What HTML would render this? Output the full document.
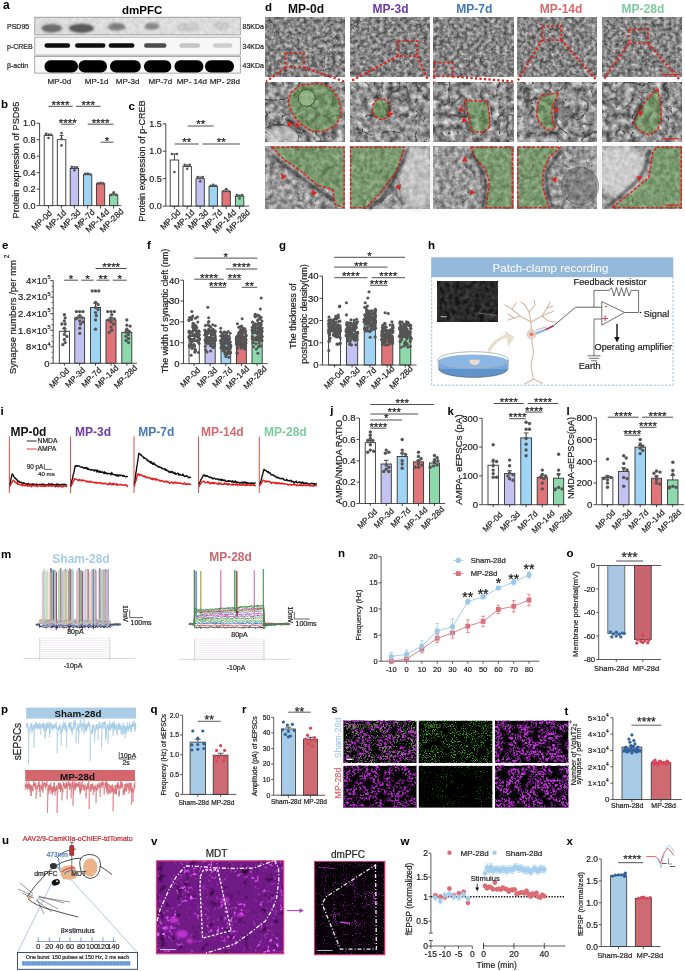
<!DOCTYPE html>
<html><head><meta charset="utf-8"><style>
html,body{margin:0;padding:0;background:#fff;}
svg{display:block;font-family:"Liberation Sans", sans-serif;filter:blur(0.35px);}
</style></head><body>
<svg width="685" height="971" viewBox="0 0 685 971">
<defs>
<filter id="blur05" x="-50%" y="-50%" width="200%" height="200%"><feGaussianBlur stdDeviation="0.5"/></filter>
<filter id="blur1" x="-50%" y="-50%" width="200%" height="200%"><feGaussianBlur stdDeviation="1.2"/></filter>
<filter id="blur2" x="-50%" y="-50%" width="200%" height="200%"><feGaussianBlur stdDeviation="3"/></filter>
<filter id="em10" x="0" y="0" width="100%" height="100%" color-interpolation-filters="sRGB"><feTurbulence type="fractalNoise" baseFrequency="0.25" numOctaves="4" seed="11" result="a"/><feColorMatrix in="a" type="matrix" values="0.8 0 0 0 0.130 0.8 0 0 0 0.130 0.8 0 0 0 0.130 0 0 0 0 1" result="base"/><feTurbulence type="turbulence" baseFrequency="0.12" numOctaves="2" seed="61" result="t"/><feColorMatrix in="t" type="matrix" values="0 0 0 0 0.25 0 0 0 0 0.25 0 0 0 0 0.25 -7 0 0 0 0.7" result="lines"/><feComposite in="lines" in2="base" operator="over"/></filter>
<filter id="em20" x="0" y="0" width="100%" height="100%" color-interpolation-filters="sRGB"><feTurbulence type="fractalNoise" baseFrequency="0.16" numOctaves="4" seed="21" result="a"/><feColorMatrix in="a" type="matrix" values="0.9 0 0 0 0.120 0.9 0 0 0 0.120 0.9 0 0 0 0.120 0 0 0 0 1" result="base"/><feTurbulence type="turbulence" baseFrequency="0.06" numOctaves="2" seed="71" result="t"/><feColorMatrix in="t" type="matrix" values="0 0 0 0 0.22 0 0 0 0 0.22 0 0 0 0 0.22 -8 0 0 0 0.9" result="lines"/><feComposite in="lines" in2="base" operator="over"/></filter>
<filter id="em30" x="0" y="0" width="100%" height="100%" color-interpolation-filters="sRGB"><feTurbulence type="fractalNoise" baseFrequency="0.2" numOctaves="4" seed="31" result="a"/><feColorMatrix in="a" type="matrix" values="0.7 0 0 0 0.250 0.7 0 0 0 0.250 0.7 0 0 0 0.250 0 0 0 0 1" result="base"/><feTurbulence type="turbulence" baseFrequency="0.03" numOctaves="2" seed="81" result="t"/><feColorMatrix in="t" type="matrix" values="0 0 0 0 0.2 0 0 0 0 0.2 0 0 0 0 0.2 -6 0 0 0 0.5" result="lines"/><feComposite in="lines" in2="base" operator="over"/></filter>
<filter id="em11" x="0" y="0" width="100%" height="100%" color-interpolation-filters="sRGB"><feTurbulence type="fractalNoise" baseFrequency="0.25" numOctaves="4" seed="12" result="a"/><feColorMatrix in="a" type="matrix" values="0.8 0 0 0 0.130 0.8 0 0 0 0.130 0.8 0 0 0 0.130 0 0 0 0 1" result="base"/><feTurbulence type="turbulence" baseFrequency="0.12" numOctaves="2" seed="62" result="t"/><feColorMatrix in="t" type="matrix" values="0 0 0 0 0.25 0 0 0 0 0.25 0 0 0 0 0.25 -7 0 0 0 0.7" result="lines"/><feComposite in="lines" in2="base" operator="over"/></filter>
<filter id="em21" x="0" y="0" width="100%" height="100%" color-interpolation-filters="sRGB"><feTurbulence type="fractalNoise" baseFrequency="0.16" numOctaves="4" seed="22" result="a"/><feColorMatrix in="a" type="matrix" values="0.9 0 0 0 0.120 0.9 0 0 0 0.120 0.9 0 0 0 0.120 0 0 0 0 1" result="base"/><feTurbulence type="turbulence" baseFrequency="0.06" numOctaves="2" seed="72" result="t"/><feColorMatrix in="t" type="matrix" values="0 0 0 0 0.22 0 0 0 0 0.22 0 0 0 0 0.22 -8 0 0 0 0.9" result="lines"/><feComposite in="lines" in2="base" operator="over"/></filter>
<filter id="em31" x="0" y="0" width="100%" height="100%" color-interpolation-filters="sRGB"><feTurbulence type="fractalNoise" baseFrequency="0.2" numOctaves="4" seed="32" result="a"/><feColorMatrix in="a" type="matrix" values="0.7 0 0 0 0.250 0.7 0 0 0 0.250 0.7 0 0 0 0.250 0 0 0 0 1" result="base"/><feTurbulence type="turbulence" baseFrequency="0.03" numOctaves="2" seed="82" result="t"/><feColorMatrix in="t" type="matrix" values="0 0 0 0 0.2 0 0 0 0 0.2 0 0 0 0 0.2 -6 0 0 0 0.5" result="lines"/><feComposite in="lines" in2="base" operator="over"/></filter>
<filter id="em12" x="0" y="0" width="100%" height="100%" color-interpolation-filters="sRGB"><feTurbulence type="fractalNoise" baseFrequency="0.25" numOctaves="4" seed="13" result="a"/><feColorMatrix in="a" type="matrix" values="0.8 0 0 0 0.130 0.8 0 0 0 0.130 0.8 0 0 0 0.130 0 0 0 0 1" result="base"/><feTurbulence type="turbulence" baseFrequency="0.12" numOctaves="2" seed="63" result="t"/><feColorMatrix in="t" type="matrix" values="0 0 0 0 0.25 0 0 0 0 0.25 0 0 0 0 0.25 -7 0 0 0 0.7" result="lines"/><feComposite in="lines" in2="base" operator="over"/></filter>
<filter id="em22" x="0" y="0" width="100%" height="100%" color-interpolation-filters="sRGB"><feTurbulence type="fractalNoise" baseFrequency="0.16" numOctaves="4" seed="23" result="a"/><feColorMatrix in="a" type="matrix" values="0.9 0 0 0 0.120 0.9 0 0 0 0.120 0.9 0 0 0 0.120 0 0 0 0 1" result="base"/><feTurbulence type="turbulence" baseFrequency="0.06" numOctaves="2" seed="73" result="t"/><feColorMatrix in="t" type="matrix" values="0 0 0 0 0.22 0 0 0 0 0.22 0 0 0 0 0.22 -8 0 0 0 0.9" result="lines"/><feComposite in="lines" in2="base" operator="over"/></filter>
<filter id="em32" x="0" y="0" width="100%" height="100%" color-interpolation-filters="sRGB"><feTurbulence type="fractalNoise" baseFrequency="0.2" numOctaves="4" seed="33" result="a"/><feColorMatrix in="a" type="matrix" values="0.7 0 0 0 0.250 0.7 0 0 0 0.250 0.7 0 0 0 0.250 0 0 0 0 1" result="base"/><feTurbulence type="turbulence" baseFrequency="0.03" numOctaves="2" seed="83" result="t"/><feColorMatrix in="t" type="matrix" values="0 0 0 0 0.2 0 0 0 0 0.2 0 0 0 0 0.2 -6 0 0 0 0.5" result="lines"/><feComposite in="lines" in2="base" operator="over"/></filter>
<filter id="em13" x="0" y="0" width="100%" height="100%" color-interpolation-filters="sRGB"><feTurbulence type="fractalNoise" baseFrequency="0.25" numOctaves="4" seed="14" result="a"/><feColorMatrix in="a" type="matrix" values="0.8 0 0 0 0.130 0.8 0 0 0 0.130 0.8 0 0 0 0.130 0 0 0 0 1" result="base"/><feTurbulence type="turbulence" baseFrequency="0.12" numOctaves="2" seed="64" result="t"/><feColorMatrix in="t" type="matrix" values="0 0 0 0 0.25 0 0 0 0 0.25 0 0 0 0 0.25 -7 0 0 0 0.7" result="lines"/><feComposite in="lines" in2="base" operator="over"/></filter>
<filter id="em23" x="0" y="0" width="100%" height="100%" color-interpolation-filters="sRGB"><feTurbulence type="fractalNoise" baseFrequency="0.16" numOctaves="4" seed="24" result="a"/><feColorMatrix in="a" type="matrix" values="0.9 0 0 0 0.120 0.9 0 0 0 0.120 0.9 0 0 0 0.120 0 0 0 0 1" result="base"/><feTurbulence type="turbulence" baseFrequency="0.06" numOctaves="2" seed="74" result="t"/><feColorMatrix in="t" type="matrix" values="0 0 0 0 0.22 0 0 0 0 0.22 0 0 0 0 0.22 -8 0 0 0 0.9" result="lines"/><feComposite in="lines" in2="base" operator="over"/></filter>
<filter id="em33" x="0" y="0" width="100%" height="100%" color-interpolation-filters="sRGB"><feTurbulence type="fractalNoise" baseFrequency="0.2" numOctaves="4" seed="34" result="a"/><feColorMatrix in="a" type="matrix" values="0.7 0 0 0 0.250 0.7 0 0 0 0.250 0.7 0 0 0 0.250 0 0 0 0 1" result="base"/><feTurbulence type="turbulence" baseFrequency="0.03" numOctaves="2" seed="84" result="t"/><feColorMatrix in="t" type="matrix" values="0 0 0 0 0.2 0 0 0 0 0.2 0 0 0 0 0.2 -6 0 0 0 0.5" result="lines"/><feComposite in="lines" in2="base" operator="over"/></filter>
<filter id="em14" x="0" y="0" width="100%" height="100%" color-interpolation-filters="sRGB"><feTurbulence type="fractalNoise" baseFrequency="0.25" numOctaves="4" seed="15" result="a"/><feColorMatrix in="a" type="matrix" values="0.8 0 0 0 0.130 0.8 0 0 0 0.130 0.8 0 0 0 0.130 0 0 0 0 1" result="base"/><feTurbulence type="turbulence" baseFrequency="0.12" numOctaves="2" seed="65" result="t"/><feColorMatrix in="t" type="matrix" values="0 0 0 0 0.25 0 0 0 0 0.25 0 0 0 0 0.25 -7 0 0 0 0.7" result="lines"/><feComposite in="lines" in2="base" operator="over"/></filter>
<filter id="em24" x="0" y="0" width="100%" height="100%" color-interpolation-filters="sRGB"><feTurbulence type="fractalNoise" baseFrequency="0.16" numOctaves="4" seed="25" result="a"/><feColorMatrix in="a" type="matrix" values="0.9 0 0 0 0.120 0.9 0 0 0 0.120 0.9 0 0 0 0.120 0 0 0 0 1" result="base"/><feTurbulence type="turbulence" baseFrequency="0.06" numOctaves="2" seed="75" result="t"/><feColorMatrix in="t" type="matrix" values="0 0 0 0 0.22 0 0 0 0 0.22 0 0 0 0 0.22 -8 0 0 0 0.9" result="lines"/><feComposite in="lines" in2="base" operator="over"/></filter>
<filter id="em34" x="0" y="0" width="100%" height="100%" color-interpolation-filters="sRGB"><feTurbulence type="fractalNoise" baseFrequency="0.2" numOctaves="4" seed="35" result="a"/><feColorMatrix in="a" type="matrix" values="0.7 0 0 0 0.250 0.7 0 0 0 0.250 0.7 0 0 0 0.250 0 0 0 0 1" result="base"/><feTurbulence type="turbulence" baseFrequency="0.03" numOctaves="2" seed="85" result="t"/><feColorMatrix in="t" type="matrix" values="0 0 0 0 0.2 0 0 0 0 0.2 0 0 0 0 0.2 -6 0 0 0 0.5" result="lines"/><feComposite in="lines" in2="base" operator="over"/></filter>
<filter id="darkimg" x="0" y="0" width="100%" height="100%" color-interpolation-filters="sRGB"><feTurbulence type="fractalNoise" baseFrequency="0.2" numOctaves="3" seed="4"/><feColorMatrix type="matrix" values="0.32 0 0 0 0.0 0.32 0 0 0 0.0 0.32 0 0 0 0.0 0 0 0 0 1"/></filter>
<filter id="fmag1" x="0" y="0" width="100%" height="100%" color-interpolation-filters="sRGB"><feTurbulence type="fractalNoise" baseFrequency="0.45" numOctaves="2" seed="51" result="fine"/><feTurbulence type="fractalNoise" baseFrequency="0.1" numOctaves="2" seed="151" result="coarse"/><feColorMatrix in="fine" type="matrix" values="0 0 0 0 0.72 0 0 0 0 0.2 0 0 0 0 0.8 5 0 0 0 -2.100" result="fa"/><feColorMatrix in="coarse" type="matrix" values="0 0 0 0 0 0 0 0 0 0 0 0 0 0 0 5 0 0 0 -1.650" result="ca"/><feComposite in="fa" in2="ca" operator="in"/></filter>
<filter id="fmag2" x="0" y="0" width="100%" height="100%" color-interpolation-filters="sRGB"><feTurbulence type="fractalNoise" baseFrequency="0.45" numOctaves="2" seed="52" result="fine"/><feTurbulence type="fractalNoise" baseFrequency="0.1" numOctaves="2" seed="152" result="coarse"/><feColorMatrix in="fine" type="matrix" values="0 0 0 0 0.75 0 0 0 0 0.2 0 0 0 0 0.84 5 0 0 0 -2.050" result="fa"/><feColorMatrix in="coarse" type="matrix" values="0 0 0 0 0 0 0 0 0 0 0 0 0 0 0 5 0 0 0 -1.650" result="ca"/><feComposite in="fa" in2="ca" operator="in"/></filter>
<filter id="fmag3" x="0" y="0" width="100%" height="100%" color-interpolation-filters="sRGB"><feTurbulence type="fractalNoise" baseFrequency="0.45" numOctaves="2" seed="53" result="fine"/><feTurbulence type="fractalNoise" baseFrequency="0.1" numOctaves="2" seed="153" result="coarse"/><feColorMatrix in="fine" type="matrix" values="0 0 0 0 0.7 0 0 0 0 0.16 0 0 0 0 0.78 5 0 0 0 -2.150" result="fa"/><feColorMatrix in="coarse" type="matrix" values="0 0 0 0 0 0 0 0 0 0 0 0 0 0 0 5 0 0 0 -1.700" result="ca"/><feComposite in="fa" in2="ca" operator="in"/></filter>
<filter id="fmag4" x="0" y="0" width="100%" height="100%" color-interpolation-filters="sRGB"><feTurbulence type="fractalNoise" baseFrequency="0.45" numOctaves="2" seed="54" result="fine"/><feTurbulence type="fractalNoise" baseFrequency="0.1" numOctaves="2" seed="154" result="coarse"/><feColorMatrix in="fine" type="matrix" values="0 0 0 0 0.75 0 0 0 0 0.2 0 0 0 0 0.84 5 0 0 0 -2.050" result="fa"/><feColorMatrix in="coarse" type="matrix" values="0 0 0 0 0 0 0 0 0 0 0 0 0 0 0 5 0 0 0 -1.650" result="ca"/><feComposite in="fa" in2="ca" operator="in"/></filter>
<filter id="fgrn1" x="0" y="0" width="100%" height="100%" color-interpolation-filters="sRGB"><feTurbulence type="fractalNoise" baseFrequency="0.9" numOctaves="2" seed="55" result="fine"/><feTurbulence type="fractalNoise" baseFrequency="0.1" numOctaves="2" seed="155" result="coarse"/><feColorMatrix in="fine" type="matrix" values="0 0 0 0 0.25 0 0 0 0 0.72 0 0 0 0 0.1 5 0 0 0 -2.600" result="fa"/><feColorMatrix in="coarse" type="matrix" values="0 0 0 0 0 0 0 0 0 0 0 0 0 0 0 5 0 0 0 -1.400" result="ca"/><feComposite in="fa" in2="ca" operator="in"/></filter>
<filter id="fgrn2" x="0" y="0" width="100%" height="100%" color-interpolation-filters="sRGB"><feTurbulence type="fractalNoise" baseFrequency="0.8" numOctaves="2" seed="56" result="fine"/><feTurbulence type="fractalNoise" baseFrequency="0.08" numOctaves="2" seed="156" result="coarse"/><feColorMatrix in="fine" type="matrix" values="0 0 0 0 0.15 0 0 0 0 0.55 0 0 0 0 0.1 5 0 0 0 -3.000" result="fa"/><feColorMatrix in="coarse" type="matrix" values="0 0 0 0 0 0 0 0 0 0 0 0 0 0 0 5 0 0 0 -2.000" result="ca"/><feComposite in="fa" in2="ca" operator="in"/></filter>
<filter id="purp" x="0" y="0" width="100%" height="100%" color-interpolation-filters="sRGB"><feTurbulence type="fractalNoise" baseFrequency="0.12" numOctaves="3" seed="61" result="n"/><feColorMatrix in="n" type="matrix" values="0 0 0 0 0.12 0 0 0 0 0.0 0 0 0 0 0.14 -3 0 0 0 1.18"/></filter>
<filter id="pfc" x="0" y="0" width="100%" height="100%" color-interpolation-filters="sRGB"><feTurbulence type="fractalNoise" baseFrequency="0.9" numOctaves="1" seed="62" result="n"/><feColorMatrix in="n" type="matrix" values="0 0 0 0 0.7 0 0 0 0 0.1 0 0 0 0 0.75 6 0 0 0 -3.7"/></filter>
<filter id="blotn" x="0" y="0" width="100%" height="100%" color-interpolation-filters="sRGB"><feTurbulence type="fractalNoise" baseFrequency="0.25" numOctaves="2" seed="71" result="n"/><feColorMatrix in="n" type="matrix" values="0 0 0 0 0 0 0 0 0 0 0 0 0 0 0 2 0 0 0 -0.6"/></filter>
<filter id="vspot" x="0" y="0" width="100%" height="100%" color-interpolation-filters="sRGB"><feTurbulence type="fractalNoise" baseFrequency="0.3" numOctaves="2" seed="81" result="fine"/><feTurbulence type="fractalNoise" baseFrequency="0.05" numOctaves="2" seed="181" result="coarse"/><feColorMatrix in="fine" type="matrix" values="0 0 0 0 0.9 0 0 0 0 0.35 0 0 0 0 1.0 6 0 0 0 -3.360" result="fa"/><feColorMatrix in="coarse" type="matrix" values="0 0 0 0 0 0 0 0 0 0 0 0 0 0 0 4 0 0 0 -1.600" result="ca"/><feComposite in="fa" in2="ca" operator="in"/></filter>
<filter id="pfc2" x="0" y="0" width="100%" height="100%" color-interpolation-filters="sRGB"><feTurbulence type="fractalNoise" baseFrequency="0.9" numOctaves="1" seed="82" result="fine"/><feTurbulence type="fractalNoise" baseFrequency="0.05" numOctaves="2" seed="182" result="coarse"/><feColorMatrix in="fine" type="matrix" values="0 0 0 0 0.75 0 0 0 0 0.15 0 0 0 0 0.8 6 0 0 0 -3.300" result="fa"/><feColorMatrix in="coarse" type="matrix" values="0 0 0 0 0 0 0 0 0 0 0 0 0 0 0 6 0 0 0 -3.000" result="ca"/><feComposite in="fa" in2="ca" operator="in"/></filter>
<filter id="fgrnm" x="0" y="0" width="100%" height="100%" color-interpolation-filters="sRGB"><feTurbulence type="fractalNoise" baseFrequency="0.8" numOctaves="2" seed="57" result="fine"/><feTurbulence type="fractalNoise" baseFrequency="0.1" numOctaves="2" seed="157" result="coarse"/><feColorMatrix in="fine" type="matrix" values="0 0 0 0 0.3 0 0 0 0 0.8 0 0 0 0 0.15 6 0 0 0 -3.480" result="fa"/><feColorMatrix in="coarse" type="matrix" values="0 0 0 0 0 0 0 0 0 0 0 0 0 0 0 5 0 0 0 -1.500" result="ca"/><feComposite in="fa" in2="ca" operator="in"/></filter>
</defs>
<rect width="685" height="971" fill="#fff"/>
<text x="3.00" y="9.30" font-size="12" text-anchor="start" font-weight="bold" fill="#000">a</text>
<text x="142.20" y="14.00" font-size="11.5" text-anchor="middle" font-weight="bold" fill="#000">dmPFC</text>
<rect x="34.80" y="17.20" width="205.50" height="17.70" fill="#e4e4e4" stroke="#888" stroke-width="0.7"/>
<rect x="34.80" y="37.10" width="205.50" height="18.00" fill="#f7f7f7" stroke="#888" stroke-width="0.7"/>
<rect x="34.80" y="56.40" width="205.50" height="16.70" fill="#f9f9f9" stroke="#888" stroke-width="0.7"/>
<rect x="35.2" y="17.6" width="204.7" height="16.9" fill="#000" opacity="0.08" filter="url(#blotn)"/>
<ellipse cx="51.7" cy="28.3" rx="10.5" ry="4.2" fill="#222" opacity="0.6" filter="url(#blur1)"/>
<ellipse cx="81.3" cy="28.3" rx="12.5" ry="4.6" fill="#222" opacity="0.7" filter="url(#blur1)"/>
<ellipse cx="116.5" cy="26.9" rx="9" ry="3.8" fill="#222" opacity="0.5" filter="url(#blur1)"/>
<ellipse cx="152" cy="26.3" rx="7.5" ry="3.5" fill="#222" opacity="0.45" filter="url(#blur1)"/>
<ellipse cx="188" cy="27" rx="11" ry="4.5" fill="#222" opacity="0.1" filter="url(#blur1)"/>
<ellipse cx="222" cy="25.5" rx="9" ry="4.5" fill="#222" opacity="0.1" filter="url(#blur1)"/>
<rect x="44.5" y="43.2" width="25.6" height="4.6" rx="2.3" fill="#0a0a0a" opacity="1.0" filter="url(#blur05)"/>
<rect x="75" y="43.2" width="30.5" height="4.6" rx="2.3" fill="#111" opacity="1.0" filter="url(#blur05)"/>
<rect x="108.7" y="43.2" width="25.7" height="4.6" rx="2.3" fill="#0a0a0a" opacity="1.0" filter="url(#blur05)"/>
<rect x="144" y="43.2" width="22.5" height="4.6" rx="2.3" fill="#222" opacity="0.8" filter="url(#blur05)"/>
<rect x="179.3" y="43.2" width="20.9" height="4.6" rx="2.3" fill="#555" opacity="0.3" filter="url(#blur05)"/>
<rect x="213" y="43.2" width="19.3" height="4.6" rx="2.3" fill="#555" opacity="0.25" filter="url(#blur05)"/>
<rect x="44.5" y="60.3" width="33.5" height="12.3" rx="6" fill="#050505" filter="url(#blur05)"/>
<rect x="78.5" y="60.3" width="28.5" height="12.3" rx="6" fill="#050505" filter="url(#blur05)"/>
<rect x="110" y="60.3" width="30.8" height="12.3" rx="6" fill="#050505" filter="url(#blur05)"/>
<rect x="144" y="60.3" width="27.3" height="12.3" rx="6" fill="#050505" filter="url(#blur05)"/>
<rect x="174.5" y="60.3" width="28.9" height="12.3" rx="6" fill="#050505" filter="url(#blur05)"/>
<rect x="205" y="60.3" width="29.0" height="12.3" rx="6" fill="#050505" filter="url(#blur05)"/>
<text x="7.00" y="29.40" font-size="7" text-anchor="start" fill="#222" stroke="#222" stroke-width="0.2">PSD95</text>
<text x="7.00" y="48.60" font-size="7" text-anchor="start" fill="#222" stroke="#222" stroke-width="0.2">p-CREB</text>
<text x="7.00" y="67.60" font-size="7" text-anchor="start" fill="#222" stroke="#222" stroke-width="0.2">β-actin</text>
<text x="242.50" y="29.40" font-size="7" text-anchor="start" fill="#222" stroke="#222" stroke-width="0.2">85KDa</text>
<text x="242.50" y="48.60" font-size="7" text-anchor="start" fill="#222" stroke="#222" stroke-width="0.2">34KDa</text>
<text x="242.50" y="67.60" font-size="7" text-anchor="start" fill="#222" stroke="#222" stroke-width="0.2">43KDa</text>
<text x="59.40" y="83.70" font-size="8" text-anchor="middle" fill="#222" stroke="#222" stroke-width="0.2">MP-0d</text>
<text x="96.60" y="83.70" font-size="8" text-anchor="middle" fill="#222" stroke="#222" stroke-width="0.2">MP-1d</text>
<text x="127.60" y="83.70" font-size="8" text-anchor="middle" fill="#222" stroke="#222" stroke-width="0.2">MP-3d</text>
<text x="160.40" y="83.70" font-size="8" text-anchor="middle" fill="#222" stroke="#222" stroke-width="0.2">MP-7d</text>
<text x="191.80" y="83.70" font-size="8" text-anchor="middle" fill="#222" stroke="#222" stroke-width="0.2">MP- 14d</text>
<text x="224.80" y="83.70" font-size="8" text-anchor="middle" fill="#222" stroke="#222" stroke-width="0.2">MP- 28d</text>
<text x="1.00" y="108.00" font-size="11.5" text-anchor="start" font-weight="bold" fill="#000">b</text>
<rect x="44.20" y="135.56" width="8.60" height="70.04" fill="#ffffff" stroke="#333" stroke-width="0.9"/>
<line x1="48.50" y1="135.56" x2="48.50" y2="133.91" stroke="#333" stroke-width="0.9"/>
<line x1="46.61" y1="133.91" x2="50.39" y2="133.91" stroke="#333" stroke-width="0.9"/>
<circle cx="45.9" cy="133.9" r="1.30" fill="#555"/>
<circle cx="51.1" cy="134.7" r="1.30" fill="#555"/>
<circle cx="48.5" cy="138.0" r="1.30" fill="#555"/>
<rect x="57.30" y="139.68" width="8.50" height="65.92" fill="#ffffff" stroke="#333" stroke-width="0.9"/>
<line x1="61.55" y1="139.68" x2="61.55" y2="135.56" stroke="#333" stroke-width="0.9"/>
<line x1="59.68" y1="135.56" x2="63.42" y2="135.56" stroke="#333" stroke-width="0.9"/>
<circle cx="61.5" cy="133.1" r="1.30" fill="#555"/>
<circle cx="61.5" cy="138.9" r="1.30" fill="#555"/>
<circle cx="61.5" cy="145.4" r="1.30" fill="#555"/>
<rect x="70.20" y="168.52" width="8.40" height="37.08" fill="#c4c2f0" stroke="#333" stroke-width="0.9"/>
<line x1="74.40" y1="168.52" x2="74.40" y2="166.87" stroke="#333" stroke-width="0.9"/>
<line x1="72.55" y1="166.87" x2="76.25" y2="166.87" stroke="#333" stroke-width="0.9"/>
<circle cx="71.8" cy="166.9" r="1.30" fill="#555"/>
<circle cx="77.0" cy="167.3" r="1.30" fill="#555"/>
<circle cx="74.4" cy="170.2" r="1.30" fill="#555"/>
<rect x="83.50" y="174.70" width="8.30" height="30.90" fill="#9fd4f4" stroke="#333" stroke-width="0.9"/>
<line x1="87.65" y1="174.70" x2="87.65" y2="173.88" stroke="#333" stroke-width="0.9"/>
<line x1="85.82" y1="173.88" x2="89.48" y2="173.88" stroke="#333" stroke-width="0.9"/>
<circle cx="85.1" cy="173.9" r="1.30" fill="#555"/>
<circle cx="90.2" cy="174.3" r="1.30" fill="#555"/>
<circle cx="87.7" cy="173.5" r="1.30" fill="#555"/>
<rect x="96.40" y="183.76" width="8.30" height="21.84" fill="#e07478" stroke="#333" stroke-width="0.9"/>
<line x1="100.55" y1="183.76" x2="100.55" y2="183.35" stroke="#333" stroke-width="0.9"/>
<line x1="98.72" y1="183.35" x2="102.38" y2="183.35" stroke="#333" stroke-width="0.9"/>
<circle cx="98.0" cy="183.4" r="1.30" fill="#555"/>
<circle cx="103.2" cy="183.4" r="1.30" fill="#555"/>
<circle cx="100.6" cy="182.9" r="1.30" fill="#555"/>
<rect x="109.50" y="194.89" width="8.30" height="10.71" fill="#8ed9ac" stroke="#333" stroke-width="0.9"/>
<line x1="113.65" y1="194.89" x2="113.65" y2="193.24" stroke="#333" stroke-width="0.9"/>
<line x1="111.82" y1="193.24" x2="115.48" y2="193.24" stroke="#333" stroke-width="0.9"/>
<circle cx="111.1" cy="194.9" r="1.30" fill="#555"/>
<circle cx="116.2" cy="194.9" r="1.30" fill="#555"/>
<circle cx="113.7" cy="192.4" r="1.30" fill="#555"/>
<line x1="39.60" y1="205.60" x2="39.60" y2="123.20" stroke="#333" stroke-width="0.9"/>
<line x1="36.60" y1="205.60" x2="39.60" y2="205.60" stroke="#333" stroke-width="0.9"/>
<text x="35.60" y="208.80" font-size="9" text-anchor="end" fill="#222" stroke="#222" stroke-width="0.2">0.0</text>
<line x1="36.60" y1="189.12" x2="39.60" y2="189.12" stroke="#333" stroke-width="0.9"/>
<text x="35.60" y="192.32" font-size="9" text-anchor="end" fill="#222" stroke="#222" stroke-width="0.2">0.2</text>
<line x1="36.60" y1="172.64" x2="39.60" y2="172.64" stroke="#333" stroke-width="0.9"/>
<text x="35.60" y="175.84" font-size="9" text-anchor="end" fill="#222" stroke="#222" stroke-width="0.2">0.4</text>
<line x1="36.60" y1="156.16" x2="39.60" y2="156.16" stroke="#333" stroke-width="0.9"/>
<text x="35.60" y="159.36" font-size="9" text-anchor="end" fill="#222" stroke="#222" stroke-width="0.2">0.6</text>
<line x1="36.60" y1="139.68" x2="39.60" y2="139.68" stroke="#333" stroke-width="0.9"/>
<text x="35.60" y="142.88" font-size="9" text-anchor="end" fill="#222" stroke="#222" stroke-width="0.2">0.8</text>
<line x1="36.60" y1="123.20" x2="39.60" y2="123.20" stroke="#333" stroke-width="0.9"/>
<text x="35.60" y="126.40" font-size="9" text-anchor="end" fill="#222" stroke="#222" stroke-width="0.2">1.0</text>
<line x1="39.60" y1="205.60" x2="121.40" y2="205.60" stroke="#444" stroke-width="0.9"/>
<line x1="48.50" y1="205.60" x2="48.50" y2="208.60" stroke="#333" stroke-width="0.9"/>
<line x1="61.55" y1="205.60" x2="61.55" y2="208.60" stroke="#333" stroke-width="0.9"/>
<line x1="74.40" y1="205.60" x2="74.40" y2="208.60" stroke="#333" stroke-width="0.9"/>
<line x1="87.65" y1="205.60" x2="87.65" y2="208.60" stroke="#333" stroke-width="0.9"/>
<line x1="100.55" y1="205.60" x2="100.55" y2="208.60" stroke="#333" stroke-width="0.9"/>
<line x1="113.65" y1="205.60" x2="113.65" y2="208.60" stroke="#333" stroke-width="0.9"/>
<text x="52.50" y="213.60" font-size="8.4" text-anchor="end" fill="#222" stroke="#222" stroke-width="0.2" transform="rotate(-45 52.50 213.60)">MP-0d</text>
<text x="66.80" y="213.28" font-size="8.4" text-anchor="end" fill="#222" stroke="#222" stroke-width="0.2" transform="rotate(-45 66.80 213.28)">MP-1d</text>
<text x="81.10" y="212.96" font-size="8.4" text-anchor="end" fill="#222" stroke="#222" stroke-width="0.2" transform="rotate(-45 81.10 212.96)">MP-3d</text>
<text x="95.40" y="212.64" font-size="8.4" text-anchor="end" fill="#222" stroke="#222" stroke-width="0.2" transform="rotate(-45 95.40 212.64)">MP-7d</text>
<text x="109.70" y="212.32" font-size="8.4" text-anchor="end" fill="#222" stroke="#222" stroke-width="0.2" transform="rotate(-45 109.70 212.32)">MP-14d</text>
<text x="124.00" y="212.00" font-size="8.4" text-anchor="end" fill="#222" stroke="#222" stroke-width="0.2" transform="rotate(-45 124.00 212.00)">MP-28d</text>
<text x="18.50" y="160.00" font-size="9.1" text-anchor="middle" fill="#222" stroke="#222" stroke-width="0.2" transform="rotate(-90 18.50 160.00)">Protein expression of PSD95</text>
<line x1="48.40" y1="106.30" x2="72.70" y2="106.30" stroke="#222" stroke-width="0.8"/>
<text x="60.55" y="108.78" font-size="11.5" text-anchor="middle" fill="#222" stroke="#222" stroke-width="0.2">****</text>
<line x1="75.90" y1="106.30" x2="100.60" y2="106.30" stroke="#222" stroke-width="0.8"/>
<text x="88.25" y="108.78" font-size="11.5" text-anchor="middle" fill="#222" stroke="#222" stroke-width="0.2">***</text>
<line x1="61.00" y1="124.20" x2="74.40" y2="124.20" stroke="#222" stroke-width="0.8"/>
<text x="67.70" y="126.68" font-size="11.5" text-anchor="middle" fill="#222" stroke="#222" stroke-width="0.2">****</text>
<line x1="87.70" y1="124.20" x2="113.50" y2="124.20" stroke="#222" stroke-width="0.8"/>
<text x="100.60" y="126.68" font-size="11.5" text-anchor="middle" fill="#222" stroke="#222" stroke-width="0.2">****</text>
<line x1="100.60" y1="142.20" x2="113.50" y2="142.20" stroke="#222" stroke-width="0.8"/>
<text x="107.05" y="144.68" font-size="11.5" text-anchor="middle" fill="#222" stroke="#222" stroke-width="0.2">*</text>
<text x="128.50" y="110.00" font-size="11.5" text-anchor="start" font-weight="bold" fill="#000">c</text>
<rect x="170.20" y="160.01" width="8.50" height="46.09" fill="#ffffff" stroke="#333" stroke-width="0.9"/>
<line x1="174.45" y1="160.01" x2="174.45" y2="153.98" stroke="#333" stroke-width="0.9"/>
<line x1="172.58" y1="153.98" x2="176.32" y2="153.98" stroke="#333" stroke-width="0.9"/>
<circle cx="171.9" cy="154.0" r="1.30" fill="#555"/>
<circle cx="176.9" cy="154.0" r="1.30" fill="#555"/>
<circle cx="174.4" cy="172.1" r="1.30" fill="#555"/>
<rect x="183.00" y="166.60" width="8.40" height="39.50" fill="#ffffff" stroke="#333" stroke-width="0.9"/>
<line x1="187.20" y1="166.60" x2="187.20" y2="164.95" stroke="#333" stroke-width="0.9"/>
<line x1="185.35" y1="164.95" x2="189.05" y2="164.95" stroke="#333" stroke-width="0.9"/>
<circle cx="184.6" cy="164.9" r="1.30" fill="#555"/>
<circle cx="189.8" cy="164.9" r="1.30" fill="#555"/>
<circle cx="187.2" cy="168.8" r="1.30" fill="#555"/>
<rect x="196.00" y="178.67" width="8.30" height="27.43" fill="#c4c2f0" stroke="#333" stroke-width="0.9"/>
<line x1="200.15" y1="178.67" x2="200.15" y2="177.02" stroke="#333" stroke-width="0.9"/>
<line x1="198.32" y1="177.02" x2="201.98" y2="177.02" stroke="#333" stroke-width="0.9"/>
<circle cx="197.6" cy="177.0" r="1.30" fill="#555"/>
<circle cx="202.8" cy="177.0" r="1.30" fill="#555"/>
<circle cx="200.2" cy="181.4" r="1.30" fill="#555"/>
<rect x="209.00" y="186.35" width="8.40" height="19.75" fill="#9fd4f4" stroke="#333" stroke-width="0.9"/>
<line x1="213.20" y1="186.35" x2="213.20" y2="185.80" stroke="#333" stroke-width="0.9"/>
<line x1="211.35" y1="185.80" x2="215.05" y2="185.80" stroke="#333" stroke-width="0.9"/>
<circle cx="210.6" cy="185.8" r="1.30" fill="#555"/>
<circle cx="215.8" cy="185.8" r="1.30" fill="#555"/>
<circle cx="213.2" cy="184.7" r="1.30" fill="#555"/>
<rect x="222.00" y="191.29" width="8.30" height="14.81" fill="#e07478" stroke="#333" stroke-width="0.9"/>
<line x1="226.15" y1="191.29" x2="226.15" y2="189.64" stroke="#333" stroke-width="0.9"/>
<line x1="224.32" y1="189.64" x2="227.98" y2="189.64" stroke="#333" stroke-width="0.9"/>
<circle cx="223.6" cy="191.3" r="1.30" fill="#555"/>
<circle cx="228.8" cy="191.3" r="1.30" fill="#555"/>
<circle cx="226.2" cy="189.1" r="1.30" fill="#555"/>
<rect x="235.40" y="196.22" width="8.40" height="9.88" fill="#8ed9ac" stroke="#333" stroke-width="0.9"/>
<line x1="239.60" y1="196.22" x2="239.60" y2="195.13" stroke="#333" stroke-width="0.9"/>
<line x1="237.75" y1="195.13" x2="241.45" y2="195.13" stroke="#333" stroke-width="0.9"/>
<circle cx="237.0" cy="195.1" r="1.30" fill="#555"/>
<circle cx="242.2" cy="195.1" r="1.30" fill="#555"/>
<circle cx="239.6" cy="198.4" r="1.30" fill="#555"/>
<line x1="165.80" y1="206.10" x2="165.80" y2="123.80" stroke="#333" stroke-width="0.9"/>
<line x1="162.80" y1="206.10" x2="165.80" y2="206.10" stroke="#333" stroke-width="0.9"/>
<text x="161.80" y="209.30" font-size="9" text-anchor="end" fill="#222" stroke="#222" stroke-width="0.2">0.0</text>
<line x1="162.80" y1="178.67" x2="165.80" y2="178.67" stroke="#333" stroke-width="0.9"/>
<text x="161.80" y="181.87" font-size="9" text-anchor="end" fill="#222" stroke="#222" stroke-width="0.2">0.5</text>
<line x1="162.80" y1="151.23" x2="165.80" y2="151.23" stroke="#333" stroke-width="0.9"/>
<text x="161.80" y="154.43" font-size="9" text-anchor="end" fill="#222" stroke="#222" stroke-width="0.2">1.0</text>
<line x1="162.80" y1="123.80" x2="165.80" y2="123.80" stroke="#333" stroke-width="0.9"/>
<text x="161.80" y="127.00" font-size="9" text-anchor="end" fill="#222" stroke="#222" stroke-width="0.2">1.5</text>
<line x1="165.80" y1="206.10" x2="249.30" y2="206.10" stroke="#444" stroke-width="0.9"/>
<line x1="174.45" y1="206.10" x2="174.45" y2="209.10" stroke="#333" stroke-width="0.9"/>
<line x1="187.20" y1="206.10" x2="187.20" y2="209.10" stroke="#333" stroke-width="0.9"/>
<line x1="200.15" y1="206.10" x2="200.15" y2="209.10" stroke="#333" stroke-width="0.9"/>
<line x1="213.20" y1="206.10" x2="213.20" y2="209.10" stroke="#333" stroke-width="0.9"/>
<line x1="226.15" y1="206.10" x2="226.15" y2="209.10" stroke="#333" stroke-width="0.9"/>
<line x1="239.60" y1="206.10" x2="239.60" y2="209.10" stroke="#333" stroke-width="0.9"/>
<text x="181.10" y="212.90" font-size="8.4" text-anchor="end" fill="#222" stroke="#222" stroke-width="0.2" transform="rotate(-45 181.10 212.90)">MP-0d</text>
<text x="195.00" y="212.90" font-size="8.4" text-anchor="end" fill="#222" stroke="#222" stroke-width="0.2" transform="rotate(-45 195.00 212.90)">MP-1d</text>
<text x="208.90" y="212.90" font-size="8.4" text-anchor="end" fill="#222" stroke="#222" stroke-width="0.2" transform="rotate(-45 208.90 212.90)">MP-3d</text>
<text x="222.80" y="212.90" font-size="8.4" text-anchor="end" fill="#222" stroke="#222" stroke-width="0.2" transform="rotate(-45 222.80 212.90)">MP-7d</text>
<text x="236.70" y="212.90" font-size="8.4" text-anchor="end" fill="#222" stroke="#222" stroke-width="0.2" transform="rotate(-45 236.70 212.90)">MP-14d</text>
<text x="250.60" y="212.90" font-size="8.4" text-anchor="end" fill="#222" stroke="#222" stroke-width="0.2" transform="rotate(-45 250.60 212.90)">MP-28d</text>
<text x="144.50" y="161.00" font-size="9.1" text-anchor="middle" fill="#222" stroke="#222" stroke-width="0.2" transform="rotate(-90 144.50 161.00)">Protein expression of p-CREB</text>
<line x1="187.60" y1="126.00" x2="213.80" y2="126.00" stroke="#222" stroke-width="0.8"/>
<text x="200.70" y="128.48" font-size="11.5" text-anchor="middle" fill="#222" stroke="#222" stroke-width="0.2">**</text>
<line x1="174.70" y1="144.00" x2="198.60" y2="144.00" stroke="#222" stroke-width="0.8"/>
<text x="186.65" y="146.48" font-size="11.5" text-anchor="middle" fill="#222" stroke="#222" stroke-width="0.2">**</text>
<line x1="202.40" y1="144.00" x2="240.00" y2="144.00" stroke="#222" stroke-width="0.8"/>
<text x="221.20" y="146.48" font-size="11.5" text-anchor="middle" fill="#222" stroke="#222" stroke-width="0.2">**</text>
<text x="265.00" y="11.00" font-size="11.5" text-anchor="start" font-weight="bold" fill="#000">d</text>
<text x="306.00" y="13.00" font-size="12" text-anchor="middle" font-weight="bold" fill="#111">MP-0d</text>
<text x="390.60" y="13.00" font-size="12" text-anchor="middle" font-weight="bold" fill="#6b3aa8">MP-3d</text>
<text x="474.35" y="13.00" font-size="12" text-anchor="middle" font-weight="bold" fill="#4479b5">MP-7d</text>
<text x="561.05" y="13.00" font-size="12" text-anchor="middle" font-weight="bold" fill="#d46a6e">MP-14d</text>
<text x="642.90" y="13.00" font-size="12" text-anchor="middle" font-weight="bold" fill="#7dcb9c">MP-28d</text>
<rect x="265" y="17.7" width="80.00" height="59.30" fill="#999" filter="url(#em10)"/>
<rect x="350" y="17.7" width="79.20" height="59.30" fill="#999" filter="url(#em11)"/>
<rect x="433.5" y="17.7" width="79.70" height="59.30" fill="#999" filter="url(#em12)"/>
<rect x="517.3" y="17.7" width="79.50" height="59.30" fill="#999" filter="url(#em13)"/>
<rect x="602" y="17.7" width="79.80" height="59.30" fill="#999" filter="url(#em14)"/>
<rect x="265" y="82.5" width="80.00" height="59.50" fill="#999" filter="url(#em20)"/>
<rect x="350" y="82.5" width="79.20" height="59.50" fill="#999" filter="url(#em21)"/>
<rect x="433.5" y="82.5" width="79.70" height="59.50" fill="#999" filter="url(#em22)"/>
<rect x="517.3" y="82.5" width="79.50" height="59.50" fill="#999" filter="url(#em23)"/>
<rect x="602" y="82.5" width="79.80" height="59.50" fill="#999" filter="url(#em24)"/>
<rect x="265" y="146" width="80.00" height="62.70" fill="#999" filter="url(#em30)"/>
<rect x="350" y="146" width="79.20" height="62.70" fill="#999" filter="url(#em31)"/>
<rect x="433.5" y="146" width="79.70" height="62.70" fill="#999" filter="url(#em32)"/>
<rect x="517.3" y="146" width="79.50" height="62.70" fill="#999" filter="url(#em33)"/>
<rect x="602" y="146" width="79.80" height="62.70" fill="#999" filter="url(#em34)"/>
<ellipse cx="281" cy="136" rx="16" ry="10" fill="#ddd" opacity="0.55" filter="url(#blur1)"/>
<path d="M266,128 Q280,120 296,130 Q300,136 298,142" fill="none" stroke="#333" stroke-width="0.9" opacity="0.7"/>
<ellipse cx="417" cy="178" rx="17" ry="34" fill="#e2e2e2" opacity="0.6" filter="url(#blur2)"/>
<ellipse cx="620" cy="170" rx="26" ry="26" fill="#e8e8e8" opacity="0.65" filter="url(#blur2)"/>
<circle cx="580" cy="186" r="18.6" fill="#666" opacity="0.45" stroke="#333" stroke-width="1"/>
<circle cx="564" cy="114" r="7.4" fill="#777" opacity="0.6" stroke="#444" stroke-width="0.6"/>
<ellipse cx="643" cy="88" rx="7" ry="5" fill="none" stroke="#444" stroke-width="0.8"/>
<path d="M290.5,92.9 299.2,85.4 319.1,83.0 331.5,87.9 339.0,100.3 341.4,112.7 336.5,125.2 324.0,131.4 311.6,131.4 299.2,122.7 291.8,112.7 288.1,102.8 Z" fill="#5e9a48" fill-opacity="0.5" stroke="#d9261f" stroke-width="1.5" stroke-dasharray="3.2 1.5"/>
<circle cx="306.7" cy="97.9" r="8.5" fill="#a8cc98" fill-opacity="0.5" stroke="#3c5a32" stroke-width="1"/>
<ellipse cx="381.1" cy="109" rx="8.7" ry="10.4" fill="#5e9a48" fill-opacity="0.5" stroke="#d9261f" stroke-width="1.5" stroke-dasharray="3.2 1.5"/>
<path d="M464.7,100.3 487.1,101.6 489.6,115.2 489.6,127.6 482.1,132.6 472.2,131.4 469.7,122.7 467.2,110.3 Z" fill="#5e9a48" fill-opacity="0.5" stroke="#d9261f" stroke-width="1.5" stroke-dasharray="3.2 1.5"/>
<path d="M541.7,95.4 559.1,92.9 554.1,102.8 551.6,110.3 552.9,121.4 555.3,128.9 546.7,130.1 539.2,122.7 536.7,115.2 538.0,102.8 Z" fill="#5e9a48" fill-opacity="0.5" stroke="#d9261f" stroke-width="1.5" stroke-dasharray="3.2 1.5"/>
<path d="M657.7,89.2 660.2,102.8 661.4,117.7 657.7,130.1 649.0,135.1 639.1,130.1 632.9,122.7 636.6,115.2 644.1,102.8 652.7,92.9 Z" fill="#5e9a48" fill-opacity="0.5" stroke="#d9261f" stroke-width="1.5" stroke-dasharray="3.2 1.5"/>
<path d="M271.9,147.3 344.1,147.3 344.1,207.8 335.2,204.6 332.7,189.7 316.6,184.7 299.2,169.8 284.3,159.9 Z" fill="#5e9a48" fill-opacity="0.5" stroke="#d9261f" stroke-width="1.5" stroke-dasharray="3.2 1.5"/>
<path d="M350.6,147.3 404.7,147.3 396.0,172.3 378.7,194.7 366.2,207.8 350.6,207.8 Z" fill="#5e9a48" fill-opacity="0.5" stroke="#d9261f" stroke-width="1.5" stroke-dasharray="3.2 1.5"/>
<path d="M471.0,147.3 512.4,147.3 512.4,207.8 485.8,207.8 489.6,182.2 485.8,169.8 474.7,157.4 Z" fill="#5e9a48" fill-opacity="0.5" stroke="#d9261f" stroke-width="1.5" stroke-dasharray="3.2 1.5"/>
<path d="M517.8,147.3 560.3,147.3 549.1,157.4 542.9,172.3 542.9,187.2 549.1,207.8 517.8,207.8 Z" fill="#5e9a48" fill-opacity="0.5" stroke="#d9261f" stroke-width="1.5" stroke-dasharray="3.2 1.5"/>
<path d="M656.5,147.3 681.3,147.3 681.3,207.8 611.8,207.8 634.1,189.7 649.0,177.3 652.7,152.5 Z" fill="#5e9a48" fill-opacity="0.5" stroke="#d9261f" stroke-width="1.5" stroke-dasharray="3.2 1.5"/>
<path d="M287,119 Q295,127 306,132" stroke="#1a1a1a" stroke-width="3.2" fill="none" opacity="0.55" filter="url(#blur1)"/>
<path d="M386.5,116 Q390,110 389.5,102" stroke="#1a1a1a" stroke-width="3.2" fill="none" opacity="0.55" filter="url(#blur1)"/>
<path d="M463.5,104 Q464.5,118 468.5,132" stroke="#1a1a1a" stroke-width="3.2" fill="none" opacity="0.55" filter="url(#blur1)"/>
<path d="M556.5,100 Q553.5,110 556.5,125" stroke="#1a1a1a" stroke-width="3.2" fill="none" opacity="0.55" filter="url(#blur1)"/>
<path d="M633.5,124 Q636.5,112 643.5,100" stroke="#1a1a1a" stroke-width="3.2" fill="none" opacity="0.55" filter="url(#blur1)"/>
<path d="M273,156 Q297,176 317,189 Q327,194 332,201" stroke="#1a1a1a" stroke-width="3.2" fill="none" opacity="0.55" filter="url(#blur1)"/>
<path d="M407.5,150 Q400,173 382,197 Q374,205 369,209" stroke="#1a1a1a" stroke-width="3.2" fill="none" opacity="0.55" filter="url(#blur1)"/>
<path d="M470.5,153 Q481.5,167 485.5,181 Q486.5,196 482.5,208" stroke="#1a1a1a" stroke-width="3.2" fill="none" opacity="0.55" filter="url(#blur1)"/>
<path d="M562.5,150 Q552.5,161 546.5,173 Q545.5,189 552.5,207" stroke="#1a1a1a" stroke-width="3.2" fill="none" opacity="0.55" filter="url(#blur1)"/>
<path d="M649.5,150 Q646.5,174 630.5,187 Q619.5,197 608.5,206" stroke="#1a1a1a" stroke-width="3.2" fill="none" opacity="0.55" filter="url(#blur1)"/>
<path d="M293.00,124.00 L288.04,127.10 L288.04,120.90 Z" fill="#d9261f"/>
<path d="M300.50,125.20 L295.54,128.30 L295.54,122.10 Z" fill="#d9261f"/>
<path d="M389.50,117.50 L387.31,112.08 L393.41,113.15 Z" fill="#d9261f"/>
<path d="M463.50,111.50 L457.71,110.69 L461.69,105.94 Z" fill="#d9261f"/>
<path d="M467.00,121.50 L461.28,122.72 L463.40,116.89 Z" fill="#d9261f"/>
<path d="M553.00,110.00 L557.96,106.90 L557.96,113.10 Z" fill="#d9261f"/>
<path d="M637.50,112.00 L643.22,110.78 L641.10,116.61 Z" fill="#d9261f"/>
<path d="M286.50,176.00 L282.15,179.91 L281.08,173.81 Z" fill="#d9261f"/>
<path d="M317.00,192.50 L312.65,196.41 L311.58,190.31 Z" fill="#d9261f"/>
<path d="M395.50,186.50 L400.92,184.31 L399.85,190.41 Z" fill="#d9261f"/>
<path d="M467.50,161.50 L461.65,161.70 L464.75,156.34 Z" fill="#d9261f"/>
<path d="M475.00,192.50 L470.04,195.60 L470.04,189.40 Z" fill="#d9261f"/>
<path d="M551.50,179.00 L556.92,176.81 L555.85,182.91 Z" fill="#d9261f"/>
<path d="M636.50,176.50 L642.35,176.30 L639.25,181.66 Z" fill="#d9261f"/>
<rect x="285.5" y="53" width="18.3" height="14.4" fill="none" stroke="#d9261f" stroke-width="1.9" stroke-dasharray="2.3 2.2" stroke-linecap="butt"/>
<line x1="285.50" y1="67.40" x2="266.20" y2="81.50" stroke="#d9261f" stroke-width="2.3" stroke-dasharray="2.3 2.2" stroke-linecap="butt"/>
<line x1="303.80" y1="67.40" x2="344.30" y2="81.50" stroke="#d9261f" stroke-width="2.3" stroke-dasharray="2.3 2.2" stroke-linecap="butt"/>
<rect x="397.9" y="41.1" width="19.3" height="15.1" fill="none" stroke="#d9261f" stroke-width="1.9" stroke-dasharray="2.3 2.2" stroke-linecap="butt"/>
<line x1="397.90" y1="56.20" x2="351.30" y2="80.90" stroke="#d9261f" stroke-width="2.3" stroke-dasharray="2.3 2.2" stroke-linecap="butt"/>
<line x1="417.20" y1="56.20" x2="428.40" y2="80.90" stroke="#d9261f" stroke-width="2.3" stroke-dasharray="2.3 2.2" stroke-linecap="butt"/>
<rect x="434.2" y="62.6" width="18.3" height="13.8" fill="none" stroke="#d9261f" stroke-width="1.9" stroke-dasharray="2.3 2.2" stroke-linecap="butt"/>
<line x1="434.20" y1="76.40" x2="434.50" y2="81.50" stroke="#d9261f" stroke-width="2.3" stroke-dasharray="2.3 2.2" stroke-linecap="butt"/>
<line x1="452.50" y1="76.40" x2="513.00" y2="81.50" stroke="#d9261f" stroke-width="2.3" stroke-dasharray="2.3 2.2" stroke-linecap="butt"/>
<rect x="542.1" y="26.3" width="19.2" height="13.8" fill="none" stroke="#d9261f" stroke-width="1.9" stroke-dasharray="2.3 2.2" stroke-linecap="butt"/>
<line x1="542.10" y1="40.10" x2="518.00" y2="80.30" stroke="#d9261f" stroke-width="2.3" stroke-dasharray="2.3 2.2" stroke-linecap="butt"/>
<line x1="561.30" y1="40.10" x2="596.70" y2="80.30" stroke="#d9261f" stroke-width="2.3" stroke-dasharray="2.3 2.2" stroke-linecap="butt"/>
<rect x="628.8" y="29.5" width="19.2" height="13.9" fill="none" stroke="#d9261f" stroke-width="1.9" stroke-dasharray="2.3 2.2" stroke-linecap="butt"/>
<line x1="628.80" y1="43.40" x2="603.10" y2="80.30" stroke="#d9261f" stroke-width="2.3" stroke-dasharray="2.3 2.2" stroke-linecap="butt"/>
<line x1="648.00" y1="43.40" x2="680.20" y2="80.30" stroke="#d9261f" stroke-width="2.3" stroke-dasharray="2.3 2.2" stroke-linecap="butt"/>
<line x1="660.90" y1="74.50" x2="678.50" y2="74.50" stroke="#d9261f" stroke-width="1.2"/>
<line x1="661.40" y1="138.80" x2="679.30" y2="138.80" stroke="#d9261f" stroke-width="1.2"/>
<line x1="665.20" y1="205.10" x2="678.80" y2="205.10" stroke="#d9261f" stroke-width="1.2"/>
<text x="2.00" y="249.00" font-size="11.5" text-anchor="start" font-weight="bold" fill="#000">e</text>
<rect x="59.30" y="331.25" width="10.20" height="32.05" fill="#ffffff" stroke="#333" stroke-width="0.9"/>
<line x1="64.40" y1="331.25" x2="64.40" y2="328.57" stroke="#333" stroke-width="0.9"/>
<line x1="62.16" y1="328.57" x2="66.64" y2="328.57" stroke="#333" stroke-width="0.9"/>
<rect x="74.80" y="317.81" width="9.80" height="45.49" fill="#c4c2f0" stroke="#333" stroke-width="0.9"/>
<line x1="79.70" y1="317.81" x2="79.70" y2="315.75" stroke="#333" stroke-width="0.9"/>
<line x1="77.54" y1="315.75" x2="81.86" y2="315.75" stroke="#333" stroke-width="0.9"/>
<rect x="90.50" y="307.48" width="10.00" height="55.82" fill="#9fd4f4" stroke="#333" stroke-width="0.9"/>
<line x1="95.50" y1="307.48" x2="95.50" y2="303.34" stroke="#333" stroke-width="0.9"/>
<line x1="93.30" y1="303.34" x2="97.70" y2="303.34" stroke="#333" stroke-width="0.9"/>
<rect x="106.00" y="319.88" width="10.00" height="43.42" fill="#e07478" stroke="#333" stroke-width="0.9"/>
<line x1="111.00" y1="319.88" x2="111.00" y2="317.81" stroke="#333" stroke-width="0.9"/>
<line x1="108.80" y1="317.81" x2="113.20" y2="317.81" stroke="#333" stroke-width="0.9"/>
<rect x="121.80" y="332.29" width="10.00" height="31.01" fill="#8ed9ac" stroke="#333" stroke-width="0.9"/>
<line x1="126.80" y1="332.29" x2="126.80" y2="330.22" stroke="#333" stroke-width="0.9"/>
<line x1="124.60" y1="330.22" x2="129.00" y2="330.22" stroke="#333" stroke-width="0.9"/>
<circle cx="64.4" cy="314.7" r="1.65" fill="#555"/>
<circle cx="65.2" cy="317.8" r="1.65" fill="#555"/>
<circle cx="64.4" cy="320.9" r="1.65" fill="#555"/>
<circle cx="65.2" cy="324.0" r="1.65" fill="#555"/>
<circle cx="61.9" cy="324.0" r="1.65" fill="#555"/>
<circle cx="64.4" cy="328.2" r="1.65" fill="#555"/>
<circle cx="65.2" cy="331.3" r="1.65" fill="#555"/>
<circle cx="64.4" cy="334.4" r="1.65" fill="#555"/>
<circle cx="66.9" cy="336.4" r="1.65" fill="#555"/>
<circle cx="64.4" cy="339.5" r="1.65" fill="#555"/>
<circle cx="65.2" cy="342.6" r="1.65" fill="#555"/>
<circle cx="62.8" cy="344.7" r="1.65" fill="#555"/>
<circle cx="79.7" cy="311.6" r="1.65" fill="#555"/>
<circle cx="83.0" cy="311.6" r="1.65" fill="#555"/>
<circle cx="76.4" cy="311.6" r="1.65" fill="#555"/>
<circle cx="79.7" cy="315.7" r="1.65" fill="#555"/>
<circle cx="82.2" cy="317.8" r="1.65" fill="#555"/>
<circle cx="77.2" cy="317.8" r="1.65" fill="#555"/>
<circle cx="76.0" cy="318.8" r="1.65" fill="#555"/>
<circle cx="79.7" cy="320.9" r="1.65" fill="#555"/>
<circle cx="83.0" cy="322.0" r="1.65" fill="#555"/>
<circle cx="80.5" cy="324.0" r="1.65" fill="#555"/>
<circle cx="79.7" cy="328.2" r="1.65" fill="#555"/>
<circle cx="79.7" cy="333.3" r="1.65" fill="#555"/>
<circle cx="95.5" cy="290.9" r="1.65" fill="#555"/>
<circle cx="98.8" cy="290.9" r="1.65" fill="#555"/>
<circle cx="92.2" cy="290.9" r="1.65" fill="#555"/>
<circle cx="95.5" cy="302.3" r="1.65" fill="#555"/>
<circle cx="98.0" cy="304.4" r="1.65" fill="#555"/>
<circle cx="95.5" cy="307.5" r="1.65" fill="#555"/>
<circle cx="98.0" cy="309.5" r="1.65" fill="#555"/>
<circle cx="95.5" cy="312.6" r="1.65" fill="#555"/>
<circle cx="96.3" cy="315.7" r="1.65" fill="#555"/>
<circle cx="95.5" cy="319.9" r="1.65" fill="#555"/>
<circle cx="95.5" cy="329.2" r="1.65" fill="#555"/>
<circle cx="111.0" cy="311.6" r="1.65" fill="#555"/>
<circle cx="114.3" cy="311.6" r="1.65" fill="#555"/>
<circle cx="107.7" cy="311.6" r="1.65" fill="#555"/>
<circle cx="111.8" cy="314.7" r="1.65" fill="#555"/>
<circle cx="111.0" cy="317.8" r="1.65" fill="#555"/>
<circle cx="114.3" cy="318.8" r="1.65" fill="#555"/>
<circle cx="108.5" cy="319.9" r="1.65" fill="#555"/>
<circle cx="111.0" cy="322.0" r="1.65" fill="#555"/>
<circle cx="113.5" cy="324.0" r="1.65" fill="#555"/>
<circle cx="111.0" cy="327.1" r="1.65" fill="#555"/>
<circle cx="111.8" cy="330.2" r="1.65" fill="#555"/>
<circle cx="109.3" cy="332.3" r="1.65" fill="#555"/>
<circle cx="126.8" cy="319.9" r="1.65" fill="#555"/>
<circle cx="126.8" cy="325.1" r="1.65" fill="#555"/>
<circle cx="130.1" cy="326.1" r="1.65" fill="#555"/>
<circle cx="126.8" cy="329.2" r="1.65" fill="#555"/>
<circle cx="129.3" cy="331.3" r="1.65" fill="#555"/>
<circle cx="126.0" cy="332.3" r="1.65" fill="#555"/>
<circle cx="128.5" cy="334.4" r="1.65" fill="#555"/>
<circle cx="126.0" cy="336.4" r="1.65" fill="#555"/>
<circle cx="128.5" cy="338.5" r="1.65" fill="#555"/>
<circle cx="126.0" cy="340.6" r="1.65" fill="#555"/>
<circle cx="128.5" cy="342.6" r="1.65" fill="#555"/>
<line x1="53.20" y1="363.30" x2="53.20" y2="280.60" stroke="#333" stroke-width="0.9"/>
<line x1="50.20" y1="363.30" x2="53.20" y2="363.30" stroke="#333" stroke-width="0.9"/>
<line x1="50.20" y1="346.76" x2="53.20" y2="346.76" stroke="#333" stroke-width="0.9"/>
<line x1="50.20" y1="330.22" x2="53.20" y2="330.22" stroke="#333" stroke-width="0.9"/>
<line x1="50.20" y1="313.68" x2="53.20" y2="313.68" stroke="#333" stroke-width="0.9"/>
<line x1="50.20" y1="297.14" x2="53.20" y2="297.14" stroke="#333" stroke-width="0.9"/>
<line x1="50.20" y1="280.60" x2="53.20" y2="280.60" stroke="#333" stroke-width="0.9"/>
<line x1="51.40" y1="357.79" x2="53.20" y2="357.79" stroke="#333" stroke-width="0.7"/>
<line x1="51.40" y1="352.27" x2="53.20" y2="352.27" stroke="#333" stroke-width="0.7"/>
<line x1="51.40" y1="341.25" x2="53.20" y2="341.25" stroke="#333" stroke-width="0.7"/>
<line x1="51.40" y1="335.73" x2="53.20" y2="335.73" stroke="#333" stroke-width="0.7"/>
<line x1="51.40" y1="324.71" x2="53.20" y2="324.71" stroke="#333" stroke-width="0.7"/>
<line x1="51.40" y1="319.19" x2="53.20" y2="319.19" stroke="#333" stroke-width="0.7"/>
<line x1="51.40" y1="308.17" x2="53.20" y2="308.17" stroke="#333" stroke-width="0.7"/>
<line x1="51.40" y1="302.65" x2="53.20" y2="302.65" stroke="#333" stroke-width="0.7"/>
<line x1="51.40" y1="291.63" x2="53.20" y2="291.63" stroke="#333" stroke-width="0.7"/>
<line x1="51.40" y1="286.11" x2="53.20" y2="286.11" stroke="#333" stroke-width="0.7"/>
<text x="49.50" y="366.60" font-size="9.5" text-anchor="end" fill="#222" stroke="#222" stroke-width="0.2">0</text>
<text x="47.30" y="350.06" font-size="9.5" text-anchor="end" fill="#222" stroke="#222" stroke-width="0.2">8×10</text>
<text x="47.50" y="345.56" font-size="5.5" text-anchor="start" fill="#222" stroke="#222" stroke-width="0.2">4</text>
<text x="47.30" y="333.52" font-size="9.5" text-anchor="end" fill="#222" stroke="#222" stroke-width="0.2">1.6×10</text>
<text x="47.50" y="329.02" font-size="5.5" text-anchor="start" fill="#222" stroke="#222" stroke-width="0.2">5</text>
<text x="47.30" y="316.98" font-size="9.5" text-anchor="end" fill="#222" stroke="#222" stroke-width="0.2">2.4×10</text>
<text x="47.50" y="312.48" font-size="5.5" text-anchor="start" fill="#222" stroke="#222" stroke-width="0.2">5</text>
<text x="47.30" y="300.44" font-size="9.5" text-anchor="end" fill="#222" stroke="#222" stroke-width="0.2">3.2×10</text>
<text x="47.50" y="295.94" font-size="5.5" text-anchor="start" fill="#222" stroke="#222" stroke-width="0.2">5</text>
<text x="47.30" y="283.90" font-size="9.5" text-anchor="end" fill="#222" stroke="#222" stroke-width="0.2">4×10</text>
<text x="47.50" y="279.40" font-size="5.5" text-anchor="start" fill="#222" stroke="#222" stroke-width="0.2">5</text>
<line x1="53.20" y1="363.30" x2="137.00" y2="363.30" stroke="#444" stroke-width="0.9"/>
<line x1="64.40" y1="363.30" x2="64.40" y2="365.80" stroke="#333" stroke-width="0.9"/>
<line x1="79.70" y1="363.30" x2="79.70" y2="365.80" stroke="#333" stroke-width="0.9"/>
<line x1="95.50" y1="363.30" x2="95.50" y2="365.80" stroke="#333" stroke-width="0.9"/>
<line x1="111.00" y1="363.30" x2="111.00" y2="365.80" stroke="#333" stroke-width="0.9"/>
<line x1="126.80" y1="363.30" x2="126.80" y2="365.80" stroke="#333" stroke-width="0.9"/>
<text x="69.70" y="371.40" font-size="8.3" text-anchor="end" fill="#222" stroke="#222" stroke-width="0.2" transform="rotate(-45 69.70 371.40)">MP-0d</text>
<text x="85.90" y="370.70" font-size="8.3" text-anchor="end" fill="#222" stroke="#222" stroke-width="0.2" transform="rotate(-45 85.90 370.70)">MP-3d</text>
<text x="102.00" y="370.70" font-size="8.3" text-anchor="end" fill="#222" stroke="#222" stroke-width="0.2" transform="rotate(-45 102.00 370.70)">MP-7d</text>
<text x="119.00" y="368.50" font-size="8.3" text-anchor="end" fill="#222" stroke="#222" stroke-width="0.2" transform="rotate(-45 119.00 368.50)">MP-14d</text>
<text x="137.70" y="368.50" font-size="8.3" text-anchor="end" fill="#222" stroke="#222" stroke-width="0.2" transform="rotate(-45 137.70 368.50)">MP-28d</text>
<text x="15.60" y="317.00" font-size="9.5" text-anchor="middle" fill="#222" stroke="#222" stroke-width="0.2" transform="rotate(-90 15.60 317.00)">Synapse numbers /per mm</text>
<text x="9.00" y="256.50" font-size="6.5" text-anchor="middle" fill="#222" stroke="#222" stroke-width="0.2" transform="rotate(-90 9.00 256.50)">2</text>
<line x1="64.20" y1="280.20" x2="78.00" y2="280.20" stroke="#222" stroke-width="0.8"/>
<text x="71.10" y="282.68" font-size="11.5" text-anchor="middle" fill="#222" stroke="#222" stroke-width="0.2">*</text>
<line x1="81.30" y1="280.20" x2="93.60" y2="280.20" stroke="#222" stroke-width="0.8"/>
<text x="87.45" y="282.68" font-size="11.5" text-anchor="middle" fill="#222" stroke="#222" stroke-width="0.2">*</text>
<line x1="96.50" y1="280.20" x2="109.50" y2="280.20" stroke="#222" stroke-width="0.8"/>
<text x="103.00" y="282.68" font-size="11.5" text-anchor="middle" fill="#222" stroke="#222" stroke-width="0.2">**</text>
<line x1="112.80" y1="280.20" x2="126.70" y2="280.20" stroke="#222" stroke-width="0.8"/>
<text x="119.75" y="282.68" font-size="11.5" text-anchor="middle" fill="#222" stroke="#222" stroke-width="0.2">*</text>
<line x1="95.60" y1="268.50" x2="126.70" y2="268.50" stroke="#222" stroke-width="0.8"/>
<text x="111.15" y="270.98" font-size="11.5" text-anchor="middle" fill="#222" stroke="#222" stroke-width="0.2">****</text>
<text x="147.00" y="249.00" font-size="11.5" text-anchor="start" font-weight="bold" fill="#000">f</text>
<rect x="189.00" y="336.50" width="10.30" height="27.11" fill="#ffffff" stroke="#333" stroke-width="0.9"/>
<line x1="194.15" y1="336.50" x2="194.15" y2="335.66" stroke="#333" stroke-width="0.9"/>
<line x1="191.88" y1="335.66" x2="196.42" y2="335.66" stroke="#333" stroke-width="0.9"/>
<rect x="205.00" y="337.54" width="10.20" height="26.06" fill="#c4c2f0" stroke="#333" stroke-width="0.9"/>
<line x1="210.10" y1="337.54" x2="210.10" y2="336.70" stroke="#333" stroke-width="0.9"/>
<line x1="207.86" y1="336.70" x2="212.34" y2="336.70" stroke="#333" stroke-width="0.9"/>
<rect x="221.00" y="343.79" width="9.70" height="19.81" fill="#9fd4f4" stroke="#333" stroke-width="0.9"/>
<line x1="225.85" y1="343.79" x2="225.85" y2="343.17" stroke="#333" stroke-width="0.9"/>
<line x1="223.72" y1="343.17" x2="227.98" y2="343.17" stroke="#333" stroke-width="0.9"/>
<rect x="236.50" y="337.54" width="9.80" height="26.06" fill="#e07478" stroke="#333" stroke-width="0.9"/>
<line x1="241.40" y1="337.54" x2="241.40" y2="336.70" stroke="#333" stroke-width="0.9"/>
<line x1="239.24" y1="336.70" x2="243.56" y2="336.70" stroke="#333" stroke-width="0.9"/>
<rect x="252.00" y="332.32" width="10.20" height="31.28" fill="#8ed9ac" stroke="#333" stroke-width="0.9"/>
<line x1="257.10" y1="332.32" x2="257.10" y2="331.28" stroke="#333" stroke-width="0.9"/>
<line x1="254.86" y1="331.28" x2="259.34" y2="331.28" stroke="#333" stroke-width="0.9"/>
<circle cx="191.8" cy="346.3" r="1.50" fill="#555"/>
<circle cx="194.6" cy="346.1" r="1.50" fill="#555"/>
<circle cx="196.3" cy="330.9" r="1.50" fill="#555"/>
<circle cx="199.0" cy="337.7" r="1.50" fill="#555"/>
<circle cx="192.8" cy="327.3" r="1.50" fill="#555"/>
<circle cx="194.5" cy="334.8" r="1.50" fill="#555"/>
<circle cx="192.8" cy="325.2" r="1.50" fill="#555"/>
<circle cx="194.7" cy="340.7" r="1.50" fill="#555"/>
<circle cx="197.7" cy="333.2" r="1.50" fill="#555"/>
<circle cx="199.3" cy="338.9" r="1.50" fill="#555"/>
<circle cx="198.6" cy="342.7" r="1.50" fill="#555"/>
<circle cx="198.8" cy="335.3" r="1.50" fill="#555"/>
<circle cx="189.5" cy="347.0" r="1.50" fill="#555"/>
<circle cx="191.4" cy="339.5" r="1.50" fill="#555"/>
<circle cx="198.8" cy="330.7" r="1.50" fill="#555"/>
<circle cx="194.8" cy="336.0" r="1.50" fill="#555"/>
<circle cx="190.4" cy="339.9" r="1.50" fill="#555"/>
<circle cx="195.4" cy="318.2" r="1.50" fill="#555"/>
<circle cx="198.7" cy="336.0" r="1.50" fill="#555"/>
<circle cx="191.3" cy="341.4" r="1.50" fill="#555"/>
<circle cx="192.6" cy="335.2" r="1.50" fill="#555"/>
<circle cx="190.7" cy="340.9" r="1.50" fill="#555"/>
<circle cx="199.2" cy="339.7" r="1.50" fill="#555"/>
<circle cx="191.0" cy="339.4" r="1.50" fill="#555"/>
<circle cx="191.6" cy="319.6" r="1.50" fill="#555"/>
<circle cx="189.7" cy="336.3" r="1.50" fill="#555"/>
<circle cx="190.0" cy="335.0" r="1.50" fill="#555"/>
<circle cx="189.1" cy="330.9" r="1.50" fill="#555"/>
<circle cx="188.9" cy="319.7" r="1.50" fill="#555"/>
<circle cx="194.4" cy="338.4" r="1.50" fill="#555"/>
<circle cx="192.0" cy="341.7" r="1.50" fill="#555"/>
<circle cx="192.8" cy="315.9" r="1.50" fill="#555"/>
<circle cx="195.0" cy="348.7" r="1.50" fill="#555"/>
<circle cx="192.2" cy="339.6" r="1.50" fill="#555"/>
<circle cx="196.7" cy="330.9" r="1.50" fill="#555"/>
<circle cx="191.5" cy="317.4" r="1.50" fill="#555"/>
<circle cx="194.1" cy="344.4" r="1.50" fill="#555"/>
<circle cx="192.8" cy="331.0" r="1.50" fill="#555"/>
<circle cx="196.7" cy="340.8" r="1.50" fill="#555"/>
<circle cx="193.6" cy="339.7" r="1.50" fill="#555"/>
<circle cx="191.8" cy="332.6" r="1.50" fill="#555"/>
<circle cx="198.7" cy="334.6" r="1.50" fill="#555"/>
<circle cx="197.1" cy="334.1" r="1.50" fill="#555"/>
<circle cx="192.5" cy="340.1" r="1.50" fill="#555"/>
<circle cx="196.0" cy="325.7" r="1.50" fill="#555"/>
<circle cx="194.2" cy="323.9" r="1.50" fill="#555"/>
<circle cx="189.3" cy="336.2" r="1.50" fill="#555"/>
<circle cx="191.1" cy="340.3" r="1.50" fill="#555"/>
<circle cx="195.8" cy="330.4" r="1.50" fill="#555"/>
<circle cx="189.0" cy="332.5" r="1.50" fill="#555"/>
<circle cx="189.3" cy="345.2" r="1.50" fill="#555"/>
<circle cx="191.7" cy="340.3" r="1.50" fill="#555"/>
<circle cx="193.9" cy="327.7" r="1.50" fill="#555"/>
<circle cx="188.9" cy="337.3" r="1.50" fill="#555"/>
<circle cx="199.2" cy="339.2" r="1.50" fill="#555"/>
<circle cx="199.3" cy="334.7" r="1.50" fill="#555"/>
<circle cx="197.1" cy="336.8" r="1.50" fill="#555"/>
<circle cx="197.9" cy="336.5" r="1.50" fill="#555"/>
<circle cx="198.5" cy="352.6" r="1.50" fill="#555"/>
<circle cx="197.8" cy="321.9" r="1.50" fill="#555"/>
<circle cx="193.3" cy="334.8" r="1.50" fill="#555"/>
<circle cx="190.6" cy="343.8" r="1.50" fill="#555"/>
<circle cx="193.5" cy="328.3" r="1.50" fill="#555"/>
<circle cx="195.7" cy="333.9" r="1.50" fill="#555"/>
<circle cx="197.7" cy="336.3" r="1.50" fill="#555"/>
<circle cx="196.9" cy="327.8" r="1.50" fill="#555"/>
<circle cx="189.7" cy="317.6" r="1.50" fill="#555"/>
<circle cx="190.5" cy="331.9" r="1.50" fill="#555"/>
<circle cx="193.1" cy="323.3" r="1.50" fill="#555"/>
<circle cx="191.6" cy="318.5" r="1.50" fill="#555"/>
<circle cx="192.5" cy="345.0" r="1.50" fill="#555"/>
<circle cx="197.2" cy="340.9" r="1.50" fill="#555"/>
<circle cx="194.5" cy="330.0" r="1.50" fill="#555"/>
<circle cx="195.7" cy="350.7" r="1.50" fill="#555"/>
<circle cx="199.4" cy="338.7" r="1.50" fill="#555"/>
<circle cx="193.8" cy="325.7" r="1.50" fill="#555"/>
<circle cx="195.0" cy="327.8" r="1.50" fill="#555"/>
<circle cx="199.3" cy="331.7" r="1.50" fill="#555"/>
<circle cx="194.8" cy="352.3" r="1.50" fill="#555"/>
<circle cx="197.4" cy="316.9" r="1.50" fill="#555"/>
<circle cx="197.0" cy="331.9" r="1.50" fill="#555"/>
<circle cx="193.4" cy="330.1" r="1.50" fill="#555"/>
<circle cx="191.8" cy="332.4" r="1.50" fill="#555"/>
<circle cx="194.9" cy="350.8" r="1.50" fill="#555"/>
<circle cx="192.0" cy="348.5" r="1.50" fill="#555"/>
<circle cx="193.0" cy="346.6" r="1.50" fill="#555"/>
<circle cx="189.0" cy="320.5" r="1.50" fill="#555"/>
<circle cx="199.1" cy="343.4" r="1.50" fill="#555"/>
<circle cx="198.9" cy="338.5" r="1.50" fill="#555"/>
<circle cx="189.7" cy="338.6" r="1.50" fill="#555"/>
<circle cx="191.1" cy="355.3" r="1.50" fill="#555"/>
<circle cx="191.8" cy="311.5" r="1.50" fill="#555"/>
<circle cx="207.7" cy="333.4" r="1.50" fill="#555"/>
<circle cx="210.5" cy="345.7" r="1.50" fill="#555"/>
<circle cx="212.3" cy="345.9" r="1.50" fill="#555"/>
<circle cx="214.9" cy="340.6" r="1.50" fill="#555"/>
<circle cx="208.7" cy="329.7" r="1.50" fill="#555"/>
<circle cx="210.4" cy="338.1" r="1.50" fill="#555"/>
<circle cx="208.8" cy="340.5" r="1.50" fill="#555"/>
<circle cx="210.6" cy="350.9" r="1.50" fill="#555"/>
<circle cx="213.7" cy="347.3" r="1.50" fill="#555"/>
<circle cx="215.3" cy="325.8" r="1.50" fill="#555"/>
<circle cx="214.6" cy="335.2" r="1.50" fill="#555"/>
<circle cx="214.7" cy="340.6" r="1.50" fill="#555"/>
<circle cx="205.4" cy="332.9" r="1.50" fill="#555"/>
<circle cx="207.4" cy="339.9" r="1.50" fill="#555"/>
<circle cx="214.8" cy="340.9" r="1.50" fill="#555"/>
<circle cx="210.8" cy="327.2" r="1.50" fill="#555"/>
<circle cx="206.4" cy="338.9" r="1.50" fill="#555"/>
<circle cx="211.4" cy="335.4" r="1.50" fill="#555"/>
<circle cx="214.7" cy="343.8" r="1.50" fill="#555"/>
<circle cx="207.3" cy="332.1" r="1.50" fill="#555"/>
<circle cx="208.6" cy="317.7" r="1.50" fill="#555"/>
<circle cx="206.7" cy="341.1" r="1.50" fill="#555"/>
<circle cx="215.1" cy="339.1" r="1.50" fill="#555"/>
<circle cx="207.0" cy="331.5" r="1.50" fill="#555"/>
<circle cx="207.6" cy="342.1" r="1.50" fill="#555"/>
<circle cx="205.7" cy="334.1" r="1.50" fill="#555"/>
<circle cx="205.9" cy="331.4" r="1.50" fill="#555"/>
<circle cx="205.0" cy="330.4" r="1.50" fill="#555"/>
<circle cx="204.9" cy="334.8" r="1.50" fill="#555"/>
<circle cx="210.4" cy="327.1" r="1.50" fill="#555"/>
<circle cx="208.0" cy="324.8" r="1.50" fill="#555"/>
<circle cx="208.7" cy="340.8" r="1.50" fill="#555"/>
<circle cx="210.9" cy="340.6" r="1.50" fill="#555"/>
<circle cx="208.2" cy="340.1" r="1.50" fill="#555"/>
<circle cx="212.6" cy="339.9" r="1.50" fill="#555"/>
<circle cx="207.4" cy="343.5" r="1.50" fill="#555"/>
<circle cx="210.1" cy="338.8" r="1.50" fill="#555"/>
<circle cx="208.7" cy="329.4" r="1.50" fill="#555"/>
<circle cx="212.6" cy="334.6" r="1.50" fill="#555"/>
<circle cx="209.6" cy="339.6" r="1.50" fill="#555"/>
<circle cx="207.8" cy="333.6" r="1.50" fill="#555"/>
<circle cx="214.6" cy="345.6" r="1.50" fill="#555"/>
<circle cx="213.0" cy="330.2" r="1.50" fill="#555"/>
<circle cx="208.5" cy="322.0" r="1.50" fill="#555"/>
<circle cx="211.9" cy="334.4" r="1.50" fill="#555"/>
<circle cx="210.1" cy="340.9" r="1.50" fill="#555"/>
<circle cx="205.3" cy="346.3" r="1.50" fill="#555"/>
<circle cx="207.1" cy="337.1" r="1.50" fill="#555"/>
<circle cx="211.7" cy="345.8" r="1.50" fill="#555"/>
<circle cx="205.0" cy="340.1" r="1.50" fill="#555"/>
<circle cx="205.3" cy="325.6" r="1.50" fill="#555"/>
<circle cx="207.7" cy="332.5" r="1.50" fill="#555"/>
<circle cx="209.9" cy="343.5" r="1.50" fill="#555"/>
<circle cx="204.9" cy="329.9" r="1.50" fill="#555"/>
<circle cx="215.1" cy="331.4" r="1.50" fill="#555"/>
<circle cx="215.2" cy="336.2" r="1.50" fill="#555"/>
<circle cx="213.0" cy="347.6" r="1.50" fill="#555"/>
<circle cx="213.8" cy="341.5" r="1.50" fill="#555"/>
<circle cx="214.4" cy="334.6" r="1.50" fill="#555"/>
<circle cx="213.7" cy="342.5" r="1.50" fill="#555"/>
<circle cx="209.3" cy="326.0" r="1.50" fill="#555"/>
<circle cx="206.5" cy="338.9" r="1.50" fill="#555"/>
<circle cx="209.4" cy="331.1" r="1.50" fill="#555"/>
<circle cx="211.6" cy="339.3" r="1.50" fill="#555"/>
<circle cx="213.7" cy="331.4" r="1.50" fill="#555"/>
<circle cx="212.8" cy="324.7" r="1.50" fill="#555"/>
<circle cx="205.6" cy="350.0" r="1.50" fill="#555"/>
<circle cx="206.4" cy="335.5" r="1.50" fill="#555"/>
<circle cx="209.0" cy="340.2" r="1.50" fill="#555"/>
<circle cx="207.6" cy="332.4" r="1.50" fill="#555"/>
<circle cx="208.4" cy="339.6" r="1.50" fill="#555"/>
<circle cx="213.1" cy="329.2" r="1.50" fill="#555"/>
<circle cx="210.4" cy="340.7" r="1.50" fill="#555"/>
<circle cx="211.7" cy="343.6" r="1.50" fill="#555"/>
<circle cx="215.3" cy="338.5" r="1.50" fill="#555"/>
<circle cx="209.7" cy="330.9" r="1.50" fill="#555"/>
<circle cx="211.0" cy="330.6" r="1.50" fill="#555"/>
<circle cx="215.2" cy="340.4" r="1.50" fill="#555"/>
<circle cx="210.8" cy="333.6" r="1.50" fill="#555"/>
<circle cx="213.3" cy="339.6" r="1.50" fill="#555"/>
<circle cx="212.9" cy="332.2" r="1.50" fill="#555"/>
<circle cx="209.4" cy="343.5" r="1.50" fill="#555"/>
<circle cx="207.8" cy="341.9" r="1.50" fill="#555"/>
<circle cx="210.8" cy="332.6" r="1.50" fill="#555"/>
<circle cx="207.9" cy="324.7" r="1.50" fill="#555"/>
<circle cx="208.9" cy="321.6" r="1.50" fill="#555"/>
<circle cx="205.0" cy="335.3" r="1.50" fill="#555"/>
<circle cx="215.1" cy="331.0" r="1.50" fill="#555"/>
<circle cx="214.9" cy="333.9" r="1.50" fill="#555"/>
<circle cx="205.6" cy="342.3" r="1.50" fill="#555"/>
<circle cx="207.0" cy="352.1" r="1.50" fill="#555"/>
<circle cx="207.8" cy="307.3" r="1.50" fill="#555"/>
<circle cx="221.5" cy="345.9" r="1.50" fill="#555"/>
<circle cx="226.7" cy="354.7" r="1.50" fill="#555"/>
<circle cx="224.8" cy="338.1" r="1.50" fill="#555"/>
<circle cx="230.2" cy="333.2" r="1.50" fill="#555"/>
<circle cx="227.1" cy="352.7" r="1.50" fill="#555"/>
<circle cx="226.1" cy="348.7" r="1.50" fill="#555"/>
<circle cx="230.5" cy="352.2" r="1.50" fill="#555"/>
<circle cx="223.6" cy="339.2" r="1.50" fill="#555"/>
<circle cx="229.5" cy="342.3" r="1.50" fill="#555"/>
<circle cx="225.0" cy="353.5" r="1.50" fill="#555"/>
<circle cx="227.7" cy="344.1" r="1.50" fill="#555"/>
<circle cx="230.8" cy="345.4" r="1.50" fill="#555"/>
<circle cx="229.1" cy="339.8" r="1.50" fill="#555"/>
<circle cx="226.9" cy="337.5" r="1.50" fill="#555"/>
<circle cx="229.1" cy="346.6" r="1.50" fill="#555"/>
<circle cx="220.9" cy="347.7" r="1.50" fill="#555"/>
<circle cx="225.1" cy="347.6" r="1.50" fill="#555"/>
<circle cx="229.6" cy="352.7" r="1.50" fill="#555"/>
<circle cx="228.5" cy="336.3" r="1.50" fill="#555"/>
<circle cx="225.3" cy="341.8" r="1.50" fill="#555"/>
<circle cx="223.0" cy="343.5" r="1.50" fill="#555"/>
<circle cx="224.2" cy="341.5" r="1.50" fill="#555"/>
<circle cx="225.1" cy="339.8" r="1.50" fill="#555"/>
<circle cx="221.8" cy="339.3" r="1.50" fill="#555"/>
<circle cx="230.4" cy="341.9" r="1.50" fill="#555"/>
<circle cx="227.4" cy="339.7" r="1.50" fill="#555"/>
<circle cx="226.2" cy="336.3" r="1.50" fill="#555"/>
<circle cx="222.5" cy="342.1" r="1.50" fill="#555"/>
<circle cx="224.0" cy="350.7" r="1.50" fill="#555"/>
<circle cx="224.9" cy="337.3" r="1.50" fill="#555"/>
<circle cx="222.1" cy="348.1" r="1.50" fill="#555"/>
<circle cx="224.1" cy="346.5" r="1.50" fill="#555"/>
<circle cx="224.4" cy="343.6" r="1.50" fill="#555"/>
<circle cx="228.3" cy="343.9" r="1.50" fill="#555"/>
<circle cx="230.1" cy="348.4" r="1.50" fill="#555"/>
<circle cx="220.7" cy="340.7" r="1.50" fill="#555"/>
<circle cx="222.0" cy="346.7" r="1.50" fill="#555"/>
<circle cx="229.6" cy="342.0" r="1.50" fill="#555"/>
<circle cx="220.7" cy="340.5" r="1.50" fill="#555"/>
<circle cx="223.3" cy="349.6" r="1.50" fill="#555"/>
<circle cx="226.5" cy="334.5" r="1.50" fill="#555"/>
<circle cx="226.2" cy="341.7" r="1.50" fill="#555"/>
<circle cx="222.9" cy="336.6" r="1.50" fill="#555"/>
<circle cx="228.5" cy="338.9" r="1.50" fill="#555"/>
<circle cx="228.1" cy="348.6" r="1.50" fill="#555"/>
<circle cx="220.7" cy="336.1" r="1.50" fill="#555"/>
<circle cx="228.1" cy="331.5" r="1.50" fill="#555"/>
<circle cx="224.6" cy="347.1" r="1.50" fill="#555"/>
<circle cx="225.8" cy="354.8" r="1.50" fill="#555"/>
<circle cx="226.7" cy="337.7" r="1.50" fill="#555"/>
<circle cx="227.4" cy="347.9" r="1.50" fill="#555"/>
<circle cx="229.0" cy="348.9" r="1.50" fill="#555"/>
<circle cx="222.5" cy="338.0" r="1.50" fill="#555"/>
<circle cx="222.6" cy="336.6" r="1.50" fill="#555"/>
<circle cx="222.8" cy="350.5" r="1.50" fill="#555"/>
<circle cx="222.5" cy="334.6" r="1.50" fill="#555"/>
<circle cx="228.9" cy="345.7" r="1.50" fill="#555"/>
<circle cx="229.6" cy="352.4" r="1.50" fill="#555"/>
<circle cx="224.4" cy="332.1" r="1.50" fill="#555"/>
<circle cx="227.8" cy="340.5" r="1.50" fill="#555"/>
<circle cx="228.9" cy="343.8" r="1.50" fill="#555"/>
<circle cx="229.6" cy="352.5" r="1.50" fill="#555"/>
<circle cx="228.7" cy="347.6" r="1.50" fill="#555"/>
<circle cx="226.7" cy="337.6" r="1.50" fill="#555"/>
<circle cx="229.0" cy="336.3" r="1.50" fill="#555"/>
<circle cx="224.0" cy="338.6" r="1.50" fill="#555"/>
<circle cx="226.8" cy="348.0" r="1.50" fill="#555"/>
<circle cx="223.4" cy="348.3" r="1.50" fill="#555"/>
<circle cx="224.8" cy="341.7" r="1.50" fill="#555"/>
<circle cx="224.6" cy="348.5" r="1.50" fill="#555"/>
<circle cx="225.8" cy="356.6" r="1.50" fill="#555"/>
<circle cx="220.6" cy="331.8" r="1.50" fill="#555"/>
<circle cx="225.2" cy="335.9" r="1.50" fill="#555"/>
<circle cx="225.8" cy="348.6" r="1.50" fill="#555"/>
<circle cx="230.1" cy="345.0" r="1.50" fill="#555"/>
<circle cx="228.0" cy="350.9" r="1.50" fill="#555"/>
<circle cx="222.2" cy="343.6" r="1.50" fill="#555"/>
<circle cx="224.7" cy="352.1" r="1.50" fill="#555"/>
<circle cx="228.5" cy="349.4" r="1.50" fill="#555"/>
<circle cx="221.5" cy="343.5" r="1.50" fill="#555"/>
<circle cx="229.7" cy="347.3" r="1.50" fill="#555"/>
<circle cx="221.1" cy="343.3" r="1.50" fill="#555"/>
<circle cx="227.7" cy="349.2" r="1.50" fill="#555"/>
<circle cx="226.5" cy="348.9" r="1.50" fill="#555"/>
<circle cx="230.7" cy="347.0" r="1.50" fill="#555"/>
<circle cx="224.5" cy="332.2" r="1.50" fill="#555"/>
<circle cx="223.8" cy="343.3" r="1.50" fill="#555"/>
<circle cx="222.5" cy="344.8" r="1.50" fill="#555"/>
<circle cx="223.5" cy="349.2" r="1.50" fill="#555"/>
<circle cx="223.9" cy="344.9" r="1.50" fill="#555"/>
<circle cx="226.7" cy="332.8" r="1.50" fill="#555"/>
<circle cx="223.5" cy="348.5" r="1.50" fill="#555"/>
<circle cx="222.5" cy="343.6" r="1.50" fill="#555"/>
<circle cx="229.7" cy="338.4" r="1.50" fill="#555"/>
<circle cx="221.3" cy="332.2" r="1.50" fill="#555"/>
<circle cx="230.6" cy="346.3" r="1.50" fill="#555"/>
<circle cx="223.3" cy="334.7" r="1.50" fill="#555"/>
<circle cx="228.6" cy="353.6" r="1.50" fill="#555"/>
<circle cx="228.3" cy="342.2" r="1.50" fill="#555"/>
<circle cx="230.6" cy="352.8" r="1.50" fill="#555"/>
<circle cx="228.7" cy="357.3" r="1.50" fill="#555"/>
<circle cx="220.7" cy="328.2" r="1.50" fill="#555"/>
<circle cx="244.9" cy="344.2" r="1.50" fill="#555"/>
<circle cx="241.4" cy="334.1" r="1.50" fill="#555"/>
<circle cx="242.0" cy="337.2" r="1.50" fill="#555"/>
<circle cx="246.0" cy="339.7" r="1.50" fill="#555"/>
<circle cx="238.7" cy="327.3" r="1.50" fill="#555"/>
<circle cx="245.6" cy="345.7" r="1.50" fill="#555"/>
<circle cx="238.4" cy="344.6" r="1.50" fill="#555"/>
<circle cx="241.7" cy="331.4" r="1.50" fill="#555"/>
<circle cx="243.4" cy="336.5" r="1.50" fill="#555"/>
<circle cx="241.3" cy="342.6" r="1.50" fill="#555"/>
<circle cx="237.3" cy="348.6" r="1.50" fill="#555"/>
<circle cx="236.5" cy="337.2" r="1.50" fill="#555"/>
<circle cx="241.7" cy="337.2" r="1.50" fill="#555"/>
<circle cx="241.5" cy="347.1" r="1.50" fill="#555"/>
<circle cx="237.8" cy="340.9" r="1.50" fill="#555"/>
<circle cx="240.6" cy="329.6" r="1.50" fill="#555"/>
<circle cx="240.9" cy="331.2" r="1.50" fill="#555"/>
<circle cx="239.4" cy="335.0" r="1.50" fill="#555"/>
<circle cx="245.7" cy="330.9" r="1.50" fill="#555"/>
<circle cx="239.8" cy="334.4" r="1.50" fill="#555"/>
<circle cx="240.3" cy="345.9" r="1.50" fill="#555"/>
<circle cx="242.5" cy="343.7" r="1.50" fill="#555"/>
<circle cx="237.1" cy="352.9" r="1.50" fill="#555"/>
<circle cx="244.3" cy="345.4" r="1.50" fill="#555"/>
<circle cx="241.2" cy="348.2" r="1.50" fill="#555"/>
<circle cx="245.4" cy="333.4" r="1.50" fill="#555"/>
<circle cx="236.5" cy="343.9" r="1.50" fill="#555"/>
<circle cx="236.4" cy="341.9" r="1.50" fill="#555"/>
<circle cx="244.6" cy="347.2" r="1.50" fill="#555"/>
<circle cx="243.4" cy="331.5" r="1.50" fill="#555"/>
<circle cx="240.4" cy="342.0" r="1.50" fill="#555"/>
<circle cx="245.3" cy="337.2" r="1.50" fill="#555"/>
<circle cx="241.7" cy="343.2" r="1.50" fill="#555"/>
<circle cx="241.4" cy="325.9" r="1.50" fill="#555"/>
<circle cx="243.1" cy="337.3" r="1.50" fill="#555"/>
<circle cx="243.5" cy="345.9" r="1.50" fill="#555"/>
<circle cx="244.2" cy="342.3" r="1.50" fill="#555"/>
<circle cx="238.4" cy="343.2" r="1.50" fill="#555"/>
<circle cx="239.2" cy="336.5" r="1.50" fill="#555"/>
<circle cx="239.6" cy="332.3" r="1.50" fill="#555"/>
<circle cx="244.9" cy="328.7" r="1.50" fill="#555"/>
<circle cx="237.4" cy="323.8" r="1.50" fill="#555"/>
<circle cx="244.6" cy="349.1" r="1.50" fill="#555"/>
<circle cx="240.7" cy="344.4" r="1.50" fill="#555"/>
<circle cx="236.2" cy="339.2" r="1.50" fill="#555"/>
<circle cx="239.3" cy="339.6" r="1.50" fill="#555"/>
<circle cx="242.5" cy="338.1" r="1.50" fill="#555"/>
<circle cx="237.1" cy="338.1" r="1.50" fill="#555"/>
<circle cx="246.0" cy="342.8" r="1.50" fill="#555"/>
<circle cx="246.4" cy="335.5" r="1.50" fill="#555"/>
<circle cx="237.1" cy="336.3" r="1.50" fill="#555"/>
<circle cx="241.8" cy="331.9" r="1.50" fill="#555"/>
<circle cx="237.1" cy="339.7" r="1.50" fill="#555"/>
<circle cx="242.1" cy="339.8" r="1.50" fill="#555"/>
<circle cx="243.2" cy="336.5" r="1.50" fill="#555"/>
<circle cx="236.3" cy="343.9" r="1.50" fill="#555"/>
<circle cx="238.5" cy="333.2" r="1.50" fill="#555"/>
<circle cx="242.2" cy="335.1" r="1.50" fill="#555"/>
<circle cx="240.0" cy="335.2" r="1.50" fill="#555"/>
<circle cx="237.2" cy="346.9" r="1.50" fill="#555"/>
<circle cx="240.2" cy="345.7" r="1.50" fill="#555"/>
<circle cx="240.0" cy="326.7" r="1.50" fill="#555"/>
<circle cx="243.6" cy="328.4" r="1.50" fill="#555"/>
<circle cx="241.4" cy="327.1" r="1.50" fill="#555"/>
<circle cx="245.2" cy="337.9" r="1.50" fill="#555"/>
<circle cx="245.2" cy="341.5" r="1.50" fill="#555"/>
<circle cx="238.0" cy="335.9" r="1.50" fill="#555"/>
<circle cx="244.0" cy="332.8" r="1.50" fill="#555"/>
<circle cx="241.8" cy="326.5" r="1.50" fill="#555"/>
<circle cx="240.7" cy="333.3" r="1.50" fill="#555"/>
<circle cx="240.7" cy="335.6" r="1.50" fill="#555"/>
<circle cx="243.6" cy="346.8" r="1.50" fill="#555"/>
<circle cx="236.5" cy="340.9" r="1.50" fill="#555"/>
<circle cx="240.0" cy="337.7" r="1.50" fill="#555"/>
<circle cx="239.0" cy="342.9" r="1.50" fill="#555"/>
<circle cx="239.6" cy="340.6" r="1.50" fill="#555"/>
<circle cx="239.8" cy="339.0" r="1.50" fill="#555"/>
<circle cx="237.8" cy="345.0" r="1.50" fill="#555"/>
<circle cx="239.4" cy="332.0" r="1.50" fill="#555"/>
<circle cx="240.9" cy="334.6" r="1.50" fill="#555"/>
<circle cx="237.6" cy="337.4" r="1.50" fill="#555"/>
<circle cx="244.8" cy="340.6" r="1.50" fill="#555"/>
<circle cx="238.5" cy="344.6" r="1.50" fill="#555"/>
<circle cx="238.0" cy="343.4" r="1.50" fill="#555"/>
<circle cx="243.2" cy="329.8" r="1.50" fill="#555"/>
<circle cx="239.0" cy="334.4" r="1.50" fill="#555"/>
<circle cx="240.0" cy="339.4" r="1.50" fill="#555"/>
<circle cx="238.8" cy="339.9" r="1.50" fill="#555"/>
<circle cx="242.9" cy="329.2" r="1.50" fill="#555"/>
<circle cx="245.7" cy="340.0" r="1.50" fill="#555"/>
<circle cx="237.0" cy="353.2" r="1.50" fill="#555"/>
<circle cx="242.2" cy="318.8" r="1.50" fill="#555"/>
<circle cx="261.5" cy="340.1" r="1.50" fill="#555"/>
<circle cx="261.1" cy="346.0" r="1.50" fill="#555"/>
<circle cx="257.6" cy="337.2" r="1.50" fill="#555"/>
<circle cx="257.2" cy="333.4" r="1.50" fill="#555"/>
<circle cx="258.6" cy="319.2" r="1.50" fill="#555"/>
<circle cx="259.7" cy="332.8" r="1.50" fill="#555"/>
<circle cx="257.5" cy="315.0" r="1.50" fill="#555"/>
<circle cx="260.0" cy="337.9" r="1.50" fill="#555"/>
<circle cx="257.4" cy="332.9" r="1.50" fill="#555"/>
<circle cx="253.5" cy="331.3" r="1.50" fill="#555"/>
<circle cx="252.7" cy="322.3" r="1.50" fill="#555"/>
<circle cx="261.1" cy="332.9" r="1.50" fill="#555"/>
<circle cx="253.7" cy="338.9" r="1.50" fill="#555"/>
<circle cx="258.7" cy="335.8" r="1.50" fill="#555"/>
<circle cx="258.3" cy="347.1" r="1.50" fill="#555"/>
<circle cx="260.3" cy="319.0" r="1.50" fill="#555"/>
<circle cx="258.5" cy="324.4" r="1.50" fill="#555"/>
<circle cx="255.1" cy="327.8" r="1.50" fill="#555"/>
<circle cx="259.4" cy="329.4" r="1.50" fill="#555"/>
<circle cx="260.4" cy="338.7" r="1.50" fill="#555"/>
<circle cx="262.3" cy="336.6" r="1.50" fill="#555"/>
<circle cx="255.4" cy="323.8" r="1.50" fill="#555"/>
<circle cx="261.8" cy="340.7" r="1.50" fill="#555"/>
<circle cx="262.0" cy="340.6" r="1.50" fill="#555"/>
<circle cx="259.0" cy="315.7" r="1.50" fill="#555"/>
<circle cx="254.9" cy="315.9" r="1.50" fill="#555"/>
<circle cx="261.5" cy="329.2" r="1.50" fill="#555"/>
<circle cx="258.7" cy="326.7" r="1.50" fill="#555"/>
<circle cx="258.3" cy="330.4" r="1.50" fill="#555"/>
<circle cx="260.5" cy="317.3" r="1.50" fill="#555"/>
<circle cx="252.5" cy="337.0" r="1.50" fill="#555"/>
<circle cx="254.6" cy="331.5" r="1.50" fill="#555"/>
<circle cx="252.3" cy="327.2" r="1.50" fill="#555"/>
<circle cx="255.5" cy="317.1" r="1.50" fill="#555"/>
<circle cx="260.5" cy="335.0" r="1.50" fill="#555"/>
<circle cx="252.0" cy="329.9" r="1.50" fill="#555"/>
<circle cx="256.1" cy="337.5" r="1.50" fill="#555"/>
<circle cx="253.1" cy="339.2" r="1.50" fill="#555"/>
<circle cx="253.9" cy="339.2" r="1.50" fill="#555"/>
<circle cx="253.4" cy="331.4" r="1.50" fill="#555"/>
<circle cx="258.4" cy="323.0" r="1.50" fill="#555"/>
<circle cx="257.7" cy="339.6" r="1.50" fill="#555"/>
<circle cx="252.2" cy="338.7" r="1.50" fill="#555"/>
<circle cx="252.2" cy="336.6" r="1.50" fill="#555"/>
<circle cx="257.6" cy="328.6" r="1.50" fill="#555"/>
<circle cx="261.2" cy="325.0" r="1.50" fill="#555"/>
<circle cx="259.4" cy="345.5" r="1.50" fill="#555"/>
<circle cx="253.8" cy="328.6" r="1.50" fill="#555"/>
<circle cx="253.2" cy="342.8" r="1.50" fill="#555"/>
<circle cx="253.9" cy="324.8" r="1.50" fill="#555"/>
<circle cx="253.0" cy="342.4" r="1.50" fill="#555"/>
<circle cx="255.9" cy="343.7" r="1.50" fill="#555"/>
<circle cx="257.6" cy="339.8" r="1.50" fill="#555"/>
<circle cx="259.4" cy="333.0" r="1.50" fill="#555"/>
<circle cx="259.1" cy="342.8" r="1.50" fill="#555"/>
<circle cx="254.6" cy="330.1" r="1.50" fill="#555"/>
<circle cx="260.6" cy="330.8" r="1.50" fill="#555"/>
<circle cx="257.8" cy="331.5" r="1.50" fill="#555"/>
<circle cx="252.3" cy="329.5" r="1.50" fill="#555"/>
<circle cx="260.9" cy="323.2" r="1.50" fill="#555"/>
<circle cx="256.9" cy="340.0" r="1.50" fill="#555"/>
<circle cx="254.2" cy="332.3" r="1.50" fill="#555"/>
<circle cx="254.9" cy="332.6" r="1.50" fill="#555"/>
<circle cx="256.3" cy="328.2" r="1.50" fill="#555"/>
<circle cx="259.4" cy="340.4" r="1.50" fill="#555"/>
<circle cx="255.3" cy="339.8" r="1.50" fill="#555"/>
<circle cx="257.0" cy="337.0" r="1.50" fill="#555"/>
<circle cx="262.1" cy="331.3" r="1.50" fill="#555"/>
<circle cx="261.0" cy="328.9" r="1.50" fill="#555"/>
<circle cx="260.0" cy="327.3" r="1.50" fill="#555"/>
<circle cx="258.3" cy="339.6" r="1.50" fill="#555"/>
<circle cx="256.4" cy="325.0" r="1.50" fill="#555"/>
<circle cx="261.1" cy="328.0" r="1.50" fill="#555"/>
<circle cx="258.9" cy="336.4" r="1.50" fill="#555"/>
<circle cx="256.1" cy="332.5" r="1.50" fill="#555"/>
<circle cx="259.4" cy="323.9" r="1.50" fill="#555"/>
<circle cx="255.0" cy="327.8" r="1.50" fill="#555"/>
<circle cx="255.0" cy="325.0" r="1.50" fill="#555"/>
<circle cx="252.5" cy="331.2" r="1.50" fill="#555"/>
<circle cx="257.5" cy="320.4" r="1.50" fill="#555"/>
<circle cx="260.4" cy="309.1" r="1.50" fill="#555"/>
<circle cx="255.5" cy="327.6" r="1.50" fill="#555"/>
<circle cx="256.3" cy="349.0" r="1.50" fill="#555"/>
<circle cx="255.2" cy="314.3" r="1.50" fill="#555"/>
<circle cx="257.9" cy="338.3" r="1.50" fill="#555"/>
<circle cx="253.5" cy="346.7" r="1.50" fill="#555"/>
<circle cx="253.6" cy="327.9" r="1.50" fill="#555"/>
<circle cx="262.0" cy="320.9" r="1.50" fill="#555"/>
<circle cx="252.3" cy="321.9" r="1.50" fill="#555"/>
<circle cx="260.4" cy="336.3" r="1.50" fill="#555"/>
<circle cx="261.1" cy="317.2" r="1.50" fill="#555"/>
<circle cx="252.6" cy="333.1" r="1.50" fill="#555"/>
<circle cx="253.9" cy="338.5" r="1.50" fill="#555"/>
<circle cx="254.4" cy="331.6" r="1.50" fill="#555"/>
<circle cx="254.8" cy="330.1" r="1.50" fill="#555"/>
<circle cx="257.3" cy="331.8" r="1.50" fill="#555"/>
<circle cx="262.2" cy="328.1" r="1.50" fill="#555"/>
<circle cx="258.3" cy="316.0" r="1.50" fill="#555"/>
<circle cx="261.5" cy="338.3" r="1.50" fill="#555"/>
<circle cx="253.5" cy="325.5" r="1.50" fill="#555"/>
<circle cx="257.9" cy="353.2" r="1.50" fill="#555"/>
<circle cx="261.2" cy="297.9" r="1.50" fill="#555"/>
<line x1="183.50" y1="363.60" x2="183.50" y2="280.20" stroke="#333" stroke-width="0.9"/>
<line x1="180.50" y1="363.60" x2="183.50" y2="363.60" stroke="#333" stroke-width="0.9"/>
<text x="179.50" y="366.90" font-size="9.5" text-anchor="end" fill="#222" stroke="#222" stroke-width="0.2">0</text>
<line x1="180.50" y1="342.75" x2="183.50" y2="342.75" stroke="#333" stroke-width="0.9"/>
<text x="179.50" y="346.05" font-size="9.5" text-anchor="end" fill="#222" stroke="#222" stroke-width="0.2">10</text>
<line x1="180.50" y1="321.90" x2="183.50" y2="321.90" stroke="#333" stroke-width="0.9"/>
<text x="179.50" y="325.20" font-size="9.5" text-anchor="end" fill="#222" stroke="#222" stroke-width="0.2">20</text>
<line x1="180.50" y1="301.05" x2="183.50" y2="301.05" stroke="#333" stroke-width="0.9"/>
<text x="179.50" y="304.35" font-size="9.5" text-anchor="end" fill="#222" stroke="#222" stroke-width="0.2">30</text>
<line x1="180.50" y1="280.20" x2="183.50" y2="280.20" stroke="#333" stroke-width="0.9"/>
<text x="179.50" y="283.50" font-size="9.5" text-anchor="end" fill="#222" stroke="#222" stroke-width="0.2">40</text>
<line x1="183.50" y1="363.60" x2="267.70" y2="363.60" stroke="#444" stroke-width="0.9"/>
<line x1="194.15" y1="363.60" x2="194.15" y2="366.10" stroke="#333" stroke-width="0.9"/>
<line x1="210.10" y1="363.60" x2="210.10" y2="366.10" stroke="#333" stroke-width="0.9"/>
<line x1="225.85" y1="363.60" x2="225.85" y2="366.10" stroke="#333" stroke-width="0.9"/>
<line x1="241.40" y1="363.60" x2="241.40" y2="366.10" stroke="#333" stroke-width="0.9"/>
<line x1="257.10" y1="363.60" x2="257.10" y2="366.10" stroke="#333" stroke-width="0.9"/>
<text x="200.90" y="370.70" font-size="8.3" text-anchor="end" fill="#222" stroke="#222" stroke-width="0.2" transform="rotate(-45 200.90 370.70)">MP-0d</text>
<text x="217.70" y="370.70" font-size="8.3" text-anchor="end" fill="#222" stroke="#222" stroke-width="0.2" transform="rotate(-45 217.70 370.70)">MP-3d</text>
<text x="233.10" y="370.70" font-size="8.3" text-anchor="end" fill="#222" stroke="#222" stroke-width="0.2" transform="rotate(-45 233.10 370.70)">MP-7d</text>
<text x="249.80" y="369.20" font-size="8.3" text-anchor="end" fill="#222" stroke="#222" stroke-width="0.2" transform="rotate(-45 249.80 369.20)">MP-14d</text>
<text x="267.40" y="369.20" font-size="8.3" text-anchor="end" fill="#222" stroke="#222" stroke-width="0.2" transform="rotate(-45 267.40 369.20)">MP-28d</text>
<text x="167.50" y="311.00" font-size="9" text-anchor="middle" fill="#222" stroke="#222" stroke-width="0.2" transform="rotate(-90 167.50 311.00)">The width of synaptic cleft (nm)</text>
<line x1="194.20" y1="258.10" x2="257.30" y2="258.10" stroke="#222" stroke-width="0.8"/>
<text x="225.75" y="260.58" font-size="11.5" text-anchor="middle" fill="#222" stroke="#222" stroke-width="0.2">*</text>
<line x1="225.80" y1="269.00" x2="257.30" y2="269.00" stroke="#222" stroke-width="0.8"/>
<text x="241.55" y="271.48" font-size="11.5" text-anchor="middle" fill="#222" stroke="#222" stroke-width="0.2">****</text>
<line x1="194.20" y1="279.20" x2="223.80" y2="279.20" stroke="#222" stroke-width="0.8"/>
<text x="209.00" y="281.68" font-size="11.5" text-anchor="middle" fill="#222" stroke="#222" stroke-width="0.2">****</text>
<line x1="227.50" y1="279.20" x2="241.40" y2="279.20" stroke="#222" stroke-width="0.8"/>
<text x="234.45" y="281.68" font-size="11.5" text-anchor="middle" fill="#222" stroke="#222" stroke-width="0.2">***</text>
<line x1="210.00" y1="287.30" x2="225.80" y2="287.30" stroke="#222" stroke-width="0.8"/>
<text x="217.90" y="289.78" font-size="11.5" text-anchor="middle" fill="#222" stroke="#222" stroke-width="0.2">****</text>
<line x1="241.80" y1="287.30" x2="257.30" y2="287.30" stroke="#222" stroke-width="0.8"/>
<text x="249.55" y="289.78" font-size="11.5" text-anchor="middle" fill="#222" stroke="#222" stroke-width="0.2">**</text>
<text x="279.00" y="249.00" font-size="11.5" text-anchor="start" font-weight="bold" fill="#000">g</text>
<rect x="328.60" y="328.33" width="11.90" height="36.67" fill="#ffffff" stroke="#333" stroke-width="0.9"/>
<line x1="334.55" y1="328.33" x2="334.55" y2="327.44" stroke="#333" stroke-width="0.9"/>
<line x1="331.93" y1="327.44" x2="337.17" y2="327.44" stroke="#333" stroke-width="0.9"/>
<rect x="346.40" y="331.66" width="11.30" height="33.34" fill="#c4c2f0" stroke="#333" stroke-width="0.9"/>
<line x1="352.05" y1="331.66" x2="352.05" y2="330.77" stroke="#333" stroke-width="0.9"/>
<line x1="349.56" y1="330.77" x2="354.54" y2="330.77" stroke="#333" stroke-width="0.9"/>
<rect x="364.20" y="320.55" width="11.40" height="44.45" fill="#9fd4f4" stroke="#333" stroke-width="0.9"/>
<line x1="369.90" y1="320.55" x2="369.90" y2="319.44" stroke="#333" stroke-width="0.9"/>
<line x1="367.39" y1="319.44" x2="372.41" y2="319.44" stroke="#333" stroke-width="0.9"/>
<rect x="381.80" y="335.00" width="11.00" height="30.00" fill="#e07478" stroke="#333" stroke-width="0.9"/>
<line x1="387.30" y1="335.00" x2="387.30" y2="334.33" stroke="#333" stroke-width="0.9"/>
<line x1="384.88" y1="334.33" x2="389.72" y2="334.33" stroke="#333" stroke-width="0.9"/>
<rect x="399.80" y="332.77" width="11.00" height="32.23" fill="#8ed9ac" stroke="#333" stroke-width="0.9"/>
<line x1="405.30" y1="332.77" x2="405.30" y2="332.11" stroke="#333" stroke-width="0.9"/>
<line x1="402.88" y1="332.11" x2="407.72" y2="332.11" stroke="#333" stroke-width="0.9"/>
<circle cx="337.5" cy="334.6" r="1.55" fill="#555"/>
<circle cx="331.0" cy="326.8" r="1.55" fill="#555"/>
<circle cx="331.0" cy="319.7" r="1.55" fill="#555"/>
<circle cx="335.8" cy="318.1" r="1.55" fill="#555"/>
<circle cx="329.2" cy="320.5" r="1.55" fill="#555"/>
<circle cx="337.9" cy="328.0" r="1.55" fill="#555"/>
<circle cx="337.7" cy="326.1" r="1.55" fill="#555"/>
<circle cx="329.1" cy="330.0" r="1.55" fill="#555"/>
<circle cx="336.8" cy="337.0" r="1.55" fill="#555"/>
<circle cx="334.6" cy="331.4" r="1.55" fill="#555"/>
<circle cx="336.2" cy="322.0" r="1.55" fill="#555"/>
<circle cx="340.0" cy="326.7" r="1.55" fill="#555"/>
<circle cx="340.4" cy="330.4" r="1.55" fill="#555"/>
<circle cx="333.5" cy="335.3" r="1.55" fill="#555"/>
<circle cx="338.7" cy="328.9" r="1.55" fill="#555"/>
<circle cx="338.0" cy="332.2" r="1.55" fill="#555"/>
<circle cx="340.2" cy="328.1" r="1.55" fill="#555"/>
<circle cx="328.9" cy="325.1" r="1.55" fill="#555"/>
<circle cx="339.8" cy="343.4" r="1.55" fill="#555"/>
<circle cx="331.2" cy="328.9" r="1.55" fill="#555"/>
<circle cx="330.1" cy="338.0" r="1.55" fill="#555"/>
<circle cx="335.7" cy="334.5" r="1.55" fill="#555"/>
<circle cx="338.6" cy="336.5" r="1.55" fill="#555"/>
<circle cx="340.0" cy="321.0" r="1.55" fill="#555"/>
<circle cx="332.9" cy="323.9" r="1.55" fill="#555"/>
<circle cx="338.5" cy="325.0" r="1.55" fill="#555"/>
<circle cx="328.9" cy="333.2" r="1.55" fill="#555"/>
<circle cx="340.2" cy="337.9" r="1.55" fill="#555"/>
<circle cx="332.1" cy="330.8" r="1.55" fill="#555"/>
<circle cx="335.1" cy="327.0" r="1.55" fill="#555"/>
<circle cx="330.0" cy="328.8" r="1.55" fill="#555"/>
<circle cx="329.1" cy="323.8" r="1.55" fill="#555"/>
<circle cx="328.6" cy="330.7" r="1.55" fill="#555"/>
<circle cx="335.8" cy="316.4" r="1.55" fill="#555"/>
<circle cx="335.3" cy="324.0" r="1.55" fill="#555"/>
<circle cx="338.3" cy="315.1" r="1.55" fill="#555"/>
<circle cx="338.8" cy="326.7" r="1.55" fill="#555"/>
<circle cx="333.6" cy="329.9" r="1.55" fill="#555"/>
<circle cx="338.7" cy="333.9" r="1.55" fill="#555"/>
<circle cx="331.0" cy="323.0" r="1.55" fill="#555"/>
<circle cx="339.1" cy="321.4" r="1.55" fill="#555"/>
<circle cx="331.6" cy="327.3" r="1.55" fill="#555"/>
<circle cx="339.8" cy="325.6" r="1.55" fill="#555"/>
<circle cx="333.2" cy="330.1" r="1.55" fill="#555"/>
<circle cx="333.7" cy="331.1" r="1.55" fill="#555"/>
<circle cx="334.8" cy="330.3" r="1.55" fill="#555"/>
<circle cx="329.3" cy="340.8" r="1.55" fill="#555"/>
<circle cx="329.4" cy="335.1" r="1.55" fill="#555"/>
<circle cx="335.1" cy="328.1" r="1.55" fill="#555"/>
<circle cx="337.1" cy="327.5" r="1.55" fill="#555"/>
<circle cx="329.1" cy="321.1" r="1.55" fill="#555"/>
<circle cx="333.4" cy="324.2" r="1.55" fill="#555"/>
<circle cx="333.0" cy="325.5" r="1.55" fill="#555"/>
<circle cx="337.9" cy="328.0" r="1.55" fill="#555"/>
<circle cx="340.4" cy="343.3" r="1.55" fill="#555"/>
<circle cx="329.6" cy="328.0" r="1.55" fill="#555"/>
<circle cx="335.1" cy="334.2" r="1.55" fill="#555"/>
<circle cx="329.8" cy="325.1" r="1.55" fill="#555"/>
<circle cx="338.0" cy="330.2" r="1.55" fill="#555"/>
<circle cx="339.9" cy="330.6" r="1.55" fill="#555"/>
<circle cx="337.0" cy="331.9" r="1.55" fill="#555"/>
<circle cx="335.5" cy="330.3" r="1.55" fill="#555"/>
<circle cx="329.0" cy="341.4" r="1.55" fill="#555"/>
<circle cx="329.7" cy="339.0" r="1.55" fill="#555"/>
<circle cx="331.4" cy="320.3" r="1.55" fill="#555"/>
<circle cx="329.5" cy="325.5" r="1.55" fill="#555"/>
<circle cx="330.2" cy="331.3" r="1.55" fill="#555"/>
<circle cx="340.1" cy="330.7" r="1.55" fill="#555"/>
<circle cx="332.7" cy="330.8" r="1.55" fill="#555"/>
<circle cx="339.4" cy="306.8" r="1.55" fill="#555"/>
<circle cx="337.7" cy="324.9" r="1.55" fill="#555"/>
<circle cx="337.9" cy="328.4" r="1.55" fill="#555"/>
<circle cx="339.5" cy="332.8" r="1.55" fill="#555"/>
<circle cx="336.9" cy="344.1" r="1.55" fill="#555"/>
<circle cx="332.7" cy="327.6" r="1.55" fill="#555"/>
<circle cx="334.2" cy="319.2" r="1.55" fill="#555"/>
<circle cx="333.2" cy="322.2" r="1.55" fill="#555"/>
<circle cx="328.9" cy="326.6" r="1.55" fill="#555"/>
<circle cx="329.1" cy="332.4" r="1.55" fill="#555"/>
<circle cx="335.4" cy="336.2" r="1.55" fill="#555"/>
<circle cx="334.8" cy="327.9" r="1.55" fill="#555"/>
<circle cx="340.2" cy="331.1" r="1.55" fill="#555"/>
<circle cx="336.0" cy="336.0" r="1.55" fill="#555"/>
<circle cx="338.4" cy="317.4" r="1.55" fill="#555"/>
<circle cx="334.3" cy="334.6" r="1.55" fill="#555"/>
<circle cx="335.5" cy="332.0" r="1.55" fill="#555"/>
<circle cx="338.3" cy="344.3" r="1.55" fill="#555"/>
<circle cx="329.0" cy="317.1" r="1.55" fill="#555"/>
<circle cx="328.8" cy="329.5" r="1.55" fill="#555"/>
<circle cx="333.7" cy="328.9" r="1.55" fill="#555"/>
<circle cx="332.1" cy="326.5" r="1.55" fill="#555"/>
<circle cx="333.7" cy="334.0" r="1.55" fill="#555"/>
<circle cx="329.3" cy="332.6" r="1.55" fill="#555"/>
<circle cx="330.6" cy="326.5" r="1.55" fill="#555"/>
<circle cx="329.7" cy="333.9" r="1.55" fill="#555"/>
<circle cx="335.9" cy="326.3" r="1.55" fill="#555"/>
<circle cx="328.9" cy="320.4" r="1.55" fill="#555"/>
<circle cx="328.8" cy="323.4" r="1.55" fill="#555"/>
<circle cx="336.7" cy="319.0" r="1.55" fill="#555"/>
<circle cx="333.6" cy="321.3" r="1.55" fill="#555"/>
<circle cx="328.8" cy="350.6" r="1.55" fill="#555"/>
<circle cx="339.8" cy="306.1" r="1.55" fill="#555"/>
<circle cx="356.1" cy="337.9" r="1.55" fill="#555"/>
<circle cx="354.7" cy="325.9" r="1.55" fill="#555"/>
<circle cx="355.6" cy="337.2" r="1.55" fill="#555"/>
<circle cx="354.7" cy="329.0" r="1.55" fill="#555"/>
<circle cx="354.4" cy="330.2" r="1.55" fill="#555"/>
<circle cx="354.3" cy="340.1" r="1.55" fill="#555"/>
<circle cx="349.9" cy="322.9" r="1.55" fill="#555"/>
<circle cx="356.2" cy="327.8" r="1.55" fill="#555"/>
<circle cx="354.3" cy="322.4" r="1.55" fill="#555"/>
<circle cx="352.0" cy="325.3" r="1.55" fill="#555"/>
<circle cx="347.1" cy="332.7" r="1.55" fill="#555"/>
<circle cx="353.4" cy="335.1" r="1.55" fill="#555"/>
<circle cx="347.3" cy="333.0" r="1.55" fill="#555"/>
<circle cx="353.9" cy="334.2" r="1.55" fill="#555"/>
<circle cx="357.4" cy="321.7" r="1.55" fill="#555"/>
<circle cx="353.0" cy="330.5" r="1.55" fill="#555"/>
<circle cx="357.7" cy="332.8" r="1.55" fill="#555"/>
<circle cx="354.2" cy="320.4" r="1.55" fill="#555"/>
<circle cx="349.0" cy="336.2" r="1.55" fill="#555"/>
<circle cx="349.4" cy="332.0" r="1.55" fill="#555"/>
<circle cx="353.0" cy="327.7" r="1.55" fill="#555"/>
<circle cx="354.0" cy="328.9" r="1.55" fill="#555"/>
<circle cx="352.7" cy="329.1" r="1.55" fill="#555"/>
<circle cx="353.4" cy="324.7" r="1.55" fill="#555"/>
<circle cx="351.5" cy="329.5" r="1.55" fill="#555"/>
<circle cx="351.6" cy="330.4" r="1.55" fill="#555"/>
<circle cx="352.9" cy="337.1" r="1.55" fill="#555"/>
<circle cx="351.0" cy="319.8" r="1.55" fill="#555"/>
<circle cx="347.4" cy="330.6" r="1.55" fill="#555"/>
<circle cx="351.8" cy="333.3" r="1.55" fill="#555"/>
<circle cx="346.7" cy="324.2" r="1.55" fill="#555"/>
<circle cx="357.1" cy="334.6" r="1.55" fill="#555"/>
<circle cx="346.4" cy="314.9" r="1.55" fill="#555"/>
<circle cx="349.5" cy="331.8" r="1.55" fill="#555"/>
<circle cx="347.7" cy="337.2" r="1.55" fill="#555"/>
<circle cx="353.6" cy="326.5" r="1.55" fill="#555"/>
<circle cx="353.8" cy="327.0" r="1.55" fill="#555"/>
<circle cx="349.4" cy="326.3" r="1.55" fill="#555"/>
<circle cx="347.0" cy="325.0" r="1.55" fill="#555"/>
<circle cx="348.8" cy="329.2" r="1.55" fill="#555"/>
<circle cx="355.8" cy="340.2" r="1.55" fill="#555"/>
<circle cx="351.1" cy="328.5" r="1.55" fill="#555"/>
<circle cx="348.2" cy="341.0" r="1.55" fill="#555"/>
<circle cx="356.2" cy="333.0" r="1.55" fill="#555"/>
<circle cx="347.0" cy="322.8" r="1.55" fill="#555"/>
<circle cx="356.9" cy="336.5" r="1.55" fill="#555"/>
<circle cx="346.1" cy="335.6" r="1.55" fill="#555"/>
<circle cx="356.1" cy="326.9" r="1.55" fill="#555"/>
<circle cx="347.0" cy="334.2" r="1.55" fill="#555"/>
<circle cx="347.6" cy="323.4" r="1.55" fill="#555"/>
<circle cx="356.8" cy="323.0" r="1.55" fill="#555"/>
<circle cx="352.6" cy="330.0" r="1.55" fill="#555"/>
<circle cx="351.2" cy="335.2" r="1.55" fill="#555"/>
<circle cx="350.4" cy="328.4" r="1.55" fill="#555"/>
<circle cx="349.8" cy="344.5" r="1.55" fill="#555"/>
<circle cx="346.2" cy="329.5" r="1.55" fill="#555"/>
<circle cx="356.1" cy="324.4" r="1.55" fill="#555"/>
<circle cx="348.4" cy="338.7" r="1.55" fill="#555"/>
<circle cx="356.4" cy="336.2" r="1.55" fill="#555"/>
<circle cx="351.1" cy="324.4" r="1.55" fill="#555"/>
<circle cx="354.6" cy="327.5" r="1.55" fill="#555"/>
<circle cx="351.6" cy="336.0" r="1.55" fill="#555"/>
<circle cx="348.9" cy="334.5" r="1.55" fill="#555"/>
<circle cx="347.2" cy="322.8" r="1.55" fill="#555"/>
<circle cx="349.3" cy="327.7" r="1.55" fill="#555"/>
<circle cx="357.2" cy="339.4" r="1.55" fill="#555"/>
<circle cx="346.5" cy="336.0" r="1.55" fill="#555"/>
<circle cx="354.4" cy="336.9" r="1.55" fill="#555"/>
<circle cx="354.6" cy="329.4" r="1.55" fill="#555"/>
<circle cx="350.2" cy="341.1" r="1.55" fill="#555"/>
<circle cx="350.4" cy="333.3" r="1.55" fill="#555"/>
<circle cx="348.7" cy="327.8" r="1.55" fill="#555"/>
<circle cx="356.0" cy="344.8" r="1.55" fill="#555"/>
<circle cx="353.7" cy="339.1" r="1.55" fill="#555"/>
<circle cx="347.4" cy="327.3" r="1.55" fill="#555"/>
<circle cx="350.8" cy="329.8" r="1.55" fill="#555"/>
<circle cx="354.5" cy="329.7" r="1.55" fill="#555"/>
<circle cx="354.0" cy="329.3" r="1.55" fill="#555"/>
<circle cx="347.4" cy="334.0" r="1.55" fill="#555"/>
<circle cx="350.4" cy="331.5" r="1.55" fill="#555"/>
<circle cx="351.4" cy="323.4" r="1.55" fill="#555"/>
<circle cx="351.4" cy="338.6" r="1.55" fill="#555"/>
<circle cx="357.6" cy="332.4" r="1.55" fill="#555"/>
<circle cx="350.2" cy="333.1" r="1.55" fill="#555"/>
<circle cx="346.1" cy="331.4" r="1.55" fill="#555"/>
<circle cx="347.2" cy="324.3" r="1.55" fill="#555"/>
<circle cx="349.9" cy="343.5" r="1.55" fill="#555"/>
<circle cx="356.6" cy="319.3" r="1.55" fill="#555"/>
<circle cx="355.2" cy="338.7" r="1.55" fill="#555"/>
<circle cx="349.9" cy="335.1" r="1.55" fill="#555"/>
<circle cx="351.5" cy="345.0" r="1.55" fill="#555"/>
<circle cx="346.4" cy="302.8" r="1.55" fill="#555"/>
<circle cx="375.6" cy="310.3" r="1.55" fill="#555"/>
<circle cx="368.6" cy="318.2" r="1.55" fill="#555"/>
<circle cx="365.7" cy="329.4" r="1.55" fill="#555"/>
<circle cx="375.6" cy="328.2" r="1.55" fill="#555"/>
<circle cx="373.5" cy="323.0" r="1.55" fill="#555"/>
<circle cx="371.4" cy="318.9" r="1.55" fill="#555"/>
<circle cx="374.7" cy="316.6" r="1.55" fill="#555"/>
<circle cx="371.4" cy="310.7" r="1.55" fill="#555"/>
<circle cx="364.2" cy="319.4" r="1.55" fill="#555"/>
<circle cx="373.0" cy="318.0" r="1.55" fill="#555"/>
<circle cx="371.1" cy="325.9" r="1.55" fill="#555"/>
<circle cx="374.2" cy="313.6" r="1.55" fill="#555"/>
<circle cx="366.9" cy="322.3" r="1.55" fill="#555"/>
<circle cx="375.6" cy="320.9" r="1.55" fill="#555"/>
<circle cx="372.6" cy="319.4" r="1.55" fill="#555"/>
<circle cx="367.4" cy="327.5" r="1.55" fill="#555"/>
<circle cx="370.5" cy="320.3" r="1.55" fill="#555"/>
<circle cx="364.3" cy="321.5" r="1.55" fill="#555"/>
<circle cx="367.5" cy="310.6" r="1.55" fill="#555"/>
<circle cx="372.9" cy="323.5" r="1.55" fill="#555"/>
<circle cx="367.8" cy="298.0" r="1.55" fill="#555"/>
<circle cx="367.8" cy="323.9" r="1.55" fill="#555"/>
<circle cx="375.1" cy="318.7" r="1.55" fill="#555"/>
<circle cx="374.9" cy="323.7" r="1.55" fill="#555"/>
<circle cx="372.1" cy="323.8" r="1.55" fill="#555"/>
<circle cx="369.1" cy="316.0" r="1.55" fill="#555"/>
<circle cx="373.8" cy="319.6" r="1.55" fill="#555"/>
<circle cx="375.1" cy="325.5" r="1.55" fill="#555"/>
<circle cx="365.0" cy="319.9" r="1.55" fill="#555"/>
<circle cx="365.4" cy="316.8" r="1.55" fill="#555"/>
<circle cx="364.7" cy="307.2" r="1.55" fill="#555"/>
<circle cx="366.1" cy="308.0" r="1.55" fill="#555"/>
<circle cx="369.1" cy="313.1" r="1.55" fill="#555"/>
<circle cx="368.1" cy="321.7" r="1.55" fill="#555"/>
<circle cx="366.2" cy="321.0" r="1.55" fill="#555"/>
<circle cx="374.2" cy="329.3" r="1.55" fill="#555"/>
<circle cx="366.6" cy="327.9" r="1.55" fill="#555"/>
<circle cx="373.3" cy="321.6" r="1.55" fill="#555"/>
<circle cx="366.2" cy="324.3" r="1.55" fill="#555"/>
<circle cx="372.9" cy="324.8" r="1.55" fill="#555"/>
<circle cx="369.5" cy="320.9" r="1.55" fill="#555"/>
<circle cx="371.7" cy="311.2" r="1.55" fill="#555"/>
<circle cx="372.1" cy="317.8" r="1.55" fill="#555"/>
<circle cx="367.8" cy="312.6" r="1.55" fill="#555"/>
<circle cx="371.7" cy="319.0" r="1.55" fill="#555"/>
<circle cx="367.7" cy="321.1" r="1.55" fill="#555"/>
<circle cx="375.3" cy="309.4" r="1.55" fill="#555"/>
<circle cx="366.7" cy="312.1" r="1.55" fill="#555"/>
<circle cx="375.6" cy="315.0" r="1.55" fill="#555"/>
<circle cx="368.3" cy="318.4" r="1.55" fill="#555"/>
<circle cx="373.5" cy="314.2" r="1.55" fill="#555"/>
<circle cx="364.5" cy="329.1" r="1.55" fill="#555"/>
<circle cx="367.1" cy="320.1" r="1.55" fill="#555"/>
<circle cx="368.1" cy="317.9" r="1.55" fill="#555"/>
<circle cx="375.0" cy="321.6" r="1.55" fill="#555"/>
<circle cx="373.7" cy="314.1" r="1.55" fill="#555"/>
<circle cx="370.7" cy="314.0" r="1.55" fill="#555"/>
<circle cx="375.3" cy="316.8" r="1.55" fill="#555"/>
<circle cx="375.2" cy="336.9" r="1.55" fill="#555"/>
<circle cx="367.4" cy="306.1" r="1.55" fill="#555"/>
<circle cx="367.6" cy="327.3" r="1.55" fill="#555"/>
<circle cx="365.2" cy="302.7" r="1.55" fill="#555"/>
<circle cx="371.1" cy="330.4" r="1.55" fill="#555"/>
<circle cx="364.7" cy="314.9" r="1.55" fill="#555"/>
<circle cx="375.2" cy="316.7" r="1.55" fill="#555"/>
<circle cx="368.8" cy="320.4" r="1.55" fill="#555"/>
<circle cx="366.5" cy="310.0" r="1.55" fill="#555"/>
<circle cx="375.4" cy="327.7" r="1.55" fill="#555"/>
<circle cx="373.5" cy="320.2" r="1.55" fill="#555"/>
<circle cx="371.4" cy="316.5" r="1.55" fill="#555"/>
<circle cx="371.7" cy="327.3" r="1.55" fill="#555"/>
<circle cx="365.4" cy="319.0" r="1.55" fill="#555"/>
<circle cx="369.4" cy="314.5" r="1.55" fill="#555"/>
<circle cx="366.0" cy="330.9" r="1.55" fill="#555"/>
<circle cx="370.8" cy="318.0" r="1.55" fill="#555"/>
<circle cx="364.7" cy="328.2" r="1.55" fill="#555"/>
<circle cx="370.5" cy="324.0" r="1.55" fill="#555"/>
<circle cx="367.8" cy="317.5" r="1.55" fill="#555"/>
<circle cx="368.7" cy="313.3" r="1.55" fill="#555"/>
<circle cx="375.5" cy="322.7" r="1.55" fill="#555"/>
<circle cx="369.5" cy="316.3" r="1.55" fill="#555"/>
<circle cx="373.2" cy="325.4" r="1.55" fill="#555"/>
<circle cx="364.1" cy="321.9" r="1.55" fill="#555"/>
<circle cx="369.6" cy="323.3" r="1.55" fill="#555"/>
<circle cx="369.9" cy="331.6" r="1.55" fill="#555"/>
<circle cx="367.1" cy="313.5" r="1.55" fill="#555"/>
<circle cx="375.2" cy="312.3" r="1.55" fill="#555"/>
<circle cx="372.7" cy="325.0" r="1.55" fill="#555"/>
<circle cx="374.4" cy="313.3" r="1.55" fill="#555"/>
<circle cx="368.2" cy="330.9" r="1.55" fill="#555"/>
<circle cx="364.9" cy="328.7" r="1.55" fill="#555"/>
<circle cx="367.2" cy="311.1" r="1.55" fill="#555"/>
<circle cx="366.6" cy="329.0" r="1.55" fill="#555"/>
<circle cx="365.9" cy="318.2" r="1.55" fill="#555"/>
<circle cx="375.0" cy="311.1" r="1.55" fill="#555"/>
<circle cx="374.8" cy="321.3" r="1.55" fill="#555"/>
<circle cx="364.3" cy="319.2" r="1.55" fill="#555"/>
<circle cx="370.9" cy="328.9" r="1.55" fill="#555"/>
<circle cx="372.7" cy="323.4" r="1.55" fill="#555"/>
<circle cx="365.9" cy="315.9" r="1.55" fill="#555"/>
<circle cx="370.1" cy="325.7" r="1.55" fill="#555"/>
<circle cx="367.1" cy="315.9" r="1.55" fill="#555"/>
<circle cx="373.5" cy="328.6" r="1.55" fill="#555"/>
<circle cx="374.7" cy="310.5" r="1.55" fill="#555"/>
<circle cx="373.1" cy="313.3" r="1.55" fill="#555"/>
<circle cx="369.3" cy="322.6" r="1.55" fill="#555"/>
<circle cx="369.5" cy="311.2" r="1.55" fill="#555"/>
<circle cx="365.7" cy="319.5" r="1.55" fill="#555"/>
<circle cx="366.9" cy="320.1" r="1.55" fill="#555"/>
<circle cx="373.0" cy="318.5" r="1.55" fill="#555"/>
<circle cx="370.2" cy="337.2" r="1.55" fill="#555"/>
<circle cx="369.0" cy="291.7" r="1.55" fill="#555"/>
<circle cx="381.7" cy="335.9" r="1.55" fill="#555"/>
<circle cx="389.1" cy="339.5" r="1.55" fill="#555"/>
<circle cx="393.0" cy="326.6" r="1.55" fill="#555"/>
<circle cx="387.2" cy="335.7" r="1.55" fill="#555"/>
<circle cx="385.4" cy="344.8" r="1.55" fill="#555"/>
<circle cx="392.8" cy="328.2" r="1.55" fill="#555"/>
<circle cx="392.4" cy="341.3" r="1.55" fill="#555"/>
<circle cx="383.5" cy="329.7" r="1.55" fill="#555"/>
<circle cx="385.1" cy="330.0" r="1.55" fill="#555"/>
<circle cx="384.0" cy="340.5" r="1.55" fill="#555"/>
<circle cx="382.4" cy="344.4" r="1.55" fill="#555"/>
<circle cx="384.7" cy="323.2" r="1.55" fill="#555"/>
<circle cx="392.8" cy="330.9" r="1.55" fill="#555"/>
<circle cx="391.9" cy="321.8" r="1.55" fill="#555"/>
<circle cx="381.4" cy="339.6" r="1.55" fill="#555"/>
<circle cx="381.9" cy="334.3" r="1.55" fill="#555"/>
<circle cx="388.3" cy="338.8" r="1.55" fill="#555"/>
<circle cx="392.7" cy="332.5" r="1.55" fill="#555"/>
<circle cx="386.7" cy="330.3" r="1.55" fill="#555"/>
<circle cx="391.1" cy="331.2" r="1.55" fill="#555"/>
<circle cx="392.1" cy="338.3" r="1.55" fill="#555"/>
<circle cx="383.2" cy="336.5" r="1.55" fill="#555"/>
<circle cx="392.6" cy="327.4" r="1.55" fill="#555"/>
<circle cx="385.3" cy="330.8" r="1.55" fill="#555"/>
<circle cx="382.2" cy="332.2" r="1.55" fill="#555"/>
<circle cx="390.1" cy="342.1" r="1.55" fill="#555"/>
<circle cx="385.7" cy="335.8" r="1.55" fill="#555"/>
<circle cx="392.2" cy="331.1" r="1.55" fill="#555"/>
<circle cx="389.1" cy="335.1" r="1.55" fill="#555"/>
<circle cx="382.8" cy="329.3" r="1.55" fill="#555"/>
<circle cx="382.4" cy="327.5" r="1.55" fill="#555"/>
<circle cx="383.9" cy="335.1" r="1.55" fill="#555"/>
<circle cx="392.1" cy="337.0" r="1.55" fill="#555"/>
<circle cx="386.5" cy="336.0" r="1.55" fill="#555"/>
<circle cx="392.4" cy="329.4" r="1.55" fill="#555"/>
<circle cx="382.5" cy="341.8" r="1.55" fill="#555"/>
<circle cx="390.8" cy="338.7" r="1.55" fill="#555"/>
<circle cx="390.1" cy="325.0" r="1.55" fill="#555"/>
<circle cx="384.6" cy="338.2" r="1.55" fill="#555"/>
<circle cx="390.3" cy="340.4" r="1.55" fill="#555"/>
<circle cx="389.9" cy="333.4" r="1.55" fill="#555"/>
<circle cx="385.7" cy="335.0" r="1.55" fill="#555"/>
<circle cx="384.8" cy="338.3" r="1.55" fill="#555"/>
<circle cx="385.9" cy="341.6" r="1.55" fill="#555"/>
<circle cx="392.8" cy="331.5" r="1.55" fill="#555"/>
<circle cx="389.2" cy="330.7" r="1.55" fill="#555"/>
<circle cx="385.7" cy="341.8" r="1.55" fill="#555"/>
<circle cx="386.3" cy="327.1" r="1.55" fill="#555"/>
<circle cx="390.4" cy="334.5" r="1.55" fill="#555"/>
<circle cx="392.7" cy="324.8" r="1.55" fill="#555"/>
<circle cx="387.3" cy="331.7" r="1.55" fill="#555"/>
<circle cx="385.8" cy="338.7" r="1.55" fill="#555"/>
<circle cx="383.1" cy="330.2" r="1.55" fill="#555"/>
<circle cx="383.5" cy="342.7" r="1.55" fill="#555"/>
<circle cx="384.7" cy="327.0" r="1.55" fill="#555"/>
<circle cx="390.2" cy="329.9" r="1.55" fill="#555"/>
<circle cx="386.0" cy="339.4" r="1.55" fill="#555"/>
<circle cx="388.0" cy="335.6" r="1.55" fill="#555"/>
<circle cx="383.6" cy="339.0" r="1.55" fill="#555"/>
<circle cx="387.5" cy="331.9" r="1.55" fill="#555"/>
<circle cx="388.5" cy="332.8" r="1.55" fill="#555"/>
<circle cx="389.2" cy="341.8" r="1.55" fill="#555"/>
<circle cx="386.9" cy="335.3" r="1.55" fill="#555"/>
<circle cx="384.6" cy="330.3" r="1.55" fill="#555"/>
<circle cx="392.7" cy="342.5" r="1.55" fill="#555"/>
<circle cx="385.7" cy="333.6" r="1.55" fill="#555"/>
<circle cx="384.2" cy="334.9" r="1.55" fill="#555"/>
<circle cx="390.3" cy="336.0" r="1.55" fill="#555"/>
<circle cx="388.5" cy="337.9" r="1.55" fill="#555"/>
<circle cx="391.2" cy="339.8" r="1.55" fill="#555"/>
<circle cx="382.0" cy="331.3" r="1.55" fill="#555"/>
<circle cx="388.2" cy="313.5" r="1.55" fill="#555"/>
<circle cx="382.7" cy="325.3" r="1.55" fill="#555"/>
<circle cx="388.5" cy="333.3" r="1.55" fill="#555"/>
<circle cx="392.4" cy="343.6" r="1.55" fill="#555"/>
<circle cx="391.8" cy="338.1" r="1.55" fill="#555"/>
<circle cx="392.5" cy="339.7" r="1.55" fill="#555"/>
<circle cx="387.7" cy="336.5" r="1.55" fill="#555"/>
<circle cx="383.5" cy="340.4" r="1.55" fill="#555"/>
<circle cx="392.3" cy="337.0" r="1.55" fill="#555"/>
<circle cx="385.9" cy="333.5" r="1.55" fill="#555"/>
<circle cx="383.1" cy="333.0" r="1.55" fill="#555"/>
<circle cx="391.7" cy="339.2" r="1.55" fill="#555"/>
<circle cx="389.1" cy="344.3" r="1.55" fill="#555"/>
<circle cx="389.0" cy="332.9" r="1.55" fill="#555"/>
<circle cx="391.7" cy="339.7" r="1.55" fill="#555"/>
<circle cx="385.1" cy="324.1" r="1.55" fill="#555"/>
<circle cx="384.8" cy="327.7" r="1.55" fill="#555"/>
<circle cx="389.3" cy="341.6" r="1.55" fill="#555"/>
<circle cx="382.6" cy="342.2" r="1.55" fill="#555"/>
<circle cx="387.3" cy="345.0" r="1.55" fill="#555"/>
<circle cx="385.1" cy="312.8" r="1.55" fill="#555"/>
<circle cx="410.3" cy="341.2" r="1.55" fill="#555"/>
<circle cx="404.6" cy="343.3" r="1.55" fill="#555"/>
<circle cx="411.0" cy="338.6" r="1.55" fill="#555"/>
<circle cx="400.6" cy="329.3" r="1.55" fill="#555"/>
<circle cx="410.3" cy="346.4" r="1.55" fill="#555"/>
<circle cx="403.7" cy="329.3" r="1.55" fill="#555"/>
<circle cx="399.5" cy="327.8" r="1.55" fill="#555"/>
<circle cx="403.5" cy="326.7" r="1.55" fill="#555"/>
<circle cx="406.7" cy="334.3" r="1.55" fill="#555"/>
<circle cx="406.6" cy="334.4" r="1.55" fill="#555"/>
<circle cx="409.0" cy="325.8" r="1.55" fill="#555"/>
<circle cx="403.2" cy="327.7" r="1.55" fill="#555"/>
<circle cx="406.5" cy="321.8" r="1.55" fill="#555"/>
<circle cx="409.8" cy="334.6" r="1.55" fill="#555"/>
<circle cx="403.6" cy="334.9" r="1.55" fill="#555"/>
<circle cx="410.8" cy="325.4" r="1.55" fill="#555"/>
<circle cx="405.7" cy="334.5" r="1.55" fill="#555"/>
<circle cx="406.3" cy="333.0" r="1.55" fill="#555"/>
<circle cx="406.3" cy="324.2" r="1.55" fill="#555"/>
<circle cx="405.4" cy="327.3" r="1.55" fill="#555"/>
<circle cx="404.7" cy="334.6" r="1.55" fill="#555"/>
<circle cx="403.2" cy="328.7" r="1.55" fill="#555"/>
<circle cx="401.3" cy="332.4" r="1.55" fill="#555"/>
<circle cx="404.5" cy="325.7" r="1.55" fill="#555"/>
<circle cx="406.6" cy="330.0" r="1.55" fill="#555"/>
<circle cx="406.5" cy="337.4" r="1.55" fill="#555"/>
<circle cx="409.9" cy="332.5" r="1.55" fill="#555"/>
<circle cx="409.1" cy="331.7" r="1.55" fill="#555"/>
<circle cx="399.4" cy="335.9" r="1.55" fill="#555"/>
<circle cx="405.4" cy="332.1" r="1.55" fill="#555"/>
<circle cx="409.3" cy="334.4" r="1.55" fill="#555"/>
<circle cx="410.9" cy="328.6" r="1.55" fill="#555"/>
<circle cx="403.8" cy="328.9" r="1.55" fill="#555"/>
<circle cx="409.1" cy="324.8" r="1.55" fill="#555"/>
<circle cx="404.6" cy="327.3" r="1.55" fill="#555"/>
<circle cx="405.6" cy="335.1" r="1.55" fill="#555"/>
<circle cx="408.9" cy="336.3" r="1.55" fill="#555"/>
<circle cx="410.5" cy="337.0" r="1.55" fill="#555"/>
<circle cx="404.1" cy="326.0" r="1.55" fill="#555"/>
<circle cx="402.2" cy="336.8" r="1.55" fill="#555"/>
<circle cx="408.3" cy="322.7" r="1.55" fill="#555"/>
<circle cx="400.7" cy="330.9" r="1.55" fill="#555"/>
<circle cx="410.1" cy="332.3" r="1.55" fill="#555"/>
<circle cx="407.5" cy="330.9" r="1.55" fill="#555"/>
<circle cx="409.8" cy="331.3" r="1.55" fill="#555"/>
<circle cx="400.8" cy="334.2" r="1.55" fill="#555"/>
<circle cx="411.1" cy="338.4" r="1.55" fill="#555"/>
<circle cx="405.5" cy="341.9" r="1.55" fill="#555"/>
<circle cx="400.7" cy="336.2" r="1.55" fill="#555"/>
<circle cx="403.7" cy="324.1" r="1.55" fill="#555"/>
<circle cx="401.0" cy="328.3" r="1.55" fill="#555"/>
<circle cx="404.4" cy="336.6" r="1.55" fill="#555"/>
<circle cx="407.8" cy="347.1" r="1.55" fill="#555"/>
<circle cx="401.1" cy="325.2" r="1.55" fill="#555"/>
<circle cx="403.1" cy="329.8" r="1.55" fill="#555"/>
<circle cx="405.5" cy="344.8" r="1.55" fill="#555"/>
<circle cx="406.9" cy="333.4" r="1.55" fill="#555"/>
<circle cx="407.0" cy="338.8" r="1.55" fill="#555"/>
<circle cx="404.3" cy="325.9" r="1.55" fill="#555"/>
<circle cx="410.4" cy="328.2" r="1.55" fill="#555"/>
<circle cx="399.4" cy="336.2" r="1.55" fill="#555"/>
<circle cx="404.1" cy="345.9" r="1.55" fill="#555"/>
<circle cx="408.3" cy="334.0" r="1.55" fill="#555"/>
<circle cx="399.8" cy="329.2" r="1.55" fill="#555"/>
<circle cx="408.0" cy="335.4" r="1.55" fill="#555"/>
<circle cx="400.6" cy="326.4" r="1.55" fill="#555"/>
<circle cx="404.3" cy="335.4" r="1.55" fill="#555"/>
<circle cx="402.1" cy="322.0" r="1.55" fill="#555"/>
<circle cx="406.0" cy="342.9" r="1.55" fill="#555"/>
<circle cx="403.2" cy="334.9" r="1.55" fill="#555"/>
<circle cx="407.7" cy="322.6" r="1.55" fill="#555"/>
<circle cx="406.6" cy="325.0" r="1.55" fill="#555"/>
<circle cx="406.7" cy="328.7" r="1.55" fill="#555"/>
<circle cx="400.2" cy="341.3" r="1.55" fill="#555"/>
<circle cx="402.4" cy="332.0" r="1.55" fill="#555"/>
<circle cx="405.3" cy="328.0" r="1.55" fill="#555"/>
<circle cx="406.7" cy="335.0" r="1.55" fill="#555"/>
<circle cx="404.3" cy="332.1" r="1.55" fill="#555"/>
<circle cx="404.6" cy="326.7" r="1.55" fill="#555"/>
<circle cx="405.4" cy="334.6" r="1.55" fill="#555"/>
<circle cx="406.7" cy="329.0" r="1.55" fill="#555"/>
<circle cx="407.9" cy="333.9" r="1.55" fill="#555"/>
<circle cx="401.6" cy="339.4" r="1.55" fill="#555"/>
<circle cx="400.3" cy="341.7" r="1.55" fill="#555"/>
<circle cx="402.4" cy="336.8" r="1.55" fill="#555"/>
<circle cx="410.3" cy="337.9" r="1.55" fill="#555"/>
<circle cx="405.8" cy="326.2" r="1.55" fill="#555"/>
<circle cx="400.5" cy="332.0" r="1.55" fill="#555"/>
<circle cx="407.3" cy="344.3" r="1.55" fill="#555"/>
<circle cx="399.9" cy="323.2" r="1.55" fill="#555"/>
<circle cx="401.4" cy="347.2" r="1.55" fill="#555"/>
<circle cx="400.1" cy="321.7" r="1.55" fill="#555"/>
<line x1="322.50" y1="365.00" x2="322.50" y2="276.10" stroke="#333" stroke-width="0.9"/>
<line x1="319.50" y1="365.00" x2="322.50" y2="365.00" stroke="#333" stroke-width="0.9"/>
<text x="318.50" y="368.30" font-size="9.5" text-anchor="end" fill="#222" stroke="#222" stroke-width="0.2">0</text>
<line x1="319.50" y1="342.77" x2="322.50" y2="342.77" stroke="#333" stroke-width="0.9"/>
<text x="318.50" y="346.07" font-size="9.5" text-anchor="end" fill="#222" stroke="#222" stroke-width="0.2">10</text>
<line x1="319.50" y1="320.55" x2="322.50" y2="320.55" stroke="#333" stroke-width="0.9"/>
<text x="318.50" y="323.85" font-size="9.5" text-anchor="end" fill="#222" stroke="#222" stroke-width="0.2">20</text>
<line x1="319.50" y1="298.33" x2="322.50" y2="298.33" stroke="#333" stroke-width="0.9"/>
<text x="318.50" y="301.63" font-size="9.5" text-anchor="end" fill="#222" stroke="#222" stroke-width="0.2">30</text>
<line x1="319.50" y1="276.10" x2="322.50" y2="276.10" stroke="#333" stroke-width="0.9"/>
<text x="318.50" y="279.40" font-size="9.5" text-anchor="end" fill="#222" stroke="#222" stroke-width="0.2">40</text>
<line x1="322.50" y1="365.00" x2="416.50" y2="365.00" stroke="#444" stroke-width="0.9"/>
<line x1="334.55" y1="365.00" x2="334.55" y2="367.50" stroke="#333" stroke-width="0.9"/>
<line x1="352.05" y1="365.00" x2="352.05" y2="367.50" stroke="#333" stroke-width="0.9"/>
<line x1="369.90" y1="365.00" x2="369.90" y2="367.50" stroke="#333" stroke-width="0.9"/>
<line x1="387.30" y1="365.00" x2="387.30" y2="367.50" stroke="#333" stroke-width="0.9"/>
<line x1="405.30" y1="365.00" x2="405.30" y2="367.50" stroke="#333" stroke-width="0.9"/>
<text x="344.60" y="372.10" font-size="8.3" text-anchor="end" fill="#222" stroke="#222" stroke-width="0.2" transform="rotate(-45 344.60 372.10)">MP-0d</text>
<text x="360.60" y="370.70" font-size="8.3" text-anchor="end" fill="#222" stroke="#222" stroke-width="0.2" transform="rotate(-45 360.60 370.70)">MP-3d</text>
<text x="376.70" y="370.70" font-size="8.3" text-anchor="end" fill="#222" stroke="#222" stroke-width="0.2" transform="rotate(-45 376.70 370.70)">MP-7d</text>
<text x="395.00" y="369.20" font-size="8.3" text-anchor="end" fill="#222" stroke="#222" stroke-width="0.2" transform="rotate(-45 395.00 369.20)">MP-14d</text>
<text x="413.20" y="369.20" font-size="8.3" text-anchor="end" fill="#222" stroke="#222" stroke-width="0.2" transform="rotate(-45 413.20 369.20)">MP-28d</text>
<text x="295.50" y="316.00" font-size="9" text-anchor="middle" fill="#222" stroke="#222" stroke-width="0.2" transform="rotate(-90 295.50 316.00)">The thickness of</text>
<text x="307.00" y="314.00" font-size="9" text-anchor="middle" fill="#222" stroke="#222" stroke-width="0.2" transform="rotate(-90 307.00 314.00)">postsynaptic density(nm)</text>
<line x1="334.20" y1="257.30" x2="405.00" y2="257.30" stroke="#222" stroke-width="0.8"/>
<text x="369.60" y="259.78" font-size="11.5" text-anchor="middle" fill="#222" stroke="#222" stroke-width="0.2">*</text>
<line x1="334.20" y1="267.10" x2="387.50" y2="267.10" stroke="#222" stroke-width="0.8"/>
<text x="360.85" y="269.58" font-size="11.5" text-anchor="middle" fill="#222" stroke="#222" stroke-width="0.2">***</text>
<line x1="334.20" y1="277.70" x2="367.50" y2="277.70" stroke="#222" stroke-width="0.8"/>
<text x="350.85" y="280.18" font-size="11.5" text-anchor="middle" fill="#222" stroke="#222" stroke-width="0.2">****</text>
<line x1="371.60" y1="277.70" x2="405.00" y2="277.70" stroke="#222" stroke-width="0.8"/>
<text x="388.30" y="280.18" font-size="11.5" text-anchor="middle" fill="#222" stroke="#222" stroke-width="0.2">****</text>
<line x1="370.00" y1="285.30" x2="387.50" y2="285.30" stroke="#222" stroke-width="0.8"/>
<text x="378.75" y="287.78" font-size="11.5" text-anchor="middle" fill="#222" stroke="#222" stroke-width="0.2">****</text>
<text x="428.00" y="249.00" font-size="11.5" text-anchor="start" font-weight="bold" fill="#000">h</text>
<rect x="431.20" y="257.30" width="242.10" height="19.90" fill="#95b9da" stroke="none" stroke-width="1"/>
<text x="550.50" y="272.20" font-size="11.6" text-anchor="middle" fill="#fff">Patch-clamp recording</text>
<path d="M431.7,276.5 L431.7,385.2 L673,385.2 L673,276.5" fill="none" stroke="#8fb3d9" stroke-width="0.9" stroke-dasharray="2.2 1.6"/>
<rect x="437.2" y="281.5" width="60.2" height="39.9" fill="#333" filter="url(#darkimg)"/>
<line x1="440.40" y1="316.70" x2="447.00" y2="316.70" stroke="#bbb" stroke-width="0.9"/>
<path d="M478,313 L497,315.5" stroke="#888" stroke-width="0.8" fill="none" opacity="0.8"/>
<ellipse cx="473.3" cy="368.8" rx="34.6" ry="8.6" fill="#5f93cc" stroke="#555" stroke-width="0.6"/>
<rect x="438.7" y="360" width="69.2" height="9" fill="#7aa9dc"/>
<ellipse cx="473.3" cy="361.5" rx="34.6" ry="7" fill="#8cb6e3"/>
<ellipse cx="473.3" cy="359.7" rx="35.2" ry="8" fill="none" stroke="#aab0b8" stroke-width="0.9"/>
<path d="M438.1,359.7 L438.5,368.5 M508.5,359.7 L508.1,368.5" stroke="#9aa0a8" stroke-width="0.7"/>
<path d="M469.3,359.7 A5.3,5.3 0 0 0 479.9,359.7 Z" fill="#e9dccb"/>
<path d="M488.5,351.5 Q494,340 506,336" fill="none" stroke="#e8dece" stroke-width="3.2"/>
<path d="M504.5,330.5 L514.6,337 L508.4,346.5 Z" fill="#e8dece"/>
<path d="M531.5,331 L531,322 L520,316 L508,320" stroke="#d5b8aa" stroke-width="1.15" fill="none" stroke-linecap="round" stroke-linejoin="round"/>
<path d="M520,316 L512,309 L505,305" stroke="#d5b8aa" stroke-width="1.15" fill="none" stroke-linecap="round" stroke-linejoin="round"/>
<path d="M512,309 L516,303" stroke="#d5b8aa" stroke-width="1.15" fill="none" stroke-linecap="round" stroke-linejoin="round"/>
<path d="M514,318 L508,314" stroke="#d5b8aa" stroke-width="1.15" fill="none" stroke-linecap="round" stroke-linejoin="round"/>
<path d="M531,322 L529,312 L525,305" stroke="#d5b8aa" stroke-width="1.15" fill="none" stroke-linecap="round" stroke-linejoin="round"/>
<path d="M529,312 L535,305 L534,300" stroke="#d5b8aa" stroke-width="1.15" fill="none" stroke-linecap="round" stroke-linejoin="round"/>
<path d="M525,305 L521,302" stroke="#d5b8aa" stroke-width="1.15" fill="none" stroke-linecap="round" stroke-linejoin="round"/>
<path d="M531,322 L542,316 L554,311" stroke="#d5b8aa" stroke-width="1.15" fill="none" stroke-linecap="round" stroke-linejoin="round"/>
<path d="M542,316 L547,308 L550,302" stroke="#d5b8aa" stroke-width="1.15" fill="none" stroke-linecap="round" stroke-linejoin="round"/>
<path d="M547,308 L553,306" stroke="#d5b8aa" stroke-width="1.15" fill="none" stroke-linecap="round" stroke-linejoin="round"/>
<path d="M542,316 L548,321 L556,322" stroke="#d5b8aa" stroke-width="1.15" fill="none" stroke-linecap="round" stroke-linejoin="round"/>
<path d="M536,330 L546,327" stroke="#d5b8aa" stroke-width="1.15" fill="none" stroke-linecap="round" stroke-linejoin="round"/>
<path d="M531.5,338 L533.5,352 L531,366 L533.5,379" stroke="#d5b8aa" stroke-width="1.15" fill="none" stroke-linecap="round" stroke-linejoin="round"/>
<path d="M533.5,379 L524.5,384" stroke="#d5b8aa" stroke-width="1.15" fill="none" stroke-linecap="round" stroke-linejoin="round"/>
<path d="M533.5,379 L542.5,383.5" stroke="#d5b8aa" stroke-width="1.15" fill="none" stroke-linecap="round" stroke-linejoin="round"/>
<circle cx="531.5" cy="334.2" r="4.3" fill="#ead7cc" stroke="#d5b8aa" stroke-width="0.8"/>
<ellipse cx="531.5" cy="334.3" rx="2.1" ry="1.7" fill="#de7a66"/>
<path d="M536,333.4 L545.5,329.8" stroke="#8ab8e0" stroke-width="2.2" fill="none"/>
<path d="M545.5,329.8 L553.5,325.8" stroke="#a63268" stroke-width="1.6" fill="none"/>
<path d="M553.5,325.8 L575.7,307.2 L601.8,307.2" stroke="#222" stroke-width="0.7" fill="none"/>
<path d="M601.8,301.6 L624.7,312.5 L601.8,325.1 Z" fill="#fff" stroke="#333" stroke-width="0.7"/>
<text x="604.50" y="308.80" font-size="8.5" text-anchor="start" font-weight="bold" fill="#d04060">-</text>
<text x="602.00" y="322.30" font-size="11" text-anchor="start" fill="#d04060" stroke="#d04060" stroke-width="0.2">+</text>
<path d="M594,307.2 L594,290.4 L609.4,290.4 L611.5,287.6 L614,296 L616.5,287.6 L619,296 L621.5,287.6 L624,296 L626.5,287.6 L629,296 L631.2,290.4 L638.6,290.4 L638.6,312.5 L624.7,312.5" stroke="#333" stroke-width="0.7" fill="none"/>
<path d="M601.8,319 L594,319 L594,355.8" stroke="#333" stroke-width="0.7" fill="none"/>
<path d="M587.5,355.8 L600.5,355.8 M589,358.3 L599,358.3 M591,360.8 L597,360.8" stroke="#333" stroke-width="0.7" fill="none"/>
<circle cx="640.6" cy="312.5" r="0.80" fill="#111"/>
<text x="643.70" y="316.60" font-size="9.2" text-anchor="start" fill="#222" stroke="#222" stroke-width="0.2">Signal</text>
<text x="573.60" y="284.70" font-size="9.2" text-anchor="start" fill="#222" stroke="#222" stroke-width="0.2">Feedback resistor</text>
<text x="594.50" y="350.00" font-size="9.2" text-anchor="start" fill="#222" stroke="#222" stroke-width="0.2">Operating amplifier</text>
<text x="578.70" y="369.00" font-size="9.2" text-anchor="start" fill="#222" stroke="#222" stroke-width="0.2">Earth</text>
<path d="M617,324 L617,338" stroke="#111" stroke-width="1.4" fill="none"/>
<path d="M614.3,337 L619.7,337 L617,342.5 Z" fill="#111"/>
<text x="0.50" y="414.50" font-size="11.5" text-anchor="start" font-weight="bold" fill="#000">i</text>
<text x="10.40" y="436.30" font-size="12" text-anchor="start" font-weight="bold" fill="#111">MP-0d</text>
<text x="75.00" y="436.30" font-size="12" text-anchor="start" font-weight="bold" fill="#6b3aa8">MP-3d</text>
<text x="138.30" y="436.30" font-size="12" text-anchor="start" font-weight="bold" fill="#4479b5">MP-7d</text>
<text x="201.00" y="436.30" font-size="12" text-anchor="start" font-weight="bold" fill="#d46a6e">MP-14d</text>
<text x="264.00" y="436.30" font-size="12" text-anchor="start" font-weight="bold" fill="#7dcb9c">MP-28d</text>
<line x1="9.40" y1="436.50" x2="9.40" y2="493.00" stroke="#e02020" stroke-width="0.8"/>
<path d="M9.7,485.4 10.2,483.3 10.7,480.5 11.2,477.9 11.7,475.6 12.2,474.0 12.7,474.4 13.2,475.0 13.7,476.5 14.2,477.2 14.7,478.0 15.2,477.9 15.7,478.8 16.2,479.3 16.7,479.1 17.2,480.4 17.7,480.7 18.2,481.9 18.7,481.3 19.2,481.4 19.8,482.3 20.3,482.1 20.8,482.6 21.3,482.2 21.8,482.7 22.3,483.2 22.8,483.3 23.3,483.2 23.8,482.7 24.3,483.6 24.8,483.5 25.3,483.9 25.8,483.8 26.3,484.3 26.8,483.8 27.3,484.0 27.8,484.3 28.3,483.6 28.8,483.9 29.3,484.0 29.8,485.1 30.3,484.2 30.8,484.6 31.3,484.6 31.8,484.3 32.3,483.7 32.8,484.9 33.3,484.3 33.8,484.8 34.3,483.9 34.8,484.4 35.3,485.1 35.8,485.2 36.3,484.0 36.8,484.0 37.3,484.6 37.8,485.0 38.4,484.7 38.9,484.8 39.4,484.2 39.9,485.0 40.4,485.2 40.9,484.5 41.4,484.1 41.9,484.4 42.4,485.1 42.9,484.0 43.4,484.7 43.9,484.3 44.4,484.7 44.9,484.6 45.4,484.8 45.9,485.4 46.4,485.0 46.9,485.4 47.4,484.7 47.9,484.6 48.4,484.9 48.9,483.5 49.4,484.8 49.9,484.9 50.4,484.2 50.9,485.0 51.4,484.5 51.9,483.7 52.4,484.7 52.9,484.3 53.4,484.6 53.9,484.7 54.4,485.4 54.9,484.8 55.4,484.8 55.9,485.0 56.4,484.0 56.9,485.4 57.5,484.3 58.0,485.0 58.5,484.3 59.0,484.4 59.5,484.6 60.0,485.6 60.5,485.1 61.0,484.5 61.5,484.7 62.0,484.3 62.5,484.8 63.0,484.5 63.5,485.1 64.0,484.2 64.5,484.6 65.0,484.4 65.5,484.5 66.0,485.1 66.5,484.9 67.0,485.1" stroke="#111" stroke-width="1.4" fill="none" stroke-linejoin="round"/>
<path d="M9.7,487.1 10.2,484.9 10.7,484.6 11.2,483.7 11.7,483.2 12.2,481.4 12.7,481.1 13.2,480.2 13.7,480.6 14.2,481.1 14.7,481.7 15.2,482.2 15.7,482.3 16.2,483.2 16.7,483.0 17.2,482.1 17.7,484.3 18.2,483.8 18.7,483.9 19.2,484.5 19.8,484.6 20.3,484.7 20.8,484.4 21.3,485.0 21.8,484.3 22.3,485.8 22.8,484.6 23.3,485.2 23.8,485.3 24.3,485.5 24.8,485.3 25.3,485.7 25.8,483.9 26.3,485.5 26.8,485.5 27.3,485.4 27.8,486.3 28.3,485.2 28.8,485.7 29.3,484.8 29.8,485.9 30.3,485.0 30.8,485.1 31.3,486.9 31.8,486.1 32.3,485.8 32.8,485.9 33.3,485.2 33.8,485.4 34.3,486.1 34.8,484.9 35.3,486.0 35.8,485.1 36.3,485.9 36.8,485.4 37.3,486.7 37.8,486.4 38.4,485.7 38.9,485.0 39.4,485.6 39.9,485.9 40.4,485.5 40.9,486.0 41.4,486.4 41.9,485.9 42.4,485.7 42.9,486.3 43.4,485.8 43.9,486.3 44.4,485.8 44.9,486.7 45.4,485.8 45.9,485.4 46.4,486.0 46.9,485.6 47.4,485.5 47.9,485.9 48.4,486.3 48.9,484.9 49.4,485.9 49.9,485.9 50.4,485.9 50.9,486.3 51.4,485.3 51.9,486.2 52.4,485.8 52.9,486.0 53.4,485.8 53.9,485.8 54.4,485.7 54.9,486.1 55.4,486.9 55.9,486.4 56.4,486.3 56.9,486.2 57.5,485.7 58.0,486.2 58.5,486.9 59.0,485.4 59.5,486.3 60.0,486.4 60.5,486.1 61.0,486.3 61.5,486.6 62.0,487.0 62.5,486.6 63.0,486.7 63.5,486.1 64.0,486.3 64.5,486.0 65.0,486.1 65.5,485.8 66.0,486.3 66.5,486.6 67.0,485.9" stroke="#e02020" stroke-width="1.4" fill="none" stroke-linejoin="round"/>
<line x1="70.50" y1="436.50" x2="70.50" y2="493.00" stroke="#e02020" stroke-width="0.8"/>
<path d="M70.8,485.6 71.3,483.9 71.8,480.7 72.3,479.3 72.8,476.6 73.3,474.3 73.8,473.1 74.3,470.0 74.8,467.7 75.3,465.8 75.8,466.2 76.3,465.8 76.8,466.2 77.3,465.7 77.8,466.1 78.3,466.2 78.8,466.0 79.3,466.0 79.8,466.1 80.3,466.9 80.8,467.1 81.3,467.1 81.8,467.4 82.3,467.0 82.8,467.7 83.3,467.9 83.8,468.3 84.3,467.7 84.8,468.1 85.3,467.5 85.8,468.3 86.3,467.6 86.8,468.1 87.3,469.4 87.8,468.0 88.3,469.5 88.8,469.4 89.3,469.3 89.8,469.7 90.3,469.9 90.8,470.2 91.3,469.8 91.8,469.7 92.3,469.9 92.8,469.8 93.3,470.3 93.8,470.1 94.3,471.1 94.8,469.9 95.3,470.3 95.8,470.5 96.3,470.1 96.8,472.0 97.3,470.2 97.8,471.3 98.3,471.3 98.8,472.3 99.3,470.8 99.8,472.3 100.3,471.6 100.8,472.0 101.3,471.8 101.8,472.5 102.3,471.8 102.8,472.4 103.3,472.7 103.8,473.5 104.3,471.7 104.8,473.5 105.3,473.4 105.8,472.8 106.3,473.3 106.8,473.0 107.3,474.1 107.8,473.5 108.3,473.4 108.8,473.5 109.3,473.6 109.8,473.7 110.3,473.5 110.8,474.9 111.3,473.2 111.8,472.5 112.3,474.2 112.8,474.2 113.3,474.6 113.8,474.4 114.3,474.5 114.8,474.8 115.3,475.2 115.8,474.6 116.3,474.7 116.8,475.9 117.3,475.3 117.8,474.7 118.3,476.3 118.8,475.7 119.3,475.1 119.8,474.9 120.3,475.7 120.8,475.2 121.3,475.2 121.8,475.2 122.3,475.6 122.8,476.4 123.3,475.8 123.8,475.4 124.3,476.4 124.8,476.2 125.3,476.7 125.8,476.9 126.3,476.4 126.8,476.4 127.3,476.5 127.8,476.1" stroke="#111" stroke-width="1.4" fill="none" stroke-linejoin="round"/>
<path d="M70.8,486.8 71.3,485.9 71.8,484.4 72.3,483.6 72.8,482.8 73.3,481.4 73.8,480.8 74.3,478.6 74.8,479.1 75.3,478.9 75.8,479.0 76.3,479.4 76.8,479.6 77.3,479.8 77.8,480.0 78.3,480.8 78.8,480.3 79.3,479.3 79.8,480.2 80.3,479.9 80.8,480.1 81.3,481.0 81.8,480.4 82.3,479.7 82.8,480.8 83.3,480.6 83.8,480.3 84.3,480.5 84.8,480.7 85.3,481.1 85.8,481.0 86.3,481.3 86.8,482.2 87.3,481.1 87.8,481.1 88.3,481.5 88.8,482.1 89.3,481.4 89.8,482.4 90.3,481.3 90.8,481.5 91.3,482.0 91.8,481.7 92.3,481.9 92.8,482.4 93.3,482.6 93.8,482.4 94.3,482.3 94.8,483.1 95.3,482.7 95.8,482.5 96.3,483.2 96.8,482.3 97.3,482.8 97.8,483.1 98.3,482.9 98.8,482.7 99.3,483.1 99.8,482.8 100.3,482.8 100.8,482.7 101.3,483.8 101.8,483.0 102.3,483.8 102.8,483.5 103.3,483.3 103.8,483.7 104.3,483.6 104.8,483.6 105.3,483.0 105.8,483.7 106.3,484.1 106.8,483.9 107.3,484.2 107.8,484.5 108.3,484.0 108.8,484.8 109.3,483.2 109.8,483.9 110.3,482.9 110.8,484.4 111.3,484.1 111.8,484.9 112.3,484.0 112.8,483.3 113.3,484.8 113.8,483.7 114.3,483.7 114.8,484.3 115.3,484.7 115.8,484.2 116.3,484.5 116.8,483.6 117.3,485.3 117.8,484.5 118.3,484.6 118.8,484.9 119.3,484.7 119.8,484.8 120.3,484.3 120.8,484.7 121.3,485.0 121.8,485.3 122.3,484.8 122.8,484.9 123.3,485.0 123.8,485.2 124.3,485.0 124.8,484.8 125.3,484.8 125.8,485.5 126.3,485.2 126.8,485.1 127.3,486.6 127.8,485.5" stroke="#e02020" stroke-width="1.4" fill="none" stroke-linejoin="round"/>
<line x1="134.00" y1="436.50" x2="134.00" y2="493.00" stroke="#e02020" stroke-width="0.8"/>
<path d="M134.3,484.7 134.8,481.1 135.3,478.4 135.8,473.5 136.3,470.9 136.8,466.4 137.3,464.4 137.8,460.4 138.3,457.4 138.8,453.1 139.3,453.9 139.8,454.0 140.3,454.3 140.8,455.1 141.3,454.8 141.8,455.6 142.3,456.5 142.8,456.6 143.3,456.8 143.8,458.3 144.3,457.8 144.8,457.8 145.3,458.5 145.8,458.6 146.3,459.0 146.8,459.4 147.3,460.8 147.8,460.2 148.3,460.6 148.9,461.2 149.4,462.1 149.9,461.4 150.4,461.6 150.9,463.3 151.4,461.8 151.9,462.6 152.4,463.4 152.9,464.4 153.4,463.3 153.9,462.9 154.4,464.6 154.9,464.3 155.4,464.6 155.9,465.3 156.4,465.5 156.9,465.8 157.4,465.7 157.9,466.7 158.4,467.1 158.9,466.7 159.4,466.7 159.9,467.5 160.4,467.6 160.9,467.2 161.4,467.7 161.9,468.6 162.4,468.3 162.9,468.4 163.4,468.9 163.9,469.0 164.4,469.2 164.9,468.6 165.4,470.4 165.9,470.0 166.4,469.7 166.9,470.7 167.4,470.6 167.9,470.7 168.4,471.3 168.9,472.1 169.4,471.5 169.9,472.2 170.4,472.6 170.9,471.4 171.4,471.8 171.9,472.5 172.4,471.6 172.9,472.4 173.4,473.3 173.9,473.3 174.4,473.3 174.9,472.3 175.4,474.4 175.9,473.8 176.4,474.0 177.0,474.0 177.5,473.2 178.0,473.5 178.5,473.7 179.0,475.3 179.5,474.2 180.0,474.6 180.5,474.7 181.0,475.3 181.5,475.4 182.0,475.4 182.5,474.8 183.0,474.1 183.5,475.7 184.0,475.9 184.5,476.5 185.0,476.0 185.5,475.9 186.0,476.5 186.5,475.7 187.0,476.1 187.5,476.2 188.0,476.9 188.5,477.8 189.0,477.3 189.5,477.6 190.0,477.3 190.5,477.4 191.0,477.2" stroke="#111" stroke-width="1.4" fill="none" stroke-linejoin="round"/>
<path d="M134.3,486.6 134.8,483.8 135.3,482.5 135.8,481.1 136.3,480.0 136.8,477.5 137.3,475.0 137.8,474.1 138.3,473.7 138.8,475.0 139.3,474.5 139.8,475.6 140.3,474.9 140.8,474.7 141.3,474.7 141.8,475.4 142.3,475.9 142.8,476.4 143.3,476.2 143.8,475.9 144.3,476.7 144.8,475.9 145.3,477.0 145.8,476.6 146.3,477.7 146.8,477.7 147.3,477.5 147.8,477.1 148.3,477.9 148.9,478.0 149.4,477.7 149.9,477.8 150.4,478.8 150.9,478.2 151.4,478.7 151.9,479.3 152.4,478.1 152.9,479.7 153.4,479.5 153.9,478.9 154.4,478.8 154.9,478.8 155.4,479.9 155.9,478.5 156.4,480.1 156.9,479.9 157.4,479.6 157.9,479.8 158.4,480.0 158.9,480.2 159.4,480.8 159.9,480.1 160.4,481.1 160.9,481.1 161.4,480.6 161.9,481.1 162.4,480.7 162.9,481.1 163.4,481.3 163.9,482.1 164.4,481.3 164.9,481.3 165.4,481.5 165.9,481.5 166.4,481.1 166.9,482.5 167.4,481.5 167.9,481.6 168.4,481.6 168.9,482.3 169.4,483.4 169.9,483.5 170.4,482.7 170.9,482.4 171.4,482.3 171.9,482.0 172.4,482.8 172.9,482.5 173.4,483.6 173.9,482.6 174.4,482.3 174.9,482.0 175.4,482.1 175.9,483.2 176.4,483.1 177.0,482.5 177.5,482.4 178.0,483.3 178.5,483.0 179.0,483.4 179.5,483.3 180.0,483.0 180.5,482.6 181.0,483.5 181.5,483.6 182.0,483.6 182.5,484.0 183.0,484.1 183.5,483.5 184.0,484.0 184.5,482.8 185.0,484.1 185.5,483.9 186.0,484.4 186.5,484.4 187.0,483.6 187.5,484.0 188.0,484.6 188.5,483.9 189.0,484.2 189.5,483.9 190.0,484.5 190.5,484.4 191.0,483.9" stroke="#e02020" stroke-width="1.4" fill="none" stroke-linejoin="round"/>
<line x1="198.50" y1="436.50" x2="198.50" y2="493.00" stroke="#e02020" stroke-width="0.8"/>
<path d="M198.8,484.4 199.3,483.7 199.8,482.3 200.3,481.2 200.8,479.8 201.3,479.1 201.8,478.6 202.3,477.3 202.8,476.5 203.3,475.1 203.8,475.4 204.3,475.5 204.8,474.8 205.3,476.2 205.8,476.2 206.3,476.4 206.8,475.5 207.3,475.7 207.8,476.2 208.3,476.6 208.8,477.1 209.3,477.1 209.8,477.5 210.3,477.1 210.8,477.7 211.3,477.9 211.8,477.5 212.3,478.8 212.8,478.4 213.4,478.8 213.9,478.1 214.4,478.2 214.9,478.5 215.4,478.7 215.9,479.2 216.4,479.1 216.9,478.9 217.4,478.8 217.9,479.1 218.4,480.0 218.9,479.2 219.4,479.7 219.9,479.9 220.4,479.2 220.9,480.0 221.4,480.6 221.9,479.2 222.4,480.1 222.9,480.3 223.4,480.0 223.9,480.7 224.4,480.5 224.9,480.0 225.4,481.1 225.9,481.1 226.4,481.3 226.9,481.6 227.4,481.2 227.9,481.1 228.4,480.6 228.9,481.5 229.4,481.0 229.9,481.2 230.4,480.9 230.9,481.1 231.4,481.3 231.9,482.2 232.4,480.8 232.9,481.1 233.4,481.9 233.9,482.5 234.4,482.2 234.9,481.1 235.4,480.9 235.9,482.2 236.4,481.8 236.9,481.7 237.4,482.6 237.9,482.8 238.4,482.4 238.9,482.5 239.4,482.6 239.9,483.2 240.4,482.8 240.9,482.8 241.5,482.8 242.0,481.9 242.5,483.2 243.0,483.1 243.5,483.0 244.0,481.9 244.5,482.5 245.0,483.2 245.5,482.0 246.0,482.8 246.5,483.4 247.0,482.4 247.5,483.7 248.0,483.3 248.5,483.0 249.0,483.2 249.5,483.4 250.0,483.2 250.5,483.7 251.0,482.9 251.5,483.0 252.0,483.7 252.5,483.3 253.0,482.9 253.5,483.8 254.0,484.0 254.5,483.2 255.0,482.8 255.5,483.4" stroke="#111" stroke-width="1.4" fill="none" stroke-linejoin="round"/>
<path d="M198.8,485.9 199.3,486.2 199.8,485.0 200.3,484.4 200.8,483.6 201.3,482.9 201.8,482.4 202.3,481.5 202.8,481.3 203.3,481.3 203.8,481.2 204.3,482.0 204.8,482.2 205.3,482.8 205.8,482.3 206.3,482.3 206.8,482.5 207.3,482.3 207.8,481.5 208.3,482.9 208.8,482.3 209.3,482.7 209.8,482.5 210.3,484.0 210.8,483.3 211.3,483.0 211.8,482.4 212.3,483.4 212.8,482.6 213.4,483.6 213.9,482.4 214.4,483.1 214.9,483.6 215.4,482.9 215.9,483.4 216.4,483.4 216.9,483.8 217.4,483.2 217.9,483.8 218.4,484.5 218.9,482.9 219.4,483.2 219.9,483.9 220.4,483.4 220.9,483.1 221.4,484.5 221.9,484.3 222.4,484.4 222.9,484.4 223.4,484.3 223.9,483.6 224.4,482.9 224.9,484.3 225.4,483.6 225.9,484.1 226.4,484.3 226.9,483.6 227.4,484.1 227.9,485.1 228.4,484.6 228.9,483.6 229.4,484.2 229.9,484.4 230.4,484.7 230.9,484.8 231.4,484.4 231.9,484.4 232.4,484.9 232.9,483.9 233.4,485.1 233.9,484.7 234.4,484.4 234.9,484.3 235.4,484.7 235.9,484.0 236.4,483.6 236.9,484.9 237.4,485.4 237.9,484.7 238.4,484.8 238.9,484.8 239.4,484.3 239.9,485.0 240.4,485.2 240.9,484.9 241.5,485.3 242.0,484.4 242.5,485.0 243.0,484.6 243.5,484.7 244.0,485.1 244.5,485.0 245.0,485.4 245.5,485.3 246.0,484.4 246.5,485.6 247.0,484.3 247.5,485.0 248.0,485.2 248.5,485.0 249.0,485.3 249.5,485.1 250.0,484.6 250.5,485.5 251.0,485.1 251.5,484.7 252.0,485.2 252.5,485.1 253.0,485.3 253.5,484.9 254.0,485.3 254.5,485.1 255.0,485.9 255.5,485.0" stroke="#e02020" stroke-width="1.4" fill="none" stroke-linejoin="round"/>
<line x1="259.30" y1="436.50" x2="259.30" y2="493.00" stroke="#e02020" stroke-width="0.8"/>
<path d="M259.6,484.6 260.1,483.4 260.6,482.1 261.1,480.5 261.6,478.6 262.1,476.3 262.6,474.7 263.1,472.7 263.6,470.5 264.1,469.2 264.6,470.2 265.1,470.3 265.6,470.5 266.1,470.5 266.6,471.3 267.1,471.4 267.6,472.1 268.1,472.6 268.6,471.7 269.1,473.0 269.6,472.7 270.1,473.2 270.6,473.4 271.1,474.7 271.6,474.8 272.1,475.0 272.6,474.7 273.1,474.7 273.6,475.4 274.2,475.9 274.7,476.0 275.2,476.6 275.7,476.3 276.2,477.5 276.7,477.2 277.2,478.0 277.7,477.5 278.2,477.5 278.7,477.4 279.2,478.3 279.7,478.6 280.2,478.4 280.7,478.7 281.2,478.5 281.7,478.6 282.2,478.8 282.7,478.3 283.2,478.8 283.7,479.5 284.2,479.6 284.7,480.2 285.2,480.1 285.7,480.2 286.2,480.1 286.7,479.2 287.2,480.4 287.7,480.1 288.2,480.8 288.7,480.6 289.2,480.7 289.7,480.7 290.2,480.9 290.7,480.3 291.2,480.5 291.7,481.9 292.2,481.6 292.7,481.3 293.2,481.5 293.7,481.6 294.2,483.3 294.7,482.1 295.2,482.0 295.7,481.7 296.2,481.1 296.7,482.3 297.2,482.9 297.7,482.8 298.2,482.5 298.7,482.2 299.2,482.0 299.7,482.6 300.2,482.5 300.7,482.2 301.2,483.5 301.7,482.4 302.2,482.7 302.8,481.9 303.3,483.8 303.8,483.0 304.3,483.1 304.8,483.3 305.3,482.8 305.8,483.0 306.3,483.4 306.8,483.0 307.3,483.5 307.8,484.0 308.3,483.8 308.8,484.1 309.3,484.0 309.8,484.4 310.3,483.8 310.8,483.8 311.3,483.2 311.8,483.6 312.3,483.4 312.8,483.8 313.3,483.4 313.8,484.0 314.3,485.0 314.8,483.6 315.3,484.2 315.8,484.2 316.3,483.7 316.8,483.9" stroke="#111" stroke-width="1.4" fill="none" stroke-linejoin="round"/>
<path d="M259.6,485.8 260.1,485.2 260.6,484.3 261.1,483.6 261.6,483.3 262.1,481.3 262.6,481.1 263.1,480.3 263.6,480.2 264.1,480.7 264.6,480.9 265.1,482.1 265.6,481.3 266.1,481.2 266.6,481.7 267.1,481.0 267.6,481.3 268.1,481.9 268.6,481.5 269.1,481.4 269.6,481.7 270.1,481.5 270.6,482.7 271.1,482.8 271.6,483.5 272.1,482.3 272.6,482.4 273.1,482.5 273.6,482.9 274.2,482.8 274.7,483.2 275.2,482.8 275.7,482.3 276.2,483.8 276.7,482.9 277.2,483.7 277.7,483.1 278.2,483.4 278.7,482.6 279.2,483.0 279.7,483.7 280.2,483.8 280.7,483.5 281.2,483.8 281.7,482.9 282.2,483.8 282.7,483.6 283.2,483.4 283.7,484.1 284.2,483.8 284.7,483.7 285.2,483.9 285.7,484.0 286.2,484.1 286.7,484.3 287.2,484.1 287.7,484.7 288.2,485.1 288.7,484.9 289.2,484.3 289.7,484.2 290.2,484.7 290.7,484.5 291.2,485.2 291.7,484.7 292.2,484.9 292.7,484.5 293.2,484.8 293.7,484.3 294.2,484.1 294.7,484.9 295.2,484.4 295.7,484.6 296.2,485.3 296.7,485.7 297.2,485.0 297.7,484.8 298.2,485.4 298.7,485.5 299.2,485.3 299.7,484.7 300.2,484.9 300.7,485.6 301.2,484.7 301.7,485.2 302.2,485.8 302.8,485.7 303.3,485.0 303.8,485.2 304.3,485.2 304.8,484.8 305.3,485.4 305.8,485.0 306.3,485.7 306.8,484.9 307.3,485.1 307.8,485.2 308.3,485.5 308.8,484.4 309.3,485.9 309.8,485.4 310.3,485.6 310.8,486.1 311.3,485.6 311.8,485.8 312.3,485.7 312.8,486.0 313.3,485.9 313.8,486.1 314.3,485.6 314.8,485.2 315.3,485.8 315.8,485.2 316.3,485.7 316.8,485.6" stroke="#e02020" stroke-width="1.4" fill="none" stroke-linejoin="round"/>
<line x1="26.80" y1="441.00" x2="36.70" y2="441.00" stroke="#111" stroke-width="0.9"/>
<text x="37.50" y="443.40" font-size="6.8" text-anchor="start" fill="#222" stroke="#222" stroke-width="0.2">NMDA</text>
<line x1="26.80" y1="449.00" x2="36.70" y2="449.00" stroke="#e02020" stroke-width="0.9"/>
<text x="37.50" y="451.40" font-size="6.8" text-anchor="start" fill="#222" stroke="#222" stroke-width="0.2">AMPA</text>
<text x="26.70" y="469.40" font-size="6.3" text-anchor="start" fill="#222" stroke="#222" stroke-width="0.2">90 pA</text>
<path d="M44.3,464.1 L44.3,469.4 L51.9,469.4" stroke="#222" stroke-width="0.7" fill="none"/>
<text x="38.10" y="475.70" font-size="6.1" text-anchor="start" fill="#222" stroke="#222" stroke-width="0.2">40 ms</text>
<text x="330.30" y="413.50" font-size="11.5" text-anchor="start" font-weight="bold" fill="#000">j</text>
<rect x="365.20" y="442.65" width="10.20" height="60.85" fill="#ffffff" stroke="#333" stroke-width="0.9"/>
<line x1="370.30" y1="442.65" x2="370.30" y2="440.52" stroke="#333" stroke-width="0.9"/>
<line x1="368.06" y1="440.52" x2="372.54" y2="440.52" stroke="#333" stroke-width="0.9"/>
<rect x="381.10" y="464.00" width="10.20" height="39.50" fill="#c4c2f0" stroke="#333" stroke-width="0.9"/>
<line x1="386.20" y1="464.00" x2="386.20" y2="460.27" stroke="#333" stroke-width="0.9"/>
<line x1="383.96" y1="460.27" x2="388.44" y2="460.27" stroke="#333" stroke-width="0.9"/>
<rect x="397.20" y="456.53" width="10.10" height="46.97" fill="#9fd4f4" stroke="#333" stroke-width="0.9"/>
<line x1="402.25" y1="456.53" x2="402.25" y2="453.33" stroke="#333" stroke-width="0.9"/>
<line x1="400.03" y1="453.33" x2="404.47" y2="453.33" stroke="#333" stroke-width="0.9"/>
<rect x="413.40" y="461.87" width="10.20" height="41.63" fill="#e07478" stroke="#333" stroke-width="0.9"/>
<line x1="418.50" y1="461.87" x2="418.50" y2="460.27" stroke="#333" stroke-width="0.9"/>
<line x1="416.26" y1="460.27" x2="420.74" y2="460.27" stroke="#333" stroke-width="0.9"/>
<rect x="429.50" y="462.94" width="10.00" height="40.56" fill="#8ed9ac" stroke="#333" stroke-width="0.9"/>
<line x1="434.50" y1="462.94" x2="434.50" y2="461.33" stroke="#333" stroke-width="0.9"/>
<line x1="432.30" y1="461.33" x2="436.70" y2="461.33" stroke="#333" stroke-width="0.9"/>
<circle cx="370.3" cy="432.0" r="1.70" fill="#555"/>
<circle cx="370.3" cy="435.2" r="1.70" fill="#555"/>
<circle cx="370.3" cy="438.4" r="1.70" fill="#555"/>
<circle cx="372.8" cy="440.5" r="1.70" fill="#555"/>
<circle cx="367.7" cy="440.5" r="1.70" fill="#555"/>
<circle cx="370.3" cy="444.8" r="1.70" fill="#555"/>
<circle cx="370.3" cy="450.1" r="1.70" fill="#555"/>
<circle cx="373.7" cy="451.2" r="1.70" fill="#555"/>
<circle cx="367.7" cy="452.3" r="1.70" fill="#555"/>
<circle cx="386.2" cy="450.1" r="1.70" fill="#555"/>
<circle cx="388.8" cy="452.3" r="1.70" fill="#555"/>
<circle cx="385.4" cy="453.3" r="1.70" fill="#555"/>
<circle cx="386.2" cy="465.1" r="1.70" fill="#555"/>
<circle cx="388.8" cy="467.2" r="1.70" fill="#555"/>
<circle cx="386.2" cy="469.3" r="1.70" fill="#555"/>
<circle cx="388.8" cy="471.5" r="1.70" fill="#555"/>
<circle cx="383.7" cy="471.5" r="1.70" fill="#555"/>
<circle cx="402.2" cy="439.5" r="1.70" fill="#555"/>
<circle cx="402.2" cy="450.1" r="1.70" fill="#555"/>
<circle cx="402.2" cy="453.3" r="1.70" fill="#555"/>
<circle cx="405.6" cy="454.4" r="1.70" fill="#555"/>
<circle cx="402.2" cy="460.8" r="1.70" fill="#555"/>
<circle cx="402.2" cy="464.0" r="1.70" fill="#555"/>
<circle cx="402.2" cy="468.3" r="1.70" fill="#555"/>
<circle cx="418.5" cy="452.3" r="1.70" fill="#555"/>
<circle cx="418.5" cy="456.5" r="1.70" fill="#555"/>
<circle cx="421.1" cy="458.7" r="1.70" fill="#555"/>
<circle cx="418.5" cy="460.8" r="1.70" fill="#555"/>
<circle cx="418.5" cy="464.0" r="1.70" fill="#555"/>
<circle cx="421.9" cy="465.1" r="1.70" fill="#555"/>
<circle cx="418.5" cy="467.2" r="1.70" fill="#555"/>
<circle cx="415.1" cy="467.2" r="1.70" fill="#555"/>
<circle cx="434.5" cy="455.5" r="1.70" fill="#555"/>
<circle cx="437.1" cy="457.6" r="1.70" fill="#555"/>
<circle cx="434.5" cy="459.7" r="1.70" fill="#555"/>
<circle cx="437.9" cy="460.8" r="1.70" fill="#555"/>
<circle cx="434.5" cy="462.9" r="1.70" fill="#555"/>
<circle cx="437.1" cy="465.1" r="1.70" fill="#555"/>
<circle cx="433.6" cy="466.1" r="1.70" fill="#555"/>
<circle cx="430.2" cy="467.2" r="1.70" fill="#555"/>
<line x1="359.50" y1="503.50" x2="359.50" y2="418.10" stroke="#333" stroke-width="0.9"/>
<line x1="356.50" y1="503.50" x2="359.50" y2="503.50" stroke="#333" stroke-width="0.9"/>
<text x="355.50" y="506.82" font-size="9.5" text-anchor="end" fill="#222" stroke="#222" stroke-width="0.2">0.0</text>
<line x1="356.50" y1="482.15" x2="359.50" y2="482.15" stroke="#333" stroke-width="0.9"/>
<text x="355.50" y="485.47" font-size="9.5" text-anchor="end" fill="#222" stroke="#222" stroke-width="0.2">0.2</text>
<line x1="356.50" y1="460.80" x2="359.50" y2="460.80" stroke="#333" stroke-width="0.9"/>
<text x="355.50" y="464.12" font-size="9.5" text-anchor="end" fill="#222" stroke="#222" stroke-width="0.2">0.4</text>
<line x1="356.50" y1="439.45" x2="359.50" y2="439.45" stroke="#333" stroke-width="0.9"/>
<text x="355.50" y="442.78" font-size="9.5" text-anchor="end" fill="#222" stroke="#222" stroke-width="0.2">0.6</text>
<line x1="356.50" y1="418.10" x2="359.50" y2="418.10" stroke="#333" stroke-width="0.9"/>
<text x="355.50" y="421.43" font-size="9.5" text-anchor="end" fill="#222" stroke="#222" stroke-width="0.2">0.8</text>
<line x1="359.50" y1="503.50" x2="445.20" y2="503.50" stroke="#444" stroke-width="0.9"/>
<line x1="370.30" y1="503.50" x2="370.30" y2="506.00" stroke="#333" stroke-width="0.9"/>
<line x1="386.20" y1="503.50" x2="386.20" y2="506.00" stroke="#333" stroke-width="0.9"/>
<line x1="402.25" y1="503.50" x2="402.25" y2="506.00" stroke="#333" stroke-width="0.9"/>
<line x1="418.50" y1="503.50" x2="418.50" y2="506.00" stroke="#333" stroke-width="0.9"/>
<line x1="434.50" y1="503.50" x2="434.50" y2="506.00" stroke="#333" stroke-width="0.9"/>
<text x="377.80" y="512.20" font-size="8.2" text-anchor="end" fill="#222" stroke="#222" stroke-width="0.2" transform="rotate(-45 377.80 512.20)">MP-0d</text>
<text x="394.38" y="511.60" font-size="8.2" text-anchor="end" fill="#222" stroke="#222" stroke-width="0.2" transform="rotate(-45 394.38 511.60)">MP-3d</text>
<text x="411.10" y="511.00" font-size="8.2" text-anchor="end" fill="#222" stroke="#222" stroke-width="0.2" transform="rotate(-45 411.10 511.00)">MP-7d</text>
<text x="428.02" y="510.40" font-size="8.2" text-anchor="end" fill="#222" stroke="#222" stroke-width="0.2" transform="rotate(-45 428.02 510.40)">MP-14d</text>
<text x="444.70" y="509.80" font-size="8.2" text-anchor="end" fill="#222" stroke="#222" stroke-width="0.2" transform="rotate(-45 444.70 509.80)">MP-28d</text>
<text x="341.50" y="462.00" font-size="9.2" text-anchor="middle" fill="#222" stroke="#222" stroke-width="0.2" transform="rotate(-90 341.50 462.00)">AMPA/NMDA RATIO</text>
<line x1="370.30" y1="404.50" x2="434.20" y2="404.50" stroke="#222" stroke-width="0.8"/>
<text x="402.25" y="406.98" font-size="11.5" text-anchor="middle" fill="#222" stroke="#222" stroke-width="0.2">***</text>
<line x1="370.30" y1="414.00" x2="418.30" y2="414.00" stroke="#222" stroke-width="0.8"/>
<text x="394.30" y="416.48" font-size="11.5" text-anchor="middle" fill="#222" stroke="#222" stroke-width="0.2">***</text>
<line x1="370.30" y1="420.00" x2="402.00" y2="420.00" stroke="#222" stroke-width="0.8"/>
<text x="386.15" y="422.48" font-size="11.5" text-anchor="middle" fill="#222" stroke="#222" stroke-width="0.2">*</text>
<line x1="370.30" y1="428.20" x2="386.40" y2="428.20" stroke="#222" stroke-width="0.8"/>
<text x="378.35" y="430.68" font-size="11.5" text-anchor="middle" fill="#222" stroke="#222" stroke-width="0.2">****</text>
<text x="447.50" y="415.00" font-size="11.5" text-anchor="start" font-weight="bold" fill="#000">k</text>
<rect x="488.00" y="465.24" width="10.40" height="39.46" fill="#ffffff" stroke="#333" stroke-width="0.9"/>
<line x1="493.20" y1="465.24" x2="493.20" y2="461.79" stroke="#333" stroke-width="0.9"/>
<line x1="490.91" y1="461.79" x2="495.49" y2="461.79" stroke="#333" stroke-width="0.9"/>
<rect x="504.50" y="473.60" width="10.30" height="31.10" fill="#c4c2f0" stroke="#333" stroke-width="0.9"/>
<line x1="509.65" y1="473.60" x2="509.65" y2="470.72" stroke="#333" stroke-width="0.9"/>
<line x1="507.38" y1="470.72" x2="511.92" y2="470.72" stroke="#333" stroke-width="0.9"/>
<rect x="520.80" y="437.88" width="10.70" height="66.82" fill="#9fd4f4" stroke="#333" stroke-width="0.9"/>
<line x1="526.15" y1="437.88" x2="526.15" y2="432.99" stroke="#333" stroke-width="0.9"/>
<line x1="523.80" y1="432.99" x2="528.50" y2="432.99" stroke="#333" stroke-width="0.9"/>
<rect x="537.20" y="477.34" width="10.20" height="27.36" fill="#e07478" stroke="#333" stroke-width="0.9"/>
<line x1="542.30" y1="477.34" x2="542.30" y2="475.04" stroke="#333" stroke-width="0.9"/>
<line x1="540.06" y1="475.04" x2="544.54" y2="475.04" stroke="#333" stroke-width="0.9"/>
<rect x="553.50" y="478.20" width="10.20" height="26.50" fill="#8ed9ac" stroke="#333" stroke-width="0.9"/>
<line x1="558.60" y1="478.20" x2="558.60" y2="473.88" stroke="#333" stroke-width="0.9"/>
<line x1="556.36" y1="473.88" x2="560.84" y2="473.88" stroke="#333" stroke-width="0.9"/>
<circle cx="493.2" cy="444.8" r="1.70" fill="#555"/>
<circle cx="493.2" cy="460.1" r="1.70" fill="#555"/>
<circle cx="496.6" cy="461.5" r="1.70" fill="#555"/>
<circle cx="493.2" cy="465.8" r="1.70" fill="#555"/>
<circle cx="493.2" cy="470.1" r="1.70" fill="#555"/>
<circle cx="493.2" cy="473.6" r="1.70" fill="#555"/>
<circle cx="493.2" cy="477.3" r="1.70" fill="#555"/>
<circle cx="496.6" cy="477.3" r="1.70" fill="#555"/>
<circle cx="509.6" cy="460.1" r="1.70" fill="#555"/>
<circle cx="509.6" cy="465.8" r="1.70" fill="#555"/>
<circle cx="509.6" cy="473.0" r="1.70" fill="#555"/>
<circle cx="513.0" cy="474.5" r="1.70" fill="#555"/>
<circle cx="507.9" cy="475.9" r="1.70" fill="#555"/>
<circle cx="509.6" cy="478.8" r="1.70" fill="#555"/>
<circle cx="513.0" cy="480.2" r="1.70" fill="#555"/>
<circle cx="526.1" cy="422.3" r="1.70" fill="#555"/>
<circle cx="529.5" cy="423.5" r="1.70" fill="#555"/>
<circle cx="526.1" cy="429.2" r="1.70" fill="#555"/>
<circle cx="529.5" cy="429.2" r="1.70" fill="#555"/>
<circle cx="526.1" cy="438.5" r="1.70" fill="#555"/>
<circle cx="526.1" cy="444.2" r="1.70" fill="#555"/>
<circle cx="526.1" cy="450.0" r="1.70" fill="#555"/>
<circle cx="526.1" cy="455.7" r="1.70" fill="#555"/>
<circle cx="542.3" cy="470.1" r="1.70" fill="#555"/>
<circle cx="542.3" cy="474.5" r="1.70" fill="#555"/>
<circle cx="545.7" cy="475.9" r="1.70" fill="#555"/>
<circle cx="540.6" cy="477.3" r="1.70" fill="#555"/>
<circle cx="544.0" cy="478.8" r="1.70" fill="#555"/>
<circle cx="542.3" cy="483.1" r="1.70" fill="#555"/>
<circle cx="542.3" cy="488.9" r="1.70" fill="#555"/>
<circle cx="558.6" cy="454.3" r="1.70" fill="#555"/>
<circle cx="558.6" cy="470.1" r="1.70" fill="#555"/>
<circle cx="558.6" cy="474.5" r="1.70" fill="#555"/>
<circle cx="558.6" cy="487.4" r="1.70" fill="#555"/>
<circle cx="562.0" cy="488.9" r="1.70" fill="#555"/>
<circle cx="555.2" cy="488.9" r="1.70" fill="#555"/>
<circle cx="554.9" cy="489.7" r="1.70" fill="#555"/>
<line x1="482.10" y1="504.70" x2="482.10" y2="418.30" stroke="#333" stroke-width="0.9"/>
<line x1="479.10" y1="504.70" x2="482.10" y2="504.70" stroke="#333" stroke-width="0.9"/>
<text x="478.10" y="508.02" font-size="9.5" text-anchor="end" fill="#222" stroke="#222" stroke-width="0.2">0</text>
<line x1="479.10" y1="475.90" x2="482.10" y2="475.90" stroke="#333" stroke-width="0.9"/>
<text x="478.10" y="479.22" font-size="9.5" text-anchor="end" fill="#222" stroke="#222" stroke-width="0.2">100</text>
<line x1="479.10" y1="447.10" x2="482.10" y2="447.10" stroke="#333" stroke-width="0.9"/>
<text x="478.10" y="450.43" font-size="9.5" text-anchor="end" fill="#222" stroke="#222" stroke-width="0.2">200</text>
<line x1="479.10" y1="418.30" x2="482.10" y2="418.30" stroke="#333" stroke-width="0.9"/>
<text x="478.10" y="421.62" font-size="9.5" text-anchor="end" fill="#222" stroke="#222" stroke-width="0.2">300</text>
<line x1="482.10" y1="504.70" x2="566.20" y2="504.70" stroke="#444" stroke-width="0.9"/>
<line x1="493.20" y1="504.70" x2="493.20" y2="507.20" stroke="#333" stroke-width="0.9"/>
<line x1="509.65" y1="504.70" x2="509.65" y2="507.20" stroke="#333" stroke-width="0.9"/>
<line x1="526.15" y1="504.70" x2="526.15" y2="507.20" stroke="#333" stroke-width="0.9"/>
<line x1="542.30" y1="504.70" x2="542.30" y2="507.20" stroke="#333" stroke-width="0.9"/>
<line x1="558.60" y1="504.70" x2="558.60" y2="507.20" stroke="#333" stroke-width="0.9"/>
<text x="503.10" y="515.40" font-size="8.2" text-anchor="end" fill="#222" stroke="#222" stroke-width="0.2" transform="rotate(-45 503.10 515.40)">MP-0d</text>
<text x="520.60" y="514.80" font-size="8.2" text-anchor="end" fill="#222" stroke="#222" stroke-width="0.2" transform="rotate(-45 520.60 514.80)">MP-3d</text>
<text x="538.15" y="514.20" font-size="8.2" text-anchor="end" fill="#222" stroke="#222" stroke-width="0.2" transform="rotate(-45 538.15 514.20)">MP-7d</text>
<text x="555.35" y="513.60" font-size="8.2" text-anchor="end" fill="#222" stroke="#222" stroke-width="0.2" transform="rotate(-45 555.35 513.60)">MP-14d</text>
<text x="572.70" y="513.00" font-size="8.2" text-anchor="end" fill="#222" stroke="#222" stroke-width="0.2" transform="rotate(-45 572.70 513.00)">MP-28d</text>
<text x="461.80" y="459.50" font-size="9.7" text-anchor="middle" fill="#222" stroke="#222" stroke-width="0.2" transform="rotate(-90 461.80 459.50)">AMPA- eEPSCs (pA)</text>
<line x1="493.70" y1="403.50" x2="523.90" y2="403.50" stroke="#222" stroke-width="0.8"/>
<text x="508.80" y="405.98" font-size="11.5" text-anchor="middle" fill="#222" stroke="#222" stroke-width="0.2">****</text>
<line x1="527.70" y1="403.50" x2="558.40" y2="403.50" stroke="#222" stroke-width="0.8"/>
<text x="543.05" y="405.98" font-size="11.5" text-anchor="middle" fill="#222" stroke="#222" stroke-width="0.2">****</text>
<line x1="525.40" y1="412.10" x2="542.50" y2="412.10" stroke="#222" stroke-width="0.8"/>
<text x="533.95" y="414.58" font-size="11.5" text-anchor="middle" fill="#222" stroke="#222" stroke-width="0.2">****</text>
<line x1="509.30" y1="418.70" x2="525.80" y2="418.70" stroke="#222" stroke-width="0.8"/>
<text x="517.55" y="421.18" font-size="11.5" text-anchor="middle" fill="#222" stroke="#222" stroke-width="0.2">****</text>
<text x="566.60" y="415.00" font-size="11.5" text-anchor="start" font-weight="bold" fill="#000">l</text>
<rect x="602.00" y="477.54" width="10.90" height="27.16" fill="#ffffff" stroke="#333" stroke-width="0.9"/>
<line x1="607.45" y1="477.54" x2="607.45" y2="475.91" stroke="#333" stroke-width="0.9"/>
<line x1="605.05" y1="475.91" x2="609.85" y2="475.91" stroke="#333" stroke-width="0.9"/>
<rect x="618.40" y="471.57" width="10.60" height="33.13" fill="#c4c2f0" stroke="#333" stroke-width="0.9"/>
<line x1="623.70" y1="471.57" x2="623.70" y2="467.77" stroke="#333" stroke-width="0.9"/>
<line x1="621.37" y1="467.77" x2="626.03" y2="467.77" stroke="#333" stroke-width="0.9"/>
<rect x="635.00" y="447.13" width="10.50" height="57.57" fill="#9fd4f4" stroke="#333" stroke-width="0.9"/>
<line x1="640.25" y1="447.13" x2="640.25" y2="445.50" stroke="#333" stroke-width="0.9"/>
<line x1="637.94" y1="445.50" x2="642.56" y2="445.50" stroke="#333" stroke-width="0.9"/>
<rect x="651.40" y="478.30" width="10.20" height="26.40" fill="#e07478" stroke="#333" stroke-width="0.9"/>
<line x1="656.50" y1="478.30" x2="656.50" y2="476.13" stroke="#333" stroke-width="0.9"/>
<line x1="654.26" y1="476.13" x2="658.74" y2="476.13" stroke="#333" stroke-width="0.9"/>
<rect x="667.50" y="479.93" width="10.50" height="24.77" fill="#8ed9ac" stroke="#333" stroke-width="0.9"/>
<line x1="672.75" y1="479.93" x2="672.75" y2="475.59" stroke="#333" stroke-width="0.9"/>
<line x1="670.44" y1="475.59" x2="675.06" y2="475.59" stroke="#333" stroke-width="0.9"/>
<circle cx="607.5" cy="459.1" r="1.70" fill="#555"/>
<circle cx="607.5" cy="476.5" r="1.70" fill="#555"/>
<circle cx="610.9" cy="477.5" r="1.70" fill="#555"/>
<circle cx="604.1" cy="478.1" r="1.70" fill="#555"/>
<circle cx="603.8" cy="478.6" r="1.70" fill="#555"/>
<circle cx="607.5" cy="479.7" r="1.70" fill="#555"/>
<circle cx="607.5" cy="483.0" r="1.70" fill="#555"/>
<circle cx="607.5" cy="487.3" r="1.70" fill="#555"/>
<circle cx="623.7" cy="455.8" r="1.70" fill="#555"/>
<circle cx="626.2" cy="458.0" r="1.70" fill="#555"/>
<circle cx="623.7" cy="463.4" r="1.70" fill="#555"/>
<circle cx="623.7" cy="468.9" r="1.70" fill="#555"/>
<circle cx="627.1" cy="469.9" r="1.70" fill="#555"/>
<circle cx="623.7" cy="477.5" r="1.70" fill="#555"/>
<circle cx="627.1" cy="478.6" r="1.70" fill="#555"/>
<circle cx="623.7" cy="486.2" r="1.70" fill="#555"/>
<circle cx="640.2" cy="439.5" r="1.70" fill="#555"/>
<circle cx="640.2" cy="443.9" r="1.70" fill="#555"/>
<circle cx="642.8" cy="446.0" r="1.70" fill="#555"/>
<circle cx="640.2" cy="448.2" r="1.70" fill="#555"/>
<circle cx="642.8" cy="450.4" r="1.70" fill="#555"/>
<circle cx="640.2" cy="453.6" r="1.70" fill="#555"/>
<circle cx="656.5" cy="471.0" r="1.70" fill="#555"/>
<circle cx="659.9" cy="472.1" r="1.70" fill="#555"/>
<circle cx="654.0" cy="473.2" r="1.70" fill="#555"/>
<circle cx="656.5" cy="476.5" r="1.70" fill="#555"/>
<circle cx="656.5" cy="479.7" r="1.70" fill="#555"/>
<circle cx="656.5" cy="483.0" r="1.70" fill="#555"/>
<circle cx="659.9" cy="484.1" r="1.70" fill="#555"/>
<circle cx="672.8" cy="462.3" r="1.70" fill="#555"/>
<circle cx="672.8" cy="470.5" r="1.70" fill="#555"/>
<circle cx="672.8" cy="474.3" r="1.70" fill="#555"/>
<circle cx="672.8" cy="486.2" r="1.70" fill="#555"/>
<circle cx="676.1" cy="487.3" r="1.70" fill="#555"/>
<circle cx="669.4" cy="487.3" r="1.70" fill="#555"/>
<circle cx="669.1" cy="487.9" r="1.70" fill="#555"/>
<line x1="596.40" y1="504.70" x2="596.40" y2="417.80" stroke="#333" stroke-width="0.9"/>
<line x1="593.40" y1="504.70" x2="596.40" y2="504.70" stroke="#333" stroke-width="0.9"/>
<text x="592.40" y="508.02" font-size="9.5" text-anchor="end" fill="#222" stroke="#222" stroke-width="0.2">0</text>
<line x1="593.40" y1="482.98" x2="596.40" y2="482.98" stroke="#333" stroke-width="0.9"/>
<text x="592.40" y="486.30" font-size="9.5" text-anchor="end" fill="#222" stroke="#222" stroke-width="0.2">200</text>
<line x1="593.40" y1="461.25" x2="596.40" y2="461.25" stroke="#333" stroke-width="0.9"/>
<text x="592.40" y="464.57" font-size="9.5" text-anchor="end" fill="#222" stroke="#222" stroke-width="0.2">400</text>
<line x1="593.40" y1="439.52" x2="596.40" y2="439.52" stroke="#333" stroke-width="0.9"/>
<text x="592.40" y="442.85" font-size="9.5" text-anchor="end" fill="#222" stroke="#222" stroke-width="0.2">600</text>
<line x1="593.40" y1="417.80" x2="596.40" y2="417.80" stroke="#333" stroke-width="0.9"/>
<text x="592.40" y="421.12" font-size="9.5" text-anchor="end" fill="#222" stroke="#222" stroke-width="0.2">800</text>
<line x1="596.40" y1="504.70" x2="684.00" y2="504.70" stroke="#444" stroke-width="0.9"/>
<line x1="607.45" y1="504.70" x2="607.45" y2="507.20" stroke="#333" stroke-width="0.9"/>
<line x1="623.70" y1="504.70" x2="623.70" y2="507.20" stroke="#333" stroke-width="0.9"/>
<line x1="640.25" y1="504.70" x2="640.25" y2="507.20" stroke="#333" stroke-width="0.9"/>
<line x1="656.50" y1="504.70" x2="656.50" y2="507.20" stroke="#333" stroke-width="0.9"/>
<line x1="672.75" y1="504.70" x2="672.75" y2="507.20" stroke="#333" stroke-width="0.9"/>
<text x="615.85" y="513.20" font-size="8.2" text-anchor="end" fill="#222" stroke="#222" stroke-width="0.2" transform="rotate(-45 615.85 513.20)">MP-0d</text>
<text x="632.23" y="513.12" font-size="8.2" text-anchor="end" fill="#222" stroke="#222" stroke-width="0.2" transform="rotate(-45 632.23 513.12)">MP-3d</text>
<text x="648.90" y="513.05" font-size="8.2" text-anchor="end" fill="#222" stroke="#222" stroke-width="0.2" transform="rotate(-45 648.90 513.05)">MP-7d</text>
<text x="665.27" y="512.98" font-size="8.2" text-anchor="end" fill="#222" stroke="#222" stroke-width="0.2" transform="rotate(-45 665.27 512.98)">MP-14d</text>
<text x="681.65" y="512.90" font-size="8.2" text-anchor="end" fill="#222" stroke="#222" stroke-width="0.2" transform="rotate(-45 681.65 512.90)">MP-28d</text>
<text x="574.00" y="458.00" font-size="9.2" text-anchor="middle" fill="#222" stroke="#222" stroke-width="0.2" transform="rotate(-90 574.00 458.00)">NMDA-eEPSCs(pA)</text>
<line x1="607.80" y1="417.20" x2="638.50" y2="417.20" stroke="#222" stroke-width="0.8"/>
<text x="623.15" y="419.68" font-size="11.5" text-anchor="middle" fill="#222" stroke="#222" stroke-width="0.2">****</text>
<line x1="642.00" y1="417.20" x2="673.00" y2="417.20" stroke="#222" stroke-width="0.8"/>
<text x="657.50" y="419.68" font-size="11.5" text-anchor="middle" fill="#222" stroke="#222" stroke-width="0.2">****</text>
<line x1="639.60" y1="427.30" x2="656.50" y2="427.30" stroke="#222" stroke-width="0.8"/>
<text x="648.05" y="429.78" font-size="11.5" text-anchor="middle" fill="#222" stroke="#222" stroke-width="0.2">****</text>
<line x1="624.30" y1="435.20" x2="640.40" y2="435.20" stroke="#222" stroke-width="0.8"/>
<text x="632.35" y="437.68" font-size="11.5" text-anchor="middle" fill="#222" stroke="#222" stroke-width="0.2">****</text>
<text x="1.00" y="557.50" font-size="11.5" text-anchor="start" font-weight="bold" fill="#000">m</text>
<text x="81.00" y="562.60" font-size="12" text-anchor="middle" font-weight="bold" fill="#a9cbe4">Sham-28d</text>
<text x="230.50" y="561.20" font-size="12" text-anchor="middle" font-weight="bold" fill="#cd6670">MP-28d</text>
<path d="M36.2,624.9 36.7,623.9 37.2,624.2 37.7,624.7 38.2,624.0 38.7,624.5 39.2,624.6 39.7,620.7 40.2,620.5 40.7,621.1 41.2,621.5 41.7,620.8 42.2,620.9 42.7,621.8 43.2,620.8 43.7,620.8 44.2,622.1 44.7,620.4 45.2,621.4 45.7,620.1 46.2,620.8 46.7,621.7 47.2,621.6 47.7,620.6 48.2,620.8 48.7,621.1 49.2,620.5 49.7,621.3 50.2,622.0 50.7,620.4 51.2,620.2 51.3,568.8 51.5,623.7 51.7,624.6 51.8,569.9 52.0,628.1 52.2,624.1 52.7,623.9 53.2,623.6 53.7,623.0 54.2,623.5 54.7,622.3 55.2,623.2 55.7,622.4 56.2,622.4 56.7,621.7 57.2,621.3 57.7,622.2 58.2,621.4 58.7,621.6 59.2,621.1 59.7,622.2 60.2,621.2 60.7,620.6 60.8,568.4 61.0,624.1 61.2,624.2 61.7,624.6 62.2,624.1 62.7,623.6 63.2,622.7 63.7,622.9 64.2,622.1 64.7,622.4 65.2,621.3 65.7,621.9 66.2,621.4 66.7,621.3 67.2,620.8 67.7,621.4 68.2,620.6 68.7,621.4 69.2,621.0 69.7,624.8 69.8,568.6 70.0,628.3 70.2,623.8 70.7,623.6 71.2,623.6 71.7,623.5 72.2,623.3 72.7,622.1 73.2,623.5 73.7,622.1 74.2,623.1 74.7,621.4 75.2,621.3 75.7,621.4 76.2,621.2 76.7,620.7 77.2,621.4 77.7,620.2 78.2,621.5 78.7,620.7 79.2,621.6 79.7,620.9 80.2,620.4 80.7,624.7 80.8,570.3 81.0,628.2 81.2,624.9 81.7,623.5 82.2,624.2 82.7,623.8 83.2,622.6 83.7,623.0 84.2,622.9 84.7,622.2 85.2,622.2 85.7,621.7 86.2,621.8 86.7,622.2 87.2,620.8 87.7,621.8 88.2,624.7 88.3,569.7 88.5,628.2 88.7,624.4 89.2,624.6 89.7,624.0 90.2,624.0 90.7,623.0 91.2,623.0 91.7,622.7 92.2,622.1 92.7,621.8 93.2,621.6 93.7,621.6 94.2,620.7 94.7,622.2 95.2,621.1 95.7,621.1 96.2,621.3 96.7,621.0 97.2,621.3 97.7,621.3 98.2,621.4 98.7,620.0 99.2,621.5 99.7,621.1 99.8,568.5 100.0,624.6 100.2,624.3 100.7,624.4 101.2,623.6 101.7,623.2 102.2,623.5 102.7,623.5 103.2,623.0 103.7,622.6 104.2,622.6 104.7,622.0 105.2,621.3 105.7,622.1 106.2,621.8 106.7,620.2 107.2,621.4 107.7,621.6 108.2,621.2 108.3,569.6 108.5,624.7 108.7,624.4 109.2,624.4 109.7,623.6 110.2,627.1 110.7,627.5 111.2,626.4 111.7,626.5 112.2,625.7 112.7,625.9 113.2,625.1 113.7,625.1 114.2,625.0 114.7,625.3 115.2,624.8 115.7,624.2 116.2,624.4 116.7,624.5 117.2,624.5 117.7,624.1 118.2,624.9 118.7,624.6 119.2,624.6 119.7,625.6 120.2,624.3 120.7,624.8" stroke="#3a2a1a" stroke-width="0.6" fill="none" stroke-linejoin="round"/>
<path d="M36.2,625.1 36.7,625.2 37.2,624.5 37.7,624.2 38.2,624.0 38.7,624.5 39.2,624.0 39.7,620.4 40.2,621.1 40.7,621.1 41.2,621.3 41.7,620.6 42.2,621.0 42.7,621.0 43.2,620.4 43.7,621.3 43.8,568.6 44.0,624.8 44.2,625.2 44.7,623.7 45.2,623.9 45.7,623.6 46.2,622.3 46.7,622.8 47.2,622.6 47.7,622.8 48.2,622.2 48.7,622.1 49.2,621.9 49.7,622.0 50.2,621.0 50.7,621.1 51.2,621.1 51.7,621.4 52.2,620.7 52.7,621.1 53.2,621.9 53.7,621.2 54.2,620.4 54.7,620.8 55.2,621.6 55.7,625.8 55.8,569.9 56.0,629.3 56.2,624.5 56.7,624.2 57.2,623.6 57.7,622.8 58.2,623.6 58.7,622.8 59.2,623.0 59.7,621.9 60.2,622.0 60.7,622.5 61.2,622.4 61.7,620.9 62.2,620.6 62.7,621.0 63.2,621.4 63.7,621.1 64.2,621.2 64.7,620.6 64.8,568.5 65.0,624.1 65.2,623.7 65.7,623.9 66.2,623.7 66.7,623.2 67.2,622.9 67.7,623.3 68.2,623.0 68.7,622.1 69.2,622.0 69.7,622.5 70.2,622.0 70.7,621.7 71.2,621.0 71.7,619.9 72.2,620.7 72.7,624.2 72.8,568.5 73.0,627.7 73.2,623.0 73.7,624.0 74.2,623.8 74.7,622.9 75.2,623.5 75.7,622.7 76.2,621.6 76.7,622.4 77.2,621.8 77.7,621.8 78.2,621.7 78.7,622.1 79.2,621.3 79.7,621.0 80.2,621.2 80.7,620.2 81.2,621.6 81.7,620.6 82.2,621.2 82.7,620.5 83.2,620.6 83.7,620.9 84.2,621.9 84.7,621.4 85.2,624.2 85.3,569.2 85.5,627.7 85.7,624.1 86.2,623.6 86.7,623.8 87.2,623.2 87.7,623.7 88.2,622.6 88.7,622.3 89.2,622.4 89.7,622.3 90.2,622.0 90.7,622.0 91.2,620.7 91.7,620.8 92.2,621.3 92.7,620.3 93.2,621.2 93.7,620.7 94.2,621.4 94.7,620.5 94.8,568.3 95.0,624.0 95.2,624.4 95.7,624.1 96.2,623.8 96.7,623.2 97.2,623.8 97.7,623.5 98.2,622.7 98.7,622.7 99.2,622.6 99.7,622.5 100.2,622.0 100.7,621.9 101.2,621.2 101.7,620.6 102.2,620.8 102.7,621.5 103.2,621.5 103.7,624.5 103.8,569.0 104.0,628.0 104.2,624.3 104.7,624.1 105.2,624.1 105.7,623.1 106.2,623.4 106.7,623.5 107.2,622.7 107.7,622.4 108.2,622.4 108.7,622.0 109.2,621.6 109.7,621.2 110.2,624.5 110.7,623.8 111.2,624.2 111.7,624.4 112.2,625.3 112.7,624.4 113.2,624.2 113.7,624.5 114.2,624.2 114.7,624.1 115.2,624.1 115.7,624.3 116.2,624.4 116.7,624.4 117.2,624.1 117.7,625.6 118.2,624.8 118.7,624.2 119.2,624.7 119.7,624.2 120.2,625.2 120.7,624.2" stroke="#9fd0a2" stroke-width="0.6" fill="none" stroke-linejoin="round"/>
<path d="M36.2,625.6 36.7,624.2 37.2,624.7 37.7,624.6 38.2,624.9 38.7,623.9 39.2,624.3 39.7,620.0 40.2,619.9 40.7,620.0 41.2,620.2 41.7,620.3 42.2,620.0 42.7,620.6 43.2,620.1 43.7,618.9 44.2,620.9 44.7,620.2 45.2,620.1 45.7,620.5 46.2,620.5 46.7,620.4 47.2,620.0 47.7,620.5 48.2,619.7 48.7,621.0 49.2,619.8 49.7,620.3 50.2,620.4 50.7,620.5 51.2,620.3 51.7,620.6 52.2,618.8 52.7,620.3 53.2,620.3 53.7,620.1 54.2,621.0 54.7,619.9 54.8,570.1 55.0,623.4 55.2,624.3 55.7,623.0 56.2,623.3 56.7,622.5 57.2,623.8 57.7,622.3 58.2,622.6 58.7,622.6 59.2,621.6 59.7,620.9 60.2,620.7 60.7,620.8 61.2,621.2 61.7,620.2 62.2,620.6 62.7,620.0 63.2,621.1 63.7,619.7 64.2,619.8 64.7,620.5 65.2,621.0 65.7,620.0 66.2,620.1 66.7,620.4 67.2,620.1 67.7,621.0 68.2,620.9 68.7,621.2 69.2,620.3 69.7,621.4 70.2,620.0 70.7,621.4 71.2,620.2 71.7,623.4 71.8,569.7 72.0,626.9 72.2,623.3 72.7,622.9 73.2,623.0 73.7,623.1 74.2,621.6 74.7,622.3 75.2,622.0 75.7,621.7 76.2,621.9 76.7,620.7 77.2,621.4 77.7,620.7 78.2,620.6 78.7,620.2 79.2,620.2 79.7,620.1 80.2,620.5 80.7,621.3 81.2,620.8 81.7,620.7 82.2,620.6 82.7,620.1 83.2,620.6 83.7,621.3 84.2,619.8 84.7,620.7 85.2,620.8 85.7,620.5 86.2,620.7 86.7,621.0 87.2,621.4 87.7,620.9 88.2,621.1 88.7,620.5 89.2,620.7 89.7,620.4 90.2,620.5 90.7,620.1 91.2,624.1 91.3,569.5 91.5,627.6 91.7,624.2 92.2,624.7 92.7,623.5 93.2,622.9 93.7,622.7 94.2,622.0 94.7,622.6 95.2,621.8 95.7,621.4 96.2,621.3 96.7,621.2 97.2,620.1 97.7,620.8 98.2,620.3 98.7,619.4 99.2,620.4 99.7,619.5 100.2,620.2 100.7,619.9 101.2,620.5 101.7,621.0 102.2,620.3 102.7,620.6 103.2,619.5 103.7,620.7 104.2,620.8 104.7,620.8 105.2,620.0 105.7,620.7 106.2,621.1 106.7,621.3 107.2,620.4 107.3,569.5 107.5,623.9 107.7,624.3 108.2,624.0 108.7,623.2 109.2,623.0 109.7,622.8 110.2,626.8 110.7,626.3 111.2,626.5 111.7,626.1 112.2,624.2 112.7,625.2 113.2,626.4 113.7,624.2 114.2,624.6 114.7,625.0 115.2,624.5 115.7,625.1 116.2,623.9 116.7,623.9 117.2,624.4 117.7,624.2 118.2,624.0 118.7,624.8 119.2,624.6 119.7,624.5 120.2,624.3 120.7,624.6" stroke="#c3a6dc" stroke-width="0.6" fill="none" stroke-linejoin="round"/>
<path d="M36.2,624.5 36.7,625.1 37.2,624.1 37.7,624.9 38.2,624.4 38.7,624.4 39.2,625.4 39.7,619.6 40.2,619.5 40.7,619.8 41.2,620.0 41.7,619.5 42.2,619.8 42.7,619.1 43.2,619.3 43.7,619.3 44.2,618.9 44.7,618.8 45.2,618.8 45.7,619.4 46.2,619.4 46.7,619.4 47.2,619.5 47.7,618.9 48.2,619.5 48.7,619.6 49.2,619.8 49.7,622.5 49.8,572.1 50.0,626.0 50.2,623.2 50.7,621.9 51.2,622.5 51.7,621.7 52.2,621.8 52.7,620.9 53.2,622.0 53.7,620.5 54.2,620.8 54.7,620.5 55.2,620.4 55.7,621.0 56.2,619.1 56.7,619.8 57.2,619.3 57.7,620.0 58.2,619.2 58.7,619.8 59.2,619.0 59.7,619.2 60.2,620.1 60.7,619.1 61.2,620.3 61.7,619.1 62.2,620.2 62.7,622.9 62.8,571.0 63.0,626.4 63.2,623.5 63.7,621.6 64.2,622.7 64.7,621.6 65.2,621.6 65.7,621.2 66.2,621.5 66.7,620.4 67.2,620.7 67.7,620.6 68.2,621.0 68.7,618.9 69.2,620.4 69.7,619.9 70.2,619.3 70.7,619.6 71.2,619.3 71.7,620.3 72.2,619.6 72.7,619.4 73.2,619.4 73.7,619.4 74.2,619.4 74.7,619.1 75.2,620.4 75.7,618.6 76.2,617.9 76.7,622.9 76.8,571.3 77.0,626.4 77.2,623.3 77.7,622.8 78.2,622.5 78.7,622.0 79.2,621.2 79.7,621.8 80.2,621.3 80.7,621.1 81.2,621.0 81.7,620.2 82.2,621.2 82.7,619.7 83.2,619.4 83.7,619.9 84.2,618.9 84.7,619.4 85.2,619.0 85.7,619.2 86.2,618.7 86.7,618.8 87.2,619.0 87.7,619.5 88.2,619.4 88.7,619.2 89.2,619.1 89.7,624.1 89.8,571.7 90.0,627.6 90.2,622.6 90.7,622.4 91.2,621.7 91.7,622.3 92.2,622.3 92.7,621.5 93.2,621.1 93.7,620.8 94.2,620.4 94.7,620.1 95.2,620.0 95.7,619.6 96.2,619.5 96.7,618.8 97.2,619.7 97.7,619.5 98.2,619.0 98.7,618.5 99.2,619.5 99.7,620.0 100.2,619.2 100.7,619.3 101.2,619.3 101.7,619.8 102.2,619.1 102.7,623.4 102.8,571.3 103.0,626.9 103.2,622.2 103.7,623.0 104.2,622.8 104.7,622.1 105.2,621.7 105.7,621.1 106.2,621.4 106.7,621.8 107.2,620.7 107.7,620.8 108.2,619.6 108.7,620.2 109.2,620.0 109.7,619.7 110.2,624.1 110.7,625.2 111.2,623.7 111.7,624.8 112.2,624.7 112.7,624.9 113.2,624.0 113.7,623.7 114.2,624.2 114.7,624.6 115.2,624.9 115.7,624.9 116.2,624.8 116.7,625.3 117.2,624.7 117.7,624.3 118.2,624.4 118.7,625.3 119.2,624.0 119.7,623.9 120.2,624.4 120.7,624.7" stroke="#f2b0b0" stroke-width="0.6" fill="none" stroke-linejoin="round"/>
<path d="M36.2,624.5 36.7,624.7 37.2,624.3 37.7,624.7 38.2,624.9 38.7,624.7 39.2,625.2 39.7,620.0 40.2,620.5 40.7,620.1 41.2,620.1 41.7,620.4 42.2,620.5 42.7,620.6 43.2,620.7 43.7,621.4 44.2,620.8 44.7,619.7 45.2,620.5 45.7,620.2 46.2,620.2 46.7,621.0 47.2,620.3 47.7,619.6 48.2,620.6 48.7,620.3 49.2,619.9 49.7,620.0 50.2,620.2 50.7,620.4 51.2,620.2 51.7,620.5 52.2,621.3 52.7,620.1 53.2,620.1 53.3,570.7 53.5,623.6 53.7,623.7 53.8,570.0 54.0,627.2 54.2,624.2 54.7,622.7 55.2,622.6 55.7,622.8 56.2,622.2 56.7,622.0 57.2,622.3 57.7,622.1 58.2,621.6 58.7,621.2 59.2,621.7 59.7,621.0 60.2,620.5 60.7,621.0 61.2,620.0 61.7,620.5 62.2,620.7 62.7,620.4 63.2,620.2 63.7,620.6 64.2,620.2 64.7,620.2 65.2,620.0 65.7,621.0 66.2,620.2 66.7,621.0 67.2,620.6 67.7,620.3 68.2,620.7 68.7,620.6 69.2,620.5 69.7,619.8 70.2,623.9 70.3,569.3 70.5,627.4 70.7,624.1 71.2,623.3 71.7,623.2 72.2,622.6 72.7,621.7 73.2,623.1 73.7,621.9 74.2,622.0 74.7,621.6 75.2,621.1 75.7,622.3 76.2,621.0 76.7,620.2 77.2,621.0 77.7,620.2 78.2,620.6 78.7,620.1 79.2,620.6 79.7,620.9 80.2,620.7 80.7,620.8 81.2,620.8 81.7,620.3 82.2,620.6 82.7,620.4 83.2,620.8 83.7,621.1 84.2,620.2 84.7,620.7 85.2,621.5 85.7,621.2 86.2,620.2 86.7,620.6 87.2,620.6 87.3,569.2 87.5,624.1 87.7,623.8 88.2,623.4 88.7,623.0 89.2,623.5 89.7,622.8 90.2,622.5 90.7,623.8 91.2,622.4 91.7,622.1 92.2,621.5 92.7,620.8 93.2,621.5 93.7,620.7 94.2,620.5 94.7,620.9 95.2,620.9 95.7,620.5 96.2,620.4 96.7,621.4 97.2,620.7 97.7,620.0 98.2,620.8 98.7,620.5 99.2,620.4 99.7,620.7 100.2,620.5 100.7,621.3 101.2,620.5 101.7,620.5 102.2,621.0 102.7,620.2 103.2,620.9 103.7,623.8 103.8,570.7 104.0,627.3 104.2,623.2 104.7,622.7 105.2,623.1 105.7,622.3 106.2,622.9 106.7,622.5 107.2,622.8 107.7,621.2 108.2,622.0 108.7,621.2 109.2,620.7 109.7,620.2 110.2,624.2 110.7,623.9 111.2,623.9 111.7,624.4 112.2,624.4 112.7,624.2 113.2,625.5 113.7,624.0 114.2,625.6 114.7,625.0 115.2,625.1 115.7,624.3 116.2,625.4 116.7,624.8 117.2,625.3 117.7,625.4 118.2,624.4 118.7,624.4 119.2,624.8 119.7,625.1 120.2,623.8 120.7,624.2" stroke="#2e6b3e" stroke-width="0.6" fill="none" stroke-linejoin="round"/>
<path d="M36.2,624.0 36.7,624.0 37.2,624.8 37.7,623.5 38.2,624.4 38.7,623.5 39.2,625.0 39.7,619.7 40.2,620.2 40.7,619.4 41.2,619.8 41.7,619.4 42.2,619.2 42.7,619.6 43.2,619.0 43.7,619.4 44.2,619.9 44.7,619.6 45.2,619.4 45.7,620.6 46.2,619.6 46.7,619.3 47.2,619.7 47.7,619.3 47.8,570.1 48.0,622.8 48.2,622.9 48.7,622.6 49.2,622.6 49.7,621.9 50.2,622.1 50.7,622.8 51.2,621.6 51.7,620.8 52.2,621.4 52.7,620.5 53.2,620.2 53.7,619.8 54.2,620.5 54.7,619.3 55.2,620.5 55.7,619.4 56.2,619.5 56.7,620.0 57.2,619.7 57.7,619.8 58.2,619.9 58.7,619.7 58.8,570.1 59.0,623.2 59.2,623.5 59.7,622.6 60.2,622.1 60.7,622.4 61.2,622.0 61.7,621.1 62.2,621.1 62.7,621.6 63.2,620.8 63.7,620.4 64.2,620.4 64.7,620.1 65.2,619.8 65.7,618.7 66.2,620.4 66.7,619.7 67.2,619.2 67.7,623.4 67.8,568.9 68.0,626.9 68.2,623.0 68.7,622.5 69.2,622.5 69.7,621.9 70.2,621.8 70.7,620.4 71.2,621.6 71.7,620.8 72.2,620.4 72.7,620.9 73.2,620.2 73.7,619.8 74.2,619.7 74.7,618.8 75.2,619.7 75.7,619.5 76.2,619.8 76.7,619.5 77.2,619.2 77.7,620.1 78.2,619.9 78.7,619.4 79.2,620.1 79.3,569.5 79.5,623.6 79.7,622.7 80.2,622.6 80.7,622.7 81.2,622.4 81.7,622.0 82.2,621.1 82.7,620.0 83.2,621.3 83.7,621.0 84.2,621.2 84.7,620.4 85.2,619.9 85.7,620.1 86.2,619.0 86.7,619.1 87.2,619.1 87.7,619.7 88.2,620.5 88.7,619.9 89.2,620.1 89.7,619.7 90.2,619.7 90.7,619.4 91.2,619.5 91.7,618.5 92.2,619.0 92.7,619.0 92.8,569.1 93.0,622.5 93.2,622.6 93.7,622.7 94.2,622.6 94.7,621.8 95.2,620.2 95.7,622.1 96.2,622.1 96.7,620.1 97.2,620.4 97.7,620.8 98.2,620.3 98.7,619.6 99.2,619.8 99.7,620.1 100.2,619.8 100.7,619.9 101.2,620.7 101.7,619.5 102.2,619.2 102.7,619.2 102.8,569.6 103.0,622.7 103.2,623.2 103.7,622.8 104.2,622.5 104.7,621.2 105.2,621.4 105.7,622.2 106.2,621.5 106.7,620.4 107.2,620.5 107.7,620.0 108.2,619.9 108.7,620.6 109.2,619.8 109.7,620.1 110.2,624.6 110.7,623.8 111.2,624.2 111.7,625.5 112.2,624.2 112.7,624.0 113.2,625.1 113.7,624.5 114.2,624.5 114.7,625.2 115.2,623.7 115.7,624.7 116.2,624.0 116.7,623.9 117.2,624.1 117.7,625.0 118.2,624.4 118.7,623.7 119.2,624.0 119.7,625.2 120.2,625.0 120.7,624.0" stroke="#d8c890" stroke-width="0.6" fill="none" stroke-linejoin="round"/>
<path d="M36.2,624.7 36.7,623.7 37.2,624.2 37.7,624.5 38.2,625.2 38.7,624.5 39.2,623.8 39.7,623.6 40.2,622.9 40.7,624.0 41.2,623.3 41.7,624.2 42.2,623.4 42.7,623.0 43.2,622.8 43.7,623.3 44.2,623.6 44.7,624.0 45.2,623.6 45.7,623.1 46.2,623.7 46.7,622.8 47.2,623.7 47.7,623.1 48.2,624.1 48.7,623.9 49.2,623.6 49.7,623.0 50.2,623.7 50.7,627.1 50.8,570.2 51.0,630.6 51.2,626.4 51.7,627.5 52.2,625.9 52.7,625.8 53.2,625.4 53.7,625.1 54.2,626.1 54.7,624.5 55.2,624.0 55.7,624.4 56.2,623.9 56.7,623.2 57.2,623.8 57.7,623.4 58.2,623.0 58.7,623.9 59.2,623.2 59.7,624.0 60.2,624.2 60.7,623.9 61.2,623.2 61.7,623.4 62.2,623.2 62.7,623.1 63.2,623.6 63.7,623.9 64.2,623.6 64.7,623.7 65.2,623.9 65.7,622.9 66.2,624.2 66.7,623.5 67.2,623.8 67.7,623.5 68.2,624.0 68.7,623.1 69.2,626.7 69.3,569.7 69.5,630.2 69.7,627.0 70.2,627.7 70.7,627.5 71.2,626.3 71.7,625.8 72.2,625.4 72.7,624.7 73.2,625.2 73.7,624.6 74.2,625.3 74.7,624.0 75.2,623.4 75.7,622.8 76.2,622.6 76.7,623.7 77.2,623.6 77.7,622.9 78.2,622.7 78.7,623.6 79.2,623.3 79.7,623.5 80.2,623.4 80.7,623.1 81.2,622.7 81.7,623.5 82.2,623.5 82.7,623.5 83.2,623.9 83.7,623.9 84.2,623.2 84.7,623.7 85.2,625.9 85.3,569.4 85.5,629.4 85.7,626.9 86.2,625.6 86.7,626.6 87.2,625.6 87.7,625.4 88.2,624.8 88.7,625.2 89.2,625.1 89.7,624.9 90.2,624.1 90.7,624.9 91.2,623.5 91.7,624.2 92.2,624.4 92.7,623.3 93.2,623.0 93.7,623.9 94.2,623.2 94.7,623.8 95.2,622.6 95.7,623.5 96.2,623.8 96.7,623.3 97.2,623.9 97.7,623.5 98.2,623.5 98.7,623.5 99.2,623.5 99.7,623.2 100.2,623.4 100.7,623.0 101.2,624.3 101.7,623.1 101.8,569.1 102.0,626.6 102.2,627.2 102.7,627.6 103.2,625.9 103.7,625.7 104.2,625.9 104.7,624.7 105.2,624.8 105.7,625.1 106.2,625.1 106.7,624.8 107.2,624.7 107.7,624.5 108.2,623.6 108.7,623.4 109.2,623.3 109.7,623.3 110.2,625.0 110.7,624.9 111.2,623.6 111.7,624.7 112.2,624.0 112.7,624.0 113.2,625.1 113.7,625.1 114.2,625.0 114.7,624.8 115.2,625.3 115.7,624.0 116.2,624.9 116.7,624.2 117.2,624.2 117.7,623.8 118.2,625.2 118.7,625.3 119.2,624.9 119.7,624.2 120.2,624.6 120.7,624.0" stroke="#e8c0d8" stroke-width="0.6" fill="none" stroke-linejoin="round"/>
<path d="M36.2,624.4 36.7,624.7 37.2,624.4 37.7,624.4 38.2,624.1 38.7,624.4 39.2,625.0 39.7,621.0 40.2,621.2 40.7,620.9 41.2,620.9 41.7,620.9 42.2,620.0 42.7,621.2 43.2,621.0 43.7,621.0 44.2,620.0 44.7,620.0 44.8,569.4 45.0,623.5 45.2,623.1 45.7,624.6 46.2,624.5 46.7,623.6 47.2,623.1 47.7,623.1 48.2,622.9 48.7,622.6 49.2,622.2 49.7,621.6 50.2,621.1 50.7,621.1 51.2,620.7 51.7,621.3 52.2,620.9 52.7,620.8 53.2,621.0 53.7,621.4 54.2,620.4 54.7,620.9 55.2,620.3 55.7,620.5 56.2,620.5 56.7,621.5 57.2,620.7 57.7,620.5 58.2,620.3 58.7,620.5 59.2,621.3 59.7,620.3 59.8,568.8 60.0,623.8 60.2,624.3 60.7,623.8 61.2,622.9 61.7,623.7 62.2,623.4 62.7,623.2 63.2,623.2 63.7,622.5 64.2,622.1 64.7,621.2 65.2,621.8 65.7,621.0 66.2,620.9 66.7,620.2 67.2,620.3 67.7,620.5 68.2,621.4 68.7,619.9 69.2,620.1 69.7,620.9 70.2,621.4 70.7,621.0 71.2,619.9 71.7,619.6 72.2,620.9 72.7,620.4 73.2,620.3 73.7,621.2 74.2,621.3 74.7,620.8 75.2,620.9 75.7,621.0 76.2,621.5 76.7,621.1 77.2,621.0 77.7,621.0 78.2,623.5 78.3,568.4 78.5,627.0 78.7,624.5 79.2,623.2 79.7,623.6 80.2,623.8 80.7,622.4 81.2,622.9 81.7,622.2 82.2,621.8 82.7,622.2 83.2,622.6 83.7,620.7 84.2,621.4 84.7,621.2 85.2,620.8 85.7,621.1 86.2,620.2 86.7,620.8 87.2,620.8 87.7,620.8 88.2,620.4 88.7,621.0 89.2,619.8 89.7,620.3 90.2,620.6 90.7,620.3 91.2,620.3 91.7,620.3 92.2,621.7 92.7,621.1 93.2,620.9 93.7,619.9 94.2,620.9 94.7,620.3 95.2,624.0 95.3,569.5 95.5,627.5 95.7,624.1 96.2,623.9 96.7,623.5 97.2,623.3 97.7,623.2 98.2,622.6 98.7,622.6 99.2,622.5 99.7,622.0 100.2,622.1 100.7,621.7 101.2,622.1 101.7,621.1 102.2,620.6 102.7,620.6 103.2,620.8 103.7,621.2 104.2,620.6 104.7,620.9 105.2,621.6 105.7,619.6 106.2,620.3 106.7,620.9 107.2,621.0 107.7,620.9 108.2,620.6 108.7,621.1 109.2,620.9 109.7,620.5 110.2,625.6 110.7,624.7 111.2,624.3 111.7,624.5 112.2,624.4 112.7,624.5 113.2,623.3 113.7,624.3 114.2,625.0 114.7,624.0 115.2,624.5 115.7,624.9 116.2,624.9 116.7,625.2 117.2,623.7 117.7,624.3 118.2,624.3 118.7,624.8 119.2,625.0 119.7,623.3 120.2,625.0 120.7,623.8" stroke="#b0d8c0" stroke-width="0.6" fill="none" stroke-linejoin="round"/>
<path d="M36.2,624.7 36.7,625.6 37.2,625.0 37.7,625.0 38.2,624.8 38.7,624.7 39.2,624.8 39.7,623.5 40.2,623.2 40.7,623.1 41.2,623.0 41.7,623.7 42.2,623.8 42.7,624.3 43.2,623.8 43.7,623.7 44.2,623.8 44.7,623.5 45.2,622.7 45.7,624.0 46.2,623.3 46.7,623.7 47.2,623.4 47.7,624.9 48.2,624.1 48.7,623.7 49.2,623.0 49.7,624.0 50.2,623.1 50.7,624.1 51.2,622.8 51.7,623.5 52.2,624.0 52.7,623.2 53.2,623.6 53.7,623.6 54.2,624.0 54.7,623.3 55.2,623.9 55.7,624.5 56.2,626.3 56.3,572.1 56.5,629.8 56.7,626.4 57.2,626.4 57.7,626.6 58.2,626.2 58.7,625.6 59.2,625.5 59.7,625.0 60.2,624.7 60.7,624.1 61.2,625.3 61.7,624.0 62.2,623.7 62.7,623.7 63.2,623.8 63.7,623.9 64.2,623.3 64.7,623.5 65.2,623.9 65.7,623.2 66.2,623.4 66.7,623.2 67.2,623.5 67.7,623.6 68.2,623.3 68.7,627.3 68.8,571.1 69.0,630.8 69.2,626.1 69.7,627.1 70.2,626.5 70.7,625.8 71.2,625.5 71.7,625.7 72.2,624.6 72.7,623.9 73.2,625.0 73.7,625.2 74.2,624.2 74.7,624.1 75.2,623.8 75.7,623.1 76.2,623.7 76.7,623.9 77.2,623.6 77.7,624.0 78.2,623.1 78.7,623.7 79.2,623.2 79.7,623.3 80.2,623.7 80.7,623.6 81.2,623.9 81.7,623.8 82.2,626.4 82.3,571.3 82.5,629.9 82.7,627.3 83.2,626.1 83.7,625.0 84.2,626.0 84.7,625.7 85.2,625.7 85.7,625.6 86.2,624.3 86.7,624.4 87.2,623.8 87.7,625.2 88.2,624.8 88.7,623.7 89.2,623.7 89.7,624.4 90.2,624.6 90.7,623.7 91.2,623.6 91.7,622.1 92.2,623.3 92.7,623.4 93.2,624.0 93.7,623.4 94.2,624.0 94.7,623.8 95.2,623.0 95.7,623.5 95.8,570.6 96.0,627.0 96.2,627.2 96.7,626.9 97.2,626.0 97.7,626.1 98.2,625.1 98.7,625.8 99.2,625.2 99.7,624.5 100.2,624.4 100.7,624.8 101.2,624.3 101.7,624.3 102.2,623.6 102.7,623.6 103.2,623.4 103.7,622.8 104.2,623.4 104.7,623.4 105.2,623.2 105.7,623.9 106.2,624.5 106.7,624.2 107.2,623.5 107.7,623.0 108.2,623.4 108.7,623.2 109.2,623.6 109.7,624.0 110.2,624.5 110.7,623.9 111.2,625.1 111.7,624.5 112.2,625.1 112.7,624.1 113.2,625.6 113.7,623.9 114.2,624.6 114.7,624.9 115.2,623.3 115.7,624.1 116.2,623.8 116.7,625.3 117.2,624.8 117.7,624.1 118.2,623.7 118.7,623.7 119.2,624.6 119.7,624.1 120.2,624.7 120.7,624.3" stroke="#8a2050" stroke-width="0.6" fill="none" stroke-linejoin="round"/>
<path d="M36.2,624.1 36.7,624.6 37.2,625.1 37.7,625.2 38.2,625.0 38.7,624.5 39.2,624.6 39.7,622.8 40.2,622.3 40.7,622.7 41.2,623.3 41.7,623.0 42.2,622.8 42.7,622.4 43.2,622.9 43.7,622.7 44.2,622.9 44.7,623.1 45.2,621.9 45.7,622.9 46.2,622.3 46.7,622.5 47.2,622.4 47.7,623.4 48.2,623.2 48.7,623.1 49.2,622.6 49.7,622.3 50.2,622.7 50.7,623.0 51.2,622.9 51.7,623.2 51.8,569.6 52.0,626.7 52.2,626.3 52.7,625.7 53.2,626.4 53.7,624.9 54.2,625.6 54.7,625.1 55.2,624.6 55.7,624.5 56.2,623.4 56.7,624.4 57.2,624.2 57.7,623.9 58.2,623.7 58.7,623.4 59.2,623.2 59.7,622.7 60.2,623.1 60.7,622.9 61.2,622.8 61.7,622.9 62.2,623.4 62.7,623.2 63.2,623.3 63.7,626.2 63.8,569.8 64.0,629.7 64.2,626.0 64.7,625.7 65.2,625.4 65.7,625.3 66.2,624.3 66.7,624.2 67.2,625.2 67.7,624.6 68.2,623.9 68.7,623.7 69.2,623.5 69.7,624.8 70.2,623.4 70.7,622.9 71.2,622.6 71.7,621.9 72.2,623.0 72.7,623.5 73.2,623.3 73.7,623.0 74.2,622.6 74.7,622.4 75.2,622.9 75.7,622.7 76.2,622.4 76.7,623.7 77.2,622.5 77.3,569.8 77.5,626.0 77.7,626.0 78.2,626.6 78.7,625.7 79.2,626.3 79.7,625.3 80.2,624.8 80.7,625.2 81.2,624.6 81.7,624.7 82.2,623.9 82.7,623.9 83.2,623.4 83.7,623.1 84.2,623.0 84.7,622.8 85.2,623.1 85.7,622.1 86.2,622.2 86.7,622.9 87.2,622.9 87.7,627.0 87.8,569.9 88.0,630.5 88.2,626.2 88.7,627.0 89.2,625.2 89.7,625.6 90.2,625.3 90.7,624.5 91.2,624.4 91.7,624.1 92.2,624.2 92.7,623.5 93.2,624.7 93.7,623.7 94.2,623.6 94.7,623.9 95.2,623.5 95.7,622.9 96.2,623.1 96.7,622.9 97.2,623.0 97.7,623.3 98.2,622.0 98.7,622.2 98.8,569.7 99.0,625.7 99.2,626.5 99.7,626.4 100.2,625.8 100.7,625.6 101.2,624.5 101.7,624.7 102.2,625.1 102.7,624.6 103.2,623.9 103.7,623.2 104.2,623.0 104.7,624.0 105.2,623.5 105.7,623.5 106.2,623.0 106.7,622.0 107.2,622.7 107.7,622.9 108.2,623.4 108.3,569.4 108.5,626.9 108.7,626.4 109.2,625.9 109.7,625.6 110.2,627.2 110.7,626.5 111.2,626.9 111.7,626.4 112.2,625.5 112.7,626.0 113.2,625.4 113.7,625.5 114.2,624.0 114.7,625.0 115.2,623.6 115.7,624.3 116.2,625.9 116.7,624.8 117.2,624.9 117.7,624.1 118.2,623.9 118.7,624.4 119.2,624.6 119.7,624.4 120.2,624.1 120.7,624.1" stroke="#c0c0e8" stroke-width="0.6" fill="none" stroke-linejoin="round"/>
<path d="M36.2,624.1 36.7,624.3 37.2,624.2 37.7,624.4 38.2,624.8 38.7,623.7 39.2,624.3 39.7,621.0 40.2,620.8 40.7,621.1 41.2,621.2 41.7,622.3 42.2,621.3 42.7,621.2 43.2,621.6 43.7,620.7 44.2,620.9 44.7,621.4 45.2,620.9 45.7,620.7 46.2,620.9 46.7,620.6 47.2,621.7 47.7,621.7 48.2,622.4 48.7,621.0 49.2,621.1 49.7,621.1 50.2,621.4 50.7,621.2 51.2,621.5 51.7,621.0 52.2,620.5 52.7,621.9 53.2,620.9 53.7,621.7 54.2,621.0 54.7,624.7 54.8,569.6 55.0,628.2 55.2,624.5 55.7,623.9 56.2,623.9 56.7,624.1 57.2,623.9 57.7,623.2 58.2,623.1 58.7,622.0 59.2,621.5 59.7,621.9 60.2,622.2 60.7,622.1 61.2,620.9 61.7,621.6 62.2,621.8 62.7,621.7 63.2,621.4 63.7,621.3 64.2,621.6 64.7,620.1 65.2,620.7 65.7,621.4 66.2,621.2 66.7,621.5 67.2,621.0 67.7,621.0 68.2,621.5 68.7,621.5 69.2,621.5 69.7,621.7 70.2,621.5 70.7,620.5 71.2,620.8 71.3,569.3 71.5,624.3 71.7,624.6 72.2,625.0 72.7,624.1 73.2,623.6 73.7,623.9 74.2,623.7 74.7,623.3 75.2,622.4 75.7,622.3 76.2,622.7 76.7,621.5 77.2,621.8 77.7,622.1 78.2,621.7 78.7,620.9 79.2,621.0 79.7,621.1 80.2,620.7 80.7,621.2 81.2,620.8 81.7,621.4 82.2,620.7 82.7,620.9 83.2,620.9 83.7,621.2 84.2,620.1 84.7,621.6 85.2,621.1 85.7,621.2 86.2,621.7 86.7,621.2 87.2,621.4 87.7,621.2 87.8,568.6 88.0,624.7 88.2,623.1 88.7,624.6 89.2,623.4 89.7,623.7 90.2,622.9 90.7,623.4 91.2,622.2 91.7,622.9 92.2,623.0 92.7,621.8 93.2,621.4 93.7,622.0 94.2,621.6 94.7,621.0 95.2,621.2 95.7,621.8 96.2,620.9 96.7,620.6 97.2,620.5 97.7,620.7 98.2,620.4 98.7,621.3 99.2,621.6 99.7,621.1 100.2,621.6 100.7,620.6 101.2,621.3 101.7,621.1 102.2,621.8 102.7,620.8 103.2,622.4 103.7,620.9 104.2,621.0 104.7,621.8 104.8,568.7 105.0,625.3 105.2,623.6 105.7,623.6 106.2,624.1 106.7,624.1 107.2,623.7 107.7,623.3 108.2,623.0 108.7,622.9 109.2,623.4 109.7,622.2 110.2,624.5 110.7,625.2 111.2,624.6 111.7,624.0 112.2,623.9 112.7,624.8 113.2,624.2 113.7,624.4 114.2,624.1 114.7,625.0 115.2,624.3 115.7,624.3 116.2,623.8 116.7,623.9 117.2,625.0 117.7,624.0 118.2,624.9 118.7,624.7 119.2,624.6 119.7,624.6 120.2,624.5 120.7,625.0" stroke="#e7a3c4" stroke-width="0.6" fill="none" stroke-linejoin="round"/>
<path d="M36.2,623.9 36.7,624.7 37.2,624.9 37.7,624.3 38.2,623.9 38.7,624.5 39.2,624.7 39.7,623.4 40.2,622.3 40.7,622.3 41.2,623.2 41.7,623.1 42.2,623.6 42.7,623.3 43.2,622.8 43.7,622.8 44.2,624.0 44.7,622.8 45.2,622.5 45.7,622.4 46.2,626.4 46.3,571.5 46.5,629.9 46.7,626.1 47.2,626.1 47.7,625.7 48.2,625.3 48.7,625.2 49.2,624.3 49.7,624.7 50.2,624.6 50.7,623.6 51.2,623.5 51.7,623.2 52.2,623.1 52.7,622.6 53.2,622.6 53.7,624.4 54.2,623.7 54.7,622.9 55.2,622.8 55.7,622.5 56.2,622.9 56.7,623.3 57.2,623.6 57.7,623.2 58.2,622.2 58.7,623.4 58.8,571.2 59.0,626.9 59.2,627.1 59.7,625.7 60.2,626.0 60.7,625.5 61.2,625.7 61.7,624.7 62.2,625.2 62.7,624.4 63.2,624.8 63.7,624.3 64.2,623.8 64.7,623.1 65.2,623.6 65.7,623.2 66.2,623.6 66.7,622.7 67.2,623.1 67.7,623.1 68.2,623.0 68.7,623.0 68.8,572.0 69.0,626.5 69.2,626.4 69.7,626.4 70.2,625.4 70.7,625.5 71.2,625.1 71.7,624.7 72.2,624.5 72.7,624.2 73.2,623.9 73.7,624.1 74.2,623.5 74.7,624.6 75.2,623.3 75.7,622.5 76.2,623.1 76.7,622.7 77.2,622.2 77.7,623.4 78.2,622.8 78.7,622.7 79.2,623.2 79.7,622.9 80.2,622.8 80.3,571.1 80.5,626.3 80.7,627.0 81.2,625.9 81.7,625.9 82.2,625.9 82.7,625.5 83.2,625.0 83.7,625.3 84.2,624.1 84.7,624.6 85.2,624.4 85.7,623.6 86.2,622.6 86.7,622.8 87.2,623.1 87.7,623.1 88.2,623.6 88.7,622.4 89.2,622.9 89.7,623.2 90.2,622.8 90.7,621.8 91.2,623.2 91.7,623.9 92.2,623.3 92.7,625.9 92.8,571.3 93.0,629.4 93.2,626.1 93.7,625.9 94.2,625.9 94.7,625.2 95.2,624.9 95.7,624.5 96.2,624.8 96.7,623.7 97.2,624.0 97.7,624.1 98.2,623.5 98.7,623.1 99.2,623.1 99.7,623.5 100.2,623.3 100.7,622.4 101.2,622.7 101.7,623.9 101.8,570.8 102.0,627.4 102.2,626.5 102.7,625.9 103.2,625.5 103.7,625.5 104.2,625.4 104.7,625.3 105.2,624.4 105.7,624.3 106.2,623.5 106.7,624.6 107.2,624.3 107.7,623.3 108.2,622.9 108.7,622.4 109.2,623.0 109.7,623.0 110.2,625.5 110.7,624.6 111.2,624.1 111.7,623.4 112.2,625.1 112.7,624.6 113.2,623.8 113.7,624.6 114.2,623.8 114.7,626.1 115.2,625.0 115.7,624.8 116.2,624.4 116.7,623.5 117.2,624.4 117.7,623.8 118.2,624.8 118.7,623.5 119.2,624.1 119.7,625.0 120.2,625.2 120.7,624.0" stroke="#9fd0a2" stroke-width="0.6" fill="none" stroke-linejoin="round"/>
<path d="M36.2,623.8 36.7,624.6 37.2,624.4 37.7,624.3 38.2,624.9 38.7,624.5 39.2,624.4 39.7,622.4 40.2,621.3 40.7,621.0 41.2,621.0 41.7,621.3 42.2,621.9 42.7,622.0 43.2,622.1 43.7,622.4 44.2,622.3 44.7,621.9 45.2,622.2 45.7,621.9 46.2,621.3 46.7,622.0 47.2,621.6 47.7,621.5 48.2,622.5 48.7,621.9 49.2,621.4 49.7,621.6 50.2,622.7 50.7,621.5 50.8,568.2 51.0,625.0 51.2,624.7 51.7,624.7 52.2,624.1 52.7,624.7 53.2,624.2 53.7,624.2 54.2,623.6 54.7,623.2 55.2,623.1 55.7,622.2 56.2,621.8 56.7,622.4 57.2,621.4 57.7,621.7 58.2,622.3 58.7,621.7 59.2,622.8 59.7,621.3 60.2,621.4 60.7,621.2 61.2,621.1 61.7,622.1 62.2,621.5 62.7,621.4 63.2,621.6 63.7,622.0 64.2,620.8 64.7,621.5 65.2,621.5 65.7,621.6 65.8,569.6 66.0,625.1 66.2,624.4 66.7,624.8 67.2,624.4 67.7,624.6 68.2,623.3 68.7,624.1 69.2,623.8 69.7,623.5 70.2,623.2 70.7,623.2 71.2,622.7 71.7,622.2 72.2,621.5 72.7,622.1 73.2,622.0 73.7,621.7 74.2,621.7 74.7,621.9 75.2,620.4 75.7,621.7 76.2,620.5 76.7,621.7 77.2,622.1 77.7,622.5 78.2,621.4 78.7,621.8 79.2,625.0 79.3,567.9 79.5,628.5 79.7,623.8 80.2,624.4 80.7,625.0 81.2,623.8 81.7,624.1 82.2,623.7 82.7,623.3 83.2,622.1 83.7,621.9 84.2,623.1 84.7,622.3 85.2,622.4 85.7,621.8 86.2,621.8 86.7,620.7 87.2,621.4 87.7,621.3 88.2,621.1 88.7,621.5 89.2,621.3 89.7,621.3 90.2,622.5 90.7,621.3 91.2,621.8 91.7,621.9 92.2,621.8 92.7,621.3 93.2,625.5 93.3,569.3 93.5,629.0 93.7,624.6 94.2,624.4 94.7,624.0 95.2,623.9 95.7,624.1 96.2,623.2 96.7,622.6 97.2,623.6 97.7,623.4 98.2,622.2 98.7,622.4 99.2,620.9 99.7,622.3 100.2,621.0 100.7,621.3 101.2,622.6 101.7,621.0 102.2,621.6 102.7,621.1 103.2,620.7 103.7,621.1 104.2,621.7 104.7,621.0 105.2,621.3 105.7,621.9 105.8,569.4 106.0,625.4 106.2,624.8 106.7,624.6 107.2,624.1 107.7,623.1 108.2,624.1 108.7,622.7 109.2,623.8 109.7,622.8 110.2,625.9 110.7,625.1 111.2,625.6 111.7,625.3 112.2,624.4 112.7,625.5 113.2,624.3 113.7,624.0 114.2,624.3 114.7,624.3 115.2,623.8 115.7,624.4 116.2,624.2 116.7,624.7 117.2,624.2 117.7,624.7 118.2,624.4 118.7,624.3 119.2,624.8 119.7,624.7 120.2,624.2 120.7,623.8" stroke="#3050b0" stroke-width="0.6" fill="none" stroke-linejoin="round"/>
<path d="M36.2,624.5 36.7,625.2 37.2,624.1 37.7,623.7 38.2,624.6 38.7,624.8 39.2,624.7 39.7,622.7 40.2,622.4 40.7,622.2 41.2,622.2 41.7,622.4 42.2,622.3 42.3,571.8 42.5,625.8 42.7,626.3 43.2,625.5 43.7,625.3 44.2,625.0 44.7,625.1 45.2,625.1 45.7,623.7 46.2,624.4 46.7,623.0 47.2,623.5 47.7,622.2 48.2,623.2 48.7,622.5 49.2,622.9 49.7,622.1 50.2,622.5 50.7,621.9 51.2,622.1 51.7,622.7 52.2,622.1 52.7,622.6 53.2,623.1 53.7,623.0 54.2,622.9 54.7,621.2 55.2,622.3 55.7,621.9 56.2,622.5 56.7,622.2 57.2,622.3 57.7,622.0 58.2,622.6 58.7,622.7 59.2,622.1 59.7,622.4 60.2,621.9 60.7,622.6 61.2,622.3 61.7,622.6 62.2,625.6 62.3,570.6 62.5,629.1 62.7,625.7 63.2,625.6 63.7,625.6 64.2,625.5 64.7,625.0 65.2,624.8 65.7,624.0 66.2,623.7 66.7,622.6 67.2,623.7 67.7,623.2 68.2,623.2 68.7,621.9 69.2,622.3 69.7,622.3 70.2,621.7 70.7,622.9 71.2,623.1 71.7,621.9 72.2,622.7 72.7,623.3 73.2,622.0 73.7,623.0 74.2,623.3 74.7,623.4 75.2,621.9 75.7,622.0 76.2,622.6 76.7,623.1 76.8,571.3 77.0,626.6 77.2,625.5 77.7,625.3 78.2,625.3 78.7,624.7 79.2,624.7 79.7,624.8 80.2,624.2 80.7,623.9 81.2,623.8 81.7,623.7 82.2,623.0 82.7,622.6 83.2,622.7 83.7,622.5 84.2,622.1 84.7,622.6 85.2,622.5 85.7,622.5 86.2,622.7 86.7,622.5 87.2,622.4 87.7,622.8 88.2,622.3 88.7,622.4 89.2,622.0 89.7,622.6 90.2,622.5 90.7,622.4 91.2,622.2 91.7,622.9 92.2,623.0 92.7,622.4 93.2,621.8 93.7,622.6 94.2,622.4 94.7,622.6 95.2,621.5 95.3,571.6 95.5,625.0 95.7,625.7 96.2,625.4 96.7,625.9 97.2,625.2 97.7,624.5 98.2,624.1 98.7,624.0 99.2,624.0 99.7,624.1 100.2,623.6 100.7,623.6 101.2,623.4 101.7,622.8 102.2,623.1 102.7,622.9 103.2,622.4 103.7,622.4 104.2,622.5 104.7,622.2 105.2,621.9 105.7,622.5 106.2,622.3 106.7,622.8 107.2,622.2 107.7,622.6 108.2,622.6 108.7,622.3 109.2,622.6 109.7,622.2 110.2,624.4 110.7,624.9 111.2,624.7 111.7,624.5 112.2,624.2 112.7,624.9 113.2,625.5 113.7,623.5 114.2,625.0 114.7,624.7 115.2,625.1 115.7,625.1 116.2,624.1 116.7,625.4 117.2,624.3 117.7,624.4 118.2,624.8 118.7,624.5 119.2,624.7 119.7,624.3 120.2,624.1 120.7,624.6" stroke="#f2b0b0" stroke-width="0.6" fill="none" stroke-linejoin="round"/>
<path d="M36.2,625.0 36.7,624.9 37.2,623.9 37.7,623.6 38.2,624.5 38.7,624.8 39.2,624.4 39.7,621.7 40.2,622.2 40.7,623.0 41.2,621.8 41.7,622.9 42.2,622.6 42.7,622.6 43.2,622.7 43.7,622.1 43.8,571.0 44.0,625.6 44.2,625.9 44.7,624.9 45.2,625.5 45.7,625.4 46.2,624.6 46.7,624.2 47.2,624.1 47.7,623.8 48.2,623.6 48.7,623.6 49.2,623.6 49.7,624.2 50.2,621.6 50.7,623.2 51.2,621.8 51.7,622.6 52.2,622.9 52.7,621.9 53.2,622.8 53.7,622.8 54.2,622.2 54.7,622.2 55.2,626.6 55.3,571.5 55.5,630.1 55.7,626.1 56.2,625.5 56.7,625.6 57.2,625.0 57.7,625.4 58.2,624.2 58.7,624.1 59.2,624.0 59.7,623.4 60.2,623.4 60.7,623.2 61.2,622.9 61.7,622.4 62.2,622.2 62.7,622.3 62.8,571.4 63.0,625.8 63.2,625.5 63.7,625.0 64.2,624.7 64.7,625.1 65.2,624.2 65.7,624.7 66.2,624.7 66.7,624.3 67.2,623.8 67.7,624.4 68.2,623.4 68.7,622.9 69.2,623.2 69.7,623.0 70.2,622.3 70.7,622.3 71.2,622.1 71.7,621.3 72.2,622.0 72.7,622.6 73.2,624.9 73.3,571.0 73.5,628.4 73.7,625.1 74.2,625.2 74.7,625.3 75.2,624.5 75.7,624.2 76.2,624.3 76.7,624.5 77.2,624.2 77.7,623.7 78.2,623.9 78.7,623.0 79.2,622.6 79.7,623.6 80.2,622.2 80.7,622.6 81.2,622.6 81.7,622.4 82.2,622.5 82.7,622.7 83.2,622.6 83.7,622.1 83.8,570.9 84.0,625.6 84.2,624.9 84.7,624.8 85.2,625.0 85.7,625.6 86.2,624.3 86.7,624.8 87.2,623.3 87.7,623.3 88.2,623.7 88.7,622.9 89.2,623.4 89.7,622.5 90.2,621.8 90.7,623.2 91.2,621.6 91.7,622.2 92.2,622.0 92.7,623.3 93.2,622.1 93.7,622.2 94.2,622.8 94.3,571.1 94.5,626.3 94.7,625.5 95.2,625.4 95.7,625.4 96.2,625.2 96.7,625.4 97.2,624.7 97.7,624.5 98.2,623.4 98.7,623.9 99.2,622.9 99.7,623.7 100.2,622.9 100.7,623.1 101.2,622.2 101.7,622.5 102.2,622.4 102.7,622.6 103.2,622.3 103.3,571.8 103.5,625.8 103.7,625.4 104.2,625.5 104.7,625.8 105.2,624.7 105.7,624.3 106.2,625.0 106.7,623.9 107.2,623.8 107.7,623.6 108.2,623.1 108.7,623.4 109.2,621.9 109.7,622.9 110.2,624.7 110.7,624.4 111.2,624.1 111.7,623.5 112.2,624.3 112.7,624.4 113.2,624.8 113.7,624.1 114.2,625.4 114.7,624.4 115.2,625.0 115.7,623.6 116.2,625.2 116.7,624.8 117.2,624.4 117.7,624.7 118.2,624.1 118.7,624.9 119.2,625.0 119.7,624.5 120.2,624.6 120.7,624.0" stroke="#a6c6e6" stroke-width="0.6" fill="none" stroke-linejoin="round"/>
<path d="M36.2,624.6 36.7,624.5 37.2,624.5 37.7,624.2 38.2,624.6 38.7,624.5 39.2,625.0 39.7,620.9 40.2,622.5 40.7,619.9 41.2,621.4 41.7,621.8 42.2,621.3 42.7,621.0 43.2,621.3 43.7,621.7 44.2,622.0 44.7,620.7 45.2,621.5 45.7,621.1 46.2,621.9 46.7,621.1 47.2,621.4 47.7,621.9 48.2,621.2 48.7,621.5 49.2,621.0 49.7,621.2 50.2,620.4 50.7,620.9 50.8,571.9 51.0,624.4 51.2,624.0 51.7,625.0 52.2,624.7 52.7,623.9 53.2,623.8 53.7,623.4 54.2,623.4 54.7,623.2 55.2,623.3 55.7,622.2 56.2,622.1 56.7,621.6 57.2,620.8 57.7,621.5 58.2,621.6 58.7,621.5 59.2,621.9 59.7,621.5 60.2,621.7 60.7,620.9 61.2,620.9 61.7,621.7 62.2,621.8 62.7,622.4 63.2,621.2 63.7,621.6 64.2,621.1 64.7,622.2 65.2,621.0 65.3,571.3 65.5,624.5 65.7,625.6 65.8,571.5 66.0,629.1 66.2,625.4 66.7,624.7 67.2,624.1 67.7,623.3 68.2,623.9 68.7,623.6 69.2,622.4 69.7,623.4 70.2,623.2 70.7,621.9 71.2,622.0 71.7,621.9 72.2,622.4 72.7,620.7 73.2,621.7 73.7,621.8 74.2,620.2 74.7,621.5 75.2,621.5 75.7,621.4 76.2,621.7 76.7,620.9 77.2,620.6 77.7,621.6 78.2,620.8 78.7,624.4 78.8,571.1 79.0,627.9 79.2,624.6 79.7,624.3 80.2,623.7 80.7,624.4 81.2,623.2 81.7,623.6 82.2,622.5 82.7,622.3 83.2,622.2 83.7,622.1 84.2,622.4 84.7,621.1 85.2,622.3 85.7,620.8 86.2,622.0 86.7,621.4 87.2,621.1 87.7,621.7 88.2,621.1 88.7,621.3 89.2,621.4 89.7,622.7 90.2,620.9 90.7,622.2 91.2,621.2 91.7,624.4 91.8,571.3 92.0,627.9 92.2,624.0 92.7,623.8 93.2,623.9 93.7,623.9 94.2,623.9 94.7,624.1 95.2,623.0 95.7,622.6 96.2,622.8 96.7,621.8 97.2,621.5 97.7,622.6 98.2,621.7 98.7,621.5 99.2,621.0 99.7,622.0 100.2,620.9 100.7,621.2 101.2,621.8 101.7,621.1 102.2,621.4 102.7,621.3 103.2,621.4 103.7,621.1 104.2,620.9 104.7,620.7 105.2,621.0 105.7,620.9 105.8,571.7 106.0,624.4 106.2,624.7 106.7,624.0 107.2,624.2 107.7,624.5 108.2,623.4 108.7,623.4 109.2,622.7 109.7,622.8 110.2,626.2 110.7,626.1 111.2,625.3 111.7,624.6 112.2,625.7 112.7,623.5 113.2,624.3 113.7,624.1 114.2,624.5 114.7,624.7 115.2,624.3 115.7,626.1 116.2,625.4 116.7,624.9 117.2,624.2 117.7,623.8 118.2,625.0 118.7,624.9 119.2,624.7 119.7,625.1 120.2,624.7 120.7,623.8" stroke="#d8c890" stroke-width="0.6" fill="none" stroke-linejoin="round"/>
<path d="M36.2,624.3 36.7,624.7 37.2,624.6 37.7,624.8 38.2,624.5 38.7,624.2 39.2,624.0 39.7,627.5 40.2,626.0 40.7,626.7 41.2,626.5 41.7,627.0 42.2,626.8 42.7,626.8 43.2,627.4 43.7,626.7 44.2,626.5 44.7,627.4 45.2,627.4 45.7,627.5 46.2,627.2 46.7,626.7 47.2,627.5 47.7,626.8 48.2,627.1 48.7,626.5 49.2,626.7 49.7,627.2 50.2,627.3 50.7,627.0 51.2,627.6 51.7,627.0 52.2,626.1 52.7,627.2 53.2,626.0 53.7,626.2 54.2,626.8 54.7,627.2 55.2,627.2 55.7,626.9 56.2,627.2 56.7,626.4 57.2,628.1 57.7,626.9 58.2,626.9 58.7,626.9 59.2,627.5 59.7,627.1 60.2,627.1 60.7,626.8 61.2,626.8 61.7,627.1 62.2,627.0 62.7,627.0 63.2,626.7 63.7,627.5 64.2,627.2 64.7,627.8 65.2,627.3 65.7,627.1 66.2,627.0 66.7,627.5 67.2,627.0 67.7,626.6 68.2,626.7 68.7,626.0 69.2,627.6 69.7,627.7 70.2,626.4 70.7,626.6 71.2,626.6 71.7,626.7 72.2,627.2 72.7,627.1 73.2,627.1 73.7,627.3 74.2,627.2 74.7,627.2 75.2,626.3 75.7,626.7 76.2,627.3 76.7,626.2 77.2,627.6 77.7,627.6 78.2,627.1 78.7,627.2 79.2,626.9 79.7,627.6 80.2,627.3 80.7,627.1 81.2,626.3 81.7,627.5 82.2,626.6 82.7,627.3 83.2,626.9 83.7,627.1 84.2,627.7 84.7,626.3 85.2,626.9 85.7,626.6 86.2,626.6 86.7,627.1 87.2,626.6 87.7,626.5 88.2,626.7 88.7,627.9 89.2,626.9 89.7,626.7 90.2,627.2 90.7,626.4 91.2,627.0 91.7,627.4 92.2,627.0 92.7,626.8 93.2,625.9 93.7,627.4 94.2,627.0 94.7,627.5 95.2,627.8 95.7,626.5 96.2,627.1 96.7,626.5 97.2,627.3 97.7,626.9 98.2,627.3 98.7,626.7 99.2,626.7 99.7,626.5 100.2,626.9 100.7,627.7 101.2,625.9 101.7,626.2 102.2,626.8 102.7,626.6 103.2,626.3 103.7,627.6 104.2,626.6 104.7,627.6 105.2,626.6 105.7,625.9 106.2,627.2 106.7,627.6 107.2,627.3 107.7,627.6 108.2,626.6 108.7,626.4 109.2,627.2 109.7,626.8 110.2,624.8 110.7,624.2 111.2,624.3 111.7,624.6 112.2,624.5 112.7,624.5 113.2,624.3 113.7,625.1 114.2,624.5 114.7,624.2 115.2,624.6 115.7,624.0 116.2,624.7 116.7,625.2 117.2,624.5 117.7,624.0 118.2,623.9 118.7,624.4 119.2,624.0 119.7,623.9 120.2,624.5 120.7,624.2" stroke="#111" stroke-width="0.8" fill="none" stroke-linejoin="round"/>
<path d="M36.2,624.0 36.7,625.2 37.2,624.4 37.7,624.6 38.2,623.8 38.7,624.6 39.2,624.4 39.7,625.4 40.2,625.2 40.7,625.5 41.2,626.7 41.7,625.8 42.2,625.4 42.7,625.1 43.2,625.6 43.7,624.7 44.2,625.9 44.7,625.5 45.2,625.5 45.7,625.6 46.2,625.5 46.7,624.6 47.2,624.7 47.7,625.6 48.2,625.1 48.7,625.4 49.2,624.8 49.7,625.2 50.2,625.4 50.7,626.0 51.2,625.9 51.7,625.9 52.2,625.3 52.7,625.1 53.2,626.2 53.7,626.1 54.2,625.6 54.7,624.7 55.2,626.4 55.7,626.9 56.2,625.2 56.7,625.5 57.2,625.4 57.7,625.7 58.2,625.9 58.7,624.5 59.2,626.1 59.7,625.1 60.2,625.1 60.7,625.4 61.2,625.5 61.7,625.4 62.2,626.0 62.7,625.7 63.2,624.9 63.7,626.7 64.2,625.4 64.7,625.4 65.2,625.4 65.7,625.4 66.2,626.2 66.7,625.3 67.2,625.6 67.7,625.1 68.2,626.2 68.7,625.6 69.2,625.3 69.7,625.1 70.2,625.7 70.7,626.4 71.2,625.2 71.7,626.1 72.2,626.0 72.7,625.1 73.2,626.1 73.7,626.1 74.2,626.4 74.7,625.3 75.2,625.4 75.7,625.3 76.2,626.2 76.7,625.9 77.2,626.2 77.7,626.1 78.2,625.6 78.7,626.0 79.2,625.6 79.7,626.2 80.2,625.3 80.7,625.2 81.2,625.0 81.7,625.5 82.2,624.9 82.7,624.7 83.2,625.4 83.7,625.5 84.2,626.1 84.7,625.2 85.2,625.8 85.7,626.1 86.2,626.9 86.7,625.9 87.2,625.5 87.7,626.2 88.2,625.1 88.7,626.0 89.2,624.3 89.7,625.1 90.2,624.7 90.7,625.6 91.2,625.1 91.7,625.5 92.2,625.6 92.7,625.3 93.2,625.7 93.7,625.9 94.2,624.9 94.7,625.5 95.2,625.5 95.7,625.5 96.2,625.3 96.7,625.5 97.2,624.4 97.7,625.2 98.2,625.6 98.7,625.3 99.2,625.2 99.7,625.2 100.2,625.7 100.7,624.9 101.2,625.2 101.7,625.7 102.2,625.9 102.7,626.0 103.2,625.6 103.7,626.2 104.2,625.9 104.7,625.4 105.2,625.1 105.7,624.9 106.2,624.2 106.7,625.2 107.2,626.0 107.7,625.6 108.2,626.0 108.7,626.2 109.2,625.3 109.7,624.8 110.2,624.5 110.7,624.5 111.2,624.9 111.7,624.7 112.2,624.7 112.7,624.4 113.2,625.0 113.7,625.6 114.2,623.9 114.7,624.7 115.2,624.2 115.7,623.6 116.2,624.7 116.7,623.6 117.2,623.6 117.7,625.6 118.2,624.8 118.7,624.2 119.2,624.6 119.7,624.7 120.2,624.7 120.7,624.8" stroke="#3050b0" stroke-width="0.7" fill="none" stroke-linejoin="round"/>
<path d="M189.2,624.3 189.7,624.4 190.2,624.1 190.7,623.3 191.2,623.9 191.7,623.5 192.2,624.2 192.7,623.5 193.2,624.4 193.7,624.2 194.2,625.0 194.7,627.8 195.2,627.9 195.7,627.4 196.2,627.2 196.7,628.2 197.2,627.6 197.7,627.8 198.2,627.7 198.7,627.9 199.2,626.7 199.7,626.7 200.2,627.8 200.7,628.6 201.2,626.6 201.7,627.2 202.2,627.6 202.7,627.3 203.2,627.4 203.7,627.3 204.2,628.0 204.7,627.5 205.2,627.6 205.7,626.9 206.2,627.8 206.7,628.3 207.2,627.8 207.7,627.3 208.2,626.9 208.7,627.7 209.2,627.7 209.7,627.4 210.2,626.4 210.7,627.1 211.2,626.9 211.7,627.0 212.2,627.6 212.7,627.0 213.2,627.4 213.7,628.1 214.2,627.1 214.7,627.4 215.2,627.8 215.7,627.2 216.2,626.7 216.7,627.6 217.2,627.9 217.7,626.6 218.2,627.3 218.7,627.2 219.2,628.1 219.7,626.7 220.2,627.3 220.7,626.8 221.2,627.0 221.7,627.5 222.2,627.3 222.7,627.4 223.2,627.1 223.7,626.7 224.2,627.9 224.7,628.1 225.2,627.4 225.7,627.3 226.2,628.1 226.7,627.7 227.2,627.6 227.7,627.9 228.2,627.0 228.7,627.0 229.2,627.5 229.7,626.9 230.2,627.5 230.7,627.6 231.2,627.7 231.7,627.7 232.2,626.8 232.7,627.4 233.2,627.6 233.7,627.9 234.2,627.9 234.7,627.3 235.2,627.4 235.7,626.9 236.2,627.2 236.7,627.1 237.2,626.8 237.7,627.3 238.2,627.9 238.7,628.2 239.2,627.6 239.7,627.4 240.2,627.6 240.7,627.8 241.2,627.7 241.7,627.6 242.2,627.4 242.7,627.3 243.2,628.5 243.7,627.9 244.2,627.0 244.7,627.8 245.2,627.1 245.7,627.6 246.2,627.2 246.7,627.6 247.2,627.2 247.7,627.3 248.2,627.7 248.7,627.7 249.2,626.6 249.7,628.0 250.2,626.5 250.7,626.8 251.2,627.2 251.7,627.7 252.2,627.4 252.7,627.2 253.2,627.9 253.7,627.5 254.2,627.5 254.7,627.9 255.2,627.1 255.7,628.5 256.2,628.1 256.7,627.5 257.2,627.5 257.7,627.6 258.2,627.8 258.7,627.7 259.2,627.1 259.7,627.0 260.2,628.0 260.7,626.8 261.2,627.1 261.7,628.0 262.2,626.8 262.7,627.7 263.2,628.0 263.7,628.6 264.2,623.7 264.7,623.2 265.2,622.7 265.7,623.9 266.2,623.9 266.7,624.1 267.2,624.1 267.7,623.5 268.2,623.3 268.7,623.0 269.2,623.8 269.7,624.0 270.2,623.4 270.7,623.8 271.2,624.2 271.7,624.5 272.2,623.4 272.7,623.7 273.2,623.3 273.7,623.3 274.2,624.2 274.7,624.3 275.2,623.7 275.7,623.7 276.2,623.6 276.7,624.7 277.2,623.6 277.7,623.7 278.2,623.5 278.7,624.2 279.2,623.7 279.7,623.1 280.2,624.1 280.7,624.0 281.2,623.9 281.7,624.0 282.2,624.1 282.7,624.1 283.2,624.5 283.7,624.3 284.2,624.4 284.7,624.3 285.2,624.2 285.7,623.9 286.2,624.0 286.7,623.4 287.2,624.5 287.7,624.9 288.2,623.9 288.7,623.5 289.2,624.1 289.7,623.9" stroke="#111" stroke-width="0.75" fill="none" stroke-linejoin="round"/>
<path d="M189.2,623.7 189.7,623.9 190.2,625.0 190.7,623.8 191.2,623.3 191.7,624.1 192.2,624.1 192.7,624.3 193.2,623.8 193.7,624.7 194.2,624.3 194.7,626.7 195.2,625.8 195.7,625.6 196.2,626.2 196.7,625.9 197.2,625.2 197.7,625.9 198.2,625.2 198.7,626.1 199.2,625.2 199.7,625.7 200.2,625.2 200.7,625.7 201.2,626.1 201.7,626.0 202.2,625.2 202.7,624.9 203.2,625.8 203.7,625.2 204.2,625.2 204.7,625.8 205.2,624.9 205.7,625.9 206.2,626.0 206.7,625.5 207.2,625.1 207.7,625.4 208.2,626.2 208.7,625.6 209.2,626.1 209.7,625.5 210.2,625.6 210.7,625.6 211.2,625.6 211.7,625.7 212.2,625.9 212.7,626.1 213.2,625.4 213.7,625.1 214.2,625.2 214.7,625.1 215.2,624.6 215.7,625.5 216.2,625.2 216.7,626.3 217.2,625.3 217.7,624.9 218.2,625.7 218.7,625.5 219.2,625.9 219.7,625.6 220.2,626.4 220.7,625.2 221.2,625.6 221.7,625.3 222.2,625.3 222.7,624.8 223.2,625.8 223.7,624.8 224.2,625.7 224.7,625.7 225.2,625.7 225.7,624.8 226.2,625.9 226.7,625.2 227.2,625.7 227.7,625.3 228.2,626.4 228.7,625.3 229.2,625.4 229.7,625.6 230.2,624.8 230.7,625.3 231.2,625.4 231.7,625.6 232.2,625.3 232.7,626.3 233.2,626.4 233.7,626.1 234.2,625.5 234.7,625.8 235.2,626.5 235.7,626.3 236.2,625.8 236.7,625.3 237.2,626.0 237.7,625.9 238.2,625.6 238.7,625.5 239.2,624.9 239.7,624.8 240.2,624.9 240.7,625.6 241.2,625.6 241.7,625.2 242.2,625.4 242.7,626.2 243.2,625.0 243.7,625.3 244.2,625.0 244.7,626.4 245.2,625.3 245.7,626.2 246.2,625.9 246.7,625.2 247.2,625.8 247.7,625.6 248.2,625.7 248.7,625.6 249.2,625.8 249.7,625.8 250.2,625.2 250.7,625.9 251.2,625.2 251.7,624.9 252.2,625.3 252.7,625.1 253.2,625.2 253.7,625.0 254.2,625.9 254.7,625.9 255.2,625.2 255.7,626.1 256.2,625.5 256.7,625.2 257.2,625.0 257.7,625.7 258.2,625.5 258.7,625.6 259.2,626.8 259.7,625.9 260.2,625.5 260.7,625.0 261.2,625.3 261.7,625.2 262.2,625.2 262.7,624.4 263.2,625.6 263.7,625.0 264.2,624.0 264.7,623.0 265.2,623.6 265.7,623.4 266.2,623.0 266.7,623.5 267.2,623.2 267.7,623.3 268.2,623.5 268.7,622.7 269.2,624.2 269.7,623.9 270.2,623.6 270.7,624.3 271.2,623.3 271.7,622.6 272.2,623.9 272.7,623.4 273.2,623.8 273.7,623.5 274.2,623.7 274.7,623.4 275.2,623.8 275.7,624.2 276.2,624.0 276.7,624.7 277.2,624.2 277.7,624.1 278.2,624.0 278.7,624.2 279.2,623.8 279.7,623.3 280.2,623.4 280.7,623.1 281.2,623.8 281.7,624.0 282.2,624.2 282.7,624.5 283.2,623.7 283.7,623.0 284.2,623.6 284.7,623.9 285.2,623.1 285.7,623.4 286.2,623.5 286.7,624.9 287.2,624.5 287.7,623.6 288.2,623.7 288.7,624.0 289.2,624.1 289.7,624.1" stroke="#d03030" stroke-width="0.75" fill="none" stroke-linejoin="round"/>
<path d="M189.2,624.4 189.7,624.5 190.2,624.3 190.7,624.6 191.2,623.7 191.7,623.7 192.2,623.6 192.7,623.6 193.2,624.5 193.7,624.1 194.2,623.6 194.7,623.1 195.2,624.0 195.7,623.0 196.2,623.3 196.7,623.7 197.2,624.1 197.7,624.1 198.2,623.3 198.7,622.9 199.2,623.0 199.7,623.7 200.2,623.6 200.7,624.0 201.2,623.9 201.7,624.0 202.2,623.0 202.7,623.0 203.2,623.5 203.7,623.7 204.2,623.2 204.7,624.1 205.2,622.8 205.7,623.5 206.2,623.1 206.7,623.7 207.2,623.7 207.7,623.4 208.2,623.7 208.7,624.1 209.2,623.2 209.7,623.1 210.2,623.0 210.7,623.3 211.2,623.0 211.7,622.7 212.2,623.8 212.7,622.9 213.2,622.4 213.7,623.7 214.2,622.9 214.7,623.7 215.2,624.0 215.7,623.0 216.2,622.9 216.7,624.0 217.2,622.7 217.7,622.9 218.2,623.1 218.7,623.1 219.2,624.0 219.7,623.4 220.2,622.6 220.7,624.1 221.2,623.8 221.7,623.4 222.2,624.3 222.7,623.9 223.2,623.8 223.7,623.2 224.2,623.5 224.7,624.2 225.2,623.8 225.7,623.4 226.2,622.9 226.7,623.7 227.2,623.6 227.7,624.0 228.2,623.8 228.7,623.9 229.2,623.5 229.7,623.7 230.2,623.3 230.7,623.7 231.2,623.7 231.7,623.7 232.2,623.2 232.7,623.7 233.2,623.4 233.7,623.0 234.2,623.5 234.7,623.8 235.2,623.3 235.7,624.2 236.2,623.7 236.7,624.0 237.2,623.8 237.7,622.7 238.2,622.7 238.7,623.7 239.2,623.3 239.7,623.2 240.2,623.7 240.7,623.7 241.2,623.6 241.7,623.1 242.2,624.1 242.7,622.5 243.2,623.9 243.7,623.3 244.2,623.9 244.7,623.5 245.2,623.6 245.7,624.1 246.2,623.2 246.7,622.5 247.2,623.2 247.7,622.4 248.2,623.2 248.7,623.1 249.2,623.7 249.7,623.2 250.2,623.6 250.7,622.8 251.2,623.6 251.7,623.4 252.2,623.9 252.7,624.5 253.2,623.8 253.7,623.9 254.2,623.1 254.7,623.2 255.2,624.3 255.7,622.7 256.2,623.4 256.7,623.7 257.2,623.9 257.7,623.2 258.2,623.5 258.7,623.7 259.2,624.1 259.7,623.5 260.2,623.4 260.7,624.1 261.2,624.0 261.7,623.3 262.2,623.7 262.7,623.5 263.2,623.5 263.7,622.7 264.2,625.6 264.7,625.3 265.2,624.7 265.7,625.1 266.2,624.6 266.7,624.7 267.2,624.7 267.7,625.8 268.2,625.2 268.7,624.2 269.2,625.2 269.7,624.4 270.2,625.1 270.7,624.8 271.2,625.0 271.7,624.9 272.2,624.2 272.7,624.1 273.2,624.4 273.7,624.4 274.2,624.8 274.7,625.4 275.2,624.4 275.7,625.1 276.2,624.5 276.7,624.5 277.2,623.7 277.7,624.2 278.2,624.5 278.7,624.1 279.2,623.8 279.7,624.1 280.2,624.6 280.7,624.5 281.2,623.8 281.7,624.5 282.2,624.0 282.7,623.9 283.2,624.7 283.7,624.3 284.2,624.1 284.7,624.0 285.2,622.7 285.7,624.5 286.2,624.7 286.7,622.9 287.2,622.8 287.7,623.8 288.2,624.5 288.7,624.2 289.2,624.3 289.7,623.7" stroke="#3050b0" stroke-width="0.75" fill="none" stroke-linejoin="round"/>
<path d="M189.2,624.5 189.7,623.9 190.2,623.9 190.7,623.3 191.2,624.0 191.7,624.2 192.2,623.8 192.7,623.9 193.2,623.3 193.7,624.6 194.2,624.2 194.7,621.8 195.2,622.3 195.7,622.2 196.2,622.0 196.7,621.9 197.2,622.0 197.7,622.2 198.2,622.4 198.7,622.4 199.2,622.2 199.7,622.4 200.2,621.9 200.7,621.3 201.2,621.3 201.7,622.4 202.2,621.2 202.7,621.6 203.2,622.0 203.7,622.4 204.2,621.0 204.7,621.5 205.2,621.6 205.7,621.7 206.2,622.0 206.7,622.4 207.2,622.3 207.7,623.3 208.2,622.7 208.7,621.4 209.2,621.3 209.7,621.9 210.2,621.9 210.7,622.5 211.2,622.3 211.7,622.4 212.2,622.0 212.7,622.2 213.2,622.2 213.7,621.9 214.2,622.3 214.7,621.4 215.2,622.4 215.7,622.3 216.2,623.3 216.7,622.0 217.2,621.3 217.7,621.7 218.2,621.9 218.7,621.6 219.2,621.4 219.7,621.8 220.2,621.3 220.7,622.5 221.2,621.3 221.7,622.3 222.2,622.4 222.7,622.2 223.2,622.6 223.7,622.2 224.2,622.4 224.7,621.6 225.2,621.4 225.7,621.7 226.2,622.1 226.7,622.4 227.2,621.4 227.7,621.7 228.2,621.6 228.7,622.4 229.2,621.7 229.7,622.5 230.2,621.8 230.7,621.6 231.2,621.7 231.7,621.2 232.2,620.8 232.7,621.7 233.2,621.6 233.7,622.9 234.2,622.2 234.7,622.4 235.2,622.0 235.7,621.9 236.2,621.3 236.7,621.4 237.2,622.6 237.7,621.8 238.2,621.8 238.7,622.3 239.2,621.9 239.7,621.9 240.2,622.9 240.7,622.2 241.2,621.8 241.7,621.8 242.2,621.7 242.7,622.2 243.2,622.3 243.7,621.7 244.2,621.9 244.7,621.3 245.2,621.9 245.7,622.3 246.2,621.5 246.7,621.9 247.2,621.7 247.7,621.8 248.2,622.1 248.7,621.5 249.2,622.5 249.7,622.6 250.2,622.5 250.7,621.6 251.2,621.1 251.7,621.7 252.2,622.1 252.7,622.0 253.2,621.9 253.7,622.0 254.2,621.8 254.7,622.3 255.2,621.3 255.7,622.2 256.2,622.2 256.7,621.7 257.2,623.7 257.7,622.1 258.2,622.1 258.7,621.4 259.2,622.1 259.7,622.1 260.2,622.5 260.7,621.8 261.2,622.5 261.7,621.4 262.2,622.0 262.7,621.2 263.2,622.0 263.7,622.3 264.2,624.7 264.7,625.6 265.2,625.4 265.7,624.4 266.2,624.6 266.7,624.7 267.2,625.1 267.7,625.4 268.2,624.4 268.7,624.2 269.2,624.4 269.7,623.3 270.2,624.7 270.7,624.4 271.2,624.3 271.7,625.0 272.2,624.2 272.7,624.0 273.2,624.8 273.7,624.1 274.2,624.3 274.7,624.1 275.2,624.2 275.7,624.3 276.2,624.3 276.7,623.7 277.2,624.8 277.7,624.0 278.2,623.9 278.7,624.5 279.2,623.9 279.7,624.3 280.2,624.6 280.7,624.5 281.2,623.9 281.7,624.5 282.2,624.0 282.7,623.7 283.2,623.7 283.7,624.2 284.2,623.8 284.7,624.6 285.2,624.4 285.7,624.3 286.2,624.6 286.7,624.5 287.2,623.7 287.7,625.1 288.2,623.4 288.7,624.1 289.2,623.2 289.7,623.9" stroke="#20a0a0" stroke-width="0.75" fill="none" stroke-linejoin="round"/>
<path d="M189.2,624.9 189.7,623.8 190.2,624.0 190.7,623.7 191.2,623.7 191.7,624.6 192.2,624.0 192.7,623.9 193.2,624.5 193.7,624.8 194.2,624.5 194.7,620.9 195.2,620.2 195.7,621.1 196.2,620.9 196.7,620.0 197.2,620.2 197.7,620.7 198.2,620.0 198.7,620.0 199.2,620.1 199.7,620.8 200.2,620.1 200.7,620.4 201.2,620.7 201.7,621.0 202.2,621.0 202.7,620.8 203.2,620.7 203.7,619.7 204.2,620.5 204.7,620.9 205.2,620.8 205.7,620.3 206.2,620.8 206.7,620.4 207.2,620.5 207.7,620.3 208.2,620.0 208.7,619.7 209.2,619.8 209.7,620.3 210.2,621.7 210.7,619.7 211.2,620.7 211.7,620.9 212.2,620.9 212.7,620.5 213.2,620.6 213.7,620.6 214.2,620.3 214.7,620.3 215.2,620.5 215.7,620.5 216.2,620.6 216.7,620.1 217.2,621.0 217.7,620.7 218.2,620.3 218.7,619.8 219.2,619.9 219.7,620.2 220.2,620.3 220.7,620.0 221.2,620.8 221.7,619.8 222.2,621.0 222.7,619.7 223.2,620.7 223.7,619.9 224.2,619.7 224.7,620.3 225.2,620.3 225.7,620.3 226.2,620.6 226.7,620.2 227.2,619.9 227.7,620.4 228.2,620.9 228.7,620.7 229.2,619.7 229.7,619.9 230.2,620.1 230.7,620.1 231.2,619.3 231.7,619.9 232.2,619.8 232.7,619.7 233.2,621.0 233.7,620.4 234.2,620.4 234.7,620.6 235.2,620.2 235.7,620.6 236.2,620.6 236.7,620.5 237.2,620.4 237.7,620.7 238.2,620.4 238.7,620.2 239.2,620.4 239.7,620.5 240.2,620.0 240.7,620.3 241.2,620.0 241.7,620.3 242.2,620.5 242.7,620.8 243.2,621.2 243.7,620.7 244.2,619.9 244.7,620.1 245.2,619.3 245.7,620.0 246.2,619.9 246.7,620.3 247.2,620.4 247.7,620.7 248.2,620.4 248.7,619.7 249.2,620.1 249.7,621.3 250.2,620.6 250.7,620.6 251.2,620.5 251.7,619.3 252.2,620.2 252.7,620.3 253.2,619.8 253.7,620.1 254.2,620.7 254.7,620.4 255.2,620.4 255.7,620.2 256.2,620.4 256.7,620.5 257.2,620.4 257.7,619.9 258.2,620.0 258.7,619.7 259.2,620.7 259.7,620.3 260.2,620.9 260.7,620.8 261.2,619.8 261.7,620.3 262.2,620.6 262.7,619.5 263.2,620.4 263.7,620.3 264.2,625.3 264.7,625.7 265.2,624.8 265.7,625.3 266.2,625.7 266.7,624.8 267.2,625.5 267.7,624.7 268.2,624.8 268.7,625.3 269.2,625.0 269.7,625.1 270.2,625.2 270.7,625.3 271.2,624.1 271.7,625.3 272.2,624.4 272.7,624.7 273.2,624.3 273.7,625.1 274.2,624.6 274.7,623.6 275.2,624.0 275.7,624.1 276.2,624.2 276.7,624.3 277.2,624.4 277.7,624.1 278.2,624.1 278.7,624.1 279.2,624.0 279.7,624.7 280.2,624.2 280.7,624.2 281.2,624.4 281.7,623.9 282.2,624.8 282.7,624.1 283.2,624.6 283.7,624.0 284.2,624.5 284.7,624.2 285.2,623.8 285.7,623.8 286.2,623.4 286.7,624.4 287.2,623.6 287.7,623.3 288.2,624.5 288.7,623.9 289.2,624.2 289.7,624.0" stroke="#8a9a20" stroke-width="0.75" fill="none" stroke-linejoin="round"/>
<path d="M189.2,624.3 189.7,623.7 190.2,624.3 190.7,622.9 191.2,623.7 191.7,624.7 192.2,623.9 192.7,624.2 193.2,623.6 193.7,624.6 194.2,624.4 194.7,619.5 195.2,618.8 195.7,619.2 196.2,618.6 196.7,619.2 197.2,618.1 197.7,619.2 198.2,619.2 198.7,618.8 199.2,619.6 199.7,618.9 200.2,619.7 200.7,618.7 201.2,618.6 201.7,618.8 202.2,620.4 202.7,618.2 203.2,618.7 203.7,618.7 204.2,619.2 204.7,618.2 205.2,619.7 205.7,618.0 206.2,619.6 206.7,618.7 207.2,618.4 207.7,619.2 208.2,618.0 208.7,618.8 209.2,618.2 209.7,618.2 210.2,618.2 210.7,618.7 211.2,619.5 211.7,618.6 212.2,619.4 212.7,618.4 213.2,619.1 213.7,619.1 214.2,618.6 214.7,619.1 215.2,618.9 215.7,618.9 216.2,617.9 216.7,618.8 217.2,619.5 217.7,617.8 218.2,618.6 218.7,618.6 219.2,618.7 219.7,618.8 220.2,618.9 220.7,618.3 221.2,618.5 221.7,618.1 222.2,617.8 222.7,618.2 223.2,618.5 223.7,618.4 224.2,618.3 224.7,618.2 225.2,618.9 225.7,618.5 226.2,618.6 226.7,619.6 227.2,618.4 227.7,618.6 228.2,618.8 228.7,617.5 229.2,618.2 229.7,618.5 230.2,618.8 230.7,618.2 231.2,618.5 231.7,618.6 232.2,618.7 232.7,618.2 233.2,618.8 233.7,618.7 234.2,618.0 234.7,617.0 235.2,618.6 235.7,619.0 236.2,618.3 236.7,619.3 237.2,617.7 237.7,618.4 238.2,618.7 238.7,617.9 239.2,618.3 239.7,618.4 240.2,618.7 240.7,618.9 241.2,618.4 241.7,617.7 242.2,619.0 242.7,618.5 243.2,618.8 243.7,617.6 244.2,618.3 244.7,617.6 245.2,618.0 245.7,618.6 246.2,618.5 246.7,618.9 247.2,617.8 247.7,618.9 248.2,618.3 248.7,618.6 249.2,618.5 249.7,618.4 250.2,618.3 250.7,617.4 251.2,618.3 251.7,618.1 252.2,617.9 252.7,617.6 253.2,617.5 253.7,619.0 254.2,618.0 254.7,617.8 255.2,618.4 255.7,617.7 256.2,617.6 256.7,618.2 257.2,618.0 257.7,618.1 258.2,618.2 258.7,617.7 259.2,617.8 259.7,618.1 260.2,617.9 260.7,618.0 261.2,618.3 261.7,618.1 262.2,618.5 262.7,617.5 263.2,618.0 263.7,617.8 264.2,624.8 264.7,625.6 265.2,625.2 265.7,624.6 266.2,625.4 266.7,625.2 267.2,625.8 267.7,624.5 268.2,624.4 268.7,624.4 269.2,624.2 269.7,624.2 270.2,623.7 270.7,624.7 271.2,624.3 271.7,624.3 272.2,624.3 272.7,623.7 273.2,624.8 273.7,624.6 274.2,624.9 274.7,624.2 275.2,624.0 275.7,623.8 276.2,623.0 276.7,624.8 277.2,624.1 277.7,624.6 278.2,624.6 278.7,624.4 279.2,623.8 279.7,623.5 280.2,624.4 280.7,624.0 281.2,624.2 281.7,624.5 282.2,623.6 282.7,624.9 283.2,624.2 283.7,624.5 284.2,624.5 284.7,624.0 285.2,623.6 285.7,624.2 286.2,623.9 286.7,624.4 287.2,624.1 287.7,624.0 288.2,624.8 288.7,624.4 289.2,623.9 289.7,623.6" stroke="#2e8b3e" stroke-width="0.75" fill="none" stroke-linejoin="round"/>
<path d="M189.2,623.8 189.7,623.1 190.2,625.1 190.7,624.1 191.2,624.1 191.7,623.9 192.2,624.3 192.7,623.2 193.2,624.5 193.7,625.1 194.2,623.7 194.7,615.9 195.2,615.5 195.7,615.6 196.2,616.4 196.7,616.2 197.2,616.5 197.7,616.9 198.2,616.9 198.7,617.5 199.2,617.4 199.7,617.3 200.2,617.3 200.7,616.9 201.2,617.1 201.7,617.3 202.2,617.2 202.7,617.0 203.2,617.5 203.7,617.9 204.2,616.7 204.7,617.4 205.2,616.8 205.7,616.9 206.2,617.0 206.7,617.3 207.2,617.4 207.7,617.4 208.2,617.2 208.7,617.5 209.2,617.4 209.7,616.9 210.2,617.3 210.7,617.4 211.2,617.7 211.7,617.7 212.2,617.8 212.7,616.8 213.2,617.6 213.7,616.9 214.2,616.6 214.7,617.1 215.2,616.8 215.7,616.7 216.2,616.5 216.7,616.9 217.2,616.5 217.7,616.1 218.2,616.8 218.7,616.7 219.2,616.3 219.7,616.5 220.2,616.7 220.7,616.8 221.2,617.3 221.7,617.1 222.2,616.7 222.7,616.3 223.2,616.7 223.7,616.2 224.2,616.9 224.7,616.5 225.2,617.1 225.7,616.1 226.2,616.9 226.7,616.9 227.2,616.5 227.7,617.4 228.2,616.5 228.7,616.5 229.2,616.6 229.7,616.2 230.2,616.8 230.7,616.3 231.2,616.9 231.7,616.8 232.2,616.1 232.7,616.7 233.2,616.3 233.7,616.5 234.2,616.5 234.7,616.6 235.2,617.0 235.7,616.4 236.2,616.4 236.7,616.7 237.2,616.4 237.7,616.4 238.2,616.8 238.7,616.9 239.2,615.7 239.7,616.2 240.2,616.6 240.7,616.0 241.2,616.4 241.7,615.5 242.2,616.6 242.7,615.8 243.2,616.3 243.7,616.1 244.2,616.5 244.7,616.8 245.2,615.6 245.7,616.0 246.2,616.1 246.7,616.3 247.2,616.0 247.7,616.4 248.2,616.0 248.7,615.9 249.2,616.2 249.7,615.6 250.2,615.6 250.7,616.5 251.2,616.4 251.7,615.8 252.2,616.9 252.7,616.3 253.2,615.8 253.7,616.9 254.2,615.5 254.7,616.1 255.2,616.1 255.7,615.8 256.2,616.2 256.7,615.7 257.2,616.1 257.7,614.8 258.2,616.1 258.7,615.5 259.2,616.4 259.7,615.7 260.2,615.7 260.7,616.2 261.2,616.4 261.7,616.1 262.2,615.3 262.7,616.0 263.2,616.1 263.7,615.4 264.2,626.1 264.7,625.4 265.2,625.7 265.7,625.4 266.2,624.6 266.7,624.8 267.2,624.8 267.7,624.6 268.2,624.6 268.7,624.9 269.2,624.7 269.7,624.8 270.2,624.7 270.7,625.4 271.2,625.1 271.7,624.3 272.2,624.4 272.7,624.3 273.2,623.9 273.7,624.9 274.2,624.4 274.7,624.2 275.2,625.4 275.7,624.1 276.2,624.6 276.7,624.4 277.2,624.5 277.7,623.9 278.2,624.4 278.7,624.6 279.2,623.6 279.7,623.6 280.2,624.2 280.7,624.6 281.2,624.4 281.7,625.1 282.2,625.0 282.7,623.5 283.2,624.2 283.7,624.3 284.2,624.3 284.7,623.6 285.2,624.4 285.7,623.5 286.2,624.3 286.7,624.1 287.2,624.0 287.7,623.7 288.2,623.5 288.7,624.4 289.2,624.2 289.7,624.1" stroke="#7040a0" stroke-width="0.75" fill="none" stroke-linejoin="round"/>
<path d="M189.2,624.0 189.7,624.6 190.2,624.6 190.7,623.9 191.2,623.6 191.7,624.0 192.2,625.1 192.7,625.3 193.2,624.0 193.7,623.7 194.2,623.4 194.7,613.7 194.8,570.8 195.0,616.7 195.2,617.1 195.7,617.5 196.2,617.3 196.7,617.5 197.2,617.4 197.7,616.2 198.2,616.6 198.7,616.5 199.2,616.1 199.7,615.7 200.2,615.3 200.7,615.6 201.2,615.6 201.7,616.0 202.2,614.8 202.7,616.0 203.2,615.7 203.7,616.2 204.2,615.3 204.7,615.8 205.2,615.4 205.7,616.3 206.2,616.0 206.7,614.9 207.2,616.1 207.7,615.1 208.2,615.4 208.7,615.8 209.2,614.9 209.7,615.2 210.2,615.6 210.7,614.5 211.2,615.8 211.7,614.2 212.2,615.1 212.7,614.7 213.2,615.5 213.7,614.8 214.2,615.6 214.7,614.4 215.2,614.8 215.7,615.2 216.2,614.8 216.7,615.6 217.2,614.7 217.7,615.0 218.2,614.6 218.7,615.6 219.2,614.7 219.7,614.1 220.2,615.1 220.7,615.0 221.2,614.4 221.7,615.5 222.2,614.4 222.7,614.8 223.2,615.0 223.7,615.4 224.2,615.4 224.7,614.4 225.2,615.6 225.7,614.2 226.2,615.7 226.7,614.4 227.2,615.7 227.7,614.3 228.2,615.2 228.7,614.6 229.2,614.3 229.7,615.0 230.2,614.8 230.7,613.5 231.2,614.5 231.7,614.2 232.2,614.9 232.7,614.7 233.2,614.8 233.7,614.7 234.2,615.0 234.7,614.6 235.2,614.2 235.7,615.6 236.2,614.6 236.7,614.6 237.2,615.3 237.7,613.8 238.2,613.9 238.7,614.4 239.2,614.2 239.7,614.8 240.2,614.3 240.7,614.5 241.2,615.2 241.7,614.2 242.2,614.5 242.7,614.1 243.2,614.1 243.7,614.1 244.2,614.2 244.7,614.0 245.2,614.0 245.7,614.0 246.2,615.1 246.7,614.0 247.2,613.2 247.7,614.5 248.2,614.1 248.7,613.8 249.2,614.6 249.7,613.3 250.2,614.0 250.7,614.6 251.2,613.9 251.7,614.0 252.2,613.7 252.7,614.0 253.2,614.2 253.7,613.2 254.2,613.9 254.7,614.3 255.2,614.2 255.7,614.0 256.2,613.1 256.7,613.3 257.2,614.4 257.7,613.6 258.2,612.8 258.7,614.0 259.2,613.0 259.7,613.2 260.2,613.1 260.7,614.4 261.2,613.8 261.7,614.0 262.2,613.6 262.7,614.0 263.2,612.7 263.7,612.8 264.2,626.0 264.7,625.5 265.2,625.4 265.7,625.9 266.2,625.0 266.7,623.8 267.2,625.5 267.7,624.7 268.2,624.7 268.7,625.4 269.2,624.3 269.7,624.7 270.2,625.3 270.7,625.1 271.2,624.2 271.7,624.5 272.2,624.4 272.7,624.6 273.2,625.0 273.7,624.6 274.2,623.9 274.7,624.3 275.2,624.1 275.7,624.5 276.2,623.6 276.7,624.1 277.2,624.6 277.7,624.4 278.2,624.7 278.7,623.6 279.2,623.7 279.7,624.1 280.2,624.0 280.7,624.3 281.2,624.0 281.7,624.3 282.2,624.3 282.7,624.1 283.2,625.2 283.7,624.0 284.2,624.5 284.7,624.2 285.2,624.4 285.7,624.3 286.2,623.8 286.7,623.8 287.2,623.8 287.7,624.1 288.2,623.8 288.7,624.0 289.2,623.8 289.7,624.4" stroke="#c2399a" stroke-width="0.75" fill="none" stroke-linejoin="round"/>
<path d="M189.2,624.6 189.7,624.6 190.2,624.3 190.7,623.7 191.2,624.0 191.7,624.3 192.2,624.3 192.7,624.2 193.2,624.3 193.7,624.8 194.2,624.1 194.7,612.8 195.2,613.8 195.7,612.7 196.2,613.7 196.3,571.0 196.5,616.7 196.7,616.5 197.2,615.6 197.7,616.3 198.2,615.4 198.7,614.8 199.2,615.8 199.7,615.1 200.2,614.8 200.7,613.9 201.2,613.6 201.7,614.6 202.2,615.1 202.7,614.0 203.2,614.3 203.7,614.7 204.2,612.7 204.7,614.1 205.2,614.5 205.7,613.9 206.2,614.7 206.7,613.4 207.2,614.2 207.7,614.2 208.2,614.2 208.7,613.7 209.2,613.2 209.7,614.0 210.2,613.3 210.7,614.4 211.2,614.0 211.7,614.3 212.2,613.6 212.7,613.6 213.2,613.8 213.7,612.8 214.2,613.8 214.7,613.3 215.2,613.3 215.7,613.5 216.2,613.4 216.7,612.8 217.2,613.6 217.7,613.3 218.2,613.4 218.7,613.5 219.2,613.9 219.7,613.0 220.2,613.8 220.7,613.8 221.2,612.8 221.7,613.4 222.2,613.4 222.7,612.5 223.2,612.8 223.7,613.2 224.2,612.8 224.7,613.4 225.2,613.2 225.7,613.3 226.2,611.9 226.7,612.6 227.2,612.6 227.7,612.7 228.2,613.9 228.7,613.1 229.2,612.7 229.7,613.2 230.2,612.7 230.7,611.9 231.2,612.9 231.7,612.9 232.2,613.0 232.7,614.1 233.2,612.5 233.7,612.7 234.2,612.3 234.7,612.2 235.2,612.7 235.7,612.7 236.2,611.7 236.7,613.4 237.2,611.3 237.7,613.1 238.2,612.2 238.7,612.7 239.2,612.9 239.7,612.8 240.2,612.9 240.7,613.3 241.2,612.3 241.7,612.2 242.2,611.9 242.7,611.9 243.2,611.9 243.7,611.7 244.2,612.6 244.7,612.5 245.2,612.0 245.7,612.0 246.2,612.6 246.7,611.6 247.2,612.1 247.7,612.2 248.2,611.5 248.7,612.3 249.2,611.8 249.7,611.8 250.2,611.4 250.7,611.6 251.2,612.1 251.7,612.3 252.2,611.3 252.7,611.2 253.2,611.9 253.7,611.8 254.2,611.3 254.7,610.4 255.2,610.8 255.7,611.3 256.2,611.4 256.7,611.8 257.2,611.4 257.7,611.2 258.2,612.0 258.7,610.9 259.2,611.8 259.7,611.6 260.2,611.5 260.7,611.3 261.2,611.4 261.7,611.5 262.2,610.9 262.7,610.2 263.2,611.0 263.7,610.3 264.2,625.7 264.7,626.1 265.2,626.1 265.7,625.1 266.2,625.1 266.7,625.3 267.2,625.5 267.7,624.6 268.2,624.4 268.7,624.9 269.2,625.4 269.7,624.8 270.2,624.3 270.7,624.3 271.2,625.4 271.7,625.4 272.2,624.4 272.7,624.3 273.2,624.8 273.7,625.1 274.2,623.4 274.7,624.5 275.2,623.8 275.7,624.3 276.2,624.6 276.7,624.1 277.2,624.9 277.7,623.9 278.2,624.9 278.7,624.9 279.2,624.3 279.7,624.0 280.2,623.6 280.7,624.0 281.2,624.1 281.7,624.8 282.2,624.9 282.7,623.6 283.2,624.2 283.7,623.6 284.2,623.5 284.7,623.3 285.2,623.7 285.7,624.7 286.2,623.1 286.7,624.4 287.2,623.7 287.7,624.5 288.2,623.8 288.7,624.1 289.2,623.3 289.7,624.1" stroke="#4090d0" stroke-width="0.75" fill="none" stroke-linejoin="round"/>
<path d="M189.2,623.9 189.7,624.5 190.2,623.8 190.7,623.9 191.2,622.9 191.7,624.0 192.2,623.5 192.7,623.8 193.2,624.1 193.7,623.5 194.2,623.9 194.7,612.4 195.2,612.4 195.7,613.0 196.2,612.8 196.7,612.1 197.2,612.5 197.7,612.7 198.2,613.2 198.7,613.6 199.2,612.9 199.7,612.3 200.2,613.5 200.7,613.5 200.8,571.0 201.0,616.5 201.2,616.3 201.7,615.0 202.2,614.8 202.7,615.1 203.2,614.7 203.7,614.4 204.2,614.4 204.7,613.5 205.2,612.9 205.7,613.3 206.2,613.8 206.7,612.7 207.2,612.5 207.7,612.0 208.2,612.1 208.7,612.6 209.2,612.9 209.7,612.0 210.2,613.1 210.7,612.8 211.2,612.0 211.7,612.2 212.2,613.3 212.7,612.2 213.2,612.0 213.7,612.7 214.2,612.6 214.7,611.7 215.2,612.1 215.7,612.7 216.2,611.9 216.7,612.0 217.2,611.8 217.7,611.5 218.2,611.7 218.7,612.5 219.2,612.4 219.7,612.9 220.2,611.9 220.7,611.5 221.2,612.0 221.7,612.2 222.2,612.0 222.7,612.3 223.2,612.0 223.7,611.3 224.2,612.5 224.7,611.1 225.2,611.8 225.7,612.1 226.2,611.7 226.7,611.3 227.2,612.0 227.7,611.3 228.2,611.8 228.7,612.7 229.2,611.6 229.7,610.8 230.2,611.3 230.7,610.5 231.2,611.6 231.7,611.4 232.2,611.6 232.7,611.5 233.2,611.4 233.7,610.9 234.2,611.3 234.7,611.1 235.2,611.7 235.7,612.1 236.2,611.1 236.7,611.0 237.2,611.8 237.7,611.7 238.2,611.3 238.7,610.9 239.2,611.3 239.7,611.0 240.2,610.6 240.7,611.4 241.2,611.3 241.7,610.1 242.2,611.3 242.7,610.9 243.2,611.0 243.7,611.0 244.2,610.7 244.7,610.6 245.2,610.2 245.7,611.1 246.2,610.8 246.7,610.1 247.2,610.4 247.7,610.0 248.2,610.6 248.7,610.9 249.2,610.9 249.7,610.4 250.2,610.6 250.7,610.4 251.2,610.2 251.7,611.0 252.2,610.6 252.7,611.9 253.2,609.7 253.7,609.6 254.2,609.9 254.7,609.5 255.2,610.5 255.7,610.5 256.2,610.2 256.7,610.6 257.2,610.3 257.7,610.3 258.2,609.0 258.7,610.0 259.2,609.6 259.7,609.5 260.2,610.5 260.7,609.6 261.2,609.4 261.7,609.6 262.2,609.6 262.7,609.8 263.2,610.5 263.7,610.3 264.2,624.7 264.7,625.5 265.2,625.7 265.7,625.3 266.2,625.1 266.7,624.9 267.2,625.3 267.7,624.7 268.2,624.1 268.7,624.6 269.2,624.3 269.7,624.4 270.2,624.9 270.7,624.3 271.2,624.5 271.7,624.4 272.2,624.7 272.7,624.3 273.2,624.0 273.7,624.8 274.2,623.9 274.7,624.2 275.2,624.1 275.7,623.6 276.2,624.7 276.7,624.6 277.2,623.9 277.7,623.4 278.2,624.1 278.7,624.0 279.2,625.0 279.7,624.4 280.2,624.1 280.7,625.5 281.2,625.0 281.7,624.1 282.2,624.0 282.7,623.9 283.2,624.3 283.7,623.7 284.2,624.7 284.7,623.2 285.2,624.5 285.7,624.2 286.2,624.0 286.7,624.3 287.2,624.7 287.7,623.8 288.2,623.3 288.7,623.7 289.2,623.9 289.7,624.0" stroke="#a0a040" stroke-width="0.75" fill="none" stroke-linejoin="round"/>
<path d="M189.2,624.4 189.7,623.8 190.2,624.1 190.7,623.7 191.2,623.6 191.7,624.0 192.2,623.8 192.7,624.0 193.2,623.7 193.7,624.2 194.2,624.8 194.7,610.8 195.2,611.1 195.7,611.0 196.2,611.0 196.7,611.1 197.2,611.1 197.7,612.0 198.2,611.6 198.7,611.6 199.2,611.6 199.7,612.3 200.2,613.0 200.7,611.9 201.2,612.0 201.7,611.5 202.2,613.0 202.7,611.2 203.2,612.1 203.7,611.7 204.2,611.6 204.7,612.0 205.2,611.0 205.7,612.1 206.2,611.4 206.7,611.8 207.2,611.8 207.7,611.9 208.2,612.1 208.7,610.6 209.2,611.6 209.7,611.5 210.2,611.5 210.7,611.8 211.2,611.2 211.7,611.5 212.2,610.9 212.7,611.4 213.2,611.0 213.7,610.9 214.2,611.2 214.7,611.3 215.2,611.7 215.7,611.0 216.2,611.4 216.7,610.9 217.2,612.3 217.7,611.8 218.2,610.8 218.7,611.0 219.2,612.0 219.7,610.7 220.2,611.8 220.7,611.6 221.2,611.0 221.7,611.0 222.2,611.4 222.7,611.5 223.2,610.3 223.7,610.4 224.2,610.6 224.7,610.3 225.2,610.8 225.7,610.7 226.2,610.6 226.7,611.1 227.2,610.6 227.7,610.5 228.2,610.5 228.7,610.5 229.2,610.6 229.7,610.4 230.2,610.6 230.7,610.6 231.2,610.7 231.7,609.7 232.2,610.4 232.7,610.2 233.2,609.9 233.7,610.5 234.2,609.5 234.7,610.2 235.2,609.9 235.7,609.4 236.2,610.0 236.7,613.2 236.8,571.0 237.0,616.2 237.2,611.5 237.7,612.1 238.2,612.6 238.7,611.2 239.2,610.7 239.7,610.4 240.2,610.5 240.7,610.5 241.2,609.7 241.7,609.8 242.2,609.7 242.7,609.8 243.2,609.6 243.7,609.6 244.2,609.9 244.7,610.0 245.2,610.1 245.7,609.6 246.2,609.3 246.7,609.0 247.2,608.7 247.7,609.3 248.2,609.8 248.7,609.0 249.2,609.3 249.7,609.2 250.2,609.2 250.7,609.3 251.2,609.4 251.7,608.2 252.2,609.6 252.7,609.4 253.2,609.2 253.7,608.7 254.2,608.5 254.7,608.8 255.2,608.1 255.7,609.1 256.2,608.9 256.7,609.2 257.2,608.0 257.7,608.0 258.2,609.6 258.7,608.3 259.2,608.2 259.7,608.8 260.2,609.2 260.7,608.0 261.2,608.6 261.7,607.8 262.2,608.6 262.7,608.3 263.2,608.6 263.7,609.0 264.2,625.4 264.7,626.0 265.2,624.7 265.7,624.8 266.2,624.9 266.7,626.1 267.2,624.8 267.7,624.8 268.2,624.5 268.7,625.2 269.2,625.0 269.7,624.1 270.2,624.9 270.7,624.4 271.2,624.9 271.7,624.6 272.2,624.9 272.7,624.1 273.2,624.8 273.7,623.6 274.2,624.7 274.7,623.9 275.2,624.8 275.7,624.3 276.2,624.6 276.7,624.4 277.2,624.2 277.7,624.6 278.2,623.5 278.7,624.2 279.2,625.0 279.7,623.9 280.2,624.2 280.7,623.9 281.2,623.7 281.7,623.9 282.2,623.9 282.7,624.1 283.2,623.0 283.7,624.4 284.2,624.7 284.7,623.5 285.2,624.8 285.7,624.5 286.2,623.7 286.7,624.3 287.2,623.6 287.7,624.0 288.2,624.0 288.7,625.0 289.2,623.6 289.7,623.8" stroke="#7a2a2a" stroke-width="0.75" fill="none" stroke-linejoin="round"/>
<path d="M189.2,624.1 189.7,623.7 190.2,624.5 190.7,623.8 191.2,623.5 191.7,624.4 192.2,624.1 192.7,624.3 193.2,623.7 193.7,624.2 194.2,623.8 194.7,609.7 195.2,610.1 195.7,610.9 196.2,611.0 196.7,611.7 197.2,611.5 197.7,611.0 198.2,611.4 198.7,611.0 199.2,611.4 199.7,611.1 200.2,611.0 200.7,611.2 201.2,612.0 201.7,610.9 202.2,611.6 202.7,611.5 203.2,611.1 203.7,611.4 204.2,611.4 204.7,612.4 205.2,611.4 205.7,611.2 206.2,611.9 206.7,611.3 207.2,612.1 207.7,610.8 208.2,610.9 208.7,610.4 209.2,610.5 209.7,611.1 210.2,611.1 210.7,610.8 211.2,610.6 211.7,610.2 212.2,611.3 212.7,611.5 213.2,611.4 213.7,611.8 214.2,610.8 214.7,610.2 215.2,609.6 215.7,610.0 216.2,610.4 216.7,610.8 217.2,610.2 217.7,609.6 218.2,610.9 218.7,611.1 219.2,609.9 219.7,610.8 220.2,609.2 220.7,610.5 220.8,570.2 221.0,613.5 221.2,614.1 221.7,612.4 222.2,613.0 222.7,612.7 223.2,611.7 223.7,611.1 224.2,610.7 224.7,610.5 225.2,610.5 225.7,610.0 226.2,609.4 226.7,610.6 227.2,610.4 227.7,610.1 228.2,610.1 228.7,609.5 229.2,609.6 229.7,609.1 230.2,609.7 230.7,609.1 231.2,610.1 231.7,609.5 232.2,609.6 232.7,609.8 233.2,609.5 233.7,609.7 234.2,609.7 234.7,609.3 235.2,609.8 235.7,608.7 236.2,609.2 236.7,609.3 237.2,609.5 237.7,610.2 238.2,608.5 238.7,609.5 239.2,609.2 239.7,609.2 240.2,608.8 240.7,609.3 241.2,609.2 241.7,609.6 242.2,608.4 242.7,608.6 243.2,608.7 243.7,609.2 244.2,608.7 244.7,609.3 245.2,608.2 245.7,609.1 246.2,609.0 246.7,608.5 247.2,608.4 247.7,608.4 248.2,608.8 248.7,608.0 249.2,608.0 249.7,608.1 250.2,609.1 250.7,609.0 251.2,608.6 251.7,608.3 252.2,607.3 252.7,608.3 253.2,607.9 253.7,607.2 254.2,610.7 254.3,570.2 254.5,613.7 254.7,611.2 255.2,610.4 255.7,610.2 256.2,609.6 256.7,609.5 257.2,609.3 257.7,608.7 258.2,608.8 258.7,607.5 259.2,607.8 259.7,607.2 260.2,606.8 260.7,607.8 261.2,607.5 261.7,607.9 262.2,607.6 262.7,607.8 263.2,607.9 263.7,607.6 264.2,625.3 264.7,625.1 265.2,624.9 265.7,625.2 266.2,625.0 266.7,624.6 267.2,624.2 267.7,625.0 268.2,624.6 268.7,623.7 269.2,625.1 269.7,624.6 270.2,624.9 270.7,625.4 271.2,624.5 271.7,625.2 272.2,623.6 272.7,624.3 273.2,624.6 273.7,623.4 274.2,624.6 274.7,624.0 275.2,623.8 275.7,623.3 276.2,624.3 276.7,623.7 277.2,624.5 277.7,623.5 278.2,623.7 278.7,624.3 279.2,623.1 279.7,624.5 280.2,624.2 280.7,625.2 281.2,624.3 281.7,624.3 282.2,624.0 282.7,623.4 283.2,623.9 283.7,624.4 284.2,623.4 284.7,623.7 285.2,623.7 285.7,624.4 286.2,623.3 286.7,624.4 287.2,624.6 287.7,623.7 288.2,624.0 288.7,624.5 289.2,623.5 289.7,624.3" stroke="#d070b0" stroke-width="0.75" fill="none" stroke-linejoin="round"/>
<path d="M189.2,623.3 189.7,624.1 190.2,623.5 190.7,623.5 191.2,624.6 191.7,623.6 192.2,624.2 192.7,624.3 193.2,623.6 193.7,624.1 194.2,624.7 194.3,569.9 194.5,627.7 194.7,611.7 195.2,611.7 195.7,612.1 196.2,610.9 196.7,611.0 197.2,611.7 197.7,611.6 198.2,610.6 198.7,611.2 199.2,610.5 199.7,610.5 200.2,610.2 200.7,610.0 201.2,609.8 201.7,609.6 202.2,609.5 202.7,609.8 203.2,610.4 203.7,610.1 204.2,610.3 204.7,610.9 205.2,610.2 205.7,610.2 206.2,610.4 206.7,609.5 207.2,609.6 207.7,610.3 208.2,610.3 208.7,610.5 209.2,610.4 209.7,610.4 210.2,610.2 210.7,609.7 211.2,609.7 211.7,610.4 212.2,609.9 212.7,609.5 213.2,609.2 213.7,610.0 214.2,609.7 214.7,609.7 215.2,609.5 215.7,608.9 216.2,608.9 216.7,609.1 217.2,609.8 217.7,609.6 218.2,608.8 218.7,609.3 219.2,609.3 219.7,609.3 220.2,608.5 220.7,609.0 221.2,608.6 221.7,608.1 222.2,608.7 222.7,609.3 223.2,608.7 223.7,609.4 224.2,608.4 224.7,608.0 225.2,609.3 225.7,609.1 226.2,608.8 226.7,607.9 227.2,608.5 227.7,608.7 228.2,608.3 228.7,609.1 229.2,608.6 229.7,608.2 230.2,608.2 230.7,608.8 231.2,609.5 231.7,608.7 232.2,608.0 232.7,608.6 233.2,609.0 233.7,608.0 234.2,608.0 234.7,609.2 235.2,608.3 235.7,607.5 236.2,607.2 236.7,608.3 237.2,608.5 237.7,607.6 238.2,607.5 238.7,608.6 239.2,607.2 239.7,606.9 240.2,608.0 240.7,607.0 241.2,608.0 241.7,607.3 242.2,607.0 242.7,607.1 243.2,607.3 243.7,607.6 244.2,607.7 244.7,606.9 245.2,606.8 245.7,607.5 246.2,607.1 246.7,608.1 247.2,607.1 247.7,607.5 248.2,606.8 248.7,606.7 249.2,607.0 249.7,607.2 250.2,606.6 250.7,607.1 251.2,606.3 251.7,606.7 252.2,606.8 252.7,607.0 253.2,607.3 253.7,607.0 254.2,607.4 254.7,606.4 255.2,606.9 255.7,606.5 256.2,606.8 256.7,607.2 257.2,606.1 257.7,606.7 258.2,606.5 258.7,606.2 259.2,606.6 259.7,606.2 260.2,605.7 260.7,605.9 261.2,605.5 261.7,605.9 262.2,606.0 262.7,606.4 263.2,605.5 263.3,569.1 263.5,608.5 263.7,607.9 264.2,629.0 264.7,628.3 265.2,627.3 265.7,626.8 266.2,625.9 266.7,625.9 267.2,625.4 267.7,624.7 268.2,624.9 268.7,624.5 269.2,624.7 269.7,624.9 270.2,625.1 270.7,622.9 271.2,624.2 271.7,624.6 272.2,624.6 272.7,624.5 273.2,625.4 273.7,624.2 274.2,624.5 274.7,624.1 275.2,625.5 275.7,624.9 276.2,624.0 276.7,623.3 277.2,624.9 277.7,623.6 278.2,625.0 278.7,624.2 279.2,623.0 279.7,623.6 280.2,624.2 280.7,624.5 281.2,624.6 281.7,624.6 282.2,623.3 282.7,623.6 283.2,623.3 283.7,623.8 284.2,623.9 284.7,624.2 285.2,624.2 285.7,624.1 286.2,624.8 286.7,624.2 287.2,623.9 287.7,622.7 288.2,624.1 288.7,623.7 289.2,624.2 289.7,624.4" stroke="#3a9a4a" stroke-width="0.75" fill="none" stroke-linejoin="round"/>
<path d="M189.2,624.9 189.7,624.2 190.2,624.0 190.7,623.9 191.2,623.7 191.7,623.9 192.2,624.6 192.7,623.4 193.2,623.8 193.7,624.6 194.2,623.6 194.7,608.6 195.2,608.5 195.7,609.3 196.2,608.2 196.7,609.7 197.2,609.6 197.7,609.6 198.2,609.0 198.7,610.7 199.2,609.9 199.7,609.2 200.2,609.4 200.7,609.3 201.2,610.1 201.7,610.2 202.2,609.8 202.7,610.1 203.2,609.7 203.7,609.6 204.2,610.0 204.7,610.3 205.2,610.0 205.7,609.4 206.2,610.1 206.7,608.9 207.2,610.1 207.7,610.3 208.2,609.7 208.7,609.9 209.2,609.6 209.7,609.5 210.2,608.9 210.7,608.5 211.2,609.5 211.7,609.5 212.2,608.7 212.7,608.7 213.2,609.5 213.7,609.6 214.2,609.8 214.7,609.6 215.2,608.6 215.7,608.3 216.2,609.2 216.7,608.7 217.2,609.0 217.7,609.4 218.2,609.5 218.7,608.0 219.2,608.8 219.7,608.0 220.2,608.1 220.7,609.1 221.2,607.9 221.7,607.8 222.2,608.4 222.7,607.9 223.2,608.2 223.7,608.1 224.2,608.1 224.7,609.0 225.2,608.2 225.7,608.0 226.2,608.2 226.7,608.5 227.2,607.7 227.7,607.8 228.2,607.2 228.7,608.7 229.2,607.5 229.7,608.2 230.2,608.2 230.7,607.6 231.2,607.5 231.7,607.6 232.2,608.1 232.7,606.9 233.2,607.6 233.7,608.2 234.2,607.6 234.7,608.3 234.8,570.0 235.0,611.3 235.2,609.9 235.7,611.0 236.2,608.9 236.7,609.2 237.2,609.2 237.7,608.4 238.2,607.2 238.7,608.1 239.2,606.9 239.7,607.8 240.2,606.2 240.7,606.3 241.2,606.2 241.7,606.5 242.2,606.6 242.7,606.9 243.2,606.5 243.7,607.2 244.2,606.4 244.7,606.4 245.2,606.4 245.7,606.9 246.2,605.9 246.7,606.5 247.2,606.4 247.7,606.4 248.2,606.4 248.7,607.1 249.2,606.0 249.7,606.4 250.2,606.2 250.7,606.2 251.2,605.2 251.7,606.1 252.2,606.0 252.7,606.3 253.2,605.8 253.7,605.5 254.2,605.8 254.7,606.2 255.2,606.1 255.7,605.9 256.2,606.0 256.7,605.4 257.2,606.5 257.7,604.8 258.2,605.7 258.7,605.2 259.2,606.4 259.7,606.2 260.2,605.7 260.7,605.7 261.2,605.1 261.7,605.6 262.2,605.3 262.7,605.6 263.2,605.4 263.7,605.3 264.2,625.6 264.7,625.2 265.2,624.7 265.7,625.4 266.2,624.2 266.7,624.6 267.2,625.5 267.7,624.7 268.2,624.2 268.7,625.0 269.2,624.5 269.7,624.8 270.2,624.0 270.7,624.6 271.2,624.5 271.7,624.9 272.2,624.3 272.7,624.5 273.2,624.9 273.7,624.2 274.2,624.1 274.7,624.2 275.2,624.2 275.7,624.3 276.2,624.7 276.7,623.7 277.2,623.5 277.7,624.1 278.2,623.6 278.7,624.3 279.2,624.3 279.7,624.1 280.2,623.9 280.7,623.7 281.2,624.2 281.7,624.3 282.2,623.9 282.7,624.0 283.2,624.2 283.7,623.6 284.2,623.9 284.7,624.5 285.2,623.6 285.7,624.3 286.2,623.9 286.7,624.5 287.2,624.0 287.7,624.8 288.2,623.7 288.7,623.8 289.2,623.8 289.7,624.4" stroke="#2e8b3e" stroke-width="0.75" fill="none" stroke-linejoin="round"/>
<path d="M129.7,609.8 L129.7,617.6 L143,617.6" stroke="#222" stroke-width="0.7" fill="none"/>
<text x="123.00" y="613.50" font-size="6.4" text-anchor="middle" fill="#222" stroke="#222" stroke-width="0.2" transform="rotate(90 123.00 613.50)">10mV</text>
<text x="130.50" y="624.80" font-size="7" text-anchor="start" fill="#222" stroke="#222" stroke-width="0.2">100ms</text>
<path d="M294.3,612 L294.3,619 L309.5,619" stroke="#222" stroke-width="0.7" fill="none"/>
<text x="287.50" y="614.80" font-size="6.4" text-anchor="middle" fill="#222" stroke="#222" stroke-width="0.2" transform="rotate(90 287.50 614.80)">10mV</text>
<text x="295.50" y="626.00" font-size="7" text-anchor="start" fill="#222" stroke="#222" stroke-width="0.2">100ms</text>
<text x="75.40" y="634.30" font-size="7" text-anchor="middle" fill="#222" stroke="#222" stroke-width="0.2">80pA</text>
<text x="239.50" y="636.60" font-size="7" text-anchor="middle" fill="#222" stroke="#222" stroke-width="0.2">80pA</text>
<line x1="23.40" y1="658.40" x2="135.50" y2="658.40" stroke="#bbb" stroke-width="0.6"/>
<line x1="39.70" y1="638.30" x2="109.80" y2="638.30" stroke="#dcdcdc" stroke-width="0.5"/>
<line x1="39.70" y1="640.53" x2="109.80" y2="640.53" stroke="#e4d8e4" stroke-width="0.5"/>
<line x1="39.70" y1="642.77" x2="109.80" y2="642.77" stroke="#d8d8e0" stroke-width="0.5"/>
<line x1="39.70" y1="645.00" x2="109.80" y2="645.00" stroke="#dcdcdc" stroke-width="0.5"/>
<line x1="39.70" y1="647.23" x2="109.80" y2="647.23" stroke="#e4d8e4" stroke-width="0.5"/>
<line x1="39.70" y1="649.47" x2="109.80" y2="649.47" stroke="#d8d8e0" stroke-width="0.5"/>
<line x1="39.70" y1="651.70" x2="109.80" y2="651.70" stroke="#dcdcdc" stroke-width="0.5"/>
<line x1="39.70" y1="653.93" x2="109.80" y2="653.93" stroke="#e4d8e4" stroke-width="0.5"/>
<line x1="39.70" y1="656.17" x2="109.80" y2="656.17" stroke="#d8d8e0" stroke-width="0.5"/>
<line x1="39.70" y1="658.40" x2="109.80" y2="658.40" stroke="#dcdcdc" stroke-width="0.5"/>
<line x1="39.70" y1="638.30" x2="39.70" y2="660.40" stroke="#a8c8a8" stroke-width="0.6"/>
<line x1="109.80" y1="638.30" x2="109.80" y2="660.40" stroke="#a8c8a8" stroke-width="0.6"/>
<line x1="178.70" y1="659.30" x2="290.80" y2="659.30" stroke="#bbb" stroke-width="0.6"/>
<line x1="194.60" y1="639.00" x2="264.00" y2="639.00" stroke="#dcdcdc" stroke-width="0.5"/>
<line x1="194.60" y1="641.26" x2="264.00" y2="641.26" stroke="#e4d8e4" stroke-width="0.5"/>
<line x1="194.60" y1="643.51" x2="264.00" y2="643.51" stroke="#d8d8e0" stroke-width="0.5"/>
<line x1="194.60" y1="645.77" x2="264.00" y2="645.77" stroke="#dcdcdc" stroke-width="0.5"/>
<line x1="194.60" y1="648.02" x2="264.00" y2="648.02" stroke="#e4d8e4" stroke-width="0.5"/>
<line x1="194.60" y1="650.28" x2="264.00" y2="650.28" stroke="#d8d8e0" stroke-width="0.5"/>
<line x1="194.60" y1="652.53" x2="264.00" y2="652.53" stroke="#dcdcdc" stroke-width="0.5"/>
<line x1="194.60" y1="654.79" x2="264.00" y2="654.79" stroke="#e4d8e4" stroke-width="0.5"/>
<line x1="194.60" y1="657.04" x2="264.00" y2="657.04" stroke="#d8d8e0" stroke-width="0.5"/>
<line x1="194.60" y1="659.30" x2="264.00" y2="659.30" stroke="#dcdcdc" stroke-width="0.5"/>
<line x1="194.60" y1="639.00" x2="194.60" y2="661.30" stroke="#a8c8a8" stroke-width="0.6"/>
<line x1="264.00" y1="639.00" x2="264.00" y2="661.30" stroke="#a8c8a8" stroke-width="0.6"/>
<text x="73.00" y="667.70" font-size="7" text-anchor="middle" fill="#222" stroke="#222" stroke-width="0.2">-10pA</text>
<text x="236.00" y="670.00" font-size="7" text-anchor="middle" fill="#222" stroke="#222" stroke-width="0.2">-10pA</text>
<text x="338.00" y="557.00" font-size="11.5" text-anchor="start" font-weight="bold" fill="#000">n</text>
<line x1="381.10" y1="661.20" x2="381.10" y2="556.60" stroke="#333" stroke-width="0.8"/>
<line x1="378.60" y1="661.20" x2="381.10" y2="661.20" stroke="#333" stroke-width="0.8"/>
<text x="377.60" y="663.80" font-size="7.5" text-anchor="end" fill="#222" stroke="#222" stroke-width="0.2">0</text>
<line x1="378.60" y1="635.05" x2="381.10" y2="635.05" stroke="#333" stroke-width="0.8"/>
<text x="377.60" y="637.65" font-size="7.5" text-anchor="end" fill="#222" stroke="#222" stroke-width="0.2">5</text>
<line x1="378.60" y1="608.90" x2="381.10" y2="608.90" stroke="#333" stroke-width="0.8"/>
<text x="377.60" y="611.50" font-size="7.5" text-anchor="end" fill="#222" stroke="#222" stroke-width="0.2">10</text>
<line x1="378.60" y1="582.75" x2="381.10" y2="582.75" stroke="#333" stroke-width="0.8"/>
<text x="377.60" y="585.35" font-size="7.5" text-anchor="end" fill="#222" stroke="#222" stroke-width="0.2">15</text>
<line x1="378.60" y1="556.60" x2="381.10" y2="556.60" stroke="#333" stroke-width="0.8"/>
<text x="377.60" y="559.20" font-size="7.5" text-anchor="end" fill="#222" stroke="#222" stroke-width="0.2">20</text>
<line x1="381.10" y1="661.20" x2="539.30" y2="661.20" stroke="#333" stroke-width="0.8"/>
<line x1="391.30" y1="661.20" x2="391.30" y2="663.70" stroke="#333" stroke-width="0.8"/>
<text x="391.30" y="671.70" font-size="7.5" text-anchor="middle" fill="#222" stroke="#222" stroke-width="0.2">-10</text>
<line x1="406.60" y1="661.20" x2="406.60" y2="663.70" stroke="#333" stroke-width="0.8"/>
<text x="406.60" y="671.70" font-size="7.5" text-anchor="middle" fill="#222" stroke="#222" stroke-width="0.2">0</text>
<line x1="421.90" y1="661.20" x2="421.90" y2="663.70" stroke="#333" stroke-width="0.8"/>
<text x="421.90" y="671.70" font-size="7.5" text-anchor="middle" fill="#222" stroke="#222" stroke-width="0.2">10</text>
<line x1="437.20" y1="661.20" x2="437.20" y2="663.70" stroke="#333" stroke-width="0.8"/>
<text x="437.20" y="671.70" font-size="7.5" text-anchor="middle" fill="#222" stroke="#222" stroke-width="0.2">20</text>
<line x1="452.50" y1="661.20" x2="452.50" y2="663.70" stroke="#333" stroke-width="0.8"/>
<text x="452.50" y="671.70" font-size="7.5" text-anchor="middle" fill="#222" stroke="#222" stroke-width="0.2">30</text>
<line x1="467.80" y1="661.20" x2="467.80" y2="663.70" stroke="#333" stroke-width="0.8"/>
<text x="467.80" y="671.70" font-size="7.5" text-anchor="middle" fill="#222" stroke="#222" stroke-width="0.2">40</text>
<line x1="483.10" y1="661.20" x2="483.10" y2="663.70" stroke="#333" stroke-width="0.8"/>
<text x="483.10" y="671.70" font-size="7.5" text-anchor="middle" fill="#222" stroke="#222" stroke-width="0.2">50</text>
<line x1="498.40" y1="661.20" x2="498.40" y2="663.70" stroke="#333" stroke-width="0.8"/>
<text x="498.40" y="671.70" font-size="7.5" text-anchor="middle" fill="#222" stroke="#222" stroke-width="0.2">60</text>
<line x1="513.70" y1="661.20" x2="513.70" y2="663.70" stroke="#333" stroke-width="0.8"/>
<text x="513.70" y="671.70" font-size="7.5" text-anchor="middle" fill="#222" stroke="#222" stroke-width="0.2">70</text>
<line x1="529.00" y1="661.20" x2="529.00" y2="663.70" stroke="#333" stroke-width="0.8"/>
<text x="529.00" y="671.70" font-size="7.5" text-anchor="middle" fill="#222" stroke="#222" stroke-width="0.2">80</text>
<path d="M391.3,661.2 406.6,659.1 421.9,649.2 437.2,638.2 452.5,633.0 467.8,626.2 483.1,621.5 498.4,609.4 513.7,606.3 529.0,600.0" stroke="#d9727a" stroke-width="0.9" fill="none"/>
<line x1="391.30" y1="662.77" x2="391.30" y2="659.63" stroke="#d9727a" stroke-width="0.8"/>
<line x1="389.50" y1="659.63" x2="393.10" y2="659.63" stroke="#d9727a" stroke-width="0.8"/>
<line x1="389.50" y1="662.77" x2="393.10" y2="662.77" stroke="#d9727a" stroke-width="0.8"/>
<rect x="388.90" y="658.80" width="4.80" height="4.80" fill="#d9727a" stroke="none" stroke-width="1"/>
<line x1="406.60" y1="660.68" x2="406.60" y2="657.54" stroke="#d9727a" stroke-width="0.8"/>
<line x1="404.80" y1="657.54" x2="408.40" y2="657.54" stroke="#d9727a" stroke-width="0.8"/>
<line x1="404.80" y1="660.68" x2="408.40" y2="660.68" stroke="#d9727a" stroke-width="0.8"/>
<rect x="404.20" y="656.71" width="4.80" height="4.80" fill="#d9727a" stroke="none" stroke-width="1"/>
<line x1="421.90" y1="652.83" x2="421.90" y2="645.51" stroke="#d9727a" stroke-width="0.8"/>
<line x1="420.10" y1="645.51" x2="423.70" y2="645.51" stroke="#d9727a" stroke-width="0.8"/>
<line x1="420.10" y1="652.83" x2="423.70" y2="652.83" stroke="#d9727a" stroke-width="0.8"/>
<rect x="419.50" y="646.77" width="4.80" height="4.80" fill="#d9727a" stroke="none" stroke-width="1"/>
<line x1="437.20" y1="642.37" x2="437.20" y2="634.00" stroke="#d9727a" stroke-width="0.8"/>
<line x1="435.40" y1="634.00" x2="439.00" y2="634.00" stroke="#d9727a" stroke-width="0.8"/>
<line x1="435.40" y1="642.37" x2="439.00" y2="642.37" stroke="#d9727a" stroke-width="0.8"/>
<rect x="434.80" y="635.79" width="4.80" height="4.80" fill="#d9727a" stroke="none" stroke-width="1"/>
<line x1="452.50" y1="638.19" x2="452.50" y2="627.73" stroke="#d9727a" stroke-width="0.8"/>
<line x1="450.70" y1="627.73" x2="454.30" y2="627.73" stroke="#d9727a" stroke-width="0.8"/>
<line x1="450.70" y1="638.19" x2="454.30" y2="638.19" stroke="#d9727a" stroke-width="0.8"/>
<rect x="450.10" y="630.56" width="4.80" height="4.80" fill="#d9727a" stroke="none" stroke-width="1"/>
<line x1="467.80" y1="632.44" x2="467.80" y2="619.88" stroke="#d9727a" stroke-width="0.8"/>
<line x1="466.00" y1="619.88" x2="469.60" y2="619.88" stroke="#d9727a" stroke-width="0.8"/>
<line x1="466.00" y1="632.44" x2="469.60" y2="632.44" stroke="#d9727a" stroke-width="0.8"/>
<rect x="465.40" y="623.76" width="4.80" height="4.80" fill="#d9727a" stroke="none" stroke-width="1"/>
<line x1="483.10" y1="626.68" x2="483.10" y2="616.22" stroke="#d9727a" stroke-width="0.8"/>
<line x1="481.30" y1="616.22" x2="484.90" y2="616.22" stroke="#d9727a" stroke-width="0.8"/>
<line x1="481.30" y1="626.68" x2="484.90" y2="626.68" stroke="#d9727a" stroke-width="0.8"/>
<rect x="480.70" y="619.05" width="4.80" height="4.80" fill="#d9727a" stroke="none" stroke-width="1"/>
<line x1="498.40" y1="613.61" x2="498.40" y2="605.24" stroke="#d9727a" stroke-width="0.8"/>
<line x1="496.60" y1="605.24" x2="500.20" y2="605.24" stroke="#d9727a" stroke-width="0.8"/>
<line x1="496.60" y1="613.61" x2="500.20" y2="613.61" stroke="#d9727a" stroke-width="0.8"/>
<rect x="496.00" y="607.02" width="4.80" height="4.80" fill="#d9727a" stroke="none" stroke-width="1"/>
<line x1="513.70" y1="612.04" x2="513.70" y2="600.53" stroke="#d9727a" stroke-width="0.8"/>
<line x1="511.90" y1="600.53" x2="515.50" y2="600.53" stroke="#d9727a" stroke-width="0.8"/>
<line x1="511.90" y1="612.04" x2="515.50" y2="612.04" stroke="#d9727a" stroke-width="0.8"/>
<rect x="511.30" y="603.89" width="4.80" height="4.80" fill="#d9727a" stroke="none" stroke-width="1"/>
<line x1="529.00" y1="605.76" x2="529.00" y2="594.26" stroke="#d9727a" stroke-width="0.8"/>
<line x1="527.20" y1="594.26" x2="530.80" y2="594.26" stroke="#d9727a" stroke-width="0.8"/>
<line x1="527.20" y1="605.76" x2="530.80" y2="605.76" stroke="#d9727a" stroke-width="0.8"/>
<rect x="526.60" y="597.61" width="4.80" height="4.80" fill="#d9727a" stroke="none" stroke-width="1"/>
<path d="M391.3,656.5 406.6,654.4 421.9,646.0 437.2,630.9 452.5,626.7 467.8,601.6 483.1,596.9 498.4,588.0 513.7,582.2 529.0,574.9" stroke="#9cc8e6" stroke-width="0.9" fill="none"/>
<line x1="391.30" y1="660.68" x2="391.30" y2="652.31" stroke="#9cc8e6" stroke-width="0.8"/>
<line x1="389.50" y1="652.31" x2="393.10" y2="652.31" stroke="#9cc8e6" stroke-width="0.8"/>
<line x1="389.50" y1="660.68" x2="393.10" y2="660.68" stroke="#9cc8e6" stroke-width="0.8"/>
<circle cx="391.3" cy="656.5" r="2.60" fill="#9cc8e6"/>
<line x1="406.60" y1="658.59" x2="406.60" y2="650.22" stroke="#9cc8e6" stroke-width="0.8"/>
<line x1="404.80" y1="650.22" x2="408.40" y2="650.22" stroke="#9cc8e6" stroke-width="0.8"/>
<line x1="404.80" y1="658.59" x2="408.40" y2="658.59" stroke="#9cc8e6" stroke-width="0.8"/>
<circle cx="406.6" cy="654.4" r="2.60" fill="#9cc8e6"/>
<line x1="421.90" y1="651.26" x2="421.90" y2="640.80" stroke="#9cc8e6" stroke-width="0.8"/>
<line x1="420.10" y1="640.80" x2="423.70" y2="640.80" stroke="#9cc8e6" stroke-width="0.8"/>
<line x1="420.10" y1="651.26" x2="423.70" y2="651.26" stroke="#9cc8e6" stroke-width="0.8"/>
<circle cx="421.9" cy="646.0" r="2.60" fill="#9cc8e6"/>
<line x1="437.20" y1="638.19" x2="437.20" y2="623.54" stroke="#9cc8e6" stroke-width="0.8"/>
<line x1="435.40" y1="623.54" x2="439.00" y2="623.54" stroke="#9cc8e6" stroke-width="0.8"/>
<line x1="435.40" y1="638.19" x2="439.00" y2="638.19" stroke="#9cc8e6" stroke-width="0.8"/>
<circle cx="437.2" cy="630.9" r="2.60" fill="#9cc8e6"/>
<line x1="452.50" y1="634.53" x2="452.50" y2="618.84" stroke="#9cc8e6" stroke-width="0.8"/>
<line x1="450.70" y1="618.84" x2="454.30" y2="618.84" stroke="#9cc8e6" stroke-width="0.8"/>
<line x1="450.70" y1="634.53" x2="454.30" y2="634.53" stroke="#9cc8e6" stroke-width="0.8"/>
<circle cx="452.5" cy="626.7" r="2.60" fill="#9cc8e6"/>
<line x1="467.80" y1="604.19" x2="467.80" y2="598.96" stroke="#9cc8e6" stroke-width="0.8"/>
<line x1="466.00" y1="598.96" x2="469.60" y2="598.96" stroke="#9cc8e6" stroke-width="0.8"/>
<line x1="466.00" y1="604.19" x2="469.60" y2="604.19" stroke="#9cc8e6" stroke-width="0.8"/>
<circle cx="467.8" cy="601.6" r="2.60" fill="#9cc8e6"/>
<line x1="483.10" y1="598.44" x2="483.10" y2="595.30" stroke="#9cc8e6" stroke-width="0.8"/>
<line x1="481.30" y1="595.30" x2="484.90" y2="595.30" stroke="#9cc8e6" stroke-width="0.8"/>
<line x1="481.30" y1="598.44" x2="484.90" y2="598.44" stroke="#9cc8e6" stroke-width="0.8"/>
<circle cx="483.1" cy="596.9" r="2.60" fill="#9cc8e6"/>
<line x1="498.40" y1="589.55" x2="498.40" y2="586.41" stroke="#9cc8e6" stroke-width="0.8"/>
<line x1="496.60" y1="586.41" x2="500.20" y2="586.41" stroke="#9cc8e6" stroke-width="0.8"/>
<line x1="496.60" y1="589.55" x2="500.20" y2="589.55" stroke="#9cc8e6" stroke-width="0.8"/>
<circle cx="498.4" cy="588.0" r="2.60" fill="#9cc8e6"/>
<line x1="513.70" y1="584.84" x2="513.70" y2="579.61" stroke="#9cc8e6" stroke-width="0.8"/>
<line x1="511.90" y1="579.61" x2="515.50" y2="579.61" stroke="#9cc8e6" stroke-width="0.8"/>
<line x1="511.90" y1="584.84" x2="515.50" y2="584.84" stroke="#9cc8e6" stroke-width="0.8"/>
<circle cx="513.7" cy="582.2" r="2.60" fill="#9cc8e6"/>
<line x1="529.00" y1="578.04" x2="529.00" y2="571.77" stroke="#9cc8e6" stroke-width="0.8"/>
<line x1="527.20" y1="571.77" x2="530.80" y2="571.77" stroke="#9cc8e6" stroke-width="0.8"/>
<line x1="527.20" y1="578.04" x2="530.80" y2="578.04" stroke="#9cc8e6" stroke-width="0.8"/>
<circle cx="529.0" cy="574.9" r="2.60" fill="#9cc8e6"/>
<line x1="453.20" y1="560.40" x2="463.40" y2="560.40" stroke="#9cc8e6" stroke-width="0.9"/>
<circle cx="458.3" cy="560.4" r="2.60" fill="#9cc8e6"/>
<text x="470.70" y="563.00" font-size="7.6" text-anchor="start" fill="#222" stroke="#222" stroke-width="0.2">Sham-28d</text>
<line x1="453.20" y1="573.60" x2="463.40" y2="573.60" stroke="#d9727a" stroke-width="0.9"/>
<rect x="455.90" y="571.20" width="4.80" height="4.80" fill="#d9727a" stroke="none" stroke-width="1"/>
<text x="470.70" y="576.20" font-size="7.6" text-anchor="start" fill="#222" stroke="#222" stroke-width="0.2">MP-28d</text>
<text x="467.80" y="601.50" font-size="14" text-anchor="middle" fill="#111" stroke="#111" stroke-width="0.2">**</text>
<text x="483.10" y="599.20" font-size="14" text-anchor="middle" fill="#111" stroke="#111" stroke-width="0.2">**</text>
<text x="498.40" y="587.80" font-size="14" text-anchor="middle" fill="#111" stroke="#111" stroke-width="0.2">*</text>
<text x="513.70" y="584.00" font-size="14" text-anchor="middle" fill="#111" stroke="#111" stroke-width="0.2">**</text>
<text x="529.00" y="573.80" font-size="14" text-anchor="middle" fill="#111" stroke="#111" stroke-width="0.2">**</text>
<text x="360.50" y="615.00" font-size="7.4" text-anchor="middle" fill="#222" stroke="#222" stroke-width="0.2" transform="rotate(-90 360.50 615.00)">Frequency (Hz)</text>
<text x="566.50" y="556.50" font-size="11.5" text-anchor="start" font-weight="bold" fill="#000">o</text>
<line x1="598.70" y1="565.50" x2="598.70" y2="659.50" stroke="#333" stroke-width="0.8"/>
<line x1="596.20" y1="565.50" x2="598.70" y2="565.50" stroke="#333" stroke-width="0.8"/>
<text x="595.20" y="568.30" font-size="7.8" text-anchor="end" fill="#222" stroke="#222" stroke-width="0.2">0</text>
<line x1="596.20" y1="589.00" x2="598.70" y2="589.00" stroke="#333" stroke-width="0.8"/>
<text x="595.20" y="591.80" font-size="7.8" text-anchor="end" fill="#222" stroke="#222" stroke-width="0.2">-20</text>
<line x1="596.20" y1="612.50" x2="598.70" y2="612.50" stroke="#333" stroke-width="0.8"/>
<text x="595.20" y="615.30" font-size="7.8" text-anchor="end" fill="#222" stroke="#222" stroke-width="0.2">-40</text>
<line x1="596.20" y1="636.00" x2="598.70" y2="636.00" stroke="#333" stroke-width="0.8"/>
<text x="595.20" y="638.80" font-size="7.8" text-anchor="end" fill="#222" stroke="#222" stroke-width="0.2">-60</text>
<line x1="596.20" y1="659.50" x2="598.70" y2="659.50" stroke="#333" stroke-width="0.8"/>
<text x="595.20" y="662.30" font-size="7.8" text-anchor="end" fill="#222" stroke="#222" stroke-width="0.2">-80</text>
<line x1="598.70" y1="565.50" x2="661.30" y2="565.50" stroke="#333" stroke-width="0.8"/>
<line x1="598.70" y1="659.50" x2="661.00" y2="659.50" stroke="#333" stroke-width="0.8"/>
<rect x="607.80" y="565.50" width="17.00" height="68.15" fill="#a9c7e2" stroke="#555" stroke-width="0.8"/>
<rect x="634.50" y="565.50" width="16.70" height="74.02" fill="#c8656e" stroke="#333" stroke-width="0.8"/>
<line x1="616.30" y1="633.65" x2="616.30" y2="634.47" stroke="#333" stroke-width="0.8"/>
<circle cx="610.3" cy="631.9" r="1.70" fill="#3a6ea5"/>
<circle cx="613.3" cy="633.9" r="1.70" fill="#3a6ea5"/>
<circle cx="616.3" cy="632.2" r="1.70" fill="#3a6ea5"/>
<circle cx="619.3" cy="634.2" r="1.70" fill="#3a6ea5"/>
<circle cx="622.3" cy="633.1" r="1.70" fill="#3a6ea5"/>
<circle cx="611.8" cy="636.9" r="1.70" fill="#3a6ea5"/>
<circle cx="616.3" cy="636.0" r="1.70" fill="#3a6ea5"/>
<circle cx="620.8" cy="636.9" r="1.70" fill="#3a6ea5"/>
<circle cx="624.3" cy="633.4" r="1.70" fill="#3a6ea5"/>
<circle cx="637.8" cy="639.5" r="1.70" fill="#d8475e"/>
<circle cx="640.8" cy="641.3" r="1.70" fill="#d8475e"/>
<circle cx="644.8" cy="640.7" r="1.70" fill="#d8475e"/>
<circle cx="648.8" cy="640.1" r="1.70" fill="#d8475e"/>
<circle cx="636.8" cy="643.0" r="1.70" fill="#d8475e"/>
<circle cx="642.8" cy="642.5" r="1.70" fill="#d8475e"/>
<circle cx="647.8" cy="642.8" r="1.70" fill="#d8475e"/>
<circle cx="642.8" cy="635.4" r="1.70" fill="#d8475e"/>
<line x1="616.20" y1="561.00" x2="643.00" y2="561.00" stroke="#222" stroke-width="0.8"/>
<text x="629.60" y="561.68" font-size="13.8" text-anchor="middle" fill="#222" stroke="#222" stroke-width="0.2">***</text>
<line x1="616.30" y1="659.50" x2="616.30" y2="662.00" stroke="#333" stroke-width="0.8"/>
<line x1="642.80" y1="659.50" x2="642.80" y2="662.00" stroke="#333" stroke-width="0.8"/>
<text x="611.40" y="670.50" font-size="7.5" text-anchor="middle" fill="#222" stroke="#222" stroke-width="0.2">Sham-28d</text>
<text x="646.00" y="670.50" font-size="7.5" text-anchor="middle" fill="#222" stroke="#222" stroke-width="0.2">MP-28d</text>
<text x="578.00" y="614.00" font-size="7.8" text-anchor="middle" fill="#222" stroke="#222" stroke-width="0.2" transform="rotate(-90 578.00 614.00)">Membrane potential(mV)</text>
<text x="1.00" y="713.20" font-size="11.5" text-anchor="start" font-weight="bold" fill="#000">p</text>
<rect x="26.20" y="707.60" width="109.80" height="11.00" fill="#a9cde6" stroke="none" stroke-width="1"/>
<text x="78.00" y="717.00" font-size="9.8" text-anchor="middle" font-weight="bold" fill="#111">Sham-28d</text>
<path d="M26.2,727.4 26.3,727.7 26.4,725.1 26.5,723.6 26.6,723.0 26.7,725.2 26.9,723.3 27.0,722.7 27.1,725.9 27.2,725.9 27.3,726.8 27.4,724.2 27.5,726.0 27.6,726.0 27.7,723.4 27.8,727.4 28.0,727.1 28.1,731.2 28.2,727.1 28.3,726.5 28.4,729.2 28.5,764.5 28.6,757.8 28.7,749.1 28.8,745.2 28.9,742.9 29.1,739.2 29.2,735.7 29.3,731.5 29.4,732.9 29.5,730.9 29.6,731.2 29.7,729.4 29.8,730.4 29.9,727.7 30.0,727.8 30.2,728.3 30.3,724.7 30.4,725.7 30.5,725.3 30.6,729.9 30.7,725.8 30.8,727.1 30.9,727.0 31.0,725.2 31.1,722.7 31.3,727.5 31.4,725.0 31.5,727.1 31.6,723.4 31.7,731.2 31.8,733.1 31.9,732.6 32.0,730.1 32.1,728.8 32.2,730.3 32.4,731.0 32.5,729.4 32.6,729.2 32.7,726.5 32.8,729.3 32.9,730.1 33.0,727.0 33.1,725.0 33.2,726.2 33.3,729.1 33.5,724.3 33.6,727.3 33.7,729.5 33.8,730.2 33.9,729.2 34.0,747.7 34.1,745.9 34.2,740.3 34.3,739.2 34.4,734.2 34.6,731.7 34.7,731.9 34.8,724.7 34.9,729.0 35.0,728.7 35.1,725.4 35.2,728.1 35.3,725.8 35.4,721.9 35.5,725.9 35.7,724.2 35.8,724.9 35.9,725.5 36.0,728.1 36.1,725.9 36.2,725.6 36.3,726.4 36.4,722.2 36.5,728.0 36.6,723.7 36.8,726.6 36.9,723.7 37.0,724.1 37.1,725.3 37.2,729.8 37.3,727.6 37.4,725.2 37.5,725.9 37.6,724.3 37.7,726.5 37.9,725.5 38.0,728.0 38.1,724.1 38.2,726.0 38.3,725.1 38.4,725.3 38.5,728.0 38.6,726.8 38.7,727.6 38.8,728.7 39.0,728.5 39.1,723.6 39.2,727.1 39.3,722.6 39.4,725.7 39.5,729.3 39.6,725.2 39.7,724.7 39.8,725.6 39.9,725.2 40.1,725.1 40.2,723.5 40.3,726.9 40.4,726.4 40.5,724.3 40.6,734.6 40.7,733.2 40.8,732.3 40.9,729.8 41.0,729.4 41.2,726.9 41.3,724.8 41.4,725.4 41.5,728.0 41.6,727.7 41.7,726.0 41.8,724.6 41.9,726.2 42.0,728.7 42.1,728.2 42.3,724.3 42.4,725.6 42.5,722.9 42.6,723.5 42.7,726.1 42.8,725.8 42.9,727.6 43.0,728.1 43.1,727.3 43.2,728.2 43.4,724.6 43.5,723.4 43.6,726.5 43.7,730.5 43.8,726.0 43.9,723.1 44.0,725.6 44.1,727.7 44.2,722.9 44.3,726.3 44.5,727.9 44.6,730.4 44.7,728.6 44.8,727.0 44.9,729.6 45.0,738.9 45.1,734.9 45.2,737.0 45.3,729.7 45.4,733.9 45.6,728.3 45.7,725.4 45.8,726.6 45.9,726.3 46.0,726.0 46.1,724.9 46.2,731.3 46.3,723.7 46.4,726.3 46.5,726.3 46.7,729.8 46.8,722.2 46.9,725.2 47.0,723.5 47.1,724.3 47.2,726.7 47.3,726.2 47.4,728.2 47.5,724.3 47.6,725.9 47.8,727.7 47.9,727.1 48.0,724.8 48.1,727.5 48.2,723.6 48.3,728.7 48.4,725.5 48.5,725.0 48.6,725.6 48.7,726.6 48.9,728.2 49.0,724.5 49.1,724.0 49.2,725.7 49.3,722.8 49.4,721.1 49.5,737.3 49.6,732.4 49.7,733.3 49.8,727.6 50.0,722.8 50.1,727.8 50.2,732.3 50.3,733.3 50.4,729.8 50.5,728.4 50.6,728.1 50.7,725.7 50.8,726.1 50.9,723.0 51.1,726.3 51.2,723.7 51.3,724.3 51.4,726.4 51.5,726.9 51.6,723.2 51.7,729.0 51.8,724.2 51.9,727.0 52.0,727.3 52.2,726.0 52.3,725.9 52.4,729.1 52.5,727.4 52.6,729.5 52.7,726.6 52.8,727.8 52.9,730.7 53.0,728.3 53.1,725.6 53.3,725.8 53.4,726.2 53.5,727.8 53.6,727.0 53.7,727.9 53.8,724.3 53.9,727.6 54.0,724.6 54.1,724.8 54.2,728.5 54.4,725.3 54.5,724.8 54.6,724.5 54.7,724.1 54.8,727.8 54.9,727.4 55.0,726.1 55.1,725.1 55.2,726.7 55.3,724.6 55.5,725.7 55.6,725.6 55.7,725.1 55.8,728.2 55.9,728.5 56.0,727.8 56.1,721.7 56.2,729.0 56.3,727.0 56.4,724.9 56.6,725.9 56.7,728.2 56.8,728.4 56.9,727.9 57.0,726.7 57.1,753.2 57.2,749.0 57.3,742.8 57.4,737.8 57.5,735.6 57.7,734.4 57.8,733.6 57.9,735.9 58.0,728.0 58.1,730.6 58.2,728.9 58.3,729.0 58.4,730.6 58.5,730.0 58.6,727.0 58.8,728.8 58.9,726.4 59.0,728.2 59.1,730.1 59.2,726.8 59.3,728.2 59.4,727.9 59.5,727.1 59.6,728.2 59.7,725.8 59.9,724.3 60.0,723.6 60.1,727.5 60.2,725.0 60.3,725.1 60.4,727.3 60.5,730.2 60.6,733.8 60.7,730.8 60.8,727.9 61.0,727.1 61.1,745.4 61.2,737.5 61.3,735.7 61.4,734.8 61.5,733.5 61.6,731.9 61.7,732.8 61.8,730.3 61.9,730.0 62.1,732.0 62.2,730.4 62.3,727.9 62.4,731.7 62.5,724.4 62.6,728.2 62.7,729.1 62.8,729.5 62.9,727.7 63.0,726.6 63.2,728.3 63.3,726.7 63.4,727.9 63.5,721.4 63.6,727.4 63.7,725.0 63.8,728.2 63.9,727.7 64.0,727.5 64.1,725.2 64.3,726.7 64.4,725.2 64.5,726.2 64.6,725.4 64.7,724.0 64.8,729.4 64.9,727.0 65.0,721.7 65.1,727.3 65.2,723.0 65.4,725.2 65.5,731.5 65.6,730.1 65.7,730.5 65.8,728.6 65.9,725.9 66.0,728.1 66.1,728.5 66.2,730.9 66.3,726.6 66.5,725.0 66.6,748.1 66.7,745.3 66.8,738.7 66.9,736.1 67.0,736.2 67.1,733.4 67.2,732.4 67.3,729.7 67.4,728.4 67.6,728.6 67.7,728.3 67.8,727.5 67.9,728.5 68.0,728.4 68.1,728.1 68.2,727.7 68.3,724.8 68.4,724.2 68.5,727.6 68.7,725.9 68.8,725.9 68.9,723.3 69.0,725.0 69.1,724.0 69.2,723.4 69.3,723.8 69.4,722.1 69.5,725.0 69.6,727.0 69.8,723.4 69.9,728.1 70.0,725.2 70.1,728.0 70.2,729.9 70.3,723.7 70.4,725.4 70.5,728.4 70.6,726.3 70.7,725.8 70.9,721.7 71.0,725.3 71.1,727.4 71.2,728.4 71.3,726.9 71.4,731.7 71.5,730.1 71.6,726.7 71.7,727.2 71.8,730.7 72.0,727.8 72.1,731.9 72.2,735.1 72.3,727.9 72.4,732.3 72.5,728.3 72.6,728.8 72.7,728.8 72.8,727.5 72.9,729.0 73.1,726.2 73.2,725.2 73.3,724.3 73.4,722.5 73.5,723.7 73.6,726.7 73.7,726.2 73.8,727.2 73.9,729.6 74.0,725.6 74.2,725.1 74.3,721.6 74.4,723.5 74.5,728.1 74.6,724.9 74.7,723.6 74.8,724.5 74.9,720.3 75.0,722.4 75.1,721.5 75.3,720.0 75.4,725.6 75.5,726.1 75.6,724.0 75.7,725.1 75.8,722.7 75.9,725.5 76.0,743.1 76.1,741.0 76.2,738.3 76.4,734.1 76.5,731.2 76.6,728.6 76.7,728.0 76.8,729.5 76.9,728.8 77.0,727.2 77.1,729.9 77.2,727.6 77.3,726.1 77.5,725.5 77.6,725.8 77.7,723.6 77.8,723.4 77.9,730.5 78.0,727.5 78.1,727.1 78.2,729.8 78.3,726.3 78.4,728.6 78.6,743.4 78.7,742.0 78.8,736.7 78.9,729.8 79.0,733.5 79.1,729.1 79.2,724.5 79.3,727.5 79.4,726.8 79.5,723.5 79.7,724.4 79.8,726.2 79.9,727.7 80.0,727.0 80.1,727.1 80.2,726.9 80.3,720.0 80.4,723.4 80.5,725.2 80.6,719.8 80.8,726.5 80.9,726.8 81.0,723.7 81.1,724.5 81.2,723.5 81.3,725.4 81.4,725.4 81.5,725.6 81.6,723.7 81.7,729.6 81.9,727.6 82.0,732.2 82.1,730.0 82.2,725.7 82.3,725.2 82.4,727.5 82.5,726.0 82.6,727.4 82.7,727.7 82.8,726.0 83.0,722.5 83.1,723.2 83.2,726.4 83.3,723.2 83.4,727.1 83.5,724.7 83.6,725.8 83.7,723.0 83.8,724.5 83.9,719.0 84.1,734.6 84.2,733.8 84.3,729.3 84.4,728.0 84.5,728.5 84.6,727.9 84.7,725.7 84.8,728.1 84.9,723.3 85.0,731.1 85.2,725.6 85.3,726.1 85.4,729.9 85.5,725.2 85.6,723.8 85.7,726.9 85.8,725.0 85.9,724.6 86.0,725.4 86.1,729.7 86.3,728.3 86.4,727.5 86.5,731.9 86.6,727.1 86.7,729.9 86.8,725.1 86.9,728.5 87.0,724.9 87.1,726.2 87.2,728.2 87.4,725.8 87.5,722.9 87.6,725.5 87.7,726.1 87.8,727.3 87.9,724.2 88.0,725.5 88.1,726.0 88.2,722.7 88.3,725.5 88.5,724.1 88.6,726.4 88.7,725.3 88.8,725.2 88.9,720.9 89.0,725.2 89.1,724.8 89.2,723.7 89.3,724.6 89.4,723.2 89.6,726.0 89.7,727.0 89.8,727.0 89.9,725.0 90.0,729.3 90.1,727.8 90.2,760.9 90.3,754.6 90.4,745.8 90.5,743.9 90.7,741.8 90.8,740.0 90.9,734.6 91.0,730.2 91.1,732.0 91.2,733.8 91.3,730.7 91.4,732.2 91.5,730.8 91.6,731.7 91.8,733.1 91.9,729.6 92.0,730.9 92.1,734.2 92.2,727.8 92.3,724.8 92.4,731.9 92.5,733.1 92.6,729.8 92.7,728.8 92.9,726.1 93.0,729.7 93.1,728.1 93.2,726.1 93.3,726.1 93.4,725.8 93.5,728.4 93.6,725.9 93.7,728.7 93.8,724.4 94.0,724.7 94.1,731.7 94.2,730.1 94.3,729.8 94.4,731.1 94.5,741.8 94.6,734.6 94.7,736.8 94.8,732.8 94.9,734.4 95.1,730.0 95.2,728.0 95.3,730.5 95.4,731.8 95.5,729.0 95.6,729.3 95.7,729.0 95.8,729.0 95.9,724.9 96.0,725.6 96.2,727.8 96.3,728.1 96.4,726.4 96.5,724.0 96.6,729.7 96.7,726.5 96.8,724.9 96.9,729.8 97.0,728.8 97.1,728.5 97.3,728.0 97.4,727.3 97.5,724.3 97.6,726.0 97.7,726.5 97.8,726.9 97.9,726.4 98.0,740.3 98.1,737.3 98.2,734.9 98.4,732.8 98.5,729.7 98.6,726.5 98.7,726.5 98.8,728.6 98.9,727.3 99.0,727.9 99.1,722.8 99.2,725.4 99.3,727.6 99.5,722.1 99.6,723.7 99.7,722.5 99.8,728.0 99.9,725.8 100.0,724.7 100.1,726.1 100.2,725.7 100.3,727.6 100.4,728.2 100.6,727.7 100.7,726.6 100.8,727.5 100.9,727.6 101.0,728.3 101.1,722.6 101.2,726.7 101.3,726.1 101.4,726.2 101.5,748.7 101.7,743.9 101.8,740.9 101.9,737.1 102.0,734.5 102.1,730.2 102.2,728.2 102.3,727.9 102.4,724.9 102.5,726.4 102.6,725.1 102.8,722.7 102.9,722.0 103.0,724.4 103.1,723.9 103.2,728.9 103.3,726.2 103.4,722.9 103.5,723.4 103.6,722.3 103.7,722.7 103.9,723.5 104.0,724.1 104.1,722.9 104.2,725.7 104.3,725.5 104.4,728.0 104.5,721.9 104.6,725.8 104.7,723.9 104.8,721.7 105.0,724.2 105.1,721.8 105.2,724.9 105.3,730.3 105.4,727.6 105.5,740.4 105.6,736.7 105.7,729.6 105.8,731.8 105.9,730.0 106.1,734.0 106.2,729.5 106.3,726.3 106.4,737.5 106.5,733.9 106.6,730.8 106.7,728.0 106.8,728.4 106.9,724.9 107.0,728.4 107.2,726.4 107.3,725.3 107.4,724.4 107.5,724.8 107.6,724.9 107.7,723.7 107.8,726.1 107.9,724.5 108.0,743.8 108.1,737.9 108.3,738.4 108.4,735.9 108.5,732.6 108.6,726.2 108.7,727.8 108.8,729.4 108.9,726.8 109.0,728.7 109.1,725.0 109.2,727.1 109.4,726.4 109.5,720.6 109.6,724.4 109.7,730.2 109.8,728.3 109.9,726.9 110.0,730.9 110.1,727.2 110.2,728.5 110.3,724.2 110.5,722.5 110.6,725.4 110.7,726.9 110.8,724.7 110.9,727.0 111.0,727.4 111.1,724.9 111.2,725.6 111.3,724.2 111.4,727.6 111.6,728.8 111.7,726.3 111.8,724.3 111.9,723.8 112.0,724.5 112.1,726.6 112.2,723.3 112.3,727.5 112.4,722.3 112.5,724.5 112.7,727.0 112.8,727.8 112.9,723.6 113.0,725.9 113.1,736.4 113.2,732.2 113.3,724.6 113.4,728.4 113.5,732.4 113.6,725.0 113.8,728.4 113.9,722.4 114.0,729.1 114.1,724.4 114.2,727.4 114.3,727.6 114.4,720.6 114.5,723.2 114.6,726.5 114.7,723.1 114.9,728.5 115.0,726.2 115.1,730.3 115.2,726.5 115.3,725.5 115.4,728.3 115.5,729.3 115.6,726.6 115.7,727.4 115.8,727.7 116.0,725.7 116.1,724.4 116.2,727.5 116.3,725.8 116.4,723.8 116.5,727.9 116.6,733.3 116.7,731.2 116.8,728.4 116.9,728.5 117.1,735.7 117.2,733.4 117.3,729.4 117.4,728.0 117.5,729.4 117.6,728.3 117.7,729.0 117.8,724.7 117.9,728.3 118.0,729.6 118.2,727.9 118.3,726.2 118.4,727.6 118.5,723.4 118.6,725.0 118.7,729.8 118.8,722.8 118.9,723.8 119.0,727.7 119.1,725.0 119.3,725.2 119.4,724.3 119.5,729.7 119.6,725.5 119.7,726.2 119.8,723.4 119.9,728.4 120.0,727.0 120.1,728.1 120.2,730.2 120.4,727.5 120.5,725.0 120.6,725.3 120.7,727.4 120.8,729.7 120.9,724.9 121.0,734.3 121.1,732.7 121.2,732.9 121.3,728.8 121.5,730.2 121.6,730.4 121.7,728.2 121.8,727.6 121.9,728.6 122.0,728.1 122.1,731.5 122.2,726.3 122.3,735.5 122.4,731.1 122.6,728.1 122.7,728.2 122.8,726.1 122.9,727.4 123.0,729.3 123.1,722.7 123.2,724.5 123.3,728.1 123.4,725.9 123.5,727.9 123.7,723.9 123.8,734.5 123.9,727.9 124.0,729.9 124.1,731.9 124.2,732.0 124.3,732.2 124.4,728.6 124.5,726.7 124.6,727.4 124.8,726.2 124.9,731.9 125.0,731.1 125.1,735.2 125.2,738.3 125.3,730.6 125.4,732.9 125.5,729.2 125.6,726.6 125.7,730.0 125.9,726.4 126.0,730.4 126.1,726.0 126.2,733.7 126.3,731.0 126.4,730.8 126.5,728.3 126.6,730.2 126.7,729.1 126.8,727.5 127.0,726.7 127.1,730.3 127.2,724.9 127.3,725.1 127.4,727.2 127.5,725.6 127.6,722.4 127.7,725.1 127.8,724.6 127.9,731.2 128.1,731.7 128.2,727.9 128.3,728.5 128.4,726.1 128.5,730.6 128.6,726.7 128.7,727.8 128.8,727.3 128.9,727.9 129.0,726.2 129.2,727.8 129.3,726.6 129.4,721.7 129.5,726.9 129.6,723.9 129.7,728.2 129.8,726.8 129.9,725.6 130.0,728.8 130.1,727.9 130.3,728.5 130.4,729.0 130.5,726.2 130.6,732.0 130.7,728.5 130.8,727.0 130.9,724.9 131.0,725.8 131.1,725.7 131.2,725.0 131.4,732.2 131.5,732.2 131.6,726.0 131.7,728.7 131.8,729.5 131.9,724.1 132.0,725.8 132.1,724.9 132.2,723.1 132.4,726.8 132.5,724.2 132.6,726.8 132.7,725.3 132.8,723.9 132.9,725.0 133.0,723.7 133.1,721.3 133.2,727.1 133.3,725.2 133.5,726.7 133.6,721.2 133.7,726.7 133.8,726.4 133.9,724.8 134.0,720.9 134.1,725.2 134.2,723.9 134.3,724.8 134.4,725.4 134.6,723.6 134.7,725.1 134.8,729.1 134.9,731.0 135.0,727.4 135.1,731.6 135.2,724.5 135.3,726.1 135.4,728.4 135.5,722.9 135.7,726.8 135.8,726.1 135.9,724.1 136.0,724.6" stroke="#a6cbe6" stroke-width="0.6" fill="none" stroke-linejoin="round"/>
<rect x="25.20" y="770.00" width="109.80" height="11.00" fill="#d4666e" stroke="none" stroke-width="1"/>
<text x="77.50" y="780.00" font-size="9.8" text-anchor="middle" font-weight="bold" fill="#111">MP-28d</text>
<path d="M25.2,790.4 25.3,784.5 25.4,786.7 25.5,786.3 25.6,787.8 25.7,783.4 25.9,785.5 26.0,785.0 26.1,784.4 26.2,785.0 26.3,785.8 26.4,786.4 26.5,785.2 26.6,787.9 26.7,786.1 26.8,780.8 27.0,789.6 27.1,786.5 27.2,785.8 27.3,787.8 27.4,787.7 27.5,787.3 27.6,785.4 27.7,787.5 27.8,783.9 27.9,789.8 28.1,784.3 28.2,786.3 28.3,786.6 28.4,786.9 28.5,785.8 28.6,787.2 28.7,778.8 28.8,785.5 28.9,785.3 29.0,784.7 29.2,788.6 29.3,783.5 29.4,785.2 29.5,785.2 29.6,788.9 29.7,784.5 29.8,784.1 29.9,791.6 30.0,791.8 30.1,789.3 30.3,789.0 30.4,785.1 30.5,788.8 30.6,790.8 30.7,784.9 30.8,789.1 30.9,786.0 31.0,795.9 31.1,791.5 31.2,795.8 31.4,793.1 31.5,789.1 31.6,785.6 31.7,787.2 31.8,788.3 31.9,786.0 32.0,790.8 32.1,791.5 32.2,788.7 32.3,787.4 32.5,789.4 32.6,789.4 32.7,790.9 32.8,787.7 32.9,791.1 33.0,786.7 33.1,784.7 33.2,786.7 33.3,784.9 33.4,784.0 33.6,785.4 33.7,786.9 33.8,780.9 33.9,785.0 34.0,784.7 34.1,784.6 34.2,786.4 34.3,782.1 34.4,786.0 34.5,784.2 34.7,784.9 34.8,784.3 34.9,784.1 35.0,783.7 35.1,785.7 35.2,789.2 35.3,787.1 35.4,786.8 35.5,786.3 35.6,784.3 35.8,786.6 35.9,789.7 36.0,782.9 36.1,798.8 36.2,796.7 36.3,793.4 36.4,792.9 36.5,793.0 36.6,793.7 36.7,791.1 36.9,791.3 37.0,788.1 37.1,788.7 37.2,787.0 37.3,787.0 37.4,785.2 37.5,787.3 37.6,788.6 37.7,785.1 37.8,785.8 38.0,786.4 38.1,785.0 38.2,786.7 38.3,785.1 38.4,782.1 38.5,782.2 38.6,785.7 38.7,785.4 38.8,786.3 38.9,784.5 39.1,784.3 39.2,780.7 39.3,791.9 39.4,786.1 39.5,789.2 39.6,784.2 39.7,784.6 39.8,785.9 39.9,784.5 40.0,797.1 40.2,797.3 40.3,794.6 40.4,792.2 40.5,789.3 40.6,787.3 40.7,787.2 40.8,786.5 40.9,787.0 41.0,788.2 41.1,786.1 41.3,784.6 41.4,786.9 41.5,790.1 41.6,787.4 41.7,787.1 41.8,786.9 41.9,787.3 42.0,786.1 42.1,788.0 42.2,787.1 42.4,779.6 42.5,784.8 42.6,790.9 42.7,782.2 42.8,784.9 42.9,786.7 43.0,792.0 43.1,792.9 43.2,786.2 43.3,785.2 43.5,786.4 43.6,784.6 43.7,783.4 43.8,786.3 43.9,785.4 44.0,784.6 44.1,783.6 44.2,784.8 44.3,784.0 44.4,782.7 44.6,785.2 44.7,785.0 44.8,784.4 44.9,785.7 45.0,782.2 45.1,784.2 45.2,783.6 45.3,787.4 45.4,785.9 45.5,789.2 45.7,788.2 45.8,784.4 45.9,783.1 46.0,786.3 46.1,784.9 46.2,785.2 46.3,783.4 46.4,786.8 46.5,786.0 46.6,786.4 46.8,786.2 46.9,783.7 47.0,781.0 47.1,784.9 47.2,784.1 47.3,784.2 47.4,787.1 47.5,813.0 47.6,810.0 47.7,802.5 47.9,799.7 48.0,796.3 48.1,794.5 48.2,788.5 48.3,791.8 48.4,788.6 48.5,785.6 48.6,788.1 48.7,787.0 48.8,794.0 49.0,791.4 49.1,789.5 49.2,784.6 49.3,790.6 49.4,789.7 49.5,788.0 49.6,788.7 49.7,789.7 49.8,785.2 49.9,788.1 50.1,786.6 50.2,784.4 50.3,787.1 50.4,787.1 50.5,789.8 50.6,788.3 50.7,783.2 50.8,782.5 50.9,786.3 51.0,793.3 51.2,790.3 51.3,788.1 51.4,789.6 51.5,787.0 51.6,787.3 51.7,789.9 51.8,788.2 51.9,785.9 52.0,793.2 52.1,793.0 52.3,795.2 52.4,789.4 52.5,792.9 52.6,787.0 52.7,787.5 52.8,788.7 52.9,792.6 53.0,792.4 53.1,788.0 53.2,790.9 53.4,790.9 53.5,786.6 53.6,787.7 53.7,786.1 53.8,782.3 53.9,791.8 54.0,787.5 54.1,787.8 54.2,786.8 54.3,786.4 54.5,790.8 54.6,782.5 54.7,785.6 54.8,785.5 54.9,786.0 55.0,795.7 55.1,791.3 55.2,788.9 55.3,788.3 55.4,790.8 55.6,791.2 55.7,790.5 55.8,791.8 55.9,787.3 56.0,790.1 56.1,789.3 56.2,787.4 56.3,786.1 56.4,789.3 56.5,786.0 56.7,786.7 56.8,785.2 56.9,790.5 57.0,786.8 57.1,813.0 57.2,807.4 57.3,802.8 57.4,799.7 57.5,793.1 57.6,791.9 57.8,793.4 57.9,793.1 58.0,787.7 58.1,789.1 58.2,787.0 58.3,783.0 58.4,786.5 58.5,784.6 58.6,788.3 58.7,786.0 58.9,786.2 59.0,783.3 59.1,786.5 59.2,782.3 59.3,786.6 59.4,789.0 59.5,783.8 59.6,788.0 59.7,789.2 59.8,786.1 60.0,788.8 60.1,786.9 60.2,785.8 60.3,782.9 60.4,784.8 60.5,784.0 60.6,791.8 60.7,787.6 60.8,786.7 60.9,784.4 61.1,790.5 61.2,784.7 61.3,789.9 61.4,789.1 61.5,787.0 61.6,785.4 61.7,786.5 61.8,786.6 61.9,789.8 62.0,800.4 62.2,796.3 62.3,794.7 62.4,791.0 62.5,791.4 62.6,787.6 62.7,787.7 62.8,789.3 62.9,792.2 63.0,786.9 63.1,786.4 63.3,782.2 63.4,786.2 63.5,783.8 63.6,782.7 63.7,782.5 63.8,785.7 63.9,784.6 64.0,786.8 64.1,785.0 64.2,785.5 64.4,788.5 64.5,787.2 64.6,787.2 64.7,788.7 64.8,786.3 64.9,783.9 65.0,784.4 65.1,782.9 65.2,786.8 65.3,785.3 65.5,787.2 65.6,787.9 65.7,784.6 65.8,786.6 65.9,788.7 66.0,786.3 66.1,787.9 66.2,785.6 66.3,784.0 66.4,785.3 66.6,781.9 66.7,787.0 66.8,784.4 66.9,788.0 67.0,782.7 67.1,799.4 67.2,796.6 67.3,793.0 67.4,792.2 67.5,788.3 67.7,786.4 67.8,784.7 67.9,785.7 68.0,784.5 68.1,786.2 68.2,784.6 68.3,783.7 68.4,783.4 68.5,780.9 68.6,783.9 68.8,785.4 68.9,781.9 69.0,784.1 69.1,786.0 69.2,783.3 69.3,785.1 69.4,784.0 69.5,789.8 69.6,787.8 69.7,787.4 69.9,783.7 70.0,786.5 70.1,784.9 70.2,786.0 70.3,784.2 70.4,785.7 70.5,783.8 70.6,786.0 70.7,788.9 70.8,782.6 71.0,782.6 71.1,798.2 71.2,796.1 71.3,791.7 71.4,791.9 71.5,790.2 71.6,789.4 71.7,790.2 71.8,785.4 71.9,787.4 72.1,786.0 72.2,783.8 72.3,785.9 72.4,782.0 72.5,781.4 72.6,786.4 72.7,781.8 72.8,787.4 72.9,786.0 73.0,805.9 73.2,800.1 73.3,793.5 73.4,794.8 73.5,789.3 73.6,794.0 73.7,785.9 73.8,788.4 73.9,781.9 74.0,786.8 74.1,789.7 74.3,785.6 74.4,784.6 74.5,785.0 74.6,786.6 74.7,787.6 74.8,785.2 74.9,781.5 75.0,786.3 75.1,787.6 75.2,790.3 75.4,785.9 75.5,785.9 75.6,784.5 75.7,787.1 75.8,789.1 75.9,783.4 76.0,785.5 76.1,783.2 76.2,783.8 76.3,784.7 76.5,786.0 76.6,783.2 76.7,784.2 76.8,787.5 76.9,785.6 77.0,785.9 77.1,785.3 77.2,784.0 77.3,785.2 77.4,785.3 77.6,784.2 77.7,786.3 77.8,784.2 77.9,786.1 78.0,784.3 78.1,785.8 78.2,783.0 78.3,783.3 78.4,782.2 78.5,787.1 78.7,785.8 78.8,785.3 78.9,786.3 79.0,783.4 79.1,785.5 79.2,784.4 79.3,781.7 79.4,788.3 79.5,786.5 79.6,790.8 79.8,786.0 79.9,786.0 80.0,789.1 80.1,794.4 80.2,790.0 80.3,791.8 80.4,788.7 80.5,792.9 80.6,786.5 80.7,786.6 80.9,782.1 81.0,785.9 81.1,790.8 81.2,786.5 81.3,784.5 81.4,786.9 81.5,785.5 81.6,785.8 81.7,790.9 81.8,789.8 82.0,788.8 82.1,788.8 82.2,783.5 82.3,781.3 82.4,786.8 82.5,786.0 82.6,785.3 82.7,784.9 82.8,786.7 82.9,786.4 83.1,785.9 83.2,786.4 83.3,785.1 83.4,784.8 83.5,788.6 83.6,785.3 83.7,790.0 83.8,787.4 83.9,786.3 84.0,788.6 84.2,785.5 84.3,786.2 84.4,786.0 84.5,786.8 84.6,788.3 84.7,791.2 84.8,788.1 84.9,784.9 85.0,785.4 85.1,783.4 85.3,788.6 85.4,788.9 85.5,787.8 85.6,787.8 85.7,788.1 85.8,787.8 85.9,788.2 86.0,798.4 86.1,793.4 86.2,795.4 86.4,794.6 86.5,787.2 86.6,789.0 86.7,786.4 86.8,789.1 86.9,786.9 87.0,790.0 87.1,789.1 87.2,785.6 87.3,785.3 87.5,785.0 87.6,787.2 87.7,784.1 87.8,786.9 87.9,783.1 88.0,788.1 88.1,787.0 88.2,783.7 88.3,784.5 88.4,786.5 88.6,786.9 88.7,780.5 88.8,786.9 88.9,789.7 89.0,785.8 89.1,809.1 89.2,809.0 89.3,802.8 89.4,799.5 89.5,797.8 89.7,792.0 89.8,791.6 89.9,789.4 90.0,788.4 90.1,789.3 90.2,787.1 90.3,792.1 90.4,789.3 90.5,789.6 90.6,784.2 90.8,786.9 90.9,786.8 91.0,787.2 91.1,787.6 91.2,784.8 91.3,784.4 91.4,788.0 91.5,790.4 91.6,790.0 91.7,785.0 91.9,783.9 92.0,785.8 92.1,786.3 92.2,788.9 92.3,784.8 92.4,783.7 92.5,787.4 92.6,783.8 92.7,783.5 92.8,786.4 93.0,785.0 93.1,795.2 93.2,794.3 93.3,792.1 93.4,791.0 93.5,788.8 93.6,790.6 93.7,788.0 93.8,787.0 93.9,790.0 94.1,785.6 94.2,788.8 94.3,788.3 94.4,786.4 94.5,787.3 94.6,789.6 94.7,791.8 94.8,788.1 94.9,787.6 95.0,789.2 95.2,786.6 95.3,787.8 95.4,788.0 95.5,788.9 95.6,787.3 95.7,788.3 95.8,784.4 95.9,785.0 96.0,803.1 96.1,800.4 96.3,796.0 96.4,791.7 96.5,788.8 96.6,787.6 96.7,790.6 96.8,788.2 96.9,788.4 97.0,789.1 97.1,787.9 97.2,785.0 97.4,790.0 97.5,785.9 97.6,785.9 97.7,786.8 97.8,784.4 97.9,786.4 98.0,784.6 98.1,783.1 98.2,785.6 98.3,787.8 98.5,786.9 98.6,786.1 98.7,785.2 98.8,785.5 98.9,787.5 99.0,788.1 99.1,788.6 99.2,788.9 99.3,784.0 99.4,784.9 99.6,785.5 99.7,784.7 99.8,787.7 99.9,781.9 100.0,786.9 100.1,796.1 100.2,797.0 100.3,789.9 100.4,790.4 100.5,791.4 100.7,789.4 100.8,784.9 100.9,785.5 101.0,783.4 101.1,785.5 101.2,786.4 101.3,787.4 101.4,785.6 101.5,786.1 101.6,786.3 101.8,782.4 101.9,785.3 102.0,785.8 102.1,783.5 102.2,781.9 102.3,784.1 102.4,784.2 102.5,785.2 102.6,780.3 102.7,783.3 102.9,788.2 103.0,786.8 103.1,784.0 103.2,783.8 103.3,784.0 103.4,782.7 103.5,783.9 103.6,784.8 103.7,782.6 103.8,784.9 104.0,785.7 104.1,794.6 104.2,793.8 104.3,789.6 104.4,791.2 104.5,790.3 104.6,787.9 104.7,788.2 104.8,788.6 104.9,788.3 105.1,783.8 105.2,785.5 105.3,783.0 105.4,781.8 105.5,787.4 105.6,786.7 105.7,787.5 105.8,786.3 105.9,783.6 106.0,784.9 106.2,783.3 106.3,787.0 106.4,779.5 106.5,785.0 106.6,783.0 106.7,792.5 106.8,792.0 106.9,787.1 107.0,790.2 107.1,789.0 107.3,783.1 107.4,789.6 107.5,783.3 107.6,782.8 107.7,787.3 107.8,783.9 107.9,785.8 108.0,794.3 108.1,790.4 108.2,794.2 108.4,792.9 108.5,789.2 108.6,791.6 108.7,787.9 108.8,788.1 108.9,786.7 109.0,784.4 109.1,786.2 109.2,784.8 109.3,787.4 109.5,786.8 109.6,790.4 109.7,792.9 109.8,790.2 109.9,792.3 110.0,787.2 110.1,786.7 110.2,785.6 110.3,787.2 110.4,786.1 110.6,786.2 110.7,793.8 110.8,790.8 110.9,787.0 111.0,788.4 111.1,786.4 111.2,785.9 111.3,785.7 111.4,792.2 111.5,791.8 111.7,791.4 111.8,788.5 111.9,786.1 112.0,787.2 112.1,786.4 112.2,786.0 112.3,783.9 112.4,790.9 112.5,786.4 112.6,791.8 112.8,790.1 112.9,789.6 113.0,785.9 113.1,811.3 113.2,808.2 113.3,801.1 113.4,796.3 113.5,795.7 113.6,789.5 113.7,794.4 113.9,792.3 114.0,787.7 114.1,793.6 114.2,793.4 114.3,791.5 114.4,790.9 114.5,792.0 114.6,788.9 114.7,790.9 114.8,787.3 115.0,786.1 115.1,786.6 115.2,784.9 115.3,787.6 115.4,785.2 115.5,787.2 115.6,786.9 115.7,789.4 115.8,794.4 115.9,788.6 116.1,794.2 116.2,792.3 116.3,789.8 116.4,793.5 116.5,791.4 116.6,787.8 116.7,785.0 116.8,786.0 116.9,787.1 117.0,790.0 117.2,784.1 117.3,789.5 117.4,783.7 117.5,787.3 117.6,784.3 117.7,785.8 117.8,782.0 117.9,788.0 118.0,787.0 118.1,784.9 118.3,782.8 118.4,787.0 118.5,787.1 118.6,784.3 118.7,788.2 118.8,787.0 118.9,785.0 119.0,796.9 119.1,791.1 119.2,795.5 119.4,794.5 119.5,790.9 119.6,787.7 119.7,787.2 119.8,788.2 119.9,786.5 120.0,788.3 120.1,785.6 120.2,788.8 120.3,789.1 120.5,785.3 120.6,784.6 120.7,780.2 120.8,786.0 120.9,786.5 121.0,783.8 121.1,787.8 121.2,784.2 121.3,783.1 121.4,787.1 121.6,786.3 121.7,781.3 121.8,784.0 121.9,782.9 122.0,785.1 122.1,786.0 122.2,784.8 122.3,786.1 122.4,787.7 122.5,785.3 122.7,783.5 122.8,784.2 122.9,787.9 123.0,789.7 123.1,789.7 123.2,795.1 123.3,791.5 123.4,790.6 123.5,792.6 123.6,788.7 123.8,789.4 123.9,788.7 124.0,790.3 124.1,795.1 124.2,792.6 124.3,790.7 124.4,789.0 124.5,791.2 124.6,792.6 124.7,784.5 124.9,789.2 125.0,784.7 125.1,785.1 125.2,785.4 125.3,784.8 125.4,784.7 125.5,784.0 125.6,791.3 125.7,784.1 125.8,785.1 126.0,784.4 126.1,786.0 126.2,782.7 126.3,790.0 126.4,789.0 126.5,791.7 126.6,788.4 126.7,786.5 126.8,786.4 126.9,789.6 127.1,785.5 127.2,784.2 127.3,784.3 127.4,784.7 127.5,787.2 127.6,783.5 127.7,784.3 127.8,785.5 127.9,783.7 128.0,786.9 128.2,784.8 128.3,786.6 128.4,786.7 128.5,788.6 128.6,789.1 128.7,783.9 128.8,782.9 128.9,783.2 129.0,793.7 129.1,792.1 129.3,789.7 129.4,788.6 129.5,790.8 129.6,788.8 129.7,786.9 129.8,787.2 129.9,782.6 130.0,787.6 130.1,789.0 130.2,785.0 130.4,783.6 130.5,786.8 130.6,783.2 130.7,789.8 130.8,789.5 130.9,791.6 131.0,791.5 131.1,784.9 131.2,782.8 131.3,788.3 131.5,787.3 131.6,804.9 131.7,799.3 131.8,796.7 131.9,794.9 132.0,789.7 132.1,790.9 132.2,787.7 132.3,792.4 132.5,788.3 132.6,787.6 132.7,792.7 132.8,791.4 132.9,790.6 133.0,801.9 133.1,799.6 133.2,798.1 133.3,794.4 133.4,792.3 133.6,789.5 133.7,789.8 133.8,791.3 133.9,785.4 134.0,784.4 134.1,784.3 134.2,783.2 134.3,788.4 134.4,789.3 134.5,786.3 134.7,785.3 134.8,787.6 134.9,786.8 135.0,780.0" stroke="#d66d74" stroke-width="0.6" fill="none" stroke-linejoin="round"/>
<text x="20.50" y="741.50" font-size="10" text-anchor="middle" fill="#222" stroke="#222" stroke-width="0.2" transform="rotate(-90 20.50 741.50)">sEPSCs</text>
<path d="M119.2,752 L119.2,759 L135.5,759" stroke="#222" stroke-width="0.7" fill="none"/>
<text x="120.30" y="757.80" font-size="6.8" text-anchor="start" fill="#222" stroke="#222" stroke-width="0.2">10pA</text>
<text x="126.20" y="765.00" font-size="6.8" text-anchor="middle" fill="#222" stroke="#222" stroke-width="0.2">2s</text>
<text x="150.60" y="713.30" font-size="11.5" text-anchor="start" font-weight="bold" fill="#000">q</text>
<rect x="190.10" y="742.13" width="15.40" height="52.27" fill="#a9cbe6" stroke="#333" stroke-width="0.8"/>
<line x1="197.80" y1="742.13" x2="197.80" y2="739.36" stroke="#333" stroke-width="0.8"/>
<line x1="194.80" y1="739.36" x2="200.80" y2="739.36" stroke="#333" stroke-width="0.8"/>
<circle cx="192.8" cy="731.0" r="1.60" fill="#2f619c"/>
<circle cx="202.8" cy="731.0" r="1.60" fill="#2f619c"/>
<circle cx="197.8" cy="738.2" r="1.60" fill="#2f619c"/>
<circle cx="191.8" cy="744.9" r="1.60" fill="#2f619c"/>
<circle cx="197.8" cy="744.5" r="1.60" fill="#2f619c"/>
<circle cx="203.8" cy="743.7" r="1.60" fill="#2f619c"/>
<circle cx="191.8" cy="750.0" r="1.60" fill="#2f619c"/>
<circle cx="197.8" cy="749.3" r="1.60" fill="#2f619c"/>
<circle cx="203.8" cy="748.5" r="1.60" fill="#2f619c"/>
<rect x="213.20" y="755.20" width="14.80" height="39.20" fill="#cd6a72" stroke="#333" stroke-width="0.8"/>
<line x1="220.60" y1="755.20" x2="220.60" y2="753.22" stroke="#333" stroke-width="0.8"/>
<line x1="217.60" y1="753.22" x2="223.60" y2="753.22" stroke="#333" stroke-width="0.8"/>
<circle cx="220.6" cy="745.7" r="1.60" fill="#d8475e"/>
<circle cx="216.6" cy="750.4" r="1.60" fill="#d8475e"/>
<circle cx="224.6" cy="750.4" r="1.60" fill="#d8475e"/>
<circle cx="214.6" cy="756.8" r="1.60" fill="#d8475e"/>
<circle cx="218.6" cy="757.2" r="1.60" fill="#d8475e"/>
<circle cx="224.6" cy="757.2" r="1.60" fill="#d8475e"/>
<circle cx="216.6" cy="761.1" r="1.60" fill="#d8475e"/>
<circle cx="223.6" cy="760.7" r="1.60" fill="#d8475e"/>
<line x1="182.60" y1="794.40" x2="182.60" y2="715.20" stroke="#333" stroke-width="0.8"/>
<line x1="180.10" y1="794.40" x2="182.60" y2="794.40" stroke="#333" stroke-width="0.8"/>
<text x="179.10" y="796.80" font-size="6.8" text-anchor="end" fill="#222" stroke="#222" stroke-width="0.2">0</text>
<line x1="180.10" y1="774.60" x2="182.60" y2="774.60" stroke="#333" stroke-width="0.8"/>
<text x="179.10" y="777.00" font-size="6.8" text-anchor="end" fill="#222" stroke="#222" stroke-width="0.2">0.5</text>
<line x1="180.10" y1="754.80" x2="182.60" y2="754.80" stroke="#333" stroke-width="0.8"/>
<text x="179.10" y="757.20" font-size="6.8" text-anchor="end" fill="#222" stroke="#222" stroke-width="0.2">1.0</text>
<line x1="180.10" y1="735.00" x2="182.60" y2="735.00" stroke="#333" stroke-width="0.8"/>
<text x="179.10" y="737.40" font-size="6.8" text-anchor="end" fill="#222" stroke="#222" stroke-width="0.2">1.5</text>
<line x1="180.10" y1="715.20" x2="182.60" y2="715.20" stroke="#333" stroke-width="0.8"/>
<text x="179.10" y="717.60" font-size="6.8" text-anchor="end" fill="#222" stroke="#222" stroke-width="0.2">2.0</text>
<line x1="182.60" y1="794.40" x2="236.40" y2="794.40" stroke="#333" stroke-width="0.8"/>
<line x1="197.80" y1="794.40" x2="197.80" y2="796.90" stroke="#333" stroke-width="0.8"/>
<line x1="220.60" y1="794.40" x2="220.60" y2="796.90" stroke="#333" stroke-width="0.8"/>
<line x1="197.80" y1="721.30" x2="220.60" y2="721.30" stroke="#333" stroke-width="0.8"/>
<text x="209.20" y="724.14" font-size="12" text-anchor="middle" fill="#222" stroke="#222" stroke-width="0.2">**</text>
<text x="193.70" y="805.30" font-size="6.6" text-anchor="middle" fill="#222" stroke="#222" stroke-width="0.2">Sham-28d</text>
<text x="222.80" y="805.30" font-size="6.6" text-anchor="middle" fill="#222" stroke="#222" stroke-width="0.2">MP-28d</text>
<text x="165.80" y="754.80" font-size="6.8" text-anchor="middle" fill="#222" stroke="#222" stroke-width="0.2" transform="rotate(-90 165.80 754.80)">Frequency (Hz) of sEPSCs</text>
<text x="242.00" y="713.30" font-size="11.5" text-anchor="start" font-weight="bold" fill="#000">r</text>
<rect x="281.40" y="728.99" width="14.00" height="66.22" fill="#a9cbe6" stroke="#333" stroke-width="0.8"/>
<line x1="288.40" y1="728.99" x2="288.40" y2="727.12" stroke="#333" stroke-width="0.8"/>
<line x1="285.40" y1="727.12" x2="291.40" y2="727.12" stroke="#333" stroke-width="0.8"/>
<circle cx="283.4" cy="722.0" r="1.60" fill="#2f619c"/>
<circle cx="292.4" cy="724.3" r="1.60" fill="#2f619c"/>
<circle cx="287.4" cy="725.1" r="1.60" fill="#2f619c"/>
<circle cx="282.4" cy="729.8" r="1.60" fill="#2f619c"/>
<circle cx="288.4" cy="731.3" r="1.60" fill="#2f619c"/>
<circle cx="294.4" cy="730.5" r="1.60" fill="#2f619c"/>
<circle cx="285.4" cy="734.4" r="1.60" fill="#2f619c"/>
<circle cx="290.4" cy="736.0" r="1.60" fill="#2f619c"/>
<circle cx="288.4" cy="736.8" r="1.60" fill="#2f619c"/>
<rect x="303.40" y="739.11" width="14.20" height="56.09" fill="#cd6a72" stroke="#333" stroke-width="0.8"/>
<line x1="310.50" y1="739.11" x2="310.50" y2="737.24" stroke="#333" stroke-width="0.8"/>
<line x1="307.50" y1="737.24" x2="313.50" y2="737.24" stroke="#333" stroke-width="0.8"/>
<circle cx="310.5" cy="728.2" r="1.60" fill="#d8475e"/>
<circle cx="307.5" cy="735.2" r="1.60" fill="#d8475e"/>
<circle cx="314.5" cy="737.6" r="1.60" fill="#d8475e"/>
<circle cx="305.5" cy="739.1" r="1.60" fill="#d8475e"/>
<circle cx="311.5" cy="740.7" r="1.60" fill="#d8475e"/>
<circle cx="315.5" cy="740.7" r="1.60" fill="#d8475e"/>
<circle cx="308.5" cy="743.8" r="1.60" fill="#d8475e"/>
<circle cx="312.5" cy="746.1" r="1.60" fill="#d8475e"/>
<line x1="273.70" y1="795.20" x2="273.70" y2="717.30" stroke="#333" stroke-width="0.8"/>
<line x1="271.20" y1="795.20" x2="273.70" y2="795.20" stroke="#333" stroke-width="0.8"/>
<text x="270.20" y="797.60" font-size="6.8" text-anchor="end" fill="#222" stroke="#222" stroke-width="0.2">0</text>
<line x1="271.20" y1="779.62" x2="273.70" y2="779.62" stroke="#333" stroke-width="0.8"/>
<text x="270.20" y="782.02" font-size="6.8" text-anchor="end" fill="#222" stroke="#222" stroke-width="0.2">10</text>
<line x1="271.20" y1="764.04" x2="273.70" y2="764.04" stroke="#333" stroke-width="0.8"/>
<text x="270.20" y="766.44" font-size="6.8" text-anchor="end" fill="#222" stroke="#222" stroke-width="0.2">20</text>
<line x1="271.20" y1="748.46" x2="273.70" y2="748.46" stroke="#333" stroke-width="0.8"/>
<text x="270.20" y="750.86" font-size="6.8" text-anchor="end" fill="#222" stroke="#222" stroke-width="0.2">30</text>
<line x1="271.20" y1="732.88" x2="273.70" y2="732.88" stroke="#333" stroke-width="0.8"/>
<text x="270.20" y="735.28" font-size="6.8" text-anchor="end" fill="#222" stroke="#222" stroke-width="0.2">40</text>
<line x1="271.20" y1="717.30" x2="273.70" y2="717.30" stroke="#333" stroke-width="0.8"/>
<text x="270.20" y="719.70" font-size="6.8" text-anchor="end" fill="#222" stroke="#222" stroke-width="0.2">50</text>
<line x1="273.70" y1="795.20" x2="325.10" y2="795.20" stroke="#333" stroke-width="0.8"/>
<line x1="288.40" y1="795.20" x2="288.40" y2="797.70" stroke="#333" stroke-width="0.8"/>
<line x1="310.50" y1="795.20" x2="310.50" y2="797.70" stroke="#333" stroke-width="0.8"/>
<line x1="288.20" y1="712.20" x2="310.70" y2="712.20" stroke="#333" stroke-width="0.8"/>
<text x="299.45" y="715.54" font-size="12" text-anchor="middle" fill="#222" stroke="#222" stroke-width="0.2">**</text>
<text x="286.20" y="804.00" font-size="6.6" text-anchor="middle" fill="#222" stroke="#222" stroke-width="0.2">Sham-28d</text>
<text x="315.40" y="804.00" font-size="6.6" text-anchor="middle" fill="#222" stroke="#222" stroke-width="0.2">MP-28d</text>
<text x="256.90" y="756.25" font-size="6.8" text-anchor="middle" fill="#222" stroke="#222" stroke-width="0.2" transform="rotate(-90 256.90 756.25)">Amplitude (pA) of sEPSCs</text>
<text x="331.20" y="713.30" font-size="11.5" text-anchor="start" font-weight="bold" fill="#000">s</text>
<text x="341.20" y="738.00" font-size="8.8" text-anchor="middle" fill="#a9cde6" stroke="#a9cde6" stroke-width="0.2" transform="rotate(-90 341.20 738.00)">Sham-28d</text>
<text x="341.20" y="783.00" font-size="8.8" text-anchor="middle" fill="#d4666e" stroke="#d4666e" stroke-width="0.2" transform="rotate(-90 341.20 783.00)">MP-28d</text>
<rect x="343.4" y="720.8" width="73.10000000000002" height="42.200000000000045" fill="#000"/>
<rect x="343.4" y="720.8" width="73.10000000000002" height="42.200000000000045" fill="#000" filter="url(#fmag1)"/>
<rect x="418.8" y="720.8" width="73.5" height="42.200000000000045" fill="#000"/>
<rect x="418.8" y="720.8" width="73.5" height="42.200000000000045" fill="#000" filter="url(#fgrn1)"/>
<rect x="495" y="720.8" width="73.29999999999995" height="42.200000000000045" fill="#000"/>
<rect x="495" y="720.8" width="73.29999999999995" height="42.200000000000045" fill="#000" filter="url(#fmag2)"/>
<rect x="343.4" y="765.9" width="73.10000000000002" height="41.700000000000045" fill="#000"/>
<rect x="343.4" y="765.9" width="73.10000000000002" height="41.700000000000045" fill="#000" filter="url(#fmag3)"/>
<rect x="418.8" y="765.9" width="73.5" height="41.700000000000045" fill="#000"/>
<rect x="418.8" y="765.9" width="73.5" height="41.700000000000045" fill="#000" filter="url(#fgrn2)"/>
<rect x="495" y="765.9" width="73.29999999999995" height="41.700000000000045" fill="#000"/>
<rect x="495" y="765.9" width="73.29999999999995" height="41.700000000000045" fill="#000" filter="url(#fmag4)"/>
<rect x="343.4" y="720.8" width="73.1" height="42.2" fill="#000" filter="url(#fgrnm)"/>
<text x="348.00" y="727.50" font-size="5.5" text-anchor="start" fill="#6a8a4a" stroke="#6a8a4a" stroke-width="0.2" opacity="0.8">VgluT2/SYN</text>
<text x="424.00" y="727.50" font-size="5.5" text-anchor="start" fill="#5a8a3a" stroke="#5a8a3a" stroke-width="0.2" opacity="0.8">VgluT2</text>
<text x="500.00" y="727.50" font-size="5.5" text-anchor="start" fill="#8a4a8a" stroke="#8a4a8a" stroke-width="0.2" opacity="0.8">SYN</text>
<line x1="346.50" y1="759.50" x2="352.50" y2="759.50" stroke="#fff" stroke-width="1"/>
<text x="564.50" y="714.50" font-size="11.5" text-anchor="start" font-weight="bold" fill="#000">t</text>
<rect x="622.00" y="747.15" width="19.80" height="52.35" fill="#a9cbe6" stroke="#333" stroke-width="0.8"/>
<line x1="631.90" y1="747.15" x2="631.90" y2="745.51" stroke="#333" stroke-width="0.8"/>
<line x1="628.90" y1="745.51" x2="634.90" y2="745.51" stroke="#333" stroke-width="0.8"/>
<circle cx="625.9" cy="750.4" r="1.60" fill="#2f619c"/>
<circle cx="628.9" cy="751.2" r="1.60" fill="#2f619c"/>
<circle cx="631.9" cy="750.4" r="1.60" fill="#2f619c"/>
<circle cx="634.9" cy="751.2" r="1.60" fill="#2f619c"/>
<circle cx="637.9" cy="750.4" r="1.60" fill="#2f619c"/>
<circle cx="624.9" cy="748.8" r="1.60" fill="#2f619c"/>
<circle cx="627.9" cy="749.6" r="1.60" fill="#2f619c"/>
<circle cx="630.9" cy="748.8" r="1.60" fill="#2f619c"/>
<circle cx="633.9" cy="749.6" r="1.60" fill="#2f619c"/>
<circle cx="636.9" cy="748.8" r="1.60" fill="#2f619c"/>
<circle cx="639.9" cy="750.4" r="1.60" fill="#2f619c"/>
<circle cx="626.9" cy="752.1" r="1.60" fill="#2f619c"/>
<circle cx="631.9" cy="752.9" r="1.60" fill="#2f619c"/>
<circle cx="636.9" cy="752.1" r="1.60" fill="#2f619c"/>
<circle cx="629.9" cy="742.2" r="1.60" fill="#2f619c"/>
<circle cx="633.9" cy="740.6" r="1.60" fill="#2f619c"/>
<circle cx="625.9" cy="747.1" r="1.60" fill="#2f619c"/>
<circle cx="637.9" cy="747.1" r="1.60" fill="#2f619c"/>
<circle cx="631.9" cy="734.9" r="1.60" fill="#2f619c"/>
<circle cx="628.9" cy="739.0" r="1.60" fill="#2f619c"/>
<circle cx="634.9" cy="743.9" r="1.60" fill="#2f619c"/>
<circle cx="630.9" cy="745.5" r="1.60" fill="#2f619c"/>
<circle cx="632.9" cy="746.3" r="1.60" fill="#2f619c"/>
<circle cx="623.9" cy="751.2" r="1.60" fill="#2f619c"/>
<circle cx="639.9" cy="751.2" r="1.60" fill="#2f619c"/>
<rect x="651.20" y="762.69" width="19.60" height="36.81" fill="#cd6a72" stroke="#333" stroke-width="0.8"/>
<line x1="661.00" y1="762.69" x2="661.00" y2="761.87" stroke="#333" stroke-width="0.8"/>
<line x1="658.00" y1="761.87" x2="664.00" y2="761.87" stroke="#333" stroke-width="0.8"/>
<circle cx="653.0" cy="761.9" r="1.60" fill="#d8475e"/>
<circle cx="656.0" cy="762.7" r="1.60" fill="#d8475e"/>
<circle cx="659.0" cy="761.9" r="1.60" fill="#d8475e"/>
<circle cx="662.0" cy="763.5" r="1.60" fill="#d8475e"/>
<circle cx="665.0" cy="762.7" r="1.60" fill="#d8475e"/>
<circle cx="668.0" cy="761.9" r="1.60" fill="#d8475e"/>
<circle cx="654.0" cy="764.3" r="1.60" fill="#d8475e"/>
<circle cx="657.0" cy="763.5" r="1.60" fill="#d8475e"/>
<circle cx="660.0" cy="761.1" r="1.60" fill="#d8475e"/>
<circle cx="663.0" cy="762.7" r="1.60" fill="#d8475e"/>
<circle cx="666.0" cy="764.3" r="1.60" fill="#d8475e"/>
<circle cx="669.0" cy="763.5" r="1.60" fill="#d8475e"/>
<circle cx="655.0" cy="760.2" r="1.60" fill="#d8475e"/>
<circle cx="658.0" cy="765.1" r="1.60" fill="#d8475e"/>
<circle cx="661.0" cy="761.9" r="1.60" fill="#d8475e"/>
<circle cx="664.0" cy="763.5" r="1.60" fill="#d8475e"/>
<circle cx="667.0" cy="761.1" r="1.60" fill="#d8475e"/>
<line x1="612.90" y1="799.50" x2="612.90" y2="717.70" stroke="#333" stroke-width="0.8"/>
<line x1="610.40" y1="799.50" x2="612.90" y2="799.50" stroke="#333" stroke-width="0.8"/>
<text x="609.40" y="802.30" font-size="8" text-anchor="end" fill="#222" stroke="#222" stroke-width="0.2">0</text>
<line x1="610.40" y1="783.14" x2="612.90" y2="783.14" stroke="#333" stroke-width="0.8"/>
<text x="605.80" y="785.94" font-size="8" text-anchor="end" fill="#222" stroke="#222" stroke-width="0.2">1×10</text>
<text x="606.00" y="782.34" font-size="4.8" text-anchor="start" fill="#222" stroke="#222" stroke-width="0.2">4</text>
<line x1="610.40" y1="766.78" x2="612.90" y2="766.78" stroke="#333" stroke-width="0.8"/>
<text x="605.80" y="769.58" font-size="8" text-anchor="end" fill="#222" stroke="#222" stroke-width="0.2">2×10</text>
<text x="606.00" y="765.98" font-size="4.8" text-anchor="start" fill="#222" stroke="#222" stroke-width="0.2">4</text>
<line x1="610.40" y1="750.42" x2="612.90" y2="750.42" stroke="#333" stroke-width="0.8"/>
<text x="605.80" y="753.22" font-size="8" text-anchor="end" fill="#222" stroke="#222" stroke-width="0.2">3×10</text>
<text x="606.00" y="749.62" font-size="4.8" text-anchor="start" fill="#222" stroke="#222" stroke-width="0.2">4</text>
<line x1="610.40" y1="734.06" x2="612.90" y2="734.06" stroke="#333" stroke-width="0.8"/>
<text x="605.80" y="736.86" font-size="8" text-anchor="end" fill="#222" stroke="#222" stroke-width="0.2">4×10</text>
<text x="606.00" y="733.26" font-size="4.8" text-anchor="start" fill="#222" stroke="#222" stroke-width="0.2">4</text>
<line x1="610.40" y1="717.70" x2="612.90" y2="717.70" stroke="#333" stroke-width="0.8"/>
<text x="605.80" y="720.50" font-size="8" text-anchor="end" fill="#222" stroke="#222" stroke-width="0.2">5×10</text>
<text x="606.00" y="716.90" font-size="4.8" text-anchor="start" fill="#222" stroke="#222" stroke-width="0.2">4</text>
<line x1="612.90" y1="799.50" x2="681.90" y2="799.50" stroke="#333" stroke-width="0.8"/>
<line x1="631.90" y1="799.50" x2="631.90" y2="802.00" stroke="#333" stroke-width="0.8"/>
<line x1="661.00" y1="799.50" x2="661.00" y2="802.00" stroke="#333" stroke-width="0.8"/>
<line x1="631.50" y1="725.20" x2="661.30" y2="725.20" stroke="#333" stroke-width="0.8"/>
<text x="646.40" y="725.84" font-size="12" text-anchor="middle" fill="#222" stroke="#222" stroke-width="0.2">****</text>
<text x="627.20" y="808.00" font-size="7" text-anchor="middle" fill="#222" stroke="#222" stroke-width="0.2">Sham-28d</text>
<text x="663.60" y="808.00" font-size="7" text-anchor="middle" fill="#222" stroke="#222" stroke-width="0.2">MP-28d</text>
<text x="575.80" y="756.00" font-size="7.2" text-anchor="middle" fill="#222" stroke="#222" stroke-width="0.2" transform="rotate(-90 575.80 756.00)">Number of  VgluT2</text>
<text x="580.60" y="756.00" font-size="7.2" text-anchor="middle" fill="#222" stroke="#222" stroke-width="0.2" transform="rotate(-90 580.60 756.00)">synapse  / per mm</text>
<text x="572.20" y="722.00" font-size="5.5" text-anchor="middle" fill="#222" stroke="#222" stroke-width="0.2" transform="rotate(-90 572.20 722.00)">+</text>
<text x="576.80" y="725.00" font-size="5.2" text-anchor="middle" fill="#222" stroke="#222" stroke-width="0.2" transform="rotate(-90 576.80 725.00)">2</text>
<text x="2.00" y="843.50" font-size="11.5" text-anchor="start" font-weight="bold" fill="#000">u</text>
<text x="77.70" y="841.20" font-size="7" text-anchor="middle" fill="#c8262c" stroke="#c8262c" stroke-width="0.2">AAV2/9-CamKIIa-oChIEF-tdTomato</text>
<line x1="51.50" y1="883.50" x2="17.50" y2="952.50" stroke="#7d9fd6" stroke-width="0.6"/>
<line x1="70.50" y1="879.00" x2="137.50" y2="952.50" stroke="#7d9fd6" stroke-width="0.6"/>
<path d="M61,868 Q66,864 74,866 Q78,871 76,878 Q70,881 63,879 Q59,874 61,868 Z" fill="#ecb48a"/>
<path d="M27,897 Q34,886 46,874 Q56,864 66,861 Q74,858 82,858" stroke="#222" stroke-width="0.8" fill="none"/>
<path d="M57,858 Q63,850 76,849" stroke="#222" stroke-width="0.7" fill="none"/>
<path d="M28,899 Q36,906 52,910 Q66,914 78,917" stroke="#222" stroke-width="0.8" fill="none"/>
<path d="M80,866 Q78,856 88,854.5 Q100,854 100.5,864 Q100,878 90,878.5 Q81,877 80,866 Z" fill="#fff" stroke="#222" stroke-width="0.8"/>
<ellipse cx="90.3" cy="867.5" rx="7.2" ry="9.3" fill="#ecb48a"/>
<path d="M100,866 Q106,870 112,874.6" stroke="#222" stroke-width="0.8" fill="none"/>
<ellipse cx="29.5" cy="897.5" rx="2.2" ry="1.8" fill="#f0b090"/>
<ellipse cx="55.8" cy="882.4" rx="4.2" ry="3" fill="#111" transform="rotate(-20 55.8 882.4)"/>
<circle cx="57.0" cy="881.2" r="0.90" fill="#fff"/>
<path d="M33,894 L20,883" stroke="#333" stroke-width="0.5" fill="none"/>
<path d="M33,896 L18,889" stroke="#333" stroke-width="0.5" fill="none"/>
<path d="M34,898 L22,893" stroke="#333" stroke-width="0.5" fill="none"/>
<path d="M38,896 L64,903" stroke="#333" stroke-width="0.5" fill="none"/>
<path d="M38,898 L58,909" stroke="#333" stroke-width="0.5" fill="none"/>
<path d="M37,899 L44,914" stroke="#333" stroke-width="0.5" fill="none"/>
<path d="M39,897 L70,902" stroke="#333" stroke-width="0.5" fill="none"/>
<path d="M36,900 L52,912" stroke="#333" stroke-width="0.5" fill="none"/>
<ellipse cx="53.5" cy="866" rx="3.6" ry="3.1" fill="#333"/>
<path d="M58.5,858 L60,869" stroke="#4a78c8" stroke-width="1.0" fill="none"/>
<path d="M57,866 L61,872" stroke="#9ab" stroke-width="1.4" fill="none"/>
<rect x="69.8" y="845.8" width="4" height="9.4" fill="#d32f2f" stroke="#222" stroke-width="0.6"/>
<path d="M71.8,842.5 L71.8,845.8 M70,842.5 L73.6,842.5 M71.8,855.2 L71.8,870" stroke="#222" stroke-width="0.6" fill="none"/>
<path d="M62,872 Q67,867 75,868" stroke="#c62828" stroke-width="0.9" fill="none"/>
<path d="M64,874 Q69,869 75,871" stroke="#2a5ab8" stroke-width="0.8" fill="none"/>
<text x="46.50" y="856.80" font-size="6.8" text-anchor="start" font-weight="bold" fill="#4a78c8">473nm</text>
<text x="34.20" y="876.20" font-size="6.9" text-anchor="start" fill="#222" stroke="#222" stroke-width="0.2">dmPFC</text>
<text x="71.20" y="876.20" font-size="6.9" text-anchor="start" fill="#222" stroke="#222" stroke-width="0.2">MDT</text>
<text x="77.70" y="932.80" font-size="7.1" text-anchor="middle" fill="#222" stroke="#222" stroke-width="0.2">8×stimulus</text>
<line x1="36.10" y1="941.50" x2="116.00" y2="941.50" stroke="#5577bb" stroke-width="0.7"/>
<line x1="38.30" y1="937.20" x2="38.30" y2="941.50" stroke="#5577bb" stroke-width="0.7"/>
<line x1="49.30" y1="937.20" x2="49.30" y2="941.50" stroke="#5577bb" stroke-width="0.7"/>
<line x1="59.60" y1="937.20" x2="59.60" y2="941.50" stroke="#5577bb" stroke-width="0.7"/>
<line x1="70.00" y1="937.20" x2="70.00" y2="941.50" stroke="#5577bb" stroke-width="0.7"/>
<line x1="81.00" y1="937.20" x2="81.00" y2="941.50" stroke="#5577bb" stroke-width="0.7"/>
<line x1="92.00" y1="937.20" x2="92.00" y2="941.50" stroke="#5577bb" stroke-width="0.7"/>
<line x1="102.90" y1="937.20" x2="102.90" y2="941.50" stroke="#5577bb" stroke-width="0.7"/>
<line x1="113.40" y1="937.20" x2="113.40" y2="941.50" stroke="#5577bb" stroke-width="0.7"/>
<text x="38.30" y="949.20" font-size="7.2" text-anchor="middle" fill="#222" stroke="#222" stroke-width="0.2">0</text>
<text x="49.30" y="949.20" font-size="7.2" text-anchor="middle" fill="#222" stroke="#222" stroke-width="0.2">20</text>
<text x="59.60" y="949.20" font-size="7.2" text-anchor="middle" fill="#222" stroke="#222" stroke-width="0.2">40</text>
<text x="70.00" y="949.20" font-size="7.2" text-anchor="middle" fill="#222" stroke="#222" stroke-width="0.2">60</text>
<text x="81.00" y="949.20" font-size="7.2" text-anchor="middle" fill="#222" stroke="#222" stroke-width="0.2">80</text>
<text x="92.00" y="949.20" font-size="7.2" text-anchor="middle" fill="#222" stroke="#222" stroke-width="0.2">100</text>
<text x="102.90" y="949.20" font-size="7.2" text-anchor="middle" fill="#222" stroke="#222" stroke-width="0.2">120</text>
<text x="113.40" y="949.20" font-size="7.2" text-anchor="middle" fill="#222" stroke="#222" stroke-width="0.2">140</text>
<rect x="17.50" y="952.50" width="120.00" height="16.80" fill="#fff" stroke="#2c3e66" stroke-width="0.9"/>
<text x="77.50" y="958.90" font-size="5.3" text-anchor="middle" fill="#222" stroke="#222" stroke-width="0.2">One burst: 150 pulses at 150 Hz, 2 ms each</text>
<rect x="21.90" y="961.20" width="108.40" height="4.40" fill="#5c8fd6" stroke="none" stroke-width="1"/>
<line x1="22.50" y1="961.20" x2="22.50" y2="965.60" stroke="#c8d8f0" stroke-width="0.35"/>
<line x1="24.30" y1="961.20" x2="24.30" y2="965.60" stroke="#c8d8f0" stroke-width="0.35"/>
<line x1="26.10" y1="961.20" x2="26.10" y2="965.60" stroke="#c8d8f0" stroke-width="0.35"/>
<line x1="27.90" y1="961.20" x2="27.90" y2="965.60" stroke="#c8d8f0" stroke-width="0.35"/>
<line x1="29.70" y1="961.20" x2="29.70" y2="965.60" stroke="#c8d8f0" stroke-width="0.35"/>
<line x1="31.50" y1="961.20" x2="31.50" y2="965.60" stroke="#c8d8f0" stroke-width="0.35"/>
<line x1="33.30" y1="961.20" x2="33.30" y2="965.60" stroke="#c8d8f0" stroke-width="0.35"/>
<line x1="35.10" y1="961.20" x2="35.10" y2="965.60" stroke="#c8d8f0" stroke-width="0.35"/>
<line x1="36.90" y1="961.20" x2="36.90" y2="965.60" stroke="#c8d8f0" stroke-width="0.35"/>
<line x1="38.70" y1="961.20" x2="38.70" y2="965.60" stroke="#c8d8f0" stroke-width="0.35"/>
<line x1="40.50" y1="961.20" x2="40.50" y2="965.60" stroke="#c8d8f0" stroke-width="0.35"/>
<line x1="42.30" y1="961.20" x2="42.30" y2="965.60" stroke="#c8d8f0" stroke-width="0.35"/>
<line x1="44.10" y1="961.20" x2="44.10" y2="965.60" stroke="#c8d8f0" stroke-width="0.35"/>
<line x1="45.90" y1="961.20" x2="45.90" y2="965.60" stroke="#c8d8f0" stroke-width="0.35"/>
<line x1="47.70" y1="961.20" x2="47.70" y2="965.60" stroke="#c8d8f0" stroke-width="0.35"/>
<line x1="49.50" y1="961.20" x2="49.50" y2="965.60" stroke="#c8d8f0" stroke-width="0.35"/>
<line x1="51.30" y1="961.20" x2="51.30" y2="965.60" stroke="#c8d8f0" stroke-width="0.35"/>
<line x1="53.10" y1="961.20" x2="53.10" y2="965.60" stroke="#c8d8f0" stroke-width="0.35"/>
<line x1="54.90" y1="961.20" x2="54.90" y2="965.60" stroke="#c8d8f0" stroke-width="0.35"/>
<line x1="56.70" y1="961.20" x2="56.70" y2="965.60" stroke="#c8d8f0" stroke-width="0.35"/>
<line x1="58.50" y1="961.20" x2="58.50" y2="965.60" stroke="#c8d8f0" stroke-width="0.35"/>
<line x1="60.30" y1="961.20" x2="60.30" y2="965.60" stroke="#c8d8f0" stroke-width="0.35"/>
<line x1="62.10" y1="961.20" x2="62.10" y2="965.60" stroke="#c8d8f0" stroke-width="0.35"/>
<line x1="63.90" y1="961.20" x2="63.90" y2="965.60" stroke="#c8d8f0" stroke-width="0.35"/>
<line x1="65.70" y1="961.20" x2="65.70" y2="965.60" stroke="#c8d8f0" stroke-width="0.35"/>
<line x1="67.50" y1="961.20" x2="67.50" y2="965.60" stroke="#c8d8f0" stroke-width="0.35"/>
<line x1="69.30" y1="961.20" x2="69.30" y2="965.60" stroke="#c8d8f0" stroke-width="0.35"/>
<line x1="71.10" y1="961.20" x2="71.10" y2="965.60" stroke="#c8d8f0" stroke-width="0.35"/>
<line x1="72.90" y1="961.20" x2="72.90" y2="965.60" stroke="#c8d8f0" stroke-width="0.35"/>
<line x1="74.70" y1="961.20" x2="74.70" y2="965.60" stroke="#c8d8f0" stroke-width="0.35"/>
<line x1="76.50" y1="961.20" x2="76.50" y2="965.60" stroke="#c8d8f0" stroke-width="0.35"/>
<line x1="78.30" y1="961.20" x2="78.30" y2="965.60" stroke="#c8d8f0" stroke-width="0.35"/>
<line x1="80.10" y1="961.20" x2="80.10" y2="965.60" stroke="#c8d8f0" stroke-width="0.35"/>
<line x1="81.90" y1="961.20" x2="81.90" y2="965.60" stroke="#c8d8f0" stroke-width="0.35"/>
<line x1="83.70" y1="961.20" x2="83.70" y2="965.60" stroke="#c8d8f0" stroke-width="0.35"/>
<line x1="85.50" y1="961.20" x2="85.50" y2="965.60" stroke="#c8d8f0" stroke-width="0.35"/>
<line x1="87.30" y1="961.20" x2="87.30" y2="965.60" stroke="#c8d8f0" stroke-width="0.35"/>
<line x1="89.10" y1="961.20" x2="89.10" y2="965.60" stroke="#c8d8f0" stroke-width="0.35"/>
<line x1="90.90" y1="961.20" x2="90.90" y2="965.60" stroke="#c8d8f0" stroke-width="0.35"/>
<line x1="92.70" y1="961.20" x2="92.70" y2="965.60" stroke="#c8d8f0" stroke-width="0.35"/>
<line x1="94.50" y1="961.20" x2="94.50" y2="965.60" stroke="#c8d8f0" stroke-width="0.35"/>
<line x1="96.30" y1="961.20" x2="96.30" y2="965.60" stroke="#c8d8f0" stroke-width="0.35"/>
<line x1="98.10" y1="961.20" x2="98.10" y2="965.60" stroke="#c8d8f0" stroke-width="0.35"/>
<line x1="99.90" y1="961.20" x2="99.90" y2="965.60" stroke="#c8d8f0" stroke-width="0.35"/>
<line x1="101.70" y1="961.20" x2="101.70" y2="965.60" stroke="#c8d8f0" stroke-width="0.35"/>
<line x1="103.50" y1="961.20" x2="103.50" y2="965.60" stroke="#c8d8f0" stroke-width="0.35"/>
<line x1="105.30" y1="961.20" x2="105.30" y2="965.60" stroke="#c8d8f0" stroke-width="0.35"/>
<line x1="107.10" y1="961.20" x2="107.10" y2="965.60" stroke="#c8d8f0" stroke-width="0.35"/>
<line x1="108.90" y1="961.20" x2="108.90" y2="965.60" stroke="#c8d8f0" stroke-width="0.35"/>
<line x1="110.70" y1="961.20" x2="110.70" y2="965.60" stroke="#c8d8f0" stroke-width="0.35"/>
<line x1="112.50" y1="961.20" x2="112.50" y2="965.60" stroke="#c8d8f0" stroke-width="0.35"/>
<line x1="114.30" y1="961.20" x2="114.30" y2="965.60" stroke="#c8d8f0" stroke-width="0.35"/>
<line x1="116.10" y1="961.20" x2="116.10" y2="965.60" stroke="#c8d8f0" stroke-width="0.35"/>
<line x1="117.90" y1="961.20" x2="117.90" y2="965.60" stroke="#c8d8f0" stroke-width="0.35"/>
<line x1="119.70" y1="961.20" x2="119.70" y2="965.60" stroke="#c8d8f0" stroke-width="0.35"/>
<line x1="121.50" y1="961.20" x2="121.50" y2="965.60" stroke="#c8d8f0" stroke-width="0.35"/>
<line x1="123.30" y1="961.20" x2="123.30" y2="965.60" stroke="#c8d8f0" stroke-width="0.35"/>
<line x1="125.10" y1="961.20" x2="125.10" y2="965.60" stroke="#c8d8f0" stroke-width="0.35"/>
<line x1="126.90" y1="961.20" x2="126.90" y2="965.60" stroke="#c8d8f0" stroke-width="0.35"/>
<line x1="128.70" y1="961.20" x2="128.70" y2="965.60" stroke="#c8d8f0" stroke-width="0.35"/>
<text x="151.00" y="844.50" font-size="11.5" text-anchor="start" font-weight="bold" fill="#000">v</text>
<text x="216.60" y="856.90" font-size="10" text-anchor="middle" fill="#222" stroke="#222" stroke-width="0.2">MDT</text>
<rect x="156.4" y="860.8" width="127.3" height="93" fill="#701a85"/>
<rect x="156.4" y="860.8" width="127.3" height="93" fill="#000" filter="url(#purp)"/>
<rect x="156.4" y="860.8" width="127.3" height="93" fill="#000" filter="url(#vspot)"/>
<ellipse cx="174" cy="920" rx="5" ry="3" fill="#e040f0" opacity="0.7" filter="url(#blur1)"/>
<ellipse cx="182" cy="934" rx="6" ry="4" fill="#e040f0" opacity="0.7" filter="url(#blur1)"/>
<ellipse cx="166" cy="928" rx="3" ry="2" fill="#e040f0" opacity="0.7" filter="url(#blur1)"/>
<ellipse cx="190" cy="941" rx="3" ry="2.5" fill="#e040f0" opacity="0.7" filter="url(#blur1)"/>
<ellipse cx="225" cy="900" rx="4" ry="3" fill="#e040f0" opacity="0.7" filter="url(#blur1)"/>
<ellipse cx="240" cy="915" rx="3" ry="2" fill="#e040f0" opacity="0.7" filter="url(#blur1)"/>
<rect x="156.4" y="860.8" width="127.3" height="93" fill="none" stroke="#e0407a" stroke-width="1.1"/>
<path d="M157.1,921.0 160.0,910.0 168.5,890.7 176.0,877.0 185.5,866.0 200.0,866.5 215.9,868.0 235.0,868.5 253.9,868.0 265.0,864.0 274.7,860.4 278.5,868.0 278.8,880.0 276.6,898.3 272.0,910.0 265.2,921.0 250.0,933.0 234.9,943.9 220.0,949.0 204.5,953.3" fill="none" stroke="#fff" stroke-width="1.3" stroke-dasharray="4 2 1 2"/>
<path d="M200.5,876.0 203.5,869.8 217.8,869.8 231.1,930.6 202.6,938.2 200.0,887.0 200.5,876.0" fill="none" stroke="#fff" stroke-width="1.3" stroke-dasharray="2.6 1.6"/>
<line x1="159.90" y1="949.60" x2="176.20" y2="949.60" stroke="#ddd" stroke-width="0.9"/>
<line x1="287.00" y1="910.60" x2="301.00" y2="910.60" stroke="#b535c8" stroke-width="1.0"/>
<path d="M303.7,910.6 L299.5,908.2 L299.5,913 Z" fill="#b535c8"/>
<text x="348.00" y="857.70" font-size="10" text-anchor="middle" fill="#222" stroke="#222" stroke-width="0.2">dmPFC</text>
<rect x="314.5" y="861.5" width="70.3" height="93.2" fill="#050005"/>
<rect x="314.5" y="861.5" width="70.3" height="93.2" fill="#000" filter="url(#pfc)"/>
<clipPath id="pfcclip"><ellipse cx="355" cy="905" rx="26" ry="30"/></clipPath>
<rect x="314.5" y="861.5" width="70.3" height="93.2" fill="#000" filter="url(#pfc2)" clip-path="url(#pfcclip)"/>
<rect x="314.5" y="861.5" width="70.3" height="93.2" fill="none" stroke="#d8336e" stroke-width="1.1"/>
<path d="M340,922 L350,923.5" stroke="#d040e0" stroke-width="1.4" fill="none"/>
<path d="M318,867 L334,868.5" stroke="#a030b0" stroke-width="0.8" fill="none"/>
<path d="M375.5,865 L376.4,949.1 L340.4,949.1 L322,903.6 L326.4,896.6 Z" fill="none" stroke="#eee" stroke-width="1.3" stroke-dasharray="4 2 1 2"/>
<line x1="316.80" y1="950.50" x2="332.60" y2="950.50" stroke="#ccc" stroke-width="0.9"/>
<text x="400.60" y="844.50" font-size="11.5" text-anchor="start" font-weight="bold" fill="#000">w</text>
<line x1="430.90" y1="853.20" x2="430.90" y2="933.10" stroke="#333" stroke-width="0.8"/>
<line x1="428.90" y1="933.10" x2="432.90" y2="933.10" stroke="#333" stroke-width="0.8"/>
<line x1="430.90" y1="940.50" x2="430.90" y2="946.00" stroke="#333" stroke-width="0.8"/>
<line x1="428.90" y1="940.50" x2="432.90" y2="940.50" stroke="#333" stroke-width="0.8"/>
<line x1="428.40" y1="853.20" x2="430.90" y2="853.20" stroke="#333" stroke-width="0.8"/>
<text x="428.10" y="856.20" font-size="8.5" text-anchor="end" fill="#222" stroke="#222" stroke-width="0.2">2</text>
<line x1="428.40" y1="877.10" x2="430.90" y2="877.10" stroke="#333" stroke-width="0.8"/>
<text x="428.10" y="880.10" font-size="8.5" text-anchor="end" fill="#222" stroke="#222" stroke-width="0.2">1.5</text>
<line x1="428.40" y1="896.70" x2="430.90" y2="896.70" stroke="#333" stroke-width="0.8"/>
<text x="428.10" y="899.70" font-size="8.5" text-anchor="end" fill="#222" stroke="#222" stroke-width="0.2">1</text>
<line x1="428.40" y1="921.20" x2="430.90" y2="921.20" stroke="#333" stroke-width="0.8"/>
<text x="428.10" y="924.20" font-size="8.5" text-anchor="end" fill="#222" stroke="#222" stroke-width="0.2">0.5</text>
<line x1="428.40" y1="946.00" x2="430.90" y2="946.00" stroke="#333" stroke-width="0.8"/>
<text x="428.10" y="949.00" font-size="8.5" text-anchor="end" fill="#222" stroke="#222" stroke-width="0.2">0</text>
<line x1="430.90" y1="946.00" x2="472.30" y2="946.00" stroke="#333" stroke-width="0.8"/>
<line x1="430.90" y1="946.00" x2="430.90" y2="949.00" stroke="#333" stroke-width="0.8"/>
<text x="430.90" y="956.70" font-size="8.5" text-anchor="middle" fill="#222" stroke="#222" stroke-width="0.2">-15</text>
<line x1="444.80" y1="946.00" x2="444.80" y2="949.00" stroke="#333" stroke-width="0.8"/>
<text x="444.80" y="956.70" font-size="8.5" text-anchor="middle" fill="#222" stroke="#222" stroke-width="0.2">-10</text>
<line x1="458.60" y1="946.00" x2="458.60" y2="949.00" stroke="#333" stroke-width="0.8"/>
<text x="458.60" y="956.70" font-size="8.5" text-anchor="middle" fill="#222" stroke="#222" stroke-width="0.2">-5</text>
<line x1="472.30" y1="946.00" x2="472.30" y2="949.00" stroke="#333" stroke-width="0.8"/>
<text x="472.30" y="956.70" font-size="8.5" text-anchor="middle" fill="#222" stroke="#222" stroke-width="0.2">0</text>
<line x1="483.50" y1="946.00" x2="565.40" y2="946.00" stroke="#333" stroke-width="0.8"/>
<line x1="483.50" y1="943.00" x2="483.50" y2="949.00" stroke="#333" stroke-width="0.8"/>
<text x="483.50" y="956.70" font-size="8.5" text-anchor="middle" fill="#222" stroke="#222" stroke-width="0.2">0</text>
<line x1="513.90" y1="943.00" x2="513.90" y2="949.00" stroke="#333" stroke-width="0.8"/>
<text x="513.90" y="956.70" font-size="8.5" text-anchor="middle" fill="#222" stroke="#222" stroke-width="0.2">20</text>
<line x1="544.30" y1="943.00" x2="544.30" y2="949.00" stroke="#333" stroke-width="0.8"/>
<text x="544.30" y="956.70" font-size="8.5" text-anchor="middle" fill="#222" stroke="#222" stroke-width="0.2">40</text>
<line x1="483.50" y1="943.00" x2="483.50" y2="949.00" stroke="#333" stroke-width="0.8"/>
<line x1="431" y1="896.7" x2="564.4" y2="896.7" stroke="#111" stroke-width="1.4" stroke-dasharray="1.4 1.4"/>
<line x1="435.40" y1="892.80" x2="435.40" y2="897.80" stroke="#dc6c74" stroke-width="0.7"/>
<circle cx="435.4" cy="895.3" r="2.40" fill="#dc6c74"/>
<line x1="440.40" y1="894.20" x2="440.40" y2="899.20" stroke="#dc6c74" stroke-width="0.7"/>
<circle cx="440.4" cy="896.7" r="2.40" fill="#dc6c74"/>
<line x1="444.80" y1="894.90" x2="444.80" y2="899.90" stroke="#dc6c74" stroke-width="0.7"/>
<circle cx="444.8" cy="897.4" r="2.40" fill="#dc6c74"/>
<line x1="449.40" y1="886.10" x2="449.40" y2="891.10" stroke="#dc6c74" stroke-width="0.7"/>
<circle cx="449.4" cy="888.6" r="2.40" fill="#dc6c74"/>
<line x1="453.90" y1="892.80" x2="453.90" y2="897.80" stroke="#dc6c74" stroke-width="0.7"/>
<circle cx="453.9" cy="895.3" r="2.40" fill="#dc6c74"/>
<line x1="458.90" y1="890.80" x2="458.90" y2="895.80" stroke="#dc6c74" stroke-width="0.7"/>
<circle cx="458.9" cy="893.3" r="2.40" fill="#dc6c74"/>
<line x1="463.60" y1="889.50" x2="463.60" y2="894.50" stroke="#dc6c74" stroke-width="0.7"/>
<circle cx="463.6" cy="892.0" r="2.40" fill="#dc6c74"/>
<line x1="468.00" y1="900.30" x2="468.00" y2="905.30" stroke="#dc6c74" stroke-width="0.7"/>
<circle cx="468.0" cy="902.8" r="2.40" fill="#dc6c74"/>
<line x1="435.40" y1="894.80" x2="435.40" y2="900.80" stroke="#a5cfee" stroke-width="0.7"/>
<line x1="433.90" y1="900.80" x2="436.90" y2="900.80" stroke="#a5cfee" stroke-width="0.6"/>
<circle cx="435.4" cy="897.8" r="2.40" fill="#a5cfee"/>
<line x1="440.40" y1="898.00" x2="440.40" y2="904.00" stroke="#a5cfee" stroke-width="0.7"/>
<line x1="438.90" y1="904.00" x2="441.90" y2="904.00" stroke="#a5cfee" stroke-width="0.6"/>
<circle cx="440.4" cy="901.0" r="2.40" fill="#a5cfee"/>
<line x1="444.80" y1="892.00" x2="444.80" y2="898.00" stroke="#a5cfee" stroke-width="0.7"/>
<line x1="443.30" y1="898.00" x2="446.30" y2="898.00" stroke="#a5cfee" stroke-width="0.6"/>
<circle cx="444.8" cy="895.0" r="2.40" fill="#a5cfee"/>
<line x1="449.40" y1="891.00" x2="449.40" y2="897.00" stroke="#a5cfee" stroke-width="0.7"/>
<line x1="447.90" y1="897.00" x2="450.90" y2="897.00" stroke="#a5cfee" stroke-width="0.6"/>
<circle cx="449.4" cy="894.0" r="2.40" fill="#a5cfee"/>
<line x1="453.90" y1="893.70" x2="453.90" y2="899.70" stroke="#a5cfee" stroke-width="0.7"/>
<line x1="452.40" y1="899.70" x2="455.40" y2="899.70" stroke="#a5cfee" stroke-width="0.6"/>
<circle cx="453.9" cy="896.7" r="2.40" fill="#a5cfee"/>
<line x1="458.90" y1="894.40" x2="458.90" y2="900.40" stroke="#a5cfee" stroke-width="0.7"/>
<line x1="457.40" y1="900.40" x2="460.40" y2="900.40" stroke="#a5cfee" stroke-width="0.6"/>
<circle cx="458.9" cy="897.4" r="2.40" fill="#a5cfee"/>
<line x1="463.60" y1="891.70" x2="463.60" y2="897.70" stroke="#a5cfee" stroke-width="0.7"/>
<line x1="462.10" y1="897.70" x2="465.10" y2="897.70" stroke="#a5cfee" stroke-width="0.6"/>
<circle cx="463.6" cy="894.7" r="2.40" fill="#a5cfee"/>
<line x1="468.00" y1="895.30" x2="468.00" y2="901.30" stroke="#a5cfee" stroke-width="0.7"/>
<line x1="466.50" y1="901.30" x2="469.50" y2="901.30" stroke="#a5cfee" stroke-width="0.6"/>
<circle cx="468.0" cy="898.3" r="2.40" fill="#a5cfee"/>
<line x1="485.02" y1="869.78" x2="485.02" y2="876.78" stroke="#a5cfee" stroke-width="0.7"/>
<line x1="483.52" y1="869.78" x2="486.52" y2="869.78" stroke="#a5cfee" stroke-width="0.6"/>
<line x1="483.52" y1="876.78" x2="486.52" y2="876.78" stroke="#a5cfee" stroke-width="0.6"/>
<circle cx="485.0" cy="873.3" r="2.40" fill="#a5cfee"/>
<line x1="485.02" y1="883.33" x2="485.02" y2="888.33" stroke="#dc6c74" stroke-width="0.7"/>
<circle cx="485.0" cy="885.8" r="2.40" fill="#dc6c74"/>
<line x1="487.00" y1="864.06" x2="487.00" y2="871.06" stroke="#a5cfee" stroke-width="0.7"/>
<line x1="485.50" y1="864.06" x2="488.50" y2="864.06" stroke="#a5cfee" stroke-width="0.6"/>
<line x1="485.50" y1="871.06" x2="488.50" y2="871.06" stroke="#a5cfee" stroke-width="0.6"/>
<circle cx="487.0" cy="867.6" r="2.40" fill="#a5cfee"/>
<line x1="487.00" y1="885.76" x2="487.00" y2="890.76" stroke="#dc6c74" stroke-width="0.7"/>
<circle cx="487.0" cy="888.3" r="2.40" fill="#dc6c74"/>
<line x1="488.97" y1="867.18" x2="488.97" y2="874.18" stroke="#a5cfee" stroke-width="0.7"/>
<line x1="487.47" y1="867.18" x2="490.47" y2="867.18" stroke="#a5cfee" stroke-width="0.6"/>
<line x1="487.47" y1="874.18" x2="490.47" y2="874.18" stroke="#a5cfee" stroke-width="0.6"/>
<circle cx="489.0" cy="870.7" r="2.40" fill="#a5cfee"/>
<line x1="488.97" y1="884.54" x2="488.97" y2="889.54" stroke="#dc6c74" stroke-width="0.7"/>
<circle cx="489.0" cy="887.0" r="2.40" fill="#dc6c74"/>
<line x1="490.95" y1="863.47" x2="490.95" y2="870.47" stroke="#a5cfee" stroke-width="0.7"/>
<line x1="489.45" y1="863.47" x2="492.45" y2="863.47" stroke="#a5cfee" stroke-width="0.6"/>
<line x1="489.45" y1="870.47" x2="492.45" y2="870.47" stroke="#a5cfee" stroke-width="0.6"/>
<circle cx="490.9" cy="867.0" r="2.40" fill="#a5cfee"/>
<line x1="490.95" y1="884.80" x2="490.95" y2="889.80" stroke="#dc6c74" stroke-width="0.7"/>
<circle cx="490.9" cy="887.3" r="2.40" fill="#dc6c74"/>
<line x1="492.92" y1="867.56" x2="492.92" y2="874.56" stroke="#a5cfee" stroke-width="0.7"/>
<line x1="491.42" y1="867.56" x2="494.42" y2="867.56" stroke="#a5cfee" stroke-width="0.6"/>
<line x1="491.42" y1="874.56" x2="494.42" y2="874.56" stroke="#a5cfee" stroke-width="0.6"/>
<circle cx="492.9" cy="871.1" r="2.40" fill="#a5cfee"/>
<line x1="492.92" y1="886.71" x2="492.92" y2="891.71" stroke="#dc6c74" stroke-width="0.7"/>
<circle cx="492.9" cy="889.2" r="2.40" fill="#dc6c74"/>
<line x1="494.90" y1="865.99" x2="494.90" y2="872.99" stroke="#a5cfee" stroke-width="0.7"/>
<line x1="493.40" y1="865.99" x2="496.40" y2="865.99" stroke="#a5cfee" stroke-width="0.6"/>
<line x1="493.40" y1="872.99" x2="496.40" y2="872.99" stroke="#a5cfee" stroke-width="0.6"/>
<circle cx="494.9" cy="869.5" r="2.40" fill="#a5cfee"/>
<line x1="494.90" y1="880.09" x2="494.90" y2="885.09" stroke="#dc6c74" stroke-width="0.7"/>
<circle cx="494.9" cy="882.6" r="2.40" fill="#dc6c74"/>
<line x1="496.88" y1="865.92" x2="496.88" y2="872.92" stroke="#a5cfee" stroke-width="0.7"/>
<line x1="495.38" y1="865.92" x2="498.38" y2="865.92" stroke="#a5cfee" stroke-width="0.6"/>
<line x1="495.38" y1="872.92" x2="498.38" y2="872.92" stroke="#a5cfee" stroke-width="0.6"/>
<circle cx="496.9" cy="869.4" r="2.40" fill="#a5cfee"/>
<line x1="496.88" y1="886.81" x2="496.88" y2="891.81" stroke="#dc6c74" stroke-width="0.7"/>
<circle cx="496.9" cy="889.3" r="2.40" fill="#dc6c74"/>
<line x1="498.85" y1="866.23" x2="498.85" y2="873.23" stroke="#a5cfee" stroke-width="0.7"/>
<line x1="497.35" y1="866.23" x2="500.35" y2="866.23" stroke="#a5cfee" stroke-width="0.6"/>
<line x1="497.35" y1="873.23" x2="500.35" y2="873.23" stroke="#a5cfee" stroke-width="0.6"/>
<circle cx="498.9" cy="869.7" r="2.40" fill="#a5cfee"/>
<line x1="498.85" y1="886.42" x2="498.85" y2="891.42" stroke="#dc6c74" stroke-width="0.7"/>
<circle cx="498.9" cy="888.9" r="2.40" fill="#dc6c74"/>
<line x1="500.83" y1="866.96" x2="500.83" y2="873.96" stroke="#a5cfee" stroke-width="0.7"/>
<line x1="499.33" y1="866.96" x2="502.33" y2="866.96" stroke="#a5cfee" stroke-width="0.6"/>
<line x1="499.33" y1="873.96" x2="502.33" y2="873.96" stroke="#a5cfee" stroke-width="0.6"/>
<circle cx="500.8" cy="870.5" r="2.40" fill="#a5cfee"/>
<line x1="500.83" y1="886.97" x2="500.83" y2="891.97" stroke="#dc6c74" stroke-width="0.7"/>
<circle cx="500.8" cy="889.5" r="2.40" fill="#dc6c74"/>
<line x1="502.80" y1="865.53" x2="502.80" y2="872.53" stroke="#a5cfee" stroke-width="0.7"/>
<line x1="501.30" y1="865.53" x2="504.30" y2="865.53" stroke="#a5cfee" stroke-width="0.6"/>
<line x1="501.30" y1="872.53" x2="504.30" y2="872.53" stroke="#a5cfee" stroke-width="0.6"/>
<circle cx="502.8" cy="869.0" r="2.40" fill="#a5cfee"/>
<line x1="502.80" y1="885.09" x2="502.80" y2="890.09" stroke="#dc6c74" stroke-width="0.7"/>
<circle cx="502.8" cy="887.6" r="2.40" fill="#dc6c74"/>
<line x1="504.78" y1="865.99" x2="504.78" y2="872.99" stroke="#a5cfee" stroke-width="0.7"/>
<line x1="503.28" y1="865.99" x2="506.28" y2="865.99" stroke="#a5cfee" stroke-width="0.6"/>
<line x1="503.28" y1="872.99" x2="506.28" y2="872.99" stroke="#a5cfee" stroke-width="0.6"/>
<circle cx="504.8" cy="869.5" r="2.40" fill="#a5cfee"/>
<line x1="504.78" y1="886.32" x2="504.78" y2="891.32" stroke="#dc6c74" stroke-width="0.7"/>
<circle cx="504.8" cy="888.8" r="2.40" fill="#dc6c74"/>
<line x1="506.76" y1="867.35" x2="506.76" y2="874.35" stroke="#a5cfee" stroke-width="0.7"/>
<line x1="505.26" y1="867.35" x2="508.26" y2="867.35" stroke="#a5cfee" stroke-width="0.6"/>
<line x1="505.26" y1="874.35" x2="508.26" y2="874.35" stroke="#a5cfee" stroke-width="0.6"/>
<circle cx="506.8" cy="870.9" r="2.40" fill="#a5cfee"/>
<line x1="506.76" y1="886.80" x2="506.76" y2="891.80" stroke="#dc6c74" stroke-width="0.7"/>
<circle cx="506.8" cy="889.3" r="2.40" fill="#dc6c74"/>
<line x1="508.73" y1="865.68" x2="508.73" y2="872.68" stroke="#a5cfee" stroke-width="0.7"/>
<line x1="507.23" y1="865.68" x2="510.23" y2="865.68" stroke="#a5cfee" stroke-width="0.6"/>
<line x1="507.23" y1="872.68" x2="510.23" y2="872.68" stroke="#a5cfee" stroke-width="0.6"/>
<circle cx="508.7" cy="869.2" r="2.40" fill="#a5cfee"/>
<line x1="508.73" y1="889.00" x2="508.73" y2="894.00" stroke="#dc6c74" stroke-width="0.7"/>
<circle cx="508.7" cy="891.5" r="2.40" fill="#dc6c74"/>
<line x1="510.71" y1="865.94" x2="510.71" y2="872.94" stroke="#a5cfee" stroke-width="0.7"/>
<line x1="509.21" y1="865.94" x2="512.21" y2="865.94" stroke="#a5cfee" stroke-width="0.6"/>
<line x1="509.21" y1="872.94" x2="512.21" y2="872.94" stroke="#a5cfee" stroke-width="0.6"/>
<circle cx="510.7" cy="869.4" r="2.40" fill="#a5cfee"/>
<line x1="510.71" y1="887.39" x2="510.71" y2="892.39" stroke="#dc6c74" stroke-width="0.7"/>
<circle cx="510.7" cy="889.9" r="2.40" fill="#dc6c74"/>
<line x1="512.68" y1="866.36" x2="512.68" y2="873.36" stroke="#a5cfee" stroke-width="0.7"/>
<line x1="511.18" y1="866.36" x2="514.18" y2="866.36" stroke="#a5cfee" stroke-width="0.6"/>
<line x1="511.18" y1="873.36" x2="514.18" y2="873.36" stroke="#a5cfee" stroke-width="0.6"/>
<circle cx="512.7" cy="869.9" r="2.40" fill="#a5cfee"/>
<line x1="512.68" y1="887.55" x2="512.68" y2="892.55" stroke="#dc6c74" stroke-width="0.7"/>
<circle cx="512.7" cy="890.0" r="2.40" fill="#dc6c74"/>
<line x1="514.66" y1="863.77" x2="514.66" y2="870.77" stroke="#a5cfee" stroke-width="0.7"/>
<line x1="513.16" y1="863.77" x2="516.16" y2="863.77" stroke="#a5cfee" stroke-width="0.6"/>
<line x1="513.16" y1="870.77" x2="516.16" y2="870.77" stroke="#a5cfee" stroke-width="0.6"/>
<circle cx="514.7" cy="867.3" r="2.40" fill="#a5cfee"/>
<line x1="514.66" y1="887.07" x2="514.66" y2="892.07" stroke="#dc6c74" stroke-width="0.7"/>
<circle cx="514.7" cy="889.6" r="2.40" fill="#dc6c74"/>
<line x1="516.64" y1="863.63" x2="516.64" y2="870.63" stroke="#a5cfee" stroke-width="0.7"/>
<line x1="515.14" y1="863.63" x2="518.14" y2="863.63" stroke="#a5cfee" stroke-width="0.6"/>
<line x1="515.14" y1="870.63" x2="518.14" y2="870.63" stroke="#a5cfee" stroke-width="0.6"/>
<circle cx="516.6" cy="867.1" r="2.40" fill="#a5cfee"/>
<line x1="516.64" y1="891.29" x2="516.64" y2="896.29" stroke="#dc6c74" stroke-width="0.7"/>
<circle cx="516.6" cy="893.8" r="2.40" fill="#dc6c74"/>
<line x1="518.61" y1="865.42" x2="518.61" y2="872.42" stroke="#a5cfee" stroke-width="0.7"/>
<line x1="517.11" y1="865.42" x2="520.11" y2="865.42" stroke="#a5cfee" stroke-width="0.6"/>
<line x1="517.11" y1="872.42" x2="520.11" y2="872.42" stroke="#a5cfee" stroke-width="0.6"/>
<circle cx="518.6" cy="868.9" r="2.40" fill="#a5cfee"/>
<line x1="518.61" y1="890.82" x2="518.61" y2="895.82" stroke="#dc6c74" stroke-width="0.7"/>
<circle cx="518.6" cy="893.3" r="2.40" fill="#dc6c74"/>
<line x1="520.59" y1="864.57" x2="520.59" y2="871.57" stroke="#a5cfee" stroke-width="0.7"/>
<line x1="519.09" y1="864.57" x2="522.09" y2="864.57" stroke="#a5cfee" stroke-width="0.6"/>
<line x1="519.09" y1="871.57" x2="522.09" y2="871.57" stroke="#a5cfee" stroke-width="0.6"/>
<circle cx="520.6" cy="868.1" r="2.40" fill="#a5cfee"/>
<line x1="520.59" y1="890.13" x2="520.59" y2="895.13" stroke="#dc6c74" stroke-width="0.7"/>
<circle cx="520.6" cy="892.6" r="2.40" fill="#dc6c74"/>
<line x1="522.56" y1="865.59" x2="522.56" y2="872.59" stroke="#a5cfee" stroke-width="0.7"/>
<line x1="521.06" y1="865.59" x2="524.06" y2="865.59" stroke="#a5cfee" stroke-width="0.6"/>
<line x1="521.06" y1="872.59" x2="524.06" y2="872.59" stroke="#a5cfee" stroke-width="0.6"/>
<circle cx="522.6" cy="869.1" r="2.40" fill="#a5cfee"/>
<line x1="522.56" y1="889.94" x2="522.56" y2="894.94" stroke="#dc6c74" stroke-width="0.7"/>
<circle cx="522.6" cy="892.4" r="2.40" fill="#dc6c74"/>
<line x1="524.54" y1="866.74" x2="524.54" y2="873.74" stroke="#a5cfee" stroke-width="0.7"/>
<line x1="523.04" y1="866.74" x2="526.04" y2="866.74" stroke="#a5cfee" stroke-width="0.6"/>
<line x1="523.04" y1="873.74" x2="526.04" y2="873.74" stroke="#a5cfee" stroke-width="0.6"/>
<circle cx="524.5" cy="870.2" r="2.40" fill="#a5cfee"/>
<line x1="524.54" y1="890.76" x2="524.54" y2="895.76" stroke="#dc6c74" stroke-width="0.7"/>
<circle cx="524.5" cy="893.3" r="2.40" fill="#dc6c74"/>
<line x1="526.52" y1="866.92" x2="526.52" y2="873.92" stroke="#a5cfee" stroke-width="0.7"/>
<line x1="525.02" y1="866.92" x2="528.02" y2="866.92" stroke="#a5cfee" stroke-width="0.6"/>
<line x1="525.02" y1="873.92" x2="528.02" y2="873.92" stroke="#a5cfee" stroke-width="0.6"/>
<circle cx="526.5" cy="870.4" r="2.40" fill="#a5cfee"/>
<line x1="526.52" y1="888.41" x2="526.52" y2="893.41" stroke="#dc6c74" stroke-width="0.7"/>
<circle cx="526.5" cy="890.9" r="2.40" fill="#dc6c74"/>
<line x1="528.49" y1="866.54" x2="528.49" y2="873.54" stroke="#a5cfee" stroke-width="0.7"/>
<line x1="526.99" y1="866.54" x2="529.99" y2="866.54" stroke="#a5cfee" stroke-width="0.6"/>
<line x1="526.99" y1="873.54" x2="529.99" y2="873.54" stroke="#a5cfee" stroke-width="0.6"/>
<circle cx="528.5" cy="870.0" r="2.40" fill="#a5cfee"/>
<line x1="528.49" y1="891.52" x2="528.49" y2="896.52" stroke="#dc6c74" stroke-width="0.7"/>
<circle cx="528.5" cy="894.0" r="2.40" fill="#dc6c74"/>
<line x1="530.47" y1="868.38" x2="530.47" y2="875.38" stroke="#a5cfee" stroke-width="0.7"/>
<line x1="528.97" y1="868.38" x2="531.97" y2="868.38" stroke="#a5cfee" stroke-width="0.6"/>
<line x1="528.97" y1="875.38" x2="531.97" y2="875.38" stroke="#a5cfee" stroke-width="0.6"/>
<circle cx="530.5" cy="871.9" r="2.40" fill="#a5cfee"/>
<line x1="530.47" y1="893.85" x2="530.47" y2="898.85" stroke="#dc6c74" stroke-width="0.7"/>
<circle cx="530.5" cy="896.4" r="2.40" fill="#dc6c74"/>
<line x1="532.44" y1="867.08" x2="532.44" y2="874.08" stroke="#a5cfee" stroke-width="0.7"/>
<line x1="530.94" y1="867.08" x2="533.94" y2="867.08" stroke="#a5cfee" stroke-width="0.6"/>
<line x1="530.94" y1="874.08" x2="533.94" y2="874.08" stroke="#a5cfee" stroke-width="0.6"/>
<circle cx="532.4" cy="870.6" r="2.40" fill="#a5cfee"/>
<line x1="532.44" y1="891.12" x2="532.44" y2="896.12" stroke="#dc6c74" stroke-width="0.7"/>
<circle cx="532.4" cy="893.6" r="2.40" fill="#dc6c74"/>
<line x1="534.42" y1="864.82" x2="534.42" y2="871.82" stroke="#a5cfee" stroke-width="0.7"/>
<line x1="532.92" y1="864.82" x2="535.92" y2="864.82" stroke="#a5cfee" stroke-width="0.6"/>
<line x1="532.92" y1="871.82" x2="535.92" y2="871.82" stroke="#a5cfee" stroke-width="0.6"/>
<circle cx="534.4" cy="868.3" r="2.40" fill="#a5cfee"/>
<line x1="534.42" y1="892.14" x2="534.42" y2="897.14" stroke="#dc6c74" stroke-width="0.7"/>
<circle cx="534.4" cy="894.6" r="2.40" fill="#dc6c74"/>
<line x1="536.40" y1="866.80" x2="536.40" y2="873.80" stroke="#a5cfee" stroke-width="0.7"/>
<line x1="534.90" y1="866.80" x2="537.90" y2="866.80" stroke="#a5cfee" stroke-width="0.6"/>
<line x1="534.90" y1="873.80" x2="537.90" y2="873.80" stroke="#a5cfee" stroke-width="0.6"/>
<circle cx="536.4" cy="870.3" r="2.40" fill="#a5cfee"/>
<line x1="536.40" y1="890.35" x2="536.40" y2="895.35" stroke="#dc6c74" stroke-width="0.7"/>
<circle cx="536.4" cy="892.9" r="2.40" fill="#dc6c74"/>
<line x1="538.37" y1="867.34" x2="538.37" y2="874.34" stroke="#a5cfee" stroke-width="0.7"/>
<line x1="536.87" y1="867.34" x2="539.87" y2="867.34" stroke="#a5cfee" stroke-width="0.6"/>
<line x1="536.87" y1="874.34" x2="539.87" y2="874.34" stroke="#a5cfee" stroke-width="0.6"/>
<circle cx="538.4" cy="870.8" r="2.40" fill="#a5cfee"/>
<line x1="538.37" y1="894.35" x2="538.37" y2="899.35" stroke="#dc6c74" stroke-width="0.7"/>
<circle cx="538.4" cy="896.9" r="2.40" fill="#dc6c74"/>
<line x1="540.35" y1="865.22" x2="540.35" y2="872.22" stroke="#a5cfee" stroke-width="0.7"/>
<line x1="538.85" y1="865.22" x2="541.85" y2="865.22" stroke="#a5cfee" stroke-width="0.6"/>
<line x1="538.85" y1="872.22" x2="541.85" y2="872.22" stroke="#a5cfee" stroke-width="0.6"/>
<circle cx="540.3" cy="868.7" r="2.40" fill="#a5cfee"/>
<line x1="540.35" y1="895.00" x2="540.35" y2="900.00" stroke="#dc6c74" stroke-width="0.7"/>
<circle cx="540.3" cy="897.5" r="2.40" fill="#dc6c74"/>
<line x1="542.32" y1="865.53" x2="542.32" y2="872.53" stroke="#a5cfee" stroke-width="0.7"/>
<line x1="540.82" y1="865.53" x2="543.82" y2="865.53" stroke="#a5cfee" stroke-width="0.6"/>
<line x1="540.82" y1="872.53" x2="543.82" y2="872.53" stroke="#a5cfee" stroke-width="0.6"/>
<circle cx="542.3" cy="869.0" r="2.40" fill="#a5cfee"/>
<line x1="542.32" y1="892.52" x2="542.32" y2="897.52" stroke="#dc6c74" stroke-width="0.7"/>
<circle cx="542.3" cy="895.0" r="2.40" fill="#dc6c74"/>
<line x1="544.30" y1="866.00" x2="544.30" y2="873.00" stroke="#a5cfee" stroke-width="0.7"/>
<line x1="542.80" y1="866.00" x2="545.80" y2="866.00" stroke="#a5cfee" stroke-width="0.6"/>
<line x1="542.80" y1="873.00" x2="545.80" y2="873.00" stroke="#a5cfee" stroke-width="0.6"/>
<circle cx="544.3" cy="869.5" r="2.40" fill="#a5cfee"/>
<line x1="544.30" y1="893.60" x2="544.30" y2="898.60" stroke="#dc6c74" stroke-width="0.7"/>
<circle cx="544.3" cy="896.1" r="2.40" fill="#dc6c74"/>
<circle cx="449.5" cy="852.8" r="2.20" fill="#dc6c74"/>
<text x="460.60" y="855.80" font-size="8" text-anchor="start" fill="#222" stroke="#222" stroke-width="0.2">MP-28d</text>
<circle cx="494.6" cy="852.8" r="2.20" fill="#a5cfee"/>
<text x="505.40" y="855.80" font-size="8" text-anchor="start" fill="#222" stroke="#222" stroke-width="0.2">Sham-28d</text>
<text x="470.70" y="880.50" font-size="7.6" text-anchor="start" fill="#222" stroke="#222" stroke-width="0.2">Stimulus</text>
<line x1="477.20" y1="883.90" x2="477.20" y2="889.50" stroke="#111" stroke-width="0.8"/>
<path d="M475.2,887.6 L479.2,887.6 L477.2,891.3 Z" fill="#111"/>
<text x="496.70" y="967.80" font-size="8.5" text-anchor="middle" fill="#222" stroke="#222" stroke-width="0.2">Time (min)</text>
<text x="412.40" y="899.00" font-size="8.3" text-anchor="middle" fill="#222" stroke="#222" stroke-width="0.2" transform="rotate(-90 412.40 899.00)">fEPSP (normalized)</text>
<text x="566.50" y="845.00" font-size="11.5" text-anchor="start" font-weight="bold" fill="#000">x</text>
<rect x="610.40" y="875.62" width="16.30" height="70.88" fill="#a9cbe6" stroke="#333" stroke-width="0.8"/>
<rect x="635.30" y="898.38" width="16.00" height="48.12" fill="#cd6a72" stroke="#333" stroke-width="0.8"/>
<circle cx="612.5" cy="876.1" r="1.60" fill="#2f619c"/>
<circle cx="615.5" cy="875.2" r="1.60" fill="#2f619c"/>
<circle cx="618.5" cy="874.8" r="1.60" fill="#2f619c"/>
<circle cx="621.5" cy="874.8" r="1.60" fill="#2f619c"/>
<circle cx="624.5" cy="874.3" r="1.60" fill="#2f619c"/>
<circle cx="624.5" cy="876.5" r="1.60" fill="#2f619c"/>
<circle cx="625.5" cy="873.0" r="1.60" fill="#2f619c"/>
<circle cx="638.3" cy="898.4" r="1.60" fill="#d8475e"/>
<circle cx="641.3" cy="897.5" r="1.60" fill="#d8475e"/>
<circle cx="644.3" cy="897.5" r="1.60" fill="#d8475e"/>
<circle cx="647.3" cy="898.4" r="1.60" fill="#d8475e"/>
<circle cx="650.3" cy="897.5" r="1.60" fill="#d8475e"/>
<circle cx="643.3" cy="897.1" r="1.60" fill="#d8475e"/>
<line x1="601.20" y1="946.50" x2="601.20" y2="859.00" stroke="#333" stroke-width="0.8"/>
<line x1="598.70" y1="946.50" x2="601.20" y2="946.50" stroke="#333" stroke-width="0.8"/>
<text x="597.90" y="949.50" font-size="8.4" text-anchor="end" fill="#222" stroke="#222" stroke-width="0.2">0.0</text>
<line x1="598.70" y1="924.62" x2="601.20" y2="924.62" stroke="#333" stroke-width="0.8"/>
<text x="597.90" y="927.62" font-size="8.4" text-anchor="end" fill="#222" stroke="#222" stroke-width="0.2">0.5</text>
<line x1="598.70" y1="902.75" x2="601.20" y2="902.75" stroke="#333" stroke-width="0.8"/>
<text x="597.90" y="905.75" font-size="8.4" text-anchor="end" fill="#222" stroke="#222" stroke-width="0.2">1.0</text>
<line x1="598.70" y1="880.88" x2="601.20" y2="880.88" stroke="#333" stroke-width="0.8"/>
<text x="597.90" y="883.88" font-size="8.4" text-anchor="end" fill="#222" stroke="#222" stroke-width="0.2">1.5</text>
<line x1="598.70" y1="859.00" x2="601.20" y2="859.00" stroke="#333" stroke-width="0.8"/>
<text x="597.90" y="862.00" font-size="8.4" text-anchor="end" fill="#222" stroke="#222" stroke-width="0.2">2.0</text>
<line x1="601.20" y1="946.50" x2="660.50" y2="946.50" stroke="#333" stroke-width="0.8"/>
<line x1="618.50" y1="946.50" x2="618.50" y2="949.00" stroke="#333" stroke-width="0.8"/>
<line x1="643.30" y1="946.50" x2="643.30" y2="949.00" stroke="#333" stroke-width="0.8"/>
<line x1="618.20" y1="862.70" x2="643.10" y2="862.70" stroke="#222" stroke-width="0.8"/>
<text x="632.30" y="862.98" font-size="11.5" text-anchor="middle" fill="#222" stroke="#222" stroke-width="0.2">****</text>
<text x="614.70" y="957.90" font-size="7.6" text-anchor="middle" fill="#222" stroke="#222" stroke-width="0.2">Sham-28d</text>
<text x="649.90" y="957.90" font-size="7.6" text-anchor="middle" fill="#222" stroke="#222" stroke-width="0.2">MP-28d</text>
<text x="583.30" y="904.00" font-size="7.3" text-anchor="middle" fill="#222" stroke="#222" stroke-width="0.2" transform="rotate(-90 583.30 904.00)">fEPSP (normalized)</text>
<path d="M646.2,856.6 L655,856.6 Q658,857 660.5,863.7 Q663,852 667.6,848.4 Q670,849 673.8,855.5" stroke="#d23a3a" stroke-width="0.8" fill="none"/>
<path d="M655,856.6 Q658.5,858 661.2,867.8 Q664,850 668.6,845.3 Q671,846 674.3,852.5" stroke="#8fbfe6" stroke-width="0.8" fill="none"/>
<path d="M668.5,858.5 L668.5,864 L672,864" stroke="#222" stroke-width="0.5" fill="none"/>
<text x="662.00" y="863.50" font-size="2.5" text-anchor="start" fill="#222" stroke="#222" stroke-width="0.2">1mV</text>
<text x="670.00" y="866.50" font-size="2.5" text-anchor="start" fill="#222" stroke="#222" stroke-width="0.2">2ms</text>
</svg></body></html>
